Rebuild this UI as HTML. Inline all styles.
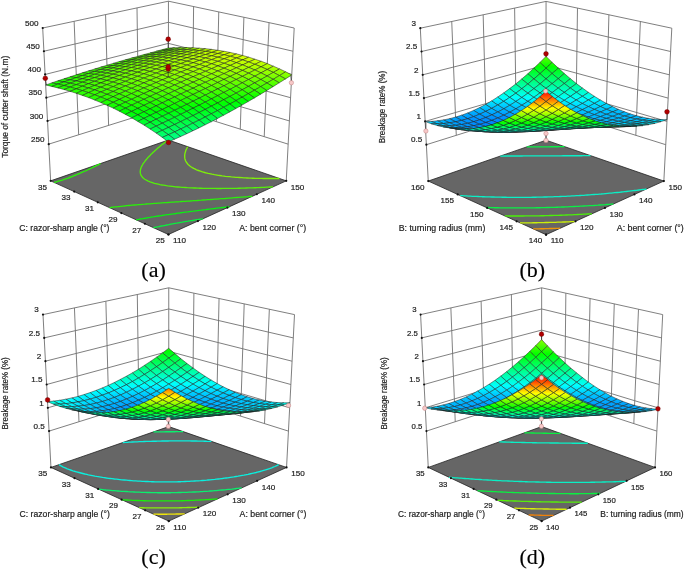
<!DOCTYPE html><html><head><meta charset="utf-8"><style>html,body{margin:0;padding:0;background:#fff;}svg{display:block;will-change:transform}</style></head><body>
<svg width="685" height="569" viewBox="0 0 685 569">
<rect width="685" height="569" fill="#fff"/>
<defs><linearGradient id="U" gradientUnits="userSpaceOnUse"/></defs>
<g>
<path d="M50.65 180.85L42.7 28M78.67 134.78L74.14 21.3M108.6 125.41L105.57 14.6M138.52 116.04L137.01 7.9M168.45 140L168.45 1.2M286.25 180.85L294.2 28M264.22 136.65L269.05 22.64M240.28 129.16L243.9 17.28M216.33 121.66L218.75 11.92M192.39 114.17L193.6 6.56M48.74 144.15L168.45 106.67L288.16 144.15M47.53 120.92L168.45 85.58L289.37 120.92M46.32 97.69L168.45 64.48L290.58 97.69M45.12 74.46L168.45 43.39L291.78 74.46M43.91 51.23L168.45 22.29L292.99 51.23M42.7 28L168.45 1.2L294.2 28" fill="none" stroke="#707070" stroke-width="0.9"/>
<path d="M168.45 234.5L286.25 180.85L168.45 140L50.65 180.85Z" fill="#666666" stroke="#222" stroke-width="0.8"/>
<path d="M153.4 227.7L154.8 227.4L157.4 226.8L158.8 226.6L161.5 226.0L162.9 225.8L165.3 225.3L167.0 225.0L168.7 224.7L171.1 224.2L172.5 223.9L175.3 223.4L176.7 223.2L178.6 222.8L180.9 222.4L182.3 222.2L185.0 221.7L186.6 221.4L188.1 221.2L190.9 220.7L192.4 220.5L194.3 220.1L196.7 219.7L198.2 219.5L200.3 219.1L202.6 218.8L203.2 218.7" stroke="#0aef3e" stroke-width="1.35" fill="none" stroke-linejoin="round"/>
<path d="M136.1 219.8L138.8 219.3L140.2 219.0L142.9 218.6L144.3 218.3L146.3 218.0L148.5 217.6L149.9 217.4L152.7 216.9L154.2 216.7L155.9 216.4L158.5 216.0L159.9 215.8L162.0 215.5L164.3 215.1L165.7 214.9L168.0 214.6L170.2 214.3L171.6 214.1L173.8 213.8L176.1 213.5L177.6 213.2L179.5 213.0L182.1 212.6L183.6 212.4L185.2 212.2L187.8 211.9L189.8 211.6L191.3 211.4L193.3 211.2L195.9 210.8L197.5 210.6L199.0 210.4L201.3 210.2L203.7 209.8L205.3 209.7L206.9 209.5L209.1 209.2L211.6 208.9L213.2 208.7L214.8 208.5L216.8 208.2L219.4 207.9L221.2 207.7L222.8 207.5L224.4 207.3L226.9 207.0L229.2 206.8L229.4 206.7" stroke="#0aef13" stroke-width="1.35" fill="none" stroke-linejoin="round"/>
<path d="M109.5 207.6L110.9 207.5L112.8 207.2L115.3 206.9L116.8 206.8L118.6 206.6L121.3 206.3L122.8 206.1L124.4 206.0L126.8 205.7L129.0 205.5L130.6 205.4L132.1 205.2L134.7 205.0L136.9 204.8L138.5 204.7L140.1 204.6L142.4 204.4L144.9 204.2L146.5 204.0L148.2 203.9L149.8 203.8L152.2 203.6L154.7 203.4L156.4 203.3L158.0 203.2L159.7 203.1L161.9 202.9L164.3 202.7L166.4 202.6L168.1 202.5L169.8 202.4L171.4 202.2L173.7 202.1L176.0 201.9L178.2 201.8L179.9 201.7L181.6 201.5L183.4 201.4L185.2 201.3L187.5 201.1L189.8 201.0L191.9 200.8L193.7 200.7L195.4 200.6L197.1 200.5L198.9 200.3L201.2 200.2L203.4 200.0L205.7 199.9L207.5 199.7L209.3 199.6L211.0 199.5L212.8 199.4L214.7 199.2L216.9 199.1L219.1 198.9L221.4 198.7L223.3 198.6L225.0 198.5L226.8 198.3L228.6 198.2L230.3 198.1L232.5 197.9L234.7 197.7L236.9 197.5L239.1 197.4L240.9 197.2L242.7 197.1L244.4 196.9L246.2 196.8L248.0 196.7L250.1 196.5L252.3 196.3M100.6 163.5L99.1 164.3L97.5 165.1L95.9 165.9L95.0 166.4L93.3 167.2L91.7 168.0L90.5 168.5L89.2 169.2L87.5 170.0L85.7 170.8L84.0 171.5L83.1 171.9L81.4 172.7L79.6 173.5L77.8 174.2L76.0 175.0L74.2 175.7L73.2 176.1L71.4 176.8L69.5 177.5L67.5 178.3L65.6 178.9L63.6 179.6L61.6 180.3L59.5 180.9L58.4 181.2L56.3 181.9L54.2 182.5" stroke="#2aef0a" stroke-width="1.35" fill="none" stroke-linejoin="round"/>
<path d="M167.5 140.3L166.9 140.8L165.9 141.6L165.1 142.2L164.4 142.8L163.3 143.7L162.7 144.1L161.5 145.1L160.9 145.6L159.9 146.4L159.1 147.1L158.4 147.6L157.4 148.5L156.8 149.0L155.7 150.0L155.1 150.5L154.4 151.2L153.5 152.0L152.9 152.6L152.0 153.5L151.3 154.1L150.8 154.6L149.8 155.7L149.2 156.2L148.7 156.8L147.7 157.8L147.3 158.4L146.7 159.0L145.9 160.0L145.4 160.6L145.0 161.1L144.3 162.1L143.7 162.9L143.3 163.4L142.9 164.0L142.4 165.0L141.9 165.9L141.6 166.5L141.3 167.1L141.0 167.8L140.8 168.6L140.5 169.4L140.4 170.2L140.3 171.0L140.2 171.8L140.3 172.5L140.4 173.2L140.5 173.9L140.8 174.6L141.1 175.4L141.8 176.4L142.3 177.1L142.9 177.7L144.1 178.7L144.8 179.2L146.4 180.2L148.2 181.1L150.1 181.9L152.3 182.6L154.5 183.3L155.7 183.6L158.2 184.2L159.9 184.6L162.2 185.0L163.6 185.2L166.4 185.7L167.8 185.9L169.6 186.1L172.3 186.4L173.9 186.6L175.4 186.8L177.7 187.0L180.2 187.2L181.9 187.3L183.5 187.4L185.2 187.5L187.4 187.7L189.8 187.8L192.0 187.9L193.7 188.0L195.4 188.0L197.2 188.1L198.9 188.2L201.0 188.2L203.2 188.3L205.4 188.3L207.5 188.4L209.6 188.4L211.5 188.4L213.4 188.4L215.2 188.4L217.1 188.5L218.9 188.5L220.8 188.5L222.6 188.4L224.5 188.4L226.4 188.4L228.4 188.4L230.4 188.4L232.4 188.3L234.5 188.3L236.5 188.3L238.5 188.2L240.5 188.2L242.5 188.1L244.5 188.1L246.5 188.0L248.5 187.9L250.5 187.9L252.4 187.8L254.4 187.7L256.4 187.7L258.4 187.6L260.3 187.5L262.3 187.4L264.3 187.3L266.2 187.2L268.2 187.1L270.1 187.0L272.1 186.9L273.0 186.9" stroke="#55ef0a" stroke-width="1.35" fill="none" stroke-linejoin="round"/>
<path d="M187.7 146.7L187.4 147.3L187.0 147.9L186.6 148.8L186.2 149.6L185.9 150.3L185.7 150.9L185.5 151.5L185.3 152.2L185.1 152.9L184.9 153.6L184.8 154.4L184.7 155.1L184.7 155.9L184.7 156.6L184.7 157.3L184.8 158.0L184.9 158.7L185.1 159.4L185.3 160.1L185.7 161.0L186.2 161.9L186.5 162.5L187.0 163.0L187.7 164.0L188.4 164.7L189.0 165.2L190.2 166.2L190.9 166.7L192.3 167.6L193.7 168.4L194.8 168.9L196.5 169.8L198.4 170.5L200.4 171.2L202.5 171.9L204.7 172.5L205.8 172.8L208.2 173.4L210.6 173.9L211.9 174.2L214.4 174.7L215.7 174.9L218.4 175.3L219.8 175.5L222.1 175.9L224.0 176.1L225.4 176.3L228.3 176.6L229.8 176.7L231.3 176.9L234.0 177.1L235.8 177.3L237.4 177.4L239.4 177.5L242.0 177.7L243.7 177.8L245.3 177.9L247.1 178.0L249.6 178.1L251.8 178.2L253.5 178.2L255.1 178.3L256.8 178.3L259.1 178.4L261.5 178.4L263.6 178.5L265.3 178.5L267.0 178.5L268.8 178.5L270.6 178.5L272.8 178.5L275.1 178.5L277.3 178.5L279.3 178.5L279.5 178.5" stroke="#7fef0a" stroke-width="1.35" fill="none" stroke-linejoin="round"/>
<g fill="#111"><circle cx="48.74" cy="144.15" r="1.1"/><circle cx="47.53" cy="120.92" r="1.1"/><circle cx="46.32" cy="97.69" r="1.1"/><circle cx="45.12" cy="74.46" r="1.1"/><circle cx="43.91" cy="51.23" r="1.1"/><circle cx="42.7" cy="28" r="1.1"/><circle cx="168.45" cy="234.5" r="1.1"/><circle cx="197.9" cy="221.09" r="1.1"/><circle cx="227.35" cy="207.68" r="1.1"/><circle cx="256.8" cy="194.26" r="1.1"/><circle cx="286.25" cy="180.85" r="1.1"/><circle cx="168.45" cy="234.5" r="1.1"/><circle cx="144.89" cy="223.77" r="1.1"/><circle cx="121.33" cy="213.04" r="1.1"/><circle cx="97.77" cy="202.31" r="1.1"/><circle cx="74.21" cy="191.58" r="1.1"/><circle cx="50.65" cy="180.85" r="1.1"/></g>
<defs><linearGradient id="g0" href="#U" x1="168.1" y1="48.1" x2="168.5" y2="49.4"><stop stop-color="#4dff00"/><stop offset="1" stop-color="#65ff00"/></linearGradient><linearGradient id="g1" href="#U" x1="161.9" y1="49.7" x2="162.3" y2="51.1"><stop stop-color="#4cff00"/><stop offset="1" stop-color="#64ff00"/></linearGradient><linearGradient id="g2" href="#U" x1="174.2" y1="47.8" x2="174.6" y2="49.4"><stop stop-color="#64ff00"/><stop offset="1" stop-color="#7aff00"/></linearGradient><linearGradient id="g3" href="#U" x1="155.7" y1="51.3" x2="156.2" y2="52.8"><stop stop-color="#4bff00"/><stop offset="1" stop-color="#63ff00"/></linearGradient><linearGradient id="g4" href="#U" x1="168.0" y1="49.4" x2="168.5" y2="51.1"><stop stop-color="#63ff00"/><stop offset="1" stop-color="#79ff00"/></linearGradient><linearGradient id="g5" href="#U" x1="180.3" y1="47.6" x2="180.8" y2="49.5"><stop stop-color="#79ff00"/><stop offset="1" stop-color="#8dff00"/></linearGradient><linearGradient id="g6" href="#U" x1="149.5" y1="53.0" x2="150.0" y2="54.6"><stop stop-color="#49ff00"/><stop offset="1" stop-color="#61ff00"/></linearGradient><linearGradient id="g7" href="#U" x1="161.8" y1="51.1" x2="162.3" y2="52.9"><stop stop-color="#61ff00"/><stop offset="1" stop-color="#77ff00"/></linearGradient><linearGradient id="g8" href="#U" x1="174.0" y1="49.3" x2="174.7" y2="51.3"><stop stop-color="#77ff00"/><stop offset="1" stop-color="#8cff00"/></linearGradient><linearGradient id="g9" href="#U" x1="186.3" y1="47.6" x2="187.0" y2="49.8"><stop stop-color="#8bff00"/><stop offset="1" stop-color="#9eff00"/></linearGradient><linearGradient id="g10" href="#U" x1="143.3" y1="54.6" x2="143.9" y2="56.4"><stop stop-color="#48ff00"/><stop offset="1" stop-color="#60ff00"/></linearGradient><linearGradient id="g11" href="#U" x1="155.5" y1="52.7" x2="156.2" y2="54.7"><stop stop-color="#60ff00"/><stop offset="1" stop-color="#75ff00"/></linearGradient><linearGradient id="g12" href="#U" x1="167.8" y1="51.0" x2="168.5" y2="53.2"><stop stop-color="#75ff00"/><stop offset="1" stop-color="#8aff00"/></linearGradient><linearGradient id="g13" href="#U" x1="180.0" y1="49.3" x2="180.9" y2="51.7"><stop stop-color="#8aff00"/><stop offset="1" stop-color="#9cff00"/></linearGradient><linearGradient id="g14" href="#U" x1="192.3" y1="47.7" x2="193.3" y2="50.4"><stop stop-color="#9cff00"/><stop offset="1" stop-color="#adff00"/></linearGradient><linearGradient id="g15" href="#U" x1="137.1" y1="56.3" x2="137.7" y2="58.2"><stop stop-color="#46ff00"/><stop offset="1" stop-color="#5dff00"/></linearGradient><linearGradient id="g16" href="#U" x1="149.3" y1="54.5" x2="150.0" y2="56.6"><stop stop-color="#5dff00"/><stop offset="1" stop-color="#73ff00"/></linearGradient><linearGradient id="g17" href="#U" x1="161.5" y1="52.7" x2="162.4" y2="55.1"><stop stop-color="#73ff00"/><stop offset="1" stop-color="#87ff00"/></linearGradient><linearGradient id="g18" href="#U" x1="173.8" y1="51.0" x2="174.8" y2="53.7"><stop stop-color="#87ff00"/><stop offset="1" stop-color="#99ff00"/></linearGradient><linearGradient id="g19" href="#U" x1="186.0" y1="49.4" x2="187.2" y2="52.4"><stop stop-color="#99ff00"/><stop offset="1" stop-color="#aaff00"/></linearGradient><linearGradient id="g20" href="#U" x1="198.1" y1="47.9" x2="199.6" y2="51.3"><stop stop-color="#aaff00"/><stop offset="1" stop-color="#b9ff00"/></linearGradient><linearGradient id="g21" href="#U" x1="130.9" y1="58.0" x2="131.6" y2="60.1"><stop stop-color="#44ff00"/><stop offset="1" stop-color="#5bff00"/></linearGradient><linearGradient id="g22" href="#U" x1="143.1" y1="56.2" x2="143.9" y2="58.5"><stop stop-color="#5bff00"/><stop offset="1" stop-color="#71ff00"/></linearGradient><linearGradient id="g23" href="#U" x1="155.3" y1="54.4" x2="156.3" y2="57.1"><stop stop-color="#71ff00"/><stop offset="1" stop-color="#84ff00"/></linearGradient><linearGradient id="g24" href="#U" x1="167.5" y1="52.8" x2="168.6" y2="55.7"><stop stop-color="#84ff00"/><stop offset="1" stop-color="#97ff00"/></linearGradient><linearGradient id="g25" href="#U" x1="179.6" y1="51.2" x2="181.1" y2="54.5"><stop stop-color="#97ff00"/><stop offset="1" stop-color="#a7ff00"/></linearGradient><linearGradient id="g26" href="#U" x1="191.7" y1="49.6" x2="193.6" y2="53.5"><stop stop-color="#a7ff00"/><stop offset="1" stop-color="#b6ff00"/></linearGradient><linearGradient id="g27" href="#U" x1="203.6" y1="48.1" x2="206.2" y2="52.6"><stop stop-color="#b6ff00"/><stop offset="1" stop-color="#c4ff00"/></linearGradient><linearGradient id="g28" href="#U" x1="124.7" y1="59.8" x2="125.4" y2="62.0"><stop stop-color="#41ff00"/><stop offset="1" stop-color="#58ff00"/></linearGradient><linearGradient id="g29" href="#U" x1="136.8" y1="57.9" x2="137.8" y2="60.5"><stop stop-color="#58ff00"/><stop offset="1" stop-color="#6eff00"/></linearGradient><linearGradient id="g30" href="#U" x1="149.0" y1="56.2" x2="150.1" y2="59.1"><stop stop-color="#6eff00"/><stop offset="1" stop-color="#81ff00"/></linearGradient><linearGradient id="g31" href="#U" x1="161.1" y1="54.5" x2="162.5" y2="57.8"><stop stop-color="#81ff00"/><stop offset="1" stop-color="#93ff00"/></linearGradient><linearGradient id="g32" href="#U" x1="173.2" y1="53.0" x2="175.0" y2="56.7"><stop stop-color="#93ff00"/><stop offset="1" stop-color="#a3ff00"/></linearGradient><linearGradient id="g33" href="#U" x1="185.2" y1="51.4" x2="187.6" y2="55.8"><stop stop-color="#a3ff00"/><stop offset="1" stop-color="#b2ff00"/></linearGradient><linearGradient id="g34" href="#U" x1="196.9" y1="50.0" x2="200.4" y2="55.0"><stop stop-color="#b2ff00"/><stop offset="1" stop-color="#bfff00"/></linearGradient><linearGradient id="g35" href="#U" x1="118.5" y1="61.5" x2="119.3" y2="63.9"><stop stop-color="#3eff00"/><stop offset="1" stop-color="#55ff00"/></linearGradient><linearGradient id="g36" href="#U" x1="130.6" y1="59.7" x2="131.7" y2="62.5"><stop stop-color="#55ff00"/><stop offset="1" stop-color="#6aff00"/></linearGradient><linearGradient id="g37" href="#U" x1="142.7" y1="58.0" x2="144.0" y2="61.1"><stop stop-color="#6aff00"/><stop offset="1" stop-color="#7eff00"/></linearGradient><linearGradient id="g38" href="#U" x1="154.8" y1="56.3" x2="156.5" y2="60.0"><stop stop-color="#7eff00"/><stop offset="1" stop-color="#8fff00"/></linearGradient><linearGradient id="g39" href="#U" x1="166.8" y1="54.8" x2="169.0" y2="58.9"><stop stop-color="#8fff00"/><stop offset="1" stop-color="#9fff00"/></linearGradient><linearGradient id="g40" href="#U" x1="178.5" y1="53.3" x2="181.7" y2="58.1"><stop stop-color="#9fff00"/><stop offset="1" stop-color="#aeff00"/></linearGradient><linearGradient id="g41" href="#U" x1="112.2" y1="63.3" x2="113.2" y2="65.9"><stop stop-color="#3bff00"/><stop offset="1" stop-color="#52ff00"/></linearGradient><linearGradient id="g42" href="#U" x1="124.3" y1="61.5" x2="125.6" y2="64.5"><stop stop-color="#52ff00"/><stop offset="1" stop-color="#67ff00"/></linearGradient><linearGradient id="g43" href="#U" x1="136.4" y1="59.8" x2="138.0" y2="63.3"><stop stop-color="#67ff00"/><stop offset="1" stop-color="#7aff00"/></linearGradient><linearGradient id="g44" href="#U" x1="148.4" y1="58.2" x2="150.4" y2="62.2"><stop stop-color="#7aff00"/><stop offset="1" stop-color="#8bff00"/></linearGradient><linearGradient id="g45" href="#U" x1="160.2" y1="56.6" x2="163.1" y2="61.2"><stop stop-color="#8bff00"/><stop offset="1" stop-color="#9bff00"/></linearGradient><linearGradient id="g46" href="#U" x1="171.8" y1="55.2" x2="176.0" y2="60.5"><stop stop-color="#9bff00"/><stop offset="1" stop-color="#a9ff00"/></linearGradient><linearGradient id="g47" href="#U" x1="106.0" y1="65.1" x2="107.1" y2="67.9"><stop stop-color="#38ff00"/><stop offset="1" stop-color="#4eff00"/></linearGradient><linearGradient id="g48" href="#U" x1="118.0" y1="63.3" x2="119.5" y2="66.6"><stop stop-color="#4eff00"/><stop offset="1" stop-color="#62ff00"/></linearGradient><linearGradient id="g49" href="#U" x1="130.0" y1="61.7" x2="131.9" y2="65.5"><stop stop-color="#63ff00"/><stop offset="1" stop-color="#75ff00"/></linearGradient><linearGradient id="g50" href="#U" x1="141.9" y1="60.1" x2="144.5" y2="64.4"><stop stop-color="#75ff00"/><stop offset="1" stop-color="#87ff00"/></linearGradient><linearGradient id="g51" href="#U" x1="153.6" y1="58.6" x2="157.3" y2="63.6"><stop stop-color="#87ff00"/><stop offset="1" stop-color="#96ff00"/></linearGradient><linearGradient id="g52" href="#U" x1="164.8" y1="57.4" x2="170.6" y2="63.0"><stop stop-color="#96ff00"/><stop offset="1" stop-color="#a4ff00"/></linearGradient><linearGradient id="g53" href="#U" x1="99.7" y1="66.9" x2="101.0" y2="70.0"><stop stop-color="#35ff00"/><stop offset="1" stop-color="#4aff00"/></linearGradient><linearGradient id="g54" href="#U" x1="111.7" y1="65.2" x2="113.4" y2="68.8"><stop stop-color="#4aff00"/><stop offset="1" stop-color="#5eff00"/></linearGradient><linearGradient id="g55" href="#U" x1="123.6" y1="63.5" x2="125.9" y2="67.7"><stop stop-color="#5eff00"/><stop offset="1" stop-color="#71ff00"/></linearGradient><linearGradient id="g56" href="#U" x1="135.3" y1="62.0" x2="138.6" y2="66.8"><stop stop-color="#71ff00"/><stop offset="1" stop-color="#82ff00"/></linearGradient><linearGradient id="g57" href="#U" x1="146.8" y1="60.6" x2="151.6" y2="66.1"><stop stop-color="#82ff00"/><stop offset="1" stop-color="#91ff00"/></linearGradient><linearGradient id="g58" href="#U" x1="157.6" y1="59.9" x2="165.5" y2="65.3"><stop stop-color="#91ff00"/><stop offset="1" stop-color="#9fff00"/></linearGradient><linearGradient id="g59" href="#U" x1="93.4" y1="68.7" x2="94.9" y2="72.1"><stop stop-color="#31ff00"/><stop offset="1" stop-color="#46ff00"/></linearGradient><linearGradient id="g60" href="#U" x1="105.3" y1="67.1" x2="107.4" y2="71.0"><stop stop-color="#46ff00"/><stop offset="1" stop-color="#59ff00"/></linearGradient><linearGradient id="g61" href="#U" x1="117.1" y1="65.5" x2="120.0" y2="70.0"><stop stop-color="#59ff00"/><stop offset="1" stop-color="#6cff00"/></linearGradient><linearGradient id="g62" href="#U" x1="128.7" y1="64.0" x2="132.8" y2="69.2"><stop stop-color="#6cff00"/><stop offset="1" stop-color="#7cff00"/></linearGradient><linearGradient id="g63" href="#U" x1="139.8" y1="62.9" x2="146.2" y2="68.5"><stop stop-color="#7cff00"/><stop offset="1" stop-color="#8bff00"/></linearGradient><linearGradient id="g64" href="#U" x1="87.0" y1="70.5" x2="88.9" y2="74.3"><stop stop-color="#2dff00"/><stop offset="1" stop-color="#41ff00"/></linearGradient><linearGradient id="g65" href="#U" x1="242.6" y1="59.9" x2="243.1" y2="55.5"><stop stop-color="#c9ff00"/><stop offset="1" stop-color="#d7ff00"/></linearGradient><linearGradient id="g66" href="#U" x1="98.9" y1="69.0" x2="101.4" y2="73.3"><stop stop-color="#41ff00"/><stop offset="1" stop-color="#54ff00"/></linearGradient><linearGradient id="g67" href="#U" x1="110.5" y1="67.5" x2="114.2" y2="72.4"><stop stop-color="#54ff00"/><stop offset="1" stop-color="#66ff00"/></linearGradient><linearGradient id="g68" href="#U" x1="121.8" y1="66.2" x2="127.2" y2="71.7"><stop stop-color="#66ff00"/><stop offset="1" stop-color="#76ff00"/></linearGradient><linearGradient id="g69" href="#U" x1="132.7" y1="65.6" x2="141.1" y2="70.7"><stop stop-color="#76ff00"/><stop offset="1" stop-color="#85ff00"/></linearGradient><linearGradient id="g70" href="#U" x1="80.6" y1="72.4" x2="82.9" y2="76.6"><stop stop-color="#28ff00"/><stop offset="1" stop-color="#3cff00"/></linearGradient><linearGradient id="g71" href="#U" x1="236.4" y1="62.7" x2="236.8" y2="58.1"><stop stop-color="#beff00"/><stop offset="1" stop-color="#cdff00"/></linearGradient><linearGradient id="g72" href="#U" x1="248.8" y1="62.0" x2="249.1" y2="57.2"><stop stop-color="#c3ff00"/><stop offset="1" stop-color="#d4ff00"/></linearGradient><linearGradient id="g73" href="#U" x1="92.3" y1="70.9" x2="95.6" y2="75.7"><stop stop-color="#3cff00"/><stop offset="1" stop-color="#4eff00"/></linearGradient><linearGradient id="g74" href="#U" x1="103.8" y1="69.5" x2="108.5" y2="74.9"><stop stop-color="#4eff00"/><stop offset="1" stop-color="#60ff00"/></linearGradient><linearGradient id="g75" href="#U" x1="114.8" y1="68.6" x2="121.9" y2="74.1"><stop stop-color="#60ff00"/><stop offset="1" stop-color="#70ff00"/></linearGradient><linearGradient id="g76" href="#U" x1="125.6" y1="68.8" x2="136.3" y2="72.5"><stop stop-color="#70ff00"/><stop offset="1" stop-color="#7fff00"/></linearGradient><linearGradient id="g77" href="#U" x1="217.9" y1="65.9" x2="218.2" y2="61.3"><stop stop-color="#b0ff00"/><stop offset="1" stop-color="#beff00"/></linearGradient><linearGradient id="g78" href="#U" x1="74.2" y1="74.3" x2="77.0" y2="78.9"><stop stop-color="#24ff00"/><stop offset="1" stop-color="#36ff00"/></linearGradient><linearGradient id="g79" href="#U" x1="230.2" y1="65.4" x2="230.5" y2="60.7"><stop stop-color="#b4ff00"/><stop offset="1" stop-color="#c4ff00"/></linearGradient><linearGradient id="g80" href="#U" x1="242.6" y1="64.9" x2="242.8" y2="59.9"><stop stop-color="#b7ff00"/><stop offset="1" stop-color="#c9ff00"/></linearGradient><linearGradient id="g81" href="#U" x1="254.9" y1="64.3" x2="255.1" y2="59.2"><stop stop-color="#baff00"/><stop offset="1" stop-color="#cfff00"/></linearGradient><linearGradient id="g82" href="#U" x1="85.7" y1="72.9" x2="89.8" y2="78.1"><stop stop-color="#36ff00"/><stop offset="1" stop-color="#49ff00"/></linearGradient><linearGradient id="g83" href="#U" x1="96.9" y1="71.8" x2="103.0" y2="77.4"><stop stop-color="#49ff00"/><stop offset="1" stop-color="#5aff00"/></linearGradient><linearGradient id="g84" href="#U" x1="107.8" y1="71.4" x2="116.9" y2="76.3"><stop stop-color="#5aff00"/><stop offset="1" stop-color="#6aff00"/></linearGradient><linearGradient id="g85" href="#U" x1="119.1" y1="72.7" x2="131.2" y2="73.7"><stop stop-color="#6aff00"/><stop offset="1" stop-color="#78ff00"/></linearGradient><linearGradient id="g86" href="#U" x1="211.7" y1="68.6" x2="211.9" y2="63.9"><stop stop-color="#a6ff00"/><stop offset="1" stop-color="#b5ff00"/></linearGradient><linearGradient id="g87" href="#U" x1="224.0" y1="68.2" x2="224.2" y2="63.3"><stop stop-color="#a9ff00"/><stop offset="1" stop-color="#baff00"/></linearGradient><linearGradient id="g88" href="#U" x1="67.5" y1="76.2" x2="71.2" y2="81.3"><stop stop-color="#1fff00"/><stop offset="1" stop-color="#31ff00"/></linearGradient><linearGradient id="g89" href="#U" x1="236.4" y1="67.8" x2="236.5" y2="62.7"><stop stop-color="#abff00"/><stop offset="1" stop-color="#beff00"/></linearGradient><linearGradient id="g90" href="#U" x1="248.7" y1="67.4" x2="248.8" y2="62.0"><stop stop-color="#adff00"/><stop offset="1" stop-color="#c3ff00"/></linearGradient><linearGradient id="g91" href="#U" x1="261.1" y1="66.8" x2="261.2" y2="61.3"><stop stop-color="#afff00"/><stop offset="1" stop-color="#c8ff00"/></linearGradient><linearGradient id="g92" href="#U" x1="78.9" y1="75.1" x2="84.3" y2="80.6"><stop stop-color="#31ff00"/><stop offset="1" stop-color="#42ff00"/></linearGradient><linearGradient id="g93" href="#U" x1="89.9" y1="74.4" x2="97.8" y2="79.7"><stop stop-color="#42ff00"/><stop offset="1" stop-color="#53ff00"/></linearGradient><linearGradient id="g94" href="#U" x1="100.9" y1="74.9" x2="112.0" y2="77.9"><stop stop-color="#53ff00"/><stop offset="1" stop-color="#62ff00"/></linearGradient><linearGradient id="g95" href="#U" x1="113.5" y1="76.6" x2="125.5" y2="74.3"><stop stop-color="#62ff00"/><stop offset="1" stop-color="#71ff00"/></linearGradient><linearGradient id="g96" href="#U" x1="205.5" y1="71.3" x2="205.7" y2="66.4"><stop stop-color="#9cff00"/><stop offset="1" stop-color="#acff00"/></linearGradient><linearGradient id="g97" href="#U" x1="217.8" y1="71.0" x2="217.9" y2="65.9"><stop stop-color="#9eff00"/><stop offset="1" stop-color="#b0ff00"/></linearGradient><linearGradient id="g98" href="#U" x1="230.2" y1="70.7" x2="230.2" y2="65.4"><stop stop-color="#9fff00"/><stop offset="1" stop-color="#b4ff00"/></linearGradient><linearGradient id="g99" href="#U" x1="242.5" y1="70.4" x2="242.5" y2="64.9"><stop stop-color="#9fff00"/><stop offset="1" stop-color="#b7ff00"/></linearGradient><linearGradient id="g100" href="#U" x1="254.9" y1="70.0" x2="254.9" y2="64.3"><stop stop-color="#a0ff00"/><stop offset="1" stop-color="#baff00"/></linearGradient><linearGradient id="g101" href="#U" x1="60.8" y1="78.3" x2="65.6" y2="83.8"><stop stop-color="#1aff00"/><stop offset="1" stop-color="#2bff00"/></linearGradient><linearGradient id="g102" href="#U" x1="267.2" y1="69.5" x2="267.2" y2="63.6"><stop stop-color="#a2ff00"/><stop offset="1" stop-color="#beff00"/></linearGradient><linearGradient id="g103" href="#U" x1="71.8" y1="77.6" x2="79.0" y2="83.1"><stop stop-color="#2bff00"/><stop offset="1" stop-color="#3cff00"/></linearGradient><linearGradient id="g104" href="#U" x1="82.8" y1="77.6" x2="92.9" y2="81.7"><stop stop-color="#3cff00"/><stop offset="1" stop-color="#4cff00"/></linearGradient><linearGradient id="g105" href="#U" x1="94.6" y1="78.8" x2="106.9" y2="78.9"><stop stop-color="#4cff00"/><stop offset="1" stop-color="#5bff00"/></linearGradient><linearGradient id="g106" href="#U" x1="108.5" y1="80.0" x2="119.0" y2="75.2"><stop stop-color="#5bff00"/><stop offset="1" stop-color="#69ff00"/></linearGradient><linearGradient id="g107" href="#U" x1="187.0" y1="74.2" x2="187.3" y2="69.5"><stop stop-color="#90ff00"/><stop offset="1" stop-color="#9fff00"/></linearGradient><linearGradient id="g108" href="#U" x1="199.3" y1="74.0" x2="199.5" y2="69.0"><stop stop-color="#92ff00"/><stop offset="1" stop-color="#a3ff00"/></linearGradient><linearGradient id="g109" href="#U" x1="211.6" y1="73.8" x2="211.7" y2="68.6"><stop stop-color="#93ff00"/><stop offset="1" stop-color="#a6ff00"/></linearGradient><linearGradient id="g110" href="#U" x1="224.0" y1="73.6" x2="223.9" y2="68.2"><stop stop-color="#93ff00"/><stop offset="1" stop-color="#a9ff00"/></linearGradient><linearGradient id="g111" href="#U" x1="236.3" y1="73.4" x2="236.2" y2="67.8"><stop stop-color="#92ff00"/><stop offset="1" stop-color="#abff00"/></linearGradient><linearGradient id="g112" href="#U" x1="248.6" y1="73.2" x2="248.6" y2="67.4"><stop stop-color="#92ff00"/><stop offset="1" stop-color="#adff00"/></linearGradient><linearGradient id="g113" href="#U" x1="261.0" y1="72.9" x2="260.9" y2="66.8"><stop stop-color="#92ff00"/><stop offset="1" stop-color="#afff00"/></linearGradient><linearGradient id="g114" href="#U" x1="273.3" y1="72.4" x2="273.3" y2="66.2"><stop stop-color="#92ff00"/><stop offset="1" stop-color="#b3ff00"/></linearGradient><linearGradient id="g115" href="#U" x1="53.7" y1="80.6" x2="60.4" y2="86.2"><stop stop-color="#14ff00"/><stop offset="1" stop-color="#24ff00"/></linearGradient><linearGradient id="g116" href="#U" x1="64.7" y1="80.6" x2="74.2" y2="85.2"><stop stop-color="#24ff00"/><stop offset="1" stop-color="#34ff00"/></linearGradient><linearGradient id="g117" href="#U" x1="76.2" y1="81.4" x2="88.1" y2="83.0"><stop stop-color="#35ff00"/><stop offset="1" stop-color="#44ff00"/></linearGradient><linearGradient id="g118" href="#U" x1="89.2" y1="82.7" x2="100.9" y2="79.6"><stop stop-color="#44ff00"/><stop offset="1" stop-color="#53ff00"/></linearGradient><linearGradient id="g119" href="#U" x1="103.7" y1="82.8" x2="112.0" y2="76.6"><stop stop-color="#53ff00"/><stop offset="1" stop-color="#61ff00"/></linearGradient><linearGradient id="g120" href="#U" x1="180.8" y1="76.9" x2="181.1" y2="72.0"><stop stop-color="#86ff00"/><stop offset="1" stop-color="#96ff00"/></linearGradient><linearGradient id="g121" href="#U" x1="193.1" y1="76.7" x2="193.2" y2="71.6"><stop stop-color="#88ff00"/><stop offset="1" stop-color="#9aff00"/></linearGradient><linearGradient id="g122" href="#U" x1="254.8" y1="76.2" x2="254.6" y2="70.0"><stop stop-color="#81ff00"/><stop offset="1" stop-color="#a0ff00"/></linearGradient><linearGradient id="g123" href="#U" x1="267.1" y1="76.0" x2="266.9" y2="69.5"><stop stop-color="#80ff00"/><stop offset="1" stop-color="#a2ff00"/></linearGradient><linearGradient id="g124" href="#U" x1="242.4" y1="76.4" x2="242.3" y2="70.4"><stop stop-color="#83ff00"/><stop offset="1" stop-color="#9fff00"/></linearGradient><linearGradient id="g125" href="#U" x1="230.1" y1="76.4" x2="230.0" y2="70.7"><stop stop-color="#85ff00"/><stop offset="1" stop-color="#9fff00"/></linearGradient><linearGradient id="g126" href="#U" x1="205.4" y1="76.6" x2="205.5" y2="71.3"><stop stop-color="#88ff00"/><stop offset="1" stop-color="#9cff00"/></linearGradient><linearGradient id="g127" href="#U" x1="217.8" y1="76.5" x2="217.7" y2="71.0"><stop stop-color="#87ff00"/><stop offset="1" stop-color="#9eff00"/></linearGradient><linearGradient id="g128" href="#U" x1="279.4" y1="75.6" x2="279.3" y2="68.9"><stop stop-color="#81ff00"/><stop offset="1" stop-color="#a5ff00"/></linearGradient><linearGradient id="g129" href="#U" x1="46.4" y1="83.6" x2="55.6" y2="88.4"><stop stop-color="#0fff00"/><stop offset="1" stop-color="#1eff00"/></linearGradient><linearGradient id="g130" href="#U" x1="57.8" y1="84.4" x2="69.5" y2="86.5"><stop stop-color="#1eff00"/><stop offset="1" stop-color="#2dff00"/></linearGradient><linearGradient id="g131" href="#U" x1="70.5" y1="85.6" x2="82.6" y2="83.6"><stop stop-color="#2dff00"/><stop offset="1" stop-color="#3cff00"/></linearGradient><linearGradient id="g132" href="#U" x1="84.4" y1="86.0" x2="94.2" y2="80.6"><stop stop-color="#3cff00"/><stop offset="1" stop-color="#4bff00"/></linearGradient><linearGradient id="g133" href="#U" x1="273.2" y1="79.3" x2="273.0" y2="72.5"><stop stop-color="#6dff00"/><stop offset="1" stop-color="#92ff00"/></linearGradient><linearGradient id="g134" href="#U" x1="162.3" y1="79.9" x2="162.8" y2="75.1"><stop stop-color="#79ff00"/><stop offset="1" stop-color="#87ff00"/></linearGradient><linearGradient id="g135" href="#U" x1="260.9" y1="79.5" x2="260.6" y2="72.9"><stop stop-color="#6fff00"/><stop offset="1" stop-color="#91ff00"/></linearGradient><linearGradient id="g136" href="#U" x1="285.5" y1="78.9" x2="285.4" y2="71.8"><stop stop-color="#6dff00"/><stop offset="1" stop-color="#95ff00"/></linearGradient><linearGradient id="g137" href="#U" x1="248.6" y1="79.5" x2="248.3" y2="73.2"><stop stop-color="#72ff00"/><stop offset="1" stop-color="#92ff00"/></linearGradient><linearGradient id="g138" href="#U" x1="236.2" y1="79.5" x2="236.0" y2="73.4"><stop stop-color="#75ff00"/><stop offset="1" stop-color="#92ff00"/></linearGradient><linearGradient id="g139" href="#U" x1="174.6" y1="79.6" x2="174.9" y2="74.6"><stop stop-color="#7cff00"/><stop offset="1" stop-color="#8cff00"/></linearGradient><linearGradient id="g140" href="#U" x1="223.9" y1="79.4" x2="223.7" y2="73.6"><stop stop-color="#79ff00"/><stop offset="1" stop-color="#93ff00"/></linearGradient><linearGradient id="g141" href="#U" x1="186.9" y1="79.4" x2="187.0" y2="74.2"><stop stop-color="#7dff00"/><stop offset="1" stop-color="#90ff00"/></linearGradient><linearGradient id="g142" href="#U" x1="211.6" y1="79.4" x2="211.5" y2="73.8"><stop stop-color="#7bff00"/><stop offset="1" stop-color="#93ff00"/></linearGradient><linearGradient id="g143" href="#U" x1="199.3" y1="79.4" x2="199.2" y2="74.0"><stop stop-color="#7dff00"/><stop offset="1" stop-color="#92ff00"/></linearGradient><linearGradient id="g144" href="#U" x1="52.1" y1="88.7" x2="64.2" y2="87.0"><stop stop-color="#17ff00"/><stop offset="1" stop-color="#25ff00"/></linearGradient><linearGradient id="g145" href="#U" x1="65.7" y1="89.1" x2="76.1" y2="84.3"><stop stop-color="#25ff00"/><stop offset="1" stop-color="#34ff00"/></linearGradient><linearGradient id="g146" href="#U" x1="79.6" y1="88.6" x2="87.1" y2="82.2"><stop stop-color="#34ff00"/><stop offset="1" stop-color="#42ff00"/></linearGradient><linearGradient id="g147" href="#U" x1="279.2" y1="82.8" x2="279.0" y2="75.6"><stop stop-color="#57ff00"/><stop offset="1" stop-color="#81ff00"/></linearGradient><linearGradient id="g148" href="#U" x1="266.9" y1="83.0" x2="266.6" y2="76.0"><stop stop-color="#5aff00"/><stop offset="1" stop-color="#80ff00"/></linearGradient><linearGradient id="g149" href="#U" x1="254.6" y1="82.9" x2="254.3" y2="76.2"><stop stop-color="#5eff00"/><stop offset="1" stop-color="#81ff00"/></linearGradient><linearGradient id="g150" href="#U" x1="242.3" y1="82.8" x2="242.0" y2="76.4"><stop stop-color="#63ff00"/><stop offset="1" stop-color="#83ff00"/></linearGradient><linearGradient id="g151" href="#U" x1="156.1" y1="82.5" x2="156.6" y2="77.7"><stop stop-color="#6fff00"/><stop offset="1" stop-color="#7eff00"/></linearGradient><linearGradient id="g152" href="#U" x1="230.0" y1="82.6" x2="229.7" y2="76.4"><stop stop-color="#68ff00"/><stop offset="1" stop-color="#85ff00"/></linearGradient><linearGradient id="g153" href="#U" x1="217.7" y1="82.5" x2="217.5" y2="76.5"><stop stop-color="#6cff00"/><stop offset="1" stop-color="#87ff00"/></linearGradient><linearGradient id="g154" href="#U" x1="168.5" y1="82.3" x2="168.7" y2="77.2"><stop stop-color="#72ff00"/><stop offset="1" stop-color="#83ff00"/></linearGradient><linearGradient id="g155" href="#U" x1="205.4" y1="82.3" x2="205.2" y2="76.6"><stop stop-color="#70ff00"/><stop offset="1" stop-color="#88ff00"/></linearGradient><linearGradient id="g156" href="#U" x1="180.8" y1="82.2" x2="180.9" y2="76.9"><stop stop-color="#73ff00"/><stop offset="1" stop-color="#86ff00"/></linearGradient><linearGradient id="g157" href="#U" x1="193.1" y1="82.2" x2="193.0" y2="76.7"><stop stop-color="#72ff00"/><stop offset="1" stop-color="#88ff00"/></linearGradient><linearGradient id="g158" href="#U" x1="61.1" y1="91.9" x2="68.9" y2="85.6"><stop stop-color="#1dff00"/><stop offset="1" stop-color="#2bff00"/></linearGradient><linearGradient id="g159" href="#U" x1="74.5" y1="90.8" x2="80.1" y2="84.3"><stop stop-color="#2bff00"/><stop offset="1" stop-color="#39ff00"/></linearGradient><linearGradient id="g160" href="#U" x1="273.0" y1="86.7" x2="272.6" y2="79.3"><stop stop-color="#42ff00"/><stop offset="1" stop-color="#6dff00"/></linearGradient><linearGradient id="g161" href="#U" x1="260.7" y1="86.6" x2="260.3" y2="79.5"><stop stop-color="#48ff00"/><stop offset="1" stop-color="#6fff00"/></linearGradient><linearGradient id="g162" href="#U" x1="248.4" y1="86.4" x2="248.0" y2="79.6"><stop stop-color="#4eff00"/><stop offset="1" stop-color="#72ff00"/></linearGradient><linearGradient id="g163" href="#U" x1="236.2" y1="86.1" x2="235.7" y2="79.5"><stop stop-color="#54ff00"/><stop offset="1" stop-color="#75ff00"/></linearGradient><linearGradient id="g164" href="#U" x1="137.7" y1="85.6" x2="138.4" y2="80.8"><stop stop-color="#60ff00"/><stop offset="1" stop-color="#6eff00"/></linearGradient><linearGradient id="g165" href="#U" x1="223.9" y1="85.8" x2="223.5" y2="79.5"><stop stop-color="#5aff00"/><stop offset="1" stop-color="#79ff00"/></linearGradient><linearGradient id="g166" href="#U" x1="150.0" y1="85.3" x2="150.4" y2="80.3"><stop stop-color="#65ff00"/><stop offset="1" stop-color="#74ff00"/></linearGradient><linearGradient id="g167" href="#U" x1="211.6" y1="85.5" x2="211.2" y2="79.4"><stop stop-color="#60ff00"/><stop offset="1" stop-color="#7bff00"/></linearGradient><linearGradient id="g168" href="#U" x1="162.3" y1="85.1" x2="162.5" y2="79.9"><stop stop-color="#67ff00"/><stop offset="1" stop-color="#79ff00"/></linearGradient><linearGradient id="g169" href="#U" x1="199.2" y1="85.2" x2="199.0" y2="79.4"><stop stop-color="#64ff00"/><stop offset="1" stop-color="#7dff00"/></linearGradient><linearGradient id="g170" href="#U" x1="174.6" y1="85.0" x2="174.7" y2="79.6"><stop stop-color="#68ff00"/><stop offset="1" stop-color="#7cff00"/></linearGradient><linearGradient id="g171" href="#U" x1="186.9" y1="85.1" x2="186.8" y2="79.4"><stop stop-color="#67ff00"/><stop offset="1" stop-color="#7dff00"/></linearGradient><linearGradient id="g172" href="#U" x1="266.8" y1="90.5" x2="266.3" y2="83.0"><stop stop-color="#2fff00"/><stop offset="1" stop-color="#5aff00"/></linearGradient><linearGradient id="g173" href="#U" x1="254.5" y1="90.2" x2="254.0" y2="83.0"><stop stop-color="#36ff00"/><stop offset="1" stop-color="#5eff00"/></linearGradient><linearGradient id="g174" href="#U" x1="242.2" y1="89.8" x2="241.7" y2="82.9"><stop stop-color="#3eff00"/><stop offset="1" stop-color="#63ff00"/></linearGradient><linearGradient id="g175" href="#U" x1="230.0" y1="89.3" x2="229.5" y2="82.7"><stop stop-color="#46ff00"/><stop offset="1" stop-color="#68ff00"/></linearGradient><linearGradient id="g176" href="#U" x1="131.5" y1="88.3" x2="132.2" y2="83.5"><stop stop-color="#55ff00"/><stop offset="1" stop-color="#64ff00"/></linearGradient><linearGradient id="g177" href="#U" x1="217.7" y1="88.9" x2="217.2" y2="82.5"><stop stop-color="#4dff00"/><stop offset="1" stop-color="#6cff00"/></linearGradient><linearGradient id="g178" href="#U" x1="205.4" y1="88.5" x2="205.0" y2="82.3"><stop stop-color="#53ff00"/><stop offset="1" stop-color="#70ff00"/></linearGradient><linearGradient id="g179" href="#U" x1="143.8" y1="88.0" x2="144.3" y2="82.9"><stop stop-color="#5aff00"/><stop offset="1" stop-color="#6aff00"/></linearGradient><linearGradient id="g180" href="#U" x1="193.1" y1="88.2" x2="192.8" y2="82.2"><stop stop-color="#58ff00"/><stop offset="1" stop-color="#72ff00"/></linearGradient><linearGradient id="g181" href="#U" x1="156.1" y1="87.8" x2="156.4" y2="82.5"><stop stop-color="#5dff00"/><stop offset="1" stop-color="#6fff00"/></linearGradient><linearGradient id="g182" href="#U" x1="180.8" y1="87.9" x2="180.7" y2="82.2"><stop stop-color="#5cff00"/><stop offset="1" stop-color="#73ff00"/></linearGradient><linearGradient id="g183" href="#U" x1="168.4" y1="87.8" x2="168.5" y2="82.3"><stop stop-color="#5dff00"/><stop offset="1" stop-color="#72ff00"/></linearGradient><linearGradient id="g184" href="#U" x1="260.6" y1="94.2" x2="260.0" y2="86.7"><stop stop-color="#1cff00"/><stop offset="1" stop-color="#48ff00"/></linearGradient><linearGradient id="g185" href="#U" x1="248.3" y1="93.7" x2="247.7" y2="86.4"><stop stop-color="#25ff00"/><stop offset="1" stop-color="#4eff00"/></linearGradient><linearGradient id="g186" href="#U" x1="236.1" y1="93.1" x2="235.5" y2="86.1"><stop stop-color="#2fff00"/><stop offset="1" stop-color="#54ff00"/></linearGradient><linearGradient id="g187" href="#U" x1="223.8" y1="92.5" x2="223.2" y2="85.8"><stop stop-color="#38ff00"/><stop offset="1" stop-color="#5aff00"/></linearGradient><linearGradient id="g188" href="#U" x1="211.5" y1="92.0" x2="211.0" y2="85.5"><stop stop-color="#40ff00"/><stop offset="1" stop-color="#60ff00"/></linearGradient><linearGradient id="g189" href="#U" x1="125.4" y1="91.1" x2="126.1" y2="86.1"><stop stop-color="#4aff00"/><stop offset="1" stop-color="#59ff00"/></linearGradient><linearGradient id="g190" href="#U" x1="199.2" y1="91.5" x2="198.8" y2="85.3"><stop stop-color="#47ff00"/><stop offset="1" stop-color="#64ff00"/></linearGradient><linearGradient id="g191" href="#U" x1="137.7" y1="90.8" x2="138.2" y2="85.6"><stop stop-color="#4fff00"/><stop offset="1" stop-color="#60ff00"/></linearGradient><linearGradient id="g192" href="#U" x1="186.9" y1="91.1" x2="186.6" y2="85.1"><stop stop-color="#4dff00"/><stop offset="1" stop-color="#67ff00"/></linearGradient><linearGradient id="g193" href="#U" x1="150.0" y1="90.7" x2="150.2" y2="85.3"><stop stop-color="#52ff00"/><stop offset="1" stop-color="#65ff00"/></linearGradient><linearGradient id="g194" href="#U" x1="174.6" y1="90.8" x2="174.5" y2="85.0"><stop stop-color="#50ff00"/><stop offset="1" stop-color="#68ff00"/></linearGradient><linearGradient id="g195" href="#U" x1="162.3" y1="90.7" x2="162.3" y2="85.1"><stop stop-color="#52ff00"/><stop offset="1" stop-color="#67ff00"/></linearGradient><linearGradient id="g196" href="#U" x1="254.4" y1="97.9" x2="253.7" y2="90.3"><stop stop-color="#0aff00"/><stop offset="1" stop-color="#36ff00"/></linearGradient><linearGradient id="g197" href="#U" x1="242.1" y1="97.2" x2="241.4" y2="89.9"><stop stop-color="#15ff00"/><stop offset="1" stop-color="#3eff00"/></linearGradient><linearGradient id="g198" href="#U" x1="229.9" y1="96.5" x2="229.2" y2="89.4"><stop stop-color="#20ff00"/><stop offset="1" stop-color="#46ff00"/></linearGradient><linearGradient id="g199" href="#U" x1="217.6" y1="95.7" x2="217.0" y2="88.9"><stop stop-color="#2bff00"/><stop offset="1" stop-color="#4dff00"/></linearGradient><linearGradient id="g200" href="#U" x1="107.0" y1="94.3" x2="107.9" y2="89.5"><stop stop-color="#38ff00"/><stop offset="1" stop-color="#47ff00"/></linearGradient><linearGradient id="g201" href="#U" x1="205.3" y1="95.1" x2="204.8" y2="88.5"><stop stop-color="#34ff00"/><stop offset="1" stop-color="#53ff00"/></linearGradient><linearGradient id="g202" href="#U" x1="119.2" y1="93.9" x2="120.0" y2="88.8"><stop stop-color="#3fff00"/><stop offset="1" stop-color="#4fff00"/></linearGradient><linearGradient id="g203" href="#U" x1="193.0" y1="94.5" x2="192.6" y2="88.2"><stop stop-color="#3bff00"/><stop offset="1" stop-color="#58ff00"/></linearGradient><linearGradient id="g204" href="#U" x1="131.5" y1="93.6" x2="132.0" y2="88.3"><stop stop-color="#44ff00"/><stop offset="1" stop-color="#55ff00"/></linearGradient><linearGradient id="g205" href="#U" x1="180.8" y1="94.0" x2="180.5" y2="87.9"><stop stop-color="#41ff00"/><stop offset="1" stop-color="#5cff00"/></linearGradient><linearGradient id="g206" href="#U" x1="143.8" y1="93.5" x2="144.1" y2="88.0"><stop stop-color="#46ff00"/><stop offset="1" stop-color="#5aff00"/></linearGradient><linearGradient id="g207" href="#U" x1="168.4" y1="93.7" x2="168.3" y2="87.8"><stop stop-color="#45ff00"/><stop offset="1" stop-color="#5dff00"/></linearGradient><linearGradient id="g208" href="#U" x1="156.1" y1="93.5" x2="156.2" y2="87.8"><stop stop-color="#47ff00"/><stop offset="1" stop-color="#5dff00"/></linearGradient><linearGradient id="g209" href="#U" x1="248.2" y1="101.5" x2="247.4" y2="93.8"><stop stop-color="#00ff07"/><stop offset="0.15" stop-color="#00ff00"/><stop offset="1" stop-color="#25ff00"/></linearGradient><linearGradient id="g210" href="#U" x1="236.0" y1="100.6" x2="235.2" y2="93.2"><stop stop-color="#06ff00"/><stop offset="1" stop-color="#2fff00"/></linearGradient><linearGradient id="g211" href="#U" x1="223.7" y1="99.7" x2="223.0" y2="92.6"><stop stop-color="#12ff00"/><stop offset="1" stop-color="#38ff00"/></linearGradient><linearGradient id="g212" href="#U" x1="88.6" y1="97.6" x2="89.8" y2="92.9"><stop stop-color="#24ff00"/><stop offset="1" stop-color="#32ff00"/></linearGradient><linearGradient id="g213" href="#U" x1="211.4" y1="98.9" x2="210.8" y2="92.1"><stop stop-color="#1eff00"/><stop offset="1" stop-color="#40ff00"/></linearGradient><linearGradient id="g214" href="#U" x1="100.8" y1="97.1" x2="101.8" y2="92.2"><stop stop-color="#2dff00"/><stop offset="1" stop-color="#3bff00"/></linearGradient><linearGradient id="g215" href="#U" x1="199.2" y1="98.2" x2="198.6" y2="91.5"><stop stop-color="#27ff00"/><stop offset="1" stop-color="#47ff00"/></linearGradient><linearGradient id="g216" href="#U" x1="113.1" y1="96.7" x2="113.9" y2="91.6"><stop stop-color="#34ff00"/><stop offset="1" stop-color="#44ff00"/></linearGradient><linearGradient id="g217" href="#U" x1="186.9" y1="97.5" x2="186.5" y2="91.1"><stop stop-color="#30ff00"/><stop offset="1" stop-color="#4dff00"/></linearGradient><linearGradient id="g218" href="#U" x1="125.4" y1="96.5" x2="125.9" y2="91.1"><stop stop-color="#38ff00"/><stop offset="1" stop-color="#4aff00"/></linearGradient><linearGradient id="g219" href="#U" x1="174.6" y1="97.0" x2="174.3" y2="90.8"><stop stop-color="#36ff00"/><stop offset="1" stop-color="#50ff00"/></linearGradient><linearGradient id="g220" href="#U" x1="137.7" y1="96.4" x2="138.0" y2="90.8"><stop stop-color="#3bff00"/><stop offset="1" stop-color="#4fff00"/></linearGradient><linearGradient id="g221" href="#U" x1="162.3" y1="96.6" x2="162.2" y2="90.7"><stop stop-color="#3aff00"/><stop offset="1" stop-color="#52ff00"/></linearGradient><linearGradient id="g222" href="#U" x1="150.0" y1="96.4" x2="150.1" y2="90.7"><stop stop-color="#3cff00"/><stop offset="1" stop-color="#52ff00"/></linearGradient><linearGradient id="g223" href="#U" x1="242.0" y1="105.1" x2="241.1" y2="97.3"><stop stop-color="#00ff17"/><stop offset="0.52" stop-color="#00ff00"/><stop offset="1" stop-color="#15ff00"/></linearGradient><linearGradient id="g224" href="#U" x1="229.8" y1="104.0" x2="228.9" y2="96.6"><stop stop-color="#00ff08"/><stop offset="0.21" stop-color="#00ff00"/><stop offset="1" stop-color="#20ff00"/></linearGradient><linearGradient id="g225" href="#U" x1="217.5" y1="103.0" x2="216.8" y2="95.8"><stop stop-color="#05ff00"/><stop offset="1" stop-color="#2bff00"/></linearGradient><linearGradient id="g226" href="#U" x1="205.3" y1="102.1" x2="204.6" y2="95.2"><stop stop-color="#11ff00"/><stop offset="1" stop-color="#34ff00"/></linearGradient><linearGradient id="g227" href="#U" x1="94.7" y1="100.0" x2="95.7" y2="95.0"><stop stop-color="#21ff00"/><stop offset="1" stop-color="#30ff00"/></linearGradient><linearGradient id="g228" href="#U" x1="193.0" y1="101.2" x2="192.4" y2="94.6"><stop stop-color="#1cff00"/><stop offset="1" stop-color="#3bff00"/></linearGradient><linearGradient id="g229" href="#U" x1="107.0" y1="99.6" x2="107.8" y2="94.4"><stop stop-color="#28ff00"/><stop offset="1" stop-color="#38ff00"/></linearGradient><linearGradient id="g230" href="#U" x1="180.7" y1="100.5" x2="180.3" y2="94.1"><stop stop-color="#24ff00"/><stop offset="1" stop-color="#41ff00"/></linearGradient><linearGradient id="g231" href="#U" x1="119.3" y1="99.4" x2="119.8" y2="93.9"><stop stop-color="#2dff00"/><stop offset="1" stop-color="#3fff00"/></linearGradient><linearGradient id="g232" href="#U" x1="168.4" y1="99.9" x2="168.2" y2="93.7"><stop stop-color="#2aff00"/><stop offset="1" stop-color="#45ff00"/></linearGradient><linearGradient id="g233" href="#U" x1="131.6" y1="99.3" x2="131.9" y2="93.6"><stop stop-color="#30ff00"/><stop offset="1" stop-color="#44ff00"/></linearGradient><linearGradient id="g234" href="#U" x1="156.2" y1="99.5" x2="156.0" y2="93.5"><stop stop-color="#2eff00"/><stop offset="1" stop-color="#47ff00"/></linearGradient><linearGradient id="g235" href="#U" x1="143.9" y1="99.3" x2="143.9" y2="93.5"><stop stop-color="#30ff00"/><stop offset="1" stop-color="#46ff00"/></linearGradient><linearGradient id="g236" href="#U" x1="235.9" y1="108.5" x2="234.9" y2="100.8"><stop stop-color="#00ff26"/><stop offset="0.86" stop-color="#00ff00"/><stop offset="1" stop-color="#06ff00"/></linearGradient><linearGradient id="g237" href="#U" x1="223.6" y1="107.3" x2="222.7" y2="99.9"><stop stop-color="#00ff16"/><stop offset="0.55" stop-color="#00ff00"/><stop offset="1" stop-color="#12ff00"/></linearGradient><linearGradient id="g238" href="#U" x1="211.4" y1="106.2" x2="210.6" y2="99.0"><stop stop-color="#00ff08"/><stop offset="0.21" stop-color="#00ff00"/><stop offset="1" stop-color="#1eff00"/></linearGradient><linearGradient id="g239" href="#U" x1="199.1" y1="105.2" x2="198.4" y2="98.2"><stop stop-color="#05ff00"/><stop offset="1" stop-color="#27ff00"/></linearGradient><linearGradient id="g240" href="#U" x1="186.9" y1="104.3" x2="186.3" y2="97.6"><stop stop-color="#10ff00"/><stop offset="1" stop-color="#30ff00"/></linearGradient><linearGradient id="g241" href="#U" x1="100.9" y1="102.6" x2="101.7" y2="97.2"><stop stop-color="#1bff00"/><stop offset="1" stop-color="#2dff00"/></linearGradient><linearGradient id="g242" href="#U" x1="174.6" y1="103.5" x2="174.1" y2="97.0"><stop stop-color="#19ff00"/><stop offset="1" stop-color="#36ff00"/></linearGradient><linearGradient id="g243" href="#U" x1="113.2" y1="102.3" x2="113.7" y2="96.8"><stop stop-color="#21ff00"/><stop offset="1" stop-color="#33ff00"/></linearGradient><linearGradient id="g244" href="#U" x1="162.3" y1="102.9" x2="162.0" y2="96.6"><stop stop-color="#1fff00"/><stop offset="1" stop-color="#3aff00"/></linearGradient><linearGradient id="g245" href="#U" x1="125.4" y1="102.2" x2="125.8" y2="96.5"><stop stop-color="#24ff00"/><stop offset="1" stop-color="#38ff00"/></linearGradient><linearGradient id="g246" href="#U" x1="150.0" y1="102.5" x2="149.9" y2="96.4"><stop stop-color="#23ff00"/><stop offset="1" stop-color="#3cff00"/></linearGradient><linearGradient id="g247" href="#U" x1="137.7" y1="102.3" x2="137.8" y2="96.4"><stop stop-color="#25ff00"/><stop offset="1" stop-color="#3bff00"/></linearGradient><linearGradient id="g248" href="#U" x1="229.7" y1="111.9" x2="228.6" y2="104.2"><stop stop-color="#00ff34"/><stop offset="1" stop-color="#00ff08"/></linearGradient><linearGradient id="g249" href="#U" x1="217.5" y1="110.6" x2="216.5" y2="103.1"><stop stop-color="#00ff23"/><stop offset="0.88" stop-color="#00ff00"/><stop offset="1" stop-color="#05ff00"/></linearGradient><linearGradient id="g250" href="#U" x1="205.2" y1="109.4" x2="204.4" y2="102.2"><stop stop-color="#00ff14"/><stop offset="0.54" stop-color="#00ff00"/><stop offset="1" stop-color="#11ff00"/></linearGradient><linearGradient id="g251" href="#U" x1="193.0" y1="108.2" x2="192.2" y2="101.3"><stop stop-color="#00ff07"/><stop offset="0.19" stop-color="#00ff00"/><stop offset="1" stop-color="#1cff00"/></linearGradient><linearGradient id="g252" href="#U" x1="180.7" y1="107.3" x2="180.1" y2="100.6"><stop stop-color="#05ff00"/><stop offset="1" stop-color="#24ff00"/></linearGradient><linearGradient id="g253" href="#U" x1="168.4" y1="106.5" x2="168.0" y2="100.0"><stop stop-color="#0eff00"/><stop offset="1" stop-color="#2aff00"/></linearGradient><linearGradient id="g254" href="#U" x1="107.0" y1="105.3" x2="107.6" y2="99.7"><stop stop-color="#14ff00"/><stop offset="1" stop-color="#28ff00"/></linearGradient><linearGradient id="g255" href="#U" x1="156.2" y1="105.9" x2="155.9" y2="99.6"><stop stop-color="#14ff00"/><stop offset="1" stop-color="#2eff00"/></linearGradient><linearGradient id="g256" href="#U" x1="119.3" y1="105.2" x2="119.7" y2="99.4"><stop stop-color="#18ff00"/><stop offset="1" stop-color="#2dff00"/></linearGradient><linearGradient id="g257" href="#U" x1="143.9" y1="105.4" x2="143.8" y2="99.3"><stop stop-color="#18ff00"/><stop offset="1" stop-color="#30ff00"/></linearGradient><linearGradient id="g258" href="#U" x1="131.6" y1="105.2" x2="131.7" y2="99.3"><stop stop-color="#19ff00"/><stop offset="1" stop-color="#30ff00"/></linearGradient><linearGradient id="g259" href="#U" x1="223.5" y1="115.3" x2="222.4" y2="107.5"><stop stop-color="#00ff41"/><stop offset="1" stop-color="#00ff16"/></linearGradient><linearGradient id="g260" href="#U" x1="211.3" y1="113.8" x2="210.3" y2="106.4"><stop stop-color="#00ff2f"/><stop offset="1" stop-color="#00ff08"/></linearGradient><linearGradient id="g261" href="#U" x1="199.1" y1="112.5" x2="198.2" y2="105.3"><stop stop-color="#00ff1f"/><stop offset="0.86" stop-color="#00ff00"/><stop offset="1" stop-color="#05ff00"/></linearGradient><linearGradient id="g262" href="#U" x1="186.8" y1="111.3" x2="186.1" y2="104.3"><stop stop-color="#00ff12"/><stop offset="0.53" stop-color="#00ff00"/><stop offset="1" stop-color="#10ff00"/></linearGradient><linearGradient id="g263" href="#U" x1="174.6" y1="110.3" x2="174.0" y2="103.6"><stop stop-color="#00ff06"/><stop offset="0.20" stop-color="#00ff00"/><stop offset="1" stop-color="#19ff00"/></linearGradient><linearGradient id="g264" href="#U" x1="162.3" y1="109.5" x2="161.9" y2="102.9"><stop stop-color="#02ff00"/><stop offset="1" stop-color="#1fff00"/></linearGradient><linearGradient id="g265" href="#U" x1="150.0" y1="108.8" x2="149.8" y2="102.5"><stop stop-color="#09ff00"/><stop offset="1" stop-color="#23ff00"/></linearGradient><linearGradient id="g266" href="#U" x1="113.2" y1="108.1" x2="113.6" y2="102.3"><stop stop-color="#0cff00"/><stop offset="1" stop-color="#21ff00"/></linearGradient><linearGradient id="g267" href="#U" x1="137.8" y1="108.4" x2="137.7" y2="102.3"><stop stop-color="#0cff00"/><stop offset="1" stop-color="#25ff00"/></linearGradient><linearGradient id="g268" href="#U" x1="125.5" y1="108.2" x2="125.7" y2="102.2"><stop stop-color="#0dff00"/><stop offset="1" stop-color="#24ff00"/></linearGradient><linearGradient id="g269" href="#U" x1="217.4" y1="118.5" x2="216.2" y2="110.8"><stop stop-color="#00ff4d"/><stop offset="1" stop-color="#00ff23"/></linearGradient><linearGradient id="g270" href="#U" x1="205.2" y1="117.0" x2="204.1" y2="109.5"><stop stop-color="#00ff3b"/><stop offset="1" stop-color="#00ff14"/></linearGradient><linearGradient id="g271" href="#U" x1="193.0" y1="115.6" x2="192.0" y2="108.4"><stop stop-color="#00ff2a"/><stop offset="1" stop-color="#00ff07"/></linearGradient><linearGradient id="g272" href="#U" x1="180.7" y1="114.3" x2="179.9" y2="107.4"><stop stop-color="#00ff1c"/><stop offset="0.86" stop-color="#00ff00"/><stop offset="1" stop-color="#05ff00"/></linearGradient><linearGradient id="g273" href="#U" x1="168.5" y1="113.3" x2="167.8" y2="106.5"><stop stop-color="#00ff11"/><stop offset="0.56" stop-color="#00ff00"/><stop offset="1" stop-color="#0dff00"/></linearGradient><linearGradient id="g274" href="#U" x1="156.2" y1="112.4" x2="155.7" y2="105.9"><stop stop-color="#00ff08"/><stop offset="0.30" stop-color="#00ff00"/><stop offset="1" stop-color="#14ff00"/></linearGradient><linearGradient id="g275" href="#U" x1="143.9" y1="111.8" x2="143.7" y2="105.5"><stop stop-color="#00ff02"/><stop offset="0.09" stop-color="#00ff00"/><stop offset="1" stop-color="#18ff00"/></linearGradient><linearGradient id="g276" href="#U" x1="119.4" y1="111.2" x2="119.6" y2="105.2"><stop stop-color="#01ff00"/><stop offset="1" stop-color="#18ff00"/></linearGradient><linearGradient id="g277" href="#U" x1="131.6" y1="111.4" x2="131.6" y2="105.2"><stop stop-color="#01ff00"/><stop offset="1" stop-color="#19ff00"/></linearGradient><linearGradient id="g278" href="#U" x1="211.3" y1="121.7" x2="210.0" y2="114.0"><stop stop-color="#00ff59"/><stop offset="1" stop-color="#00ff2f"/></linearGradient><linearGradient id="g279" href="#U" x1="199.1" y1="120.1" x2="197.9" y2="112.7"><stop stop-color="#00ff46"/><stop offset="1" stop-color="#00ff20"/></linearGradient><linearGradient id="g280" href="#U" x1="186.8" y1="118.6" x2="185.8" y2="111.4"><stop stop-color="#00ff35"/><stop offset="1" stop-color="#00ff12"/></linearGradient><linearGradient id="g281" href="#U" x1="174.6" y1="117.3" x2="173.8" y2="110.4"><stop stop-color="#00ff27"/><stop offset="1" stop-color="#00ff06"/></linearGradient><linearGradient id="g282" href="#U" x1="162.3" y1="116.3" x2="161.7" y2="109.5"><stop stop-color="#00ff1b"/><stop offset="0.92" stop-color="#00ff00"/><stop offset="1" stop-color="#02ff00"/></linearGradient><linearGradient id="g283" href="#U" x1="150.1" y1="115.4" x2="149.6" y2="108.9"><stop stop-color="#00ff13"/><stop offset="0.69" stop-color="#00ff00"/><stop offset="1" stop-color="#09ff00"/></linearGradient><linearGradient id="g284" href="#U" x1="205.1" y1="124.8" x2="203.8" y2="117.2"><stop stop-color="#00ff63"/><stop offset="1" stop-color="#00ff3b"/></linearGradient><linearGradient id="g285" href="#U" x1="192.9" y1="123.1" x2="191.8" y2="115.8"><stop stop-color="#00ff50"/><stop offset="1" stop-color="#00ff2b"/></linearGradient><linearGradient id="g286" href="#U" x1="180.7" y1="121.6" x2="179.7" y2="114.5"><stop stop-color="#00ff3f"/><stop offset="1" stop-color="#00ff1d"/></linearGradient><linearGradient id="g287" href="#U" x1="168.4" y1="120.3" x2="167.6" y2="113.4"><stop stop-color="#00ff31"/><stop offset="1" stop-color="#00ff11"/></linearGradient><linearGradient id="g288" href="#U" x1="156.2" y1="119.2" x2="155.6" y2="112.5"><stop stop-color="#00ff26"/><stop offset="1" stop-color="#00ff08"/></linearGradient><linearGradient id="g289" href="#U" x1="143.9" y1="118.4" x2="143.5" y2="111.8"><stop stop-color="#00ff1e"/><stop offset="1" stop-color="#00ff02"/></linearGradient><linearGradient id="g290" href="#U" x1="131.7" y1="117.8" x2="131.5" y2="111.4"><stop stop-color="#00ff18"/><stop offset="0.97" stop-color="#00ff00"/><stop offset="1" stop-color="#01ff00"/></linearGradient><linearGradient id="g291" href="#U" x1="199.0" y1="127.9" x2="197.7" y2="120.3"><stop stop-color="#00ff6c"/><stop offset="1" stop-color="#00ff46"/></linearGradient><linearGradient id="g292" href="#U" x1="186.8" y1="126.1" x2="185.6" y2="118.8"><stop stop-color="#00ff59"/><stop offset="1" stop-color="#00ff35"/></linearGradient><linearGradient id="g293" href="#U" x1="174.6" y1="124.5" x2="173.6" y2="117.5"><stop stop-color="#00ff48"/><stop offset="1" stop-color="#00ff27"/></linearGradient><linearGradient id="g294" href="#U" x1="162.3" y1="123.2" x2="161.5" y2="116.4"><stop stop-color="#00ff3a"/><stop offset="1" stop-color="#00ff1c"/></linearGradient><linearGradient id="g295" href="#U" x1="150.1" y1="122.2" x2="149.5" y2="115.5"><stop stop-color="#00ff2f"/><stop offset="1" stop-color="#00ff13"/></linearGradient><linearGradient id="g296" href="#U" x1="137.8" y1="121.4" x2="137.5" y2="114.8"><stop stop-color="#00ff28"/><stop offset="1" stop-color="#00ff0e"/></linearGradient><linearGradient id="g297" href="#U" x1="192.9" y1="130.8" x2="191.5" y2="123.4"><stop stop-color="#00ff75"/><stop offset="1" stop-color="#00ff50"/></linearGradient><linearGradient id="g298" href="#U" x1="180.7" y1="129.0" x2="179.5" y2="121.8"><stop stop-color="#00ff61"/><stop offset="1" stop-color="#00ff3f"/></linearGradient><linearGradient id="g299" href="#U" x1="168.5" y1="127.4" x2="167.4" y2="120.4"><stop stop-color="#00ff51"/><stop offset="1" stop-color="#00ff31"/></linearGradient><linearGradient id="g300" href="#U" x1="156.2" y1="126.1" x2="155.4" y2="119.3"><stop stop-color="#00ff43"/><stop offset="1" stop-color="#00ff26"/></linearGradient><linearGradient id="g301" href="#U" x1="144.0" y1="125.1" x2="143.4" y2="118.4"><stop stop-color="#00ff39"/><stop offset="1" stop-color="#00ff1e"/></linearGradient><linearGradient id="g302" href="#U" x1="186.8" y1="133.7" x2="185.3" y2="126.4"><stop stop-color="#00ff7d"/><stop offset="1" stop-color="#00ff59"/></linearGradient><linearGradient id="g303" href="#U" x1="174.6" y1="131.9" x2="173.3" y2="124.8"><stop stop-color="#00ff69"/><stop offset="1" stop-color="#00ff48"/></linearGradient><linearGradient id="g304" href="#U" x1="162.3" y1="130.3" x2="161.3" y2="123.4"><stop stop-color="#00ff59"/><stop offset="1" stop-color="#00ff3a"/></linearGradient><linearGradient id="g305" href="#U" x1="150.1" y1="129.0" x2="149.3" y2="122.3"><stop stop-color="#00ff4c"/><stop offset="1" stop-color="#00ff2f"/></linearGradient><linearGradient id="g306" href="#U" x1="180.7" y1="136.5" x2="179.2" y2="129.3"><stop stop-color="#00ff83"/><stop offset="1" stop-color="#00ff61"/></linearGradient><linearGradient id="g307" href="#U" x1="168.4" y1="134.7" x2="167.2" y2="127.7"><stop stop-color="#00ff70"/><stop offset="1" stop-color="#00ff51"/></linearGradient><linearGradient id="g308" href="#U" x1="156.2" y1="133.1" x2="155.2" y2="126.3"><stop stop-color="#00ff60"/><stop offset="1" stop-color="#00ff43"/></linearGradient><linearGradient id="g309" href="#U" x1="174.6" y1="139.2" x2="173.1" y2="132.2"><stop stop-color="#00ff89"/><stop offset="1" stop-color="#00ff69"/></linearGradient><linearGradient id="g310" href="#U" x1="162.3" y1="137.4" x2="161.1" y2="130.5"><stop stop-color="#00ff76"/><stop offset="1" stop-color="#00ff59"/></linearGradient><linearGradient id="g311" href="#U" x1="168.4" y1="141.9" x2="166.9" y2="135.0"><stop stop-color="#00ff8e"/><stop offset="1" stop-color="#00ff70"/></linearGradient></defs><g stroke="#1c1c1c" stroke-width="0.5" stroke-linejoin="round"><path d="M168.4 49.4L174.6 47.7L168.4 48.0L162.3 49.6Z" fill="url(#g0)"/><path d="M162.3 51.1L168.4 49.4L162.3 49.6L156.1 51.3Z" fill="url(#g1)"/><path d="M174.6 49.3L180.8 47.6L174.6 47.7L168.4 49.4Z" fill="url(#g2)"/><path d="M156.1 52.8L162.3 51.1L156.1 51.3L150.0 53.0Z" fill="url(#g3)"/><path d="M168.4 51.0L174.6 49.3L168.4 49.4L162.3 51.1Z" fill="url(#g4)"/><path d="M180.8 49.4L187.0 47.6L180.8 47.6L174.6 49.3Z" fill="url(#g5)"/><path d="M150.0 54.5L156.1 52.8L150.0 53.0L143.8 54.6Z" fill="url(#g6)"/><path d="M162.3 52.8L168.4 51.0L162.3 51.1L156.1 52.8Z" fill="url(#g7)"/><path d="M174.6 51.2L180.8 49.4L174.6 49.3L168.4 51.0Z" fill="url(#g8)"/><path d="M187.0 49.6L193.1 47.8L187.0 47.6L180.8 49.4Z" fill="url(#g9)"/><path d="M143.8 56.3L150.0 54.5L143.8 54.6L137.7 56.4Z" fill="url(#g10)"/><path d="M156.1 54.6L162.3 52.8L156.1 52.8L150.0 54.5Z" fill="url(#g11)"/><path d="M168.4 53.0L174.6 51.2L168.4 51.0L162.3 52.8Z" fill="url(#g12)"/><path d="M180.8 51.5L187.0 49.6L180.8 49.4L174.6 51.2Z" fill="url(#g13)"/><path d="M193.1 50.1L199.3 48.2L193.1 47.8L187.0 49.6Z" fill="url(#g14)"/><path d="M137.7 58.1L143.8 56.3L137.7 56.4L131.5 58.1Z" fill="url(#g15)"/><path d="M150.0 56.4L156.1 54.6L150.0 54.5L143.8 56.3Z" fill="url(#g16)"/><path d="M162.3 54.8L168.4 53.0L162.3 52.8L156.1 54.6Z" fill="url(#g17)"/><path d="M174.6 53.3L180.8 51.5L174.6 51.2L168.4 53.0Z" fill="url(#g18)"/><path d="M187.0 52.0L193.1 50.1L187.0 49.6L180.8 51.5Z" fill="url(#g19)"/><path d="M199.3 50.6L205.5 48.7L199.3 48.2L193.1 50.1Z" fill="url(#g20)"/><path d="M131.5 59.9L137.7 58.1L131.5 58.1L125.4 59.8Z" fill="url(#g21)"/><path d="M143.8 58.3L150.0 56.4L143.8 56.3L137.7 58.1Z" fill="url(#g22)"/><path d="M156.1 56.7L162.3 54.8L156.1 54.6L150.0 56.4Z" fill="url(#g23)"/><path d="M168.4 55.3L174.6 53.3L168.4 53.0L162.3 54.8Z" fill="url(#g24)"/><path d="M180.8 53.9L187.0 52.0L180.8 51.5L174.6 53.3Z" fill="url(#g25)"/><path d="M193.2 52.6L199.3 50.6L193.1 50.1L187.0 52.0Z" fill="url(#g26)"/><path d="M205.5 51.4L211.7 49.4L205.5 48.7L199.3 50.6Z" fill="url(#g27)"/><path d="M125.4 61.7L131.5 59.9L125.4 59.8L119.2 61.6Z" fill="url(#g28)"/><path d="M137.7 60.1L143.8 58.3L137.7 58.1L131.5 59.9Z" fill="url(#g29)"/><path d="M150.0 58.6L156.1 56.7L150.0 56.4L143.8 58.3Z" fill="url(#g30)"/><path d="M162.3 57.2L168.4 55.3L162.3 54.8L156.1 56.7Z" fill="url(#g31)"/><path d="M174.6 55.9L180.8 53.9L174.6 53.3L168.4 55.3Z" fill="url(#g32)"/><path d="M187.0 54.6L193.2 52.6L187.0 52.0L180.8 53.9Z" fill="url(#g33)"/><path d="M199.3 53.5L205.5 51.4L199.3 50.6L193.2 52.6Z" fill="url(#g34)"/><path d="M211.7 52.4L217.9 50.3L211.7 49.4L205.5 51.4Z" fill="#c6ff00"/><path d="M119.2 63.6L125.4 61.7L119.2 61.6L113.1 63.4Z" fill="url(#g35)"/><path d="M131.5 62.1L137.7 60.1L131.5 59.9L125.4 61.7Z" fill="url(#g36)"/><path d="M143.8 60.6L150.0 58.6L143.8 58.3L137.7 60.1Z" fill="url(#g37)"/><path d="M156.1 59.2L162.3 57.2L156.1 56.7L150.0 58.6Z" fill="url(#g38)"/><path d="M168.4 57.9L174.6 55.9L168.4 55.3L162.3 57.2Z" fill="url(#g39)"/><path d="M180.8 56.7L187.0 54.6L180.8 53.9L174.6 55.9Z" fill="url(#g40)"/><path d="M193.2 55.6L199.3 53.5L193.2 52.6L187.0 54.6Z" fill="#b4ff00"/><path d="M205.5 54.5L211.7 52.4L205.5 51.4L199.3 53.5Z" fill="#c1ff00"/><path d="M217.9 53.5L224.1 51.3L217.9 50.3L211.7 52.4Z" fill="#ccff00"/><path d="M113.1 65.5L119.2 63.6L113.1 63.4L107.0 65.3Z" fill="url(#g41)"/><path d="M125.3 64.0L131.5 62.1L125.4 61.7L119.2 63.6Z" fill="url(#g42)"/><path d="M137.6 62.6L143.8 60.6L137.7 60.1L131.5 62.1Z" fill="url(#g43)"/><path d="M150.0 61.2L156.1 59.2L150.0 58.6L143.8 60.6Z" fill="url(#g44)"/><path d="M162.3 60.0L168.4 57.9L162.3 57.2L156.1 59.2Z" fill="url(#g45)"/><path d="M174.6 58.8L180.8 56.7L174.6 55.9L168.4 57.9Z" fill="url(#g46)"/><path d="M187.0 57.7L193.2 55.6L187.0 54.6L180.8 56.7Z" fill="#b0ff00"/><path d="M199.3 56.7L205.5 54.5L199.3 53.5L193.2 55.6Z" fill="#bcff00"/><path d="M211.7 55.8L217.9 53.5L211.7 52.4L205.5 54.5Z" fill="#c6ff00"/><path d="M106.9 67.5L113.1 65.5L107.0 65.3L100.8 67.1Z" fill="url(#g47)"/><path d="M224.1 54.8L230.3 52.5L224.1 51.3L217.9 53.5Z" fill="#d0ff00"/><path d="M119.2 66.0L125.3 64.0L119.2 63.6L113.1 65.5Z" fill="url(#g48)"/><path d="M131.5 64.6L137.6 62.6L131.5 62.1L125.3 64.0Z" fill="url(#g49)"/><path d="M143.8 63.3L150.0 61.2L143.8 60.6L137.6 62.6Z" fill="url(#g50)"/><path d="M156.1 62.1L162.3 60.0L156.1 59.2L150.0 61.2Z" fill="url(#g51)"/><path d="M168.4 60.9L174.6 58.8L168.4 57.9L162.3 60.0Z" fill="url(#g52)"/><path d="M180.8 59.9L187.0 57.7L180.8 56.7L174.6 58.8Z" fill="#aaff00"/><path d="M193.2 58.9L199.3 56.7L193.2 55.6L187.0 57.7Z" fill="#b6ff00"/><path d="M205.5 58.0L211.7 55.8L205.5 54.5L199.3 56.7Z" fill="#c0ff00"/><path d="M217.9 57.2L224.1 54.8L217.9 53.5L211.7 55.8Z" fill="#caff00"/><path d="M100.8 69.4L106.9 67.5L100.8 67.1L94.7 69.0Z" fill="url(#g53)"/><path d="M230.3 56.3L236.5 53.9L230.3 52.5L224.1 54.8Z" fill="#d3ff00"/><path d="M113.0 68.0L119.2 66.0L113.1 65.5L106.9 67.5Z" fill="url(#g54)"/><path d="M125.3 66.7L131.5 64.6L125.3 64.0L119.2 66.0Z" fill="url(#g55)"/><path d="M137.6 65.4L143.8 63.3L137.6 62.6L131.5 64.6Z" fill="url(#g56)"/><path d="M149.9 64.2L156.1 62.1L150.0 61.2L143.8 63.3Z" fill="url(#g57)"/><path d="M162.3 63.1L168.4 60.9L162.3 60.0L156.1 62.1Z" fill="url(#g58)"/><path d="M174.6 62.1L180.8 59.9L174.6 58.8L168.4 60.9Z" fill="#a5ff00"/><path d="M187.0 61.2L193.2 58.9L187.0 57.7L180.8 59.9Z" fill="#b0ff00"/><path d="M199.3 60.4L205.5 58.0L199.3 56.7L193.2 58.9Z" fill="#baff00"/><path d="M211.7 59.6L217.9 57.2L211.7 55.8L205.5 58.0Z" fill="#c3ff00"/><path d="M94.6 71.4L100.8 69.4L94.7 69.0L88.5 70.9Z" fill="url(#g59)"/><path d="M224.1 58.8L230.3 56.3L224.1 54.8L217.9 57.2Z" fill="#cbff00"/><path d="M236.5 58.0L242.7 55.5L236.5 53.9L230.3 56.3Z" fill="#d2ff00"/><path d="M106.9 70.1L113.0 68.0L106.9 67.5L100.8 69.4Z" fill="url(#g60)"/><path d="M119.2 68.8L125.3 66.7L119.2 66.0L113.0 68.0Z" fill="url(#g61)"/><path d="M131.5 67.5L137.6 65.4L131.5 64.6L125.3 66.7Z" fill="url(#g62)"/><path d="M143.8 66.4L149.9 64.2L143.8 63.3L137.6 65.4Z" fill="url(#g63)"/><path d="M156.1 65.3L162.3 63.1L156.1 62.1L149.9 64.2Z" fill="#92ff00"/><path d="M168.4 64.4L174.6 62.1L168.4 60.9L162.3 63.1Z" fill="#9fff00"/><path d="M180.8 63.5L187.0 61.2L180.8 59.9L174.6 62.1Z" fill="#aaff00"/><path d="M193.2 62.7L199.3 60.4L193.2 58.9L187.0 61.2Z" fill="#b3ff00"/><path d="M205.5 62.0L211.7 59.6L205.5 58.0L199.3 60.4Z" fill="#bcff00"/><path d="M88.5 73.5L94.6 71.4L88.5 70.9L82.4 72.8Z" fill="url(#g64)"/><path d="M217.9 61.3L224.1 58.8L217.9 57.2L211.7 59.6Z" fill="#c3ff00"/><path d="M230.3 60.6L236.5 58.0L230.3 56.3L224.1 58.8Z" fill="#caff00"/><path d="M242.6 59.9L248.8 57.2L242.7 55.5L236.5 58.0Z" fill="url(#g65)"/><path d="M100.8 72.2L106.9 70.1L100.8 69.4L94.6 71.4Z" fill="url(#g66)"/><path d="M113.0 70.9L119.2 68.8L113.0 68.0L106.9 70.1Z" fill="url(#g67)"/><path d="M125.3 69.7L131.5 67.5L125.3 66.7L119.2 68.8Z" fill="url(#g68)"/><path d="M137.6 68.6L143.8 66.4L137.6 65.4L131.5 67.5Z" fill="url(#g69)"/><path d="M149.9 67.6L156.1 65.3L149.9 64.2L143.8 66.4Z" fill="#8cff00"/><path d="M162.3 66.7L168.4 64.4L162.3 63.1L156.1 65.3Z" fill="#98ff00"/><path d="M174.6 65.9L180.8 63.5L174.6 62.1L168.4 64.4Z" fill="#a3ff00"/><path d="M187.0 65.1L193.2 62.7L187.0 61.2L180.8 63.5Z" fill="#acff00"/><path d="M199.3 64.5L205.5 62.0L199.3 60.4L193.2 62.7Z" fill="#b4ff00"/><path d="M211.7 63.8L217.9 61.3L211.7 59.6L205.5 62.0Z" fill="#bbff00"/><path d="M82.4 75.5L88.5 73.5L82.4 72.8L76.3 74.8Z" fill="url(#g70)"/><path d="M224.1 63.3L230.3 60.6L224.1 58.8L217.9 61.3Z" fill="#c1ff00"/><path d="M236.4 62.7L242.6 59.9L236.5 58.0L230.3 60.6Z" fill="url(#g71)"/><path d="M248.8 62.0L255.0 59.2L248.8 57.2L242.6 59.9Z" fill="url(#g72)"/><path d="M94.6 74.3L100.8 72.2L94.6 71.4L88.5 73.5Z" fill="url(#g73)"/><path d="M106.9 73.1L113.0 70.9L106.9 70.1L100.8 72.2Z" fill="url(#g74)"/><path d="M119.2 72.0L125.3 69.7L119.2 68.8L113.0 70.9Z" fill="url(#g75)"/><path d="M131.5 70.9L137.6 68.6L131.5 67.5L125.3 69.7Z" fill="url(#g76)"/><path d="M143.8 69.9L149.9 67.6L143.8 66.4L137.6 68.6Z" fill="#85ff00"/><path d="M156.1 69.0L162.3 66.7L156.1 65.3L149.9 67.6Z" fill="#92ff00"/><path d="M168.4 68.2L174.6 65.9L168.4 64.4L162.3 66.7Z" fill="#9cff00"/><path d="M180.8 67.5L187.0 65.1L180.8 63.5L174.6 65.9Z" fill="#a5ff00"/><path d="M193.1 66.9L199.3 64.5L193.2 62.7L187.0 65.1Z" fill="#acff00"/><path d="M205.5 66.4L211.7 63.8L205.5 62.0L199.3 64.5Z" fill="#b2ff00"/><path d="M217.9 65.9L224.1 63.3L217.9 61.3L211.7 63.8Z" fill="url(#g77)"/><path d="M76.2 77.6L82.4 75.5L76.3 74.8L70.1 76.8Z" fill="url(#g78)"/><path d="M230.2 65.4L236.4 62.7L230.3 60.6L224.1 63.3Z" fill="url(#g79)"/><path d="M242.6 64.9L248.8 62.0L242.6 59.9L236.4 62.7Z" fill="url(#g80)"/><path d="M254.9 64.3L261.2 61.3L255.0 59.2L248.8 62.0Z" fill="url(#g81)"/><path d="M88.5 76.5L94.6 74.3L88.5 73.5L82.4 75.5Z" fill="url(#g82)"/><path d="M100.7 75.3L106.9 73.1L100.8 72.2L94.6 74.3Z" fill="url(#g83)"/><path d="M113.0 74.2L119.2 72.0L113.0 70.9L106.9 73.1Z" fill="url(#g84)"/><path d="M125.3 73.2L131.5 70.9L125.3 69.7L119.2 72.0Z" fill="url(#g85)"/><path d="M137.6 72.2L143.8 69.9L137.6 68.6L131.5 70.9Z" fill="#7eff00"/><path d="M149.9 71.4L156.1 69.0L149.9 67.6L143.8 69.9Z" fill="#8aff00"/><path d="M162.3 70.7L168.4 68.2L162.3 66.7L156.1 69.0Z" fill="#94ff00"/><path d="M174.6 70.0L180.8 67.5L174.6 65.9L168.4 68.2Z" fill="#9dff00"/><path d="M187.0 69.5L193.1 66.9L187.0 65.1L180.8 67.5Z" fill="#a4ff00"/><path d="M199.3 69.0L205.5 66.4L199.3 64.5L193.1 66.9Z" fill="#aaff00"/><path d="M211.7 68.6L217.9 65.9L211.7 63.8L205.5 66.4Z" fill="url(#g86)"/><path d="M224.0 68.2L230.2 65.4L224.1 63.3L217.9 65.9Z" fill="url(#g87)"/><path d="M70.1 79.8L76.2 77.6L70.1 76.8L64.0 78.8Z" fill="url(#g88)"/><path d="M236.4 67.8L242.6 64.9L236.4 62.7L230.2 65.4Z" fill="url(#g89)"/><path d="M248.7 67.4L254.9 64.3L248.8 62.0L242.6 64.9Z" fill="url(#g90)"/><path d="M261.1 66.8L267.3 63.6L261.2 61.3L254.9 64.3Z" fill="url(#g91)"/><path d="M82.4 78.7L88.5 76.5L82.4 75.5L76.2 77.6Z" fill="url(#g92)"/><path d="M94.6 77.6L100.7 75.3L94.6 74.3L88.5 76.5Z" fill="url(#g93)"/><path d="M106.9 76.5L113.0 74.2L106.9 73.1L100.7 75.3Z" fill="url(#g94)"/><path d="M119.2 75.5L125.3 73.2L119.2 72.0L113.0 74.2Z" fill="url(#g95)"/><path d="M131.5 74.6L137.6 72.2L131.5 70.9L125.3 73.2Z" fill="#77ff00"/><path d="M143.8 73.8L149.9 71.4L143.8 69.9L137.6 72.2Z" fill="#83ff00"/><path d="M156.1 73.1L162.3 70.7L156.1 69.0L149.9 71.4Z" fill="#8dff00"/><path d="M168.4 72.5L174.6 70.0L168.4 68.2L162.3 70.7Z" fill="#95ff00"/><path d="M180.8 72.0L187.0 69.5L180.8 67.5L174.6 70.0Z" fill="#9bff00"/><path d="M193.1 71.6L199.3 69.0L193.1 66.9L187.0 69.5Z" fill="#a1ff00"/><path d="M205.5 71.3L211.7 68.6L205.5 66.4L199.3 69.0Z" fill="url(#g96)"/><path d="M217.8 71.0L224.0 68.2L217.9 65.9L211.7 68.6Z" fill="url(#g97)"/><path d="M230.2 70.7L236.4 67.8L230.2 65.4L224.0 68.2Z" fill="url(#g98)"/><path d="M242.5 70.4L248.7 67.4L242.6 64.9L236.4 67.8Z" fill="url(#g99)"/><path d="M254.9 70.0L261.1 66.8L254.9 64.3L248.7 67.4Z" fill="url(#g100)"/><path d="M64.0 81.9L70.1 79.8L64.0 78.8L57.9 80.8Z" fill="url(#g101)"/><path d="M267.2 69.5L273.4 66.2L267.3 63.6L261.1 66.8Z" fill="url(#g102)"/><path d="M76.2 80.9L82.4 78.7L76.2 77.6L70.1 79.8Z" fill="url(#g103)"/><path d="M88.5 79.9L94.6 77.6L88.5 76.5L82.4 78.7Z" fill="url(#g104)"/><path d="M100.7 78.9L106.9 76.5L100.7 75.3L94.6 77.6Z" fill="url(#g105)"/><path d="M113.0 77.9L119.2 75.5L113.0 74.2L106.9 76.5Z" fill="url(#g106)"/><path d="M125.3 77.1L131.5 74.6L125.3 73.2L119.2 75.5Z" fill="#6fff00"/><path d="M137.6 76.3L143.8 73.8L137.6 72.2L131.5 74.6Z" fill="#7aff00"/><path d="M150.0 75.6L156.1 73.1L149.9 71.4L143.8 73.8Z" fill="#84ff00"/><path d="M162.3 75.0L168.4 72.5L162.3 70.7L156.1 73.1Z" fill="#8cff00"/><path d="M174.6 74.6L180.8 72.0L174.6 70.0L168.4 72.5Z" fill="#93ff00"/><path d="M187.0 74.2L193.1 71.6L187.0 69.5L180.8 72.0Z" fill="url(#g107)"/><path d="M199.3 74.0L205.5 71.3L199.3 69.0L193.1 71.6Z" fill="url(#g108)"/><path d="M211.6 73.8L217.8 71.0L211.7 68.6L205.5 71.3Z" fill="url(#g109)"/><path d="M224.0 73.6L230.2 70.7L224.0 68.2L217.8 71.0Z" fill="url(#g110)"/><path d="M236.3 73.4L242.5 70.4L236.4 67.8L230.2 70.7Z" fill="url(#g111)"/><path d="M248.6 73.2L254.9 70.0L248.7 67.4L242.5 70.4Z" fill="url(#g112)"/><path d="M261.0 72.9L267.2 69.5L261.1 66.8L254.9 70.0Z" fill="url(#g113)"/><path d="M273.3 72.4L279.6 68.9L273.4 66.2L267.2 69.5Z" fill="url(#g114)"/><path d="M57.9 84.1L64.0 81.9L57.9 80.8L51.8 82.9Z" fill="url(#g115)"/><path d="M70.1 83.2L76.2 80.9L70.1 79.8L64.0 81.9Z" fill="url(#g116)"/><path d="M82.4 82.2L88.5 79.9L82.4 78.7L76.2 80.9Z" fill="url(#g117)"/><path d="M94.6 81.3L100.7 78.9L94.6 77.6L88.5 79.9Z" fill="url(#g118)"/><path d="M106.9 80.4L113.0 77.9L106.9 76.5L100.7 78.9Z" fill="url(#g119)"/><path d="M119.2 79.5L125.3 77.1L119.2 75.5L113.0 77.9Z" fill="#67ff00"/><path d="M131.5 78.8L137.6 76.3L131.5 74.6L125.3 77.1Z" fill="#72ff00"/><path d="M143.8 78.1L150.0 75.6L143.8 73.8L137.6 76.3Z" fill="#7cff00"/><path d="M156.1 77.6L162.3 75.0L156.1 73.1L150.0 75.6Z" fill="#84ff00"/><path d="M168.4 77.2L174.6 74.6L168.4 72.5L162.3 75.0Z" fill="#8aff00"/><path d="M180.8 76.9L187.0 74.2L180.8 72.0L174.6 74.6Z" fill="url(#g120)"/><path d="M193.1 76.7L199.3 74.0L193.1 71.6L187.0 74.2Z" fill="url(#g121)"/><path d="M254.8 76.2L261.0 72.9L254.9 70.0L248.6 73.2Z" fill="url(#g122)"/><path d="M267.1 76.0L273.3 72.4L267.2 69.5L261.0 72.9Z" fill="url(#g123)"/><path d="M242.4 76.4L248.6 73.2L242.5 70.4L236.3 73.4Z" fill="url(#g124)"/><path d="M230.1 76.4L236.3 73.4L230.2 70.7L224.0 73.6Z" fill="url(#g125)"/><path d="M205.4 76.6L211.6 73.8L205.5 71.3L199.3 74.0Z" fill="url(#g126)"/><path d="M217.8 76.5L224.0 73.6L217.8 71.0L211.6 73.8Z" fill="url(#g127)"/><path d="M279.4 75.6L285.7 71.8L279.6 68.9L273.3 72.4Z" fill="url(#g128)"/><path d="M51.8 86.4L57.9 84.1L51.8 82.9L45.7 85.0Z" fill="url(#g129)"/><path d="M64.0 85.5L70.1 83.2L64.0 81.9L57.9 84.1Z" fill="url(#g130)"/><path d="M76.2 84.6L82.4 82.2L76.2 80.9L70.1 83.2Z" fill="url(#g131)"/><path d="M88.5 83.7L94.6 81.3L88.5 79.9L82.4 82.2Z" fill="url(#g132)"/><path d="M100.8 82.9L106.9 80.4L100.7 78.9L94.6 81.3Z" fill="#51ff00"/><path d="M113.0 82.1L119.2 79.5L113.0 77.9L106.9 80.4Z" fill="#5eff00"/><path d="M125.3 81.3L131.5 78.8L125.3 77.1L119.2 79.5Z" fill="#69ff00"/><path d="M137.6 80.7L143.8 78.1L137.6 76.3L131.5 78.8Z" fill="#73ff00"/><path d="M150.0 80.2L156.1 77.6L150.0 75.6L143.8 78.1Z" fill="#7aff00"/><path d="M273.2 79.3L279.4 75.6L273.3 72.4L267.1 76.0Z" fill="url(#g133)"/><path d="M162.3 79.9L168.4 77.2L162.3 75.0L156.1 77.6Z" fill="url(#g134)"/><path d="M260.9 79.5L267.1 76.0L261.0 72.9L254.8 76.2Z" fill="url(#g135)"/><path d="M285.5 78.9L291.8 74.9L285.7 71.8L279.4 75.6Z" fill="url(#g136)"/><path d="M248.6 79.5L254.8 76.2L248.6 73.2L242.4 76.4Z" fill="url(#g137)"/><path d="M236.2 79.5L242.4 76.4L236.3 73.4L230.1 76.4Z" fill="url(#g138)"/><path d="M174.6 79.6L180.8 76.9L174.6 74.6L168.4 77.2Z" fill="url(#g139)"/><path d="M223.9 79.4L230.1 76.4L224.0 73.6L217.8 76.5Z" fill="url(#g140)"/><path d="M186.9 79.4L193.1 76.7L187.0 74.2L180.8 76.9Z" fill="url(#g141)"/><path d="M211.6 79.4L217.8 76.5L211.6 73.8L205.4 76.6Z" fill="url(#g142)"/><path d="M199.3 79.4L205.4 76.6L199.3 74.0L193.1 76.7Z" fill="url(#g143)"/><path d="M57.9 87.9L64.0 85.5L57.9 84.1L51.8 86.4Z" fill="url(#g144)"/><path d="M70.1 87.1L76.2 84.6L70.1 83.2L64.0 85.5Z" fill="url(#g145)"/><path d="M82.4 86.2L88.5 83.7L82.4 82.2L76.2 84.6Z" fill="url(#g146)"/><path d="M94.6 85.4L100.8 82.9L94.6 81.3L88.5 83.7Z" fill="#48ff00"/><path d="M106.9 84.6L113.0 82.1L106.9 80.4L100.8 82.9Z" fill="#55ff00"/><path d="M119.2 83.9L125.3 81.3L119.2 79.5L113.0 82.1Z" fill="#60ff00"/><path d="M131.5 83.4L137.6 80.7L131.5 78.8L125.3 81.3Z" fill="#69ff00"/><path d="M279.2 82.8L285.5 78.9L279.4 75.6L273.2 79.3Z" fill="url(#g147)"/><path d="M266.9 83.0L273.2 79.3L267.1 76.0L260.9 79.5Z" fill="url(#g148)"/><path d="M254.6 82.9L260.9 79.5L254.8 76.2L248.6 79.5Z" fill="url(#g149)"/><path d="M143.8 82.9L150.0 80.2L143.8 78.1L137.6 80.7Z" fill="#71ff00"/><path d="M242.3 82.8L248.6 79.5L242.4 76.4L236.2 79.5Z" fill="url(#g150)"/><path d="M156.1 82.5L162.3 79.9L156.1 77.6L150.0 80.2Z" fill="url(#g151)"/><path d="M230.0 82.6L236.2 79.5L230.1 76.4L223.9 79.4Z" fill="url(#g152)"/><path d="M217.7 82.5L223.9 79.4L217.8 76.5L211.6 79.4Z" fill="url(#g153)"/><path d="M168.5 82.3L174.6 79.6L168.4 77.2L162.3 79.9Z" fill="url(#g154)"/><path d="M205.4 82.3L211.6 79.4L205.4 76.6L199.3 79.4Z" fill="url(#g155)"/><path d="M180.8 82.2L186.9 79.4L180.8 76.9L174.6 79.6Z" fill="url(#g156)"/><path d="M193.1 82.2L199.3 79.4L193.1 76.7L186.9 79.4Z" fill="url(#g157)"/><path d="M64.0 89.5L70.1 87.1L64.0 85.5L57.9 87.9Z" fill="url(#g158)"/><path d="M76.3 88.8L82.4 86.2L76.2 84.6L70.1 87.1Z" fill="url(#g159)"/><path d="M88.5 88.0L94.6 85.4L88.5 83.7L82.4 86.2Z" fill="#3fff00"/><path d="M100.8 87.2L106.9 84.6L100.8 82.9L94.6 85.4Z" fill="#4bff00"/><path d="M113.1 86.6L119.2 83.9L113.0 82.1L106.9 84.6Z" fill="#56ff00"/><path d="M273.0 86.7L279.2 82.8L273.2 79.3L266.9 83.0Z" fill="url(#g160)"/><path d="M260.7 86.6L266.9 83.0L260.9 79.5L254.6 82.9Z" fill="url(#g161)"/><path d="M125.4 86.0L131.5 83.4L125.3 81.3L119.2 83.9Z" fill="#5fff00"/><path d="M248.4 86.4L254.6 82.9L248.6 79.5L242.3 82.8Z" fill="url(#g162)"/><path d="M236.2 86.1L242.3 82.8L236.2 79.5L230.0 82.6Z" fill="url(#g163)"/><path d="M137.7 85.6L143.8 82.9L137.6 80.7L131.5 83.4Z" fill="url(#g164)"/><path d="M223.9 85.8L230.0 82.6L223.9 79.4L217.7 82.5Z" fill="url(#g165)"/><path d="M150.0 85.3L156.1 82.5L150.0 80.2L143.8 82.9Z" fill="url(#g166)"/><path d="M211.6 85.5L217.7 82.5L211.6 79.4L205.4 82.3Z" fill="url(#g167)"/><path d="M162.3 85.1L168.5 82.3L162.3 79.9L156.1 82.5Z" fill="url(#g168)"/><path d="M199.2 85.2L205.4 82.3L199.3 79.4L193.1 82.2Z" fill="url(#g169)"/><path d="M174.6 85.0L180.8 82.2L174.6 79.6L168.5 82.3Z" fill="url(#g170)"/><path d="M186.9 85.1L193.1 82.2L186.9 79.4L180.8 82.2Z" fill="url(#g171)"/><path d="M70.1 91.3L76.3 88.8L70.1 87.1L64.0 89.5Z" fill="#28ff00"/><path d="M82.4 90.6L88.5 88.0L82.4 86.2L76.3 88.8Z" fill="#35ff00"/><path d="M94.7 89.9L100.8 87.2L94.6 85.4L88.5 88.0Z" fill="#41ff00"/><path d="M266.8 90.5L273.0 86.7L266.9 83.0L260.7 86.6Z" fill="url(#g172)"/><path d="M254.5 90.2L260.7 86.6L254.6 82.9L248.4 86.4Z" fill="url(#g173)"/><path d="M106.9 89.3L113.1 86.6L106.9 84.6L100.8 87.2Z" fill="#4cff00"/><path d="M242.2 89.8L248.4 86.4L242.3 82.8L236.2 86.1Z" fill="url(#g174)"/><path d="M119.2 88.7L125.4 86.0L119.2 83.9L113.1 86.6Z" fill="#55ff00"/><path d="M230.0 89.3L236.2 86.1L230.0 82.6L223.9 85.8Z" fill="url(#g175)"/><path d="M131.5 88.3L137.7 85.6L131.5 83.4L125.4 86.0Z" fill="url(#g176)"/><path d="M217.7 88.9L223.9 85.8L217.7 82.5L211.6 85.5Z" fill="url(#g177)"/><path d="M205.4 88.5L211.6 85.5L205.4 82.3L199.2 85.2Z" fill="url(#g178)"/><path d="M143.8 88.0L150.0 85.3L143.8 82.9L137.7 85.6Z" fill="url(#g179)"/><path d="M193.1 88.2L199.2 85.2L193.1 82.2L186.9 85.1Z" fill="url(#g180)"/><path d="M156.1 87.8L162.3 85.1L156.1 82.5L150.0 85.3Z" fill="url(#g181)"/><path d="M180.8 87.9L186.9 85.1L180.8 82.2L174.6 85.0Z" fill="url(#g182)"/><path d="M168.4 87.8L174.6 85.0L168.5 82.3L162.3 85.1Z" fill="url(#g183)"/><path d="M76.3 93.3L82.4 90.6L76.3 88.8L70.1 91.3Z" fill="#2bff00"/><path d="M260.6 94.2L266.8 90.5L260.7 86.6L254.5 90.2Z" fill="url(#g184)"/><path d="M88.5 92.6L94.7 89.9L88.5 88.0L82.4 90.6Z" fill="#37ff00"/><path d="M248.3 93.7L254.5 90.2L248.4 86.4L242.2 89.8Z" fill="url(#g185)"/><path d="M100.8 92.0L106.9 89.3L100.8 87.2L94.7 89.9Z" fill="#41ff00"/><path d="M236.1 93.1L242.2 89.8L236.2 86.1L230.0 89.3Z" fill="url(#g186)"/><path d="M223.8 92.5L230.0 89.3L223.9 85.8L217.7 88.9Z" fill="url(#g187)"/><path d="M113.1 91.5L119.2 88.7L113.1 86.6L106.9 89.3Z" fill="#4bff00"/><path d="M211.5 92.0L217.7 88.9L211.6 85.5L205.4 88.5Z" fill="url(#g188)"/><path d="M125.4 91.1L131.5 88.3L125.4 86.0L119.2 88.7Z" fill="url(#g189)"/><path d="M199.2 91.5L205.4 88.5L199.2 85.2L193.1 88.2Z" fill="url(#g190)"/><path d="M137.7 90.8L143.8 88.0L137.7 85.6L131.5 88.3Z" fill="url(#g191)"/><path d="M186.9 91.1L193.1 88.2L186.9 85.1L180.8 87.9Z" fill="url(#g192)"/><path d="M150.0 90.7L156.1 87.8L150.0 85.3L143.8 88.0Z" fill="url(#g193)"/><path d="M174.6 90.8L180.8 87.9L174.6 85.0L168.4 87.8Z" fill="url(#g194)"/><path d="M162.3 90.7L168.4 87.8L162.3 85.1L156.1 87.8Z" fill="url(#g195)"/><path d="M254.4 97.9L260.6 94.2L254.5 90.2L248.3 93.7Z" fill="url(#g196)"/><path d="M242.1 97.2L248.3 93.7L242.2 89.8L236.1 93.1Z" fill="url(#g197)"/><path d="M82.4 95.4L88.5 92.6L82.4 90.6L76.3 93.3Z" fill="#2cff00"/><path d="M229.9 96.5L236.1 93.1L230.0 89.3L223.8 92.5Z" fill="url(#g198)"/><path d="M94.7 94.8L100.8 92.0L94.7 89.9L88.5 92.6Z" fill="#36ff00"/><path d="M217.6 95.7L223.8 92.5L217.7 88.9L211.5 92.0Z" fill="url(#g199)"/><path d="M107.0 94.3L113.1 91.5L106.9 89.3L100.8 92.0Z" fill="url(#g200)"/><path d="M205.3 95.1L211.5 92.0L205.4 88.5L199.2 91.5Z" fill="url(#g201)"/><path d="M119.2 93.9L125.4 91.1L119.2 88.7L113.1 91.5Z" fill="url(#g202)"/><path d="M193.0 94.5L199.2 91.5L193.1 88.2L186.9 91.1Z" fill="url(#g203)"/><path d="M131.5 93.6L137.7 90.8L131.5 88.3L125.4 91.1Z" fill="url(#g204)"/><path d="M180.8 94.0L186.9 91.1L180.8 87.9L174.6 90.8Z" fill="url(#g205)"/><path d="M143.8 93.5L150.0 90.7L143.8 88.0L137.7 90.8Z" fill="url(#g206)"/><path d="M168.4 93.7L174.6 90.8L168.4 87.8L162.3 90.7Z" fill="url(#g207)"/><path d="M156.1 93.5L162.3 90.7L156.1 87.8L150.0 90.7Z" fill="url(#g208)"/><path d="M248.2 101.5L254.4 97.9L248.3 93.7L242.1 97.2Z" fill="url(#g209)"/><path d="M236.0 100.6L242.1 97.2L236.1 93.1L229.9 96.5Z" fill="url(#g210)"/><path d="M223.7 99.7L229.9 96.5L223.8 92.5L217.6 95.7Z" fill="url(#g211)"/><path d="M88.6 97.6L94.7 94.8L88.5 92.6L82.4 95.4Z" fill="url(#g212)"/><path d="M211.4 98.9L217.6 95.7L211.5 92.0L205.3 95.1Z" fill="url(#g213)"/><path d="M100.8 97.1L107.0 94.3L100.8 92.0L94.7 94.8Z" fill="url(#g214)"/><path d="M199.2 98.2L205.3 95.1L199.2 91.5L193.0 94.5Z" fill="url(#g215)"/><path d="M113.1 96.7L119.2 93.9L113.1 91.5L107.0 94.3Z" fill="url(#g216)"/><path d="M186.9 97.5L193.0 94.5L186.9 91.1L180.8 94.0Z" fill="url(#g217)"/><path d="M125.4 96.5L131.5 93.6L125.4 91.1L119.2 93.9Z" fill="url(#g218)"/><path d="M174.6 97.0L180.8 94.0L174.6 90.8L168.4 93.7Z" fill="url(#g219)"/><path d="M137.7 96.4L143.8 93.5L137.7 90.8L131.5 93.6Z" fill="url(#g220)"/><path d="M162.3 96.6L168.4 93.7L162.3 90.7L156.1 93.5Z" fill="url(#g221)"/><path d="M150.0 96.4L156.1 93.5L150.0 90.7L143.8 93.5Z" fill="url(#g222)"/><path d="M242.0 105.1L248.2 101.5L242.1 97.2L236.0 100.6Z" fill="url(#g223)"/><path d="M229.8 104.0L236.0 100.6L229.9 96.5L223.7 99.7Z" fill="url(#g224)"/><path d="M217.5 103.0L223.7 99.7L217.6 95.7L211.4 98.9Z" fill="url(#g225)"/><path d="M205.3 102.1L211.4 98.9L205.3 95.1L199.2 98.2Z" fill="url(#g226)"/><path d="M94.7 100.0L100.8 97.1L94.7 94.8L88.6 97.6Z" fill="url(#g227)"/><path d="M193.0 101.2L199.2 98.2L193.0 94.5L186.9 97.5Z" fill="url(#g228)"/><path d="M107.0 99.6L113.1 96.7L107.0 94.3L100.8 97.1Z" fill="url(#g229)"/><path d="M180.7 100.5L186.9 97.5L180.8 94.0L174.6 97.0Z" fill="url(#g230)"/><path d="M119.3 99.4L125.4 96.5L119.2 93.9L113.1 96.7Z" fill="url(#g231)"/><path d="M168.4 99.9L174.6 97.0L168.4 93.7L162.3 96.6Z" fill="url(#g232)"/><path d="M131.6 99.3L137.7 96.4L131.5 93.6L125.4 96.5Z" fill="url(#g233)"/><path d="M156.2 99.5L162.3 96.6L156.1 93.5L150.0 96.4Z" fill="url(#g234)"/><path d="M143.9 99.3L150.0 96.4L143.8 93.5L137.7 96.4Z" fill="url(#g235)"/><path d="M235.9 108.5L242.0 105.1L236.0 100.6L229.8 104.0Z" fill="url(#g236)"/><path d="M223.6 107.3L229.8 104.0L223.7 99.7L217.5 103.0Z" fill="url(#g237)"/><path d="M211.4 106.2L217.5 103.0L211.4 98.9L205.3 102.1Z" fill="url(#g238)"/><path d="M199.1 105.2L205.3 102.1L199.2 98.2L193.0 101.2Z" fill="url(#g239)"/><path d="M186.9 104.3L193.0 101.2L186.9 97.5L180.7 100.5Z" fill="url(#g240)"/><path d="M100.9 102.6L107.0 99.6L100.8 97.1L94.7 100.0Z" fill="url(#g241)"/><path d="M174.6 103.5L180.7 100.5L174.6 97.0L168.4 99.9Z" fill="url(#g242)"/><path d="M113.2 102.3L119.3 99.4L113.1 96.7L107.0 99.6Z" fill="url(#g243)"/><path d="M162.3 102.9L168.4 99.9L162.3 96.6L156.2 99.5Z" fill="url(#g244)"/><path d="M125.4 102.2L131.6 99.3L125.4 96.5L119.3 99.4Z" fill="url(#g245)"/><path d="M150.0 102.5L156.2 99.5L150.0 96.4L143.9 99.3Z" fill="url(#g246)"/><path d="M137.7 102.3L143.9 99.3L137.7 96.4L131.6 99.3Z" fill="url(#g247)"/><path d="M229.7 111.9L235.9 108.5L229.8 104.0L223.6 107.3Z" fill="url(#g248)"/><path d="M217.5 110.6L223.6 107.3L217.5 103.0L211.4 106.2Z" fill="url(#g249)"/><path d="M205.2 109.4L211.4 106.2L205.3 102.1L199.1 105.2Z" fill="url(#g250)"/><path d="M193.0 108.2L199.1 105.2L193.0 101.2L186.9 104.3Z" fill="url(#g251)"/><path d="M180.7 107.3L186.9 104.3L180.7 100.5L174.6 103.5Z" fill="url(#g252)"/><path d="M168.4 106.5L174.6 103.5L168.4 99.9L162.3 102.9Z" fill="url(#g253)"/><path d="M107.0 105.3L113.2 102.3L107.0 99.6L100.9 102.6Z" fill="url(#g254)"/><path d="M156.2 105.9L162.3 102.9L156.2 99.5L150.0 102.5Z" fill="url(#g255)"/><path d="M119.3 105.2L125.4 102.2L119.3 99.4L113.2 102.3Z" fill="url(#g256)"/><path d="M143.9 105.4L150.0 102.5L143.9 99.3L137.7 102.3Z" fill="url(#g257)"/><path d="M131.6 105.2L137.7 102.3L131.6 99.3L125.4 102.2Z" fill="url(#g258)"/><path d="M223.5 115.3L229.7 111.9L223.6 107.3L217.5 110.6Z" fill="url(#g259)"/><path d="M211.3 113.8L217.5 110.6L211.4 106.2L205.2 109.4Z" fill="url(#g260)"/><path d="M199.1 112.5L205.2 109.4L199.1 105.2L193.0 108.2Z" fill="url(#g261)"/><path d="M186.8 111.3L193.0 108.2L186.9 104.3L180.7 107.3Z" fill="url(#g262)"/><path d="M174.6 110.3L180.7 107.3L174.6 103.5L168.4 106.5Z" fill="url(#g263)"/><path d="M162.3 109.5L168.4 106.5L162.3 102.9L156.2 105.9Z" fill="url(#g264)"/><path d="M150.0 108.8L156.2 105.9L150.0 102.5L143.9 105.4Z" fill="url(#g265)"/><path d="M113.2 108.1L119.3 105.2L113.2 102.3L107.0 105.3Z" fill="url(#g266)"/><path d="M137.8 108.4L143.9 105.4L137.7 102.3L131.6 105.2Z" fill="url(#g267)"/><path d="M125.5 108.2L131.6 105.2L125.4 102.2L119.3 105.2Z" fill="url(#g268)"/><path d="M217.4 118.5L223.5 115.3L217.5 110.6L211.3 113.8Z" fill="url(#g269)"/><path d="M205.2 117.0L211.3 113.8L205.2 109.4L199.1 112.5Z" fill="url(#g270)"/><path d="M193.0 115.6L199.1 112.5L193.0 108.2L186.8 111.3Z" fill="url(#g271)"/><path d="M180.7 114.3L186.8 111.3L180.7 107.3L174.6 110.3Z" fill="url(#g272)"/><path d="M168.5 113.3L174.6 110.3L168.4 106.5L162.3 109.5Z" fill="url(#g273)"/><path d="M156.2 112.4L162.3 109.5L156.2 105.9L150.0 108.8Z" fill="url(#g274)"/><path d="M143.9 111.8L150.0 108.8L143.9 105.4L137.8 108.4Z" fill="url(#g275)"/><path d="M119.4 111.2L125.5 108.2L119.3 105.2L113.2 108.1Z" fill="url(#g276)"/><path d="M131.6 111.4L137.8 108.4L131.6 105.2L125.5 108.2Z" fill="url(#g277)"/><path d="M211.3 121.7L217.4 118.5L211.3 113.8L205.2 117.0Z" fill="url(#g278)"/><path d="M199.1 120.1L205.2 117.0L199.1 112.5L193.0 115.6Z" fill="url(#g279)"/><path d="M186.8 118.6L193.0 115.6L186.8 111.3L180.7 114.3Z" fill="url(#g280)"/><path d="M174.6 117.3L180.7 114.3L174.6 110.3L168.5 113.3Z" fill="url(#g281)"/><path d="M162.3 116.3L168.5 113.3L162.3 109.5L156.2 112.4Z" fill="url(#g282)"/><path d="M150.1 115.4L156.2 112.4L150.0 108.8L143.9 111.8Z" fill="url(#g283)"/><path d="M137.8 114.8L143.9 111.8L137.8 108.4L131.6 111.4Z" fill="#00ff01"/><path d="M125.5 114.4L131.6 111.4L125.5 108.2L119.4 111.2Z" fill="#01ff00"/><path d="M205.1 124.8L211.3 121.7L205.2 117.0L199.1 120.1Z" fill="url(#g284)"/><path d="M192.9 123.1L199.1 120.1L193.0 115.6L186.8 118.6Z" fill="url(#g285)"/><path d="M180.7 121.6L186.8 118.6L180.7 114.3L174.6 117.3Z" fill="url(#g286)"/><path d="M168.4 120.3L174.6 117.3L168.5 113.3L162.3 116.3Z" fill="url(#g287)"/><path d="M156.2 119.2L162.3 116.3L156.2 112.4L150.1 115.4Z" fill="url(#g288)"/><path d="M143.9 118.4L150.1 115.4L143.9 111.8L137.8 114.8Z" fill="url(#g289)"/><path d="M131.7 117.8L137.8 114.8L131.6 111.4L125.5 114.4Z" fill="url(#g290)"/><path d="M199.0 127.9L205.1 124.8L199.1 120.1L192.9 123.1Z" fill="url(#g291)"/><path d="M186.8 126.1L192.9 123.1L186.8 118.6L180.7 121.6Z" fill="url(#g292)"/><path d="M174.6 124.5L180.7 121.6L174.6 117.3L168.4 120.3Z" fill="url(#g293)"/><path d="M162.3 123.2L168.4 120.3L162.3 116.3L156.2 119.2Z" fill="url(#g294)"/><path d="M150.1 122.2L156.2 119.2L150.1 115.4L143.9 118.4Z" fill="url(#g295)"/><path d="M137.8 121.4L143.9 118.4L137.8 114.8L131.7 117.8Z" fill="url(#g296)"/><path d="M192.9 130.8L199.0 127.9L192.9 123.1L186.8 126.1Z" fill="url(#g297)"/><path d="M180.7 129.0L186.8 126.1L180.7 121.6L174.6 124.5Z" fill="url(#g298)"/><path d="M168.5 127.4L174.6 124.5L168.4 120.3L162.3 123.2Z" fill="url(#g299)"/><path d="M156.2 126.1L162.3 123.2L156.2 119.2L150.1 122.2Z" fill="url(#g300)"/><path d="M144.0 125.1L150.1 122.2L143.9 118.4L137.8 121.4Z" fill="url(#g301)"/><path d="M186.8 133.7L192.9 130.8L186.8 126.1L180.7 129.0Z" fill="url(#g302)"/><path d="M174.6 131.9L180.7 129.0L174.6 124.5L168.5 127.4Z" fill="url(#g303)"/><path d="M162.3 130.3L168.5 127.4L162.3 123.2L156.2 126.1Z" fill="url(#g304)"/><path d="M150.1 129.0L156.2 126.1L150.1 122.2L144.0 125.1Z" fill="url(#g305)"/><path d="M180.7 136.5L186.8 133.7L180.7 129.0L174.6 131.9Z" fill="url(#g306)"/><path d="M168.4 134.7L174.6 131.9L168.5 127.4L162.3 130.3Z" fill="url(#g307)"/><path d="M156.2 133.1L162.3 130.3L156.2 126.1L150.1 129.0Z" fill="url(#g308)"/><path d="M174.6 139.2L180.7 136.5L174.6 131.9L168.4 134.7Z" fill="url(#g309)"/><path d="M162.3 137.4L168.4 134.7L162.3 130.3L156.2 133.1Z" fill="url(#g310)"/><path d="M168.4 141.9L174.6 139.2L168.4 134.7L162.3 137.4Z" fill="url(#g311)"/></g>
<path d="M45.3 78.3L46.4 85" stroke="#222" stroke-width="0.7"/><path d="M168.2 39.2L168.2 48" stroke="#222" stroke-width="0.7"/><path d="M168.2 68.9L168.2 77" stroke="#222" stroke-width="0.7"/><path d="M291.4 82.7L290.8 75.4" stroke="#222" stroke-width="0.7"/><circle cx="45.3" cy="78.3" r="2.4" fill="#b00000" stroke="#600" stroke-width="0.4"/><circle cx="168.2" cy="39.2" r="2.4" fill="#b00000" stroke="#600" stroke-width="0.4"/><circle cx="168.2" cy="68.9" r="2.4" fill="#b00000" stroke="#600" stroke-width="0.4"/><circle cx="168.2" cy="66.8" r="2.4" fill="#b00000" stroke="#600" stroke-width="0.4"/><circle cx="168.5" cy="142.4" r="2.4" fill="#b00000" stroke="#600" stroke-width="0.4"/><circle cx="291.4" cy="82.7" r="2.2" fill="#f7c8c8" stroke="#c08080" stroke-width="0.5"/>
<g font-family="Liberation Sans, sans-serif" font-size="8.1" fill="#222" stroke="#222" stroke-width="0.2"><text x="44.54" y="141.95" text-anchor="end">250</text><text x="43.33" y="118.72" text-anchor="end">300</text><text x="42.12" y="95.49" text-anchor="end">350</text><text x="40.92" y="72.26" text-anchor="end">400</text><text x="39.71" y="49.03" text-anchor="end">450</text><text x="38.5" y="25.8" text-anchor="end">500</text><text x="173.05" y="243.3">110</text><text x="202.5" y="229.89">120</text><text x="231.95" y="216.48">130</text><text x="261.4" y="203.06">140</text><text x="290.85" y="189.65">150</text><text x="164.75" y="243.3" text-anchor="end">25</text><text x="141.19" y="232.57" text-anchor="end">27</text><text x="117.63" y="221.84" text-anchor="end">29</text><text x="94.07" y="211.11" text-anchor="end">31</text><text x="70.51" y="200.38" text-anchor="end">33</text><text x="46.95" y="189.65" text-anchor="end">35</text><text x="272.7" y="230.7" text-anchor="middle" font-size="8.8" textLength="66.9" lengthAdjust="spacingAndGlyphs">A: bent corner (°)</text><text x="64.4" y="230.7" text-anchor="middle" font-size="8.8" textLength="90.2" lengthAdjust="spacingAndGlyphs">C: razor-sharp angle (°)</text><text transform="translate(7.7 106.8) rotate(-90)" text-anchor="middle" font-size="8.6" textLength="102" lengthAdjust="spacingAndGlyphs">Torque of cutter shaft (N.m)</text></g>
</g>
<text x="153.55" y="277.4" text-anchor="middle" font-family="Liberation Serif, serif" font-size="22" fill="#000" stroke="#000" stroke-width="0.15">(a)</text>
<g transform="translate(377.6 0.2)">
<path d="M50.65 180.85L42.7 28M78.68 135.12L74.14 21.3M108.6 125.75L105.57 14.6M138.53 116.37L137.01 7.9M168.45 140L168.45 1.2M286.25 180.85L294.2 28M258.22 135.12L262.76 21.3M228.3 125.75L231.32 14.6M198.37 116.37L199.89 7.9M48.76 144.5L168.45 106.99L288.14 144.5M47.55 121.2L168.45 85.83L289.35 121.2M46.34 97.9L168.45 64.68L290.56 97.9M45.12 74.6L168.45 43.52L291.78 74.6M43.91 51.3L168.45 22.36L292.99 51.3M42.7 28L168.45 1.2L294.2 28" fill="none" stroke="#707070" stroke-width="0.9"/>
<path d="M168.45 234.5L286.25 180.85L168.45 140L50.65 180.85Z" fill="#666666" stroke="#222" stroke-width="0.8"/>
<path d="M268.8 188.8L266.8 189.1L265.2 189.3L263.6 189.5L261.3 189.8L258.8 190.1L257.1 190.3L255.5 190.5L253.8 190.7L251.5 191.0L249.0 191.3L247.2 191.5L245.5 191.7L243.9 191.8L241.9 192.1L239.5 192.3L237.2 192.5L235.5 192.7L233.8 192.9L232.1 193.0L230.2 193.2L227.9 193.4L225.6 193.6L223.5 193.8L221.8 193.9L220.1 194.1L218.3 194.2L216.5 194.3L214.2 194.5L212.0 194.7L209.8 194.8L207.9 194.9L206.1 195.1L204.3 195.2L202.6 195.3L200.8 195.4L198.7 195.5L196.5 195.6L194.4 195.7L192.2 195.9L190.1 196.0L188.3 196.1L186.5 196.1L184.7 196.2L182.9 196.3L181.0 196.4L179.2 196.4L177.2 196.5L175.0 196.6L172.9 196.6L170.8 196.7L168.7 196.8L166.6 196.8L164.5 196.9L162.7 196.9L160.8 196.9L158.9 197.0L157.1 197.0L155.2 197.0L153.3 197.1L151.4 197.1L149.6 197.1L147.7 197.1L145.8 197.1L143.9 197.1L141.9 197.1L139.9 197.1L137.9 197.1L135.9 197.1L133.9 197.1L131.9 197.1L129.9 197.1L127.9 197.0L125.9 197.0L123.9 197.0L121.9 196.9L120.0 196.9L118.0 196.9L116.0 196.8L114.1 196.8L112.1 196.7L110.2 196.6L108.2 196.6L106.3 196.5L104.4 196.5L102.4 196.4L100.5 196.3L98.6 196.2L96.7 196.1L94.8 196.1L92.8 196.0L90.8 195.9L88.8 195.7L86.7 195.6L84.7 195.5L82.6 195.4M122.7 155.9L124.8 155.9L126.9 155.8L129.0 155.8L131.1 155.8L133.0 155.8L134.9 155.8L136.7 155.8L138.6 155.8L140.5 155.8L142.4 155.8L144.2 155.8L146.1 155.7L148.0 155.7L149.9 155.7L151.8 155.7L153.8 155.7L155.8 155.7L157.8 155.7L159.8 155.7L161.8 155.7L163.8 155.7L165.8 155.6L167.8 155.6L169.8 155.6L171.8 155.6L173.8 155.6L175.8 155.6L177.7 155.6L179.7 155.6L181.7 155.6L183.6 155.6L185.6 155.5L187.5 155.5L189.4 155.5L191.4 155.5L193.3 155.5L195.2 155.5L197.2 155.5L199.1 155.5L201.0 155.5L202.9 155.5L204.8 155.5L206.8 155.4L208.8 155.4L210.9 155.4L212.9 155.4" stroke="#0aefc6" stroke-width="1.35" fill="none" stroke-linejoin="round"/>
<path d="M235.8 203.8L233.6 204.0L231.4 204.2L229.5 204.3L227.7 204.5L225.9 204.6L224.1 204.7L222.4 204.8L220.4 205.0L218.2 205.1L216.0 205.3L213.8 205.4L211.6 205.5L209.8 205.6L208.0 205.7L206.2 205.8L204.4 205.9L202.6 206.0L200.8 206.1L198.7 206.2L196.6 206.3L194.5 206.4L192.3 206.5L190.2 206.6L188.1 206.7L186.2 206.8L184.4 206.8L182.6 206.9L180.7 207.0L178.9 207.0L177.0 207.1L175.2 207.2L173.4 207.2L171.3 207.3L169.2 207.3L167.1 207.4L165.0 207.4L163.0 207.5L160.9 207.5L158.8 207.5L156.8 207.6L154.7 207.6L152.8 207.6L150.9 207.6L149.0 207.6L147.1 207.7L145.3 207.7L143.4 207.7L141.5 207.7L139.6 207.7L137.6 207.7L135.7 207.7L133.8 207.7L131.9 207.7L130.0 207.6L128.1 207.6L126.2 207.6L124.2 207.6L122.3 207.6L120.3 207.5L118.3 207.5L116.4 207.5L114.4 207.4L112.4 207.4L110.4 207.3L108.7 207.3M149.1 146.7L151.2 146.7L153.2 146.7L155.3 146.7L157.3 146.7L159.3 146.6L161.3 146.6L163.3 146.6L165.4 146.6L167.4 146.6L169.4 146.6L171.4 146.6L173.3 146.5L175.3 146.5L177.2 146.5L179.1 146.5L181.1 146.5L183.0 146.4L185.0 146.4L186.9 146.4" stroke="#0aef47" stroke-width="1.35" fill="none" stroke-linejoin="round"/>
<path d="M214.4 213.6L212.3 213.7L210.1 213.8L208.0 213.9L205.9 214.0L203.8 214.1L202.0 214.2L200.2 214.3L198.4 214.4L196.5 214.5L194.7 214.6L192.9 214.6L191.0 214.7L188.9 214.8L186.8 214.9L184.7 215.0L182.6 215.0L180.5 215.1L178.4 215.2L176.4 215.2L174.4 215.3L172.5 215.3L170.7 215.4L168.8 215.4L166.9 215.5L165.1 215.5L163.2 215.5L161.3 215.6L159.5 215.6L157.6 215.6L155.7 215.7L153.6 215.7L151.6 215.7L149.5 215.7L147.5 215.7L145.4 215.8L143.4 215.8L141.4 215.8L139.3 215.8L137.3 215.8L135.3 215.8L133.3 215.8L131.2 215.8L129.2 215.7L127.2 215.7" stroke="#4bef0a" stroke-width="1.35" fill="none" stroke-linejoin="round"/>
<path d="M197.3 221.4L195.2 221.4L193.1 221.5L191.0 221.6L189.2 221.7L187.4 221.8L185.5 221.8L183.7 221.9L181.8 221.9L179.9 222.0L178.1 222.1L176.2 222.1L174.3 222.2L172.2 222.2L170.2 222.3L168.1 222.3L166.0 222.4L164.0 222.4L161.9 222.4L159.8 222.5L157.8 222.5L155.7 222.5L153.8 222.6L151.9 222.6L150.0 222.6L148.1 222.6L146.2 222.6L144.3 222.6L142.4 222.6" stroke="#caef0a" stroke-width="1.35" fill="none" stroke-linejoin="round"/>
<path d="M182.6 228.0L180.5 228.1L178.5 228.2L176.4 228.2L174.4 228.3L172.5 228.3L170.6 228.4L168.8 228.4L166.9 228.5L165.0 228.5L163.1 228.5L161.3 228.6L159.4 228.6L157.5 228.6L155.6 228.7" stroke="#ef940a" stroke-width="1.35" fill="none" stroke-linejoin="round"/>
<g fill="#111"><circle cx="48.76" cy="144.5" r="1.1"/><circle cx="47.55" cy="121.2" r="1.1"/><circle cx="46.34" cy="97.9" r="1.1"/><circle cx="45.12" cy="74.6" r="1.1"/><circle cx="43.91" cy="51.3" r="1.1"/><circle cx="42.7" cy="28" r="1.1"/><circle cx="168.45" cy="234.5" r="1.1"/><circle cx="197.9" cy="221.09" r="1.1"/><circle cx="227.35" cy="207.68" r="1.1"/><circle cx="256.8" cy="194.26" r="1.1"/><circle cx="286.25" cy="180.85" r="1.1"/><circle cx="168.45" cy="234.5" r="1.1"/><circle cx="139" cy="221.09" r="1.1"/><circle cx="109.55" cy="207.68" r="1.1"/><circle cx="80.1" cy="194.26" r="1.1"/><circle cx="50.65" cy="180.85" r="1.1"/></g>
<defs><linearGradient id="g312" href="#U" x1="168.4" y1="67.9" x2="168.5" y2="56.2"><stop stop-color="#00ff0d"/><stop offset="0.12" stop-color="#00ff00"/><stop offset="1" stop-color="#60ff00"/></linearGradient><linearGradient id="g313" href="#U" x1="162.4" y1="73.5" x2="162.4" y2="62.3"><stop stop-color="#00ff3e"/><stop offset="0.62" stop-color="#00ff00"/><stop offset="1" stop-color="#27ff00"/></linearGradient><linearGradient id="g314" href="#U" x1="174.5" y1="73.3" x2="174.5" y2="62.2"><stop stop-color="#00ff3d"/><stop offset="0.61" stop-color="#00ff00"/><stop offset="1" stop-color="#28ff00"/></linearGradient><linearGradient id="g315" href="#U" x1="156.3" y1="78.7" x2="156.4" y2="68.0"><stop stop-color="#00ff6c"/><stop offset="1" stop-color="#00ff0f"/></linearGradient><linearGradient id="g316" href="#U" x1="168.4" y1="78.6" x2="168.5" y2="67.9"><stop stop-color="#00ff6a"/><stop offset="1" stop-color="#00ff0d"/></linearGradient><linearGradient id="g317" href="#U" x1="180.6" y1="78.5" x2="180.6" y2="67.9"><stop stop-color="#00ff68"/><stop offset="1" stop-color="#00ff0d"/></linearGradient><linearGradient id="g318" href="#U" x1="150.2" y1="83.8" x2="150.3" y2="73.6"><stop stop-color="#00ff96"/><stop offset="1" stop-color="#00ff40"/></linearGradient><linearGradient id="g319" href="#U" x1="162.4" y1="83.6" x2="162.5" y2="73.5"><stop stop-color="#00ff93"/><stop offset="1" stop-color="#00ff3e"/></linearGradient><linearGradient id="g320" href="#U" x1="174.5" y1="83.4" x2="174.5" y2="73.3"><stop stop-color="#00ff91"/><stop offset="1" stop-color="#00ff3d"/></linearGradient><linearGradient id="g321" href="#U" x1="186.7" y1="83.3" x2="186.6" y2="73.3"><stop stop-color="#00ff90"/><stop offset="1" stop-color="#00ff3d"/></linearGradient><linearGradient id="g322" href="#U" x1="144.2" y1="88.5" x2="144.3" y2="78.8"><stop stop-color="#00ffbc"/><stop offset="1" stop-color="#00ff6e"/></linearGradient><linearGradient id="g323" href="#U" x1="156.3" y1="88.4" x2="156.5" y2="78.7"><stop stop-color="#00ffba"/><stop offset="1" stop-color="#00ff6c"/></linearGradient><linearGradient id="g324" href="#U" x1="168.4" y1="88.2" x2="168.5" y2="78.6"><stop stop-color="#00ffb6"/><stop offset="1" stop-color="#00ff6a"/></linearGradient><linearGradient id="g325" href="#U" x1="192.7" y1="87.8" x2="192.6" y2="78.5"><stop stop-color="#00ffb4"/><stop offset="1" stop-color="#00ff6a"/></linearGradient><linearGradient id="g326" href="#U" x1="180.6" y1="87.9" x2="180.6" y2="78.5"><stop stop-color="#00ffb4"/><stop offset="1" stop-color="#00ff68"/></linearGradient><linearGradient id="g327" href="#U" x1="138.2" y1="93.0" x2="138.3" y2="83.8"><stop stop-color="#00ffdf"/><stop offset="1" stop-color="#00ff97"/></linearGradient><linearGradient id="g328" href="#U" x1="150.3" y1="93.0" x2="150.4" y2="83.8"><stop stop-color="#00ffdc"/><stop offset="1" stop-color="#00ff96"/></linearGradient><linearGradient id="g329" href="#U" x1="162.4" y1="92.7" x2="162.5" y2="83.6"><stop stop-color="#00ffd9"/><stop offset="1" stop-color="#00ff93"/></linearGradient><linearGradient id="g330" href="#U" x1="174.5" y1="92.4" x2="174.6" y2="83.4"><stop stop-color="#00ffd5"/><stop offset="1" stop-color="#00ff91"/></linearGradient><linearGradient id="g331" href="#U" x1="198.8" y1="92.1" x2="198.6" y2="83.4"><stop stop-color="#00ffd3"/><stop offset="1" stop-color="#00ff92"/></linearGradient><linearGradient id="g332" href="#U" x1="186.6" y1="92.2" x2="186.6" y2="83.3"><stop stop-color="#00ffd3"/><stop offset="1" stop-color="#00ff90"/></linearGradient><linearGradient id="g333" href="#U" x1="132.1" y1="97.2" x2="132.2" y2="88.4"><stop stop-color="#00fffd"/><stop offset="1" stop-color="#00ffbc"/></linearGradient><linearGradient id="g334" href="#U" x1="144.2" y1="97.3" x2="144.4" y2="88.5"><stop stop-color="#00fffc"/><stop offset="1" stop-color="#00ffbc"/></linearGradient><linearGradient id="g335" href="#U" x1="156.3" y1="97.1" x2="156.5" y2="88.4"><stop stop-color="#00fff8"/><stop offset="1" stop-color="#00ffb9"/></linearGradient><linearGradient id="g336" href="#U" x1="168.4" y1="96.7" x2="168.6" y2="88.2"><stop stop-color="#00fff4"/><stop offset="1" stop-color="#00ffb6"/></linearGradient><linearGradient id="g337" href="#U" x1="204.8" y1="96.1" x2="204.5" y2="88.0"><stop stop-color="#00ffef"/><stop offset="1" stop-color="#00ffb7"/></linearGradient><linearGradient id="g338" href="#U" x1="180.6" y1="96.4" x2="180.6" y2="87.9"><stop stop-color="#00fff0"/><stop offset="1" stop-color="#00ffb4"/></linearGradient><linearGradient id="g339" href="#U" x1="192.7" y1="96.2" x2="192.6" y2="87.8"><stop stop-color="#00ffee"/><stop offset="1" stop-color="#00ffb4"/></linearGradient><linearGradient id="g340" href="#U" x1="138.2" y1="101.3" x2="138.4" y2="93.0"><stop stop-color="#00e6ff"/><stop offset="0.43" stop-color="#00ffff"/><stop offset="1" stop-color="#00ffdf"/></linearGradient><linearGradient id="g341" href="#U" x1="126.1" y1="101.2" x2="126.2" y2="92.8"><stop stop-color="#00e6ff"/><stop offset="0.43" stop-color="#00ffff"/><stop offset="1" stop-color="#00ffde"/></linearGradient><linearGradient id="g342" href="#U" x1="150.3" y1="101.2" x2="150.5" y2="93.0"><stop stop-color="#00e9ff"/><stop offset="0.39" stop-color="#00ffff"/><stop offset="1" stop-color="#00ffdc"/></linearGradient><linearGradient id="g343" href="#U" x1="162.4" y1="100.8" x2="162.6" y2="92.7"><stop stop-color="#00eeff"/><stop offset="0.31" stop-color="#00ffff"/><stop offset="1" stop-color="#00ffd9"/></linearGradient><linearGradient id="g344" href="#U" x1="174.5" y1="100.5" x2="174.7" y2="92.4"><stop stop-color="#00f3ff"/><stop offset="0.23" stop-color="#00ffff"/><stop offset="1" stop-color="#00ffd5"/></linearGradient><linearGradient id="g345" href="#U" x1="210.8" y1="99.8" x2="210.5" y2="92.3"><stop stop-color="#00f7ff"/><stop offset="0.17" stop-color="#00ffff"/><stop offset="1" stop-color="#00ffd7"/></linearGradient><linearGradient id="g346" href="#U" x1="186.6" y1="100.1" x2="186.6" y2="92.2"><stop stop-color="#00f7ff"/><stop offset="0.16" stop-color="#00ffff"/><stop offset="1" stop-color="#00ffd3"/></linearGradient><linearGradient id="g347" href="#U" x1="198.7" y1="99.8" x2="198.6" y2="92.1"><stop stop-color="#00f8ff"/><stop offset="0.13" stop-color="#00ffff"/><stop offset="1" stop-color="#00ffd3"/></linearGradient><linearGradient id="g348" href="#U" x1="132.2" y1="105.1" x2="132.3" y2="97.3"><stop stop-color="#00ceff"/><stop offset="0.97" stop-color="#00ffff"/><stop offset="1" stop-color="#00fffd"/></linearGradient><linearGradient id="g349" href="#U" x1="120.1" y1="104.8" x2="120.1" y2="96.9"><stop stop-color="#00cfff"/><stop offset="0.93" stop-color="#00ffff"/><stop offset="1" stop-color="#00fffb"/></linearGradient><linearGradient id="g350" href="#U" x1="144.3" y1="105.0" x2="144.5" y2="97.3"><stop stop-color="#00d0ff"/><stop offset="0.94" stop-color="#00ffff"/><stop offset="1" stop-color="#00fffc"/></linearGradient><linearGradient id="g351" href="#U" x1="156.4" y1="104.7" x2="156.6" y2="97.1"><stop stop-color="#00d5ff"/><stop offset="0.86" stop-color="#00ffff"/><stop offset="1" stop-color="#00fff8"/></linearGradient><linearGradient id="g352" href="#U" x1="168.4" y1="104.3" x2="168.7" y2="96.7"><stop stop-color="#00daff"/><stop offset="0.77" stop-color="#00ffff"/><stop offset="1" stop-color="#00fff4"/></linearGradient><linearGradient id="g353" href="#U" x1="180.5" y1="103.9" x2="180.7" y2="96.4"><stop stop-color="#00dfff"/><stop offset="0.68" stop-color="#00ffff"/><stop offset="1" stop-color="#00fff0"/></linearGradient><linearGradient id="g354" href="#U" x1="216.8" y1="103.2" x2="216.5" y2="96.3"><stop stop-color="#00e3ff"/><stop offset="0.71" stop-color="#00ffff"/><stop offset="1" stop-color="#00fff3"/></linearGradient><linearGradient id="g355" href="#U" x1="192.6" y1="103.5" x2="192.7" y2="96.2"><stop stop-color="#00e3ff"/><stop offset="0.62" stop-color="#00ffff"/><stop offset="1" stop-color="#00ffee"/></linearGradient><linearGradient id="g356" href="#U" x1="204.7" y1="103.3" x2="204.6" y2="96.1"><stop stop-color="#00e5ff"/><stop offset="0.62" stop-color="#00ffff"/><stop offset="1" stop-color="#00ffef"/></linearGradient><linearGradient id="g357" href="#U" x1="126.2" y1="108.6" x2="126.3" y2="101.2"><stop stop-color="#00b9ff"/><stop offset="1" stop-color="#00e6ff"/></linearGradient><linearGradient id="g358" href="#U" x1="138.3" y1="108.6" x2="138.5" y2="101.3"><stop stop-color="#00bbff"/><stop offset="1" stop-color="#00e6ff"/></linearGradient><linearGradient id="g359" href="#U" x1="114.1" y1="108.2" x2="114.0" y2="100.7"><stop stop-color="#00bcff"/><stop offset="1" stop-color="#00e9ff"/></linearGradient><linearGradient id="g360" href="#U" x1="150.3" y1="108.4" x2="150.6" y2="101.2"><stop stop-color="#00bfff"/><stop offset="1" stop-color="#00e9ff"/></linearGradient><linearGradient id="g361" href="#U" x1="162.4" y1="108.0" x2="162.7" y2="100.9"><stop stop-color="#00c5ff"/><stop offset="1" stop-color="#00eeff"/></linearGradient><linearGradient id="g362" href="#U" x1="174.5" y1="107.5" x2="174.8" y2="100.5"><stop stop-color="#00cbff"/><stop offset="1" stop-color="#00f3ff"/></linearGradient><linearGradient id="g363" href="#U" x1="222.8" y1="106.3" x2="222.4" y2="100.0"><stop stop-color="#00d3ff"/><stop offset="1" stop-color="#00f2ff"/></linearGradient><linearGradient id="g364" href="#U" x1="186.6" y1="107.0" x2="186.7" y2="100.1"><stop stop-color="#00d0ff"/><stop offset="1" stop-color="#00f7ff"/></linearGradient><linearGradient id="g365" href="#U" x1="210.8" y1="106.4" x2="210.6" y2="99.8"><stop stop-color="#00d4ff"/><stop offset="1" stop-color="#00f7ff"/></linearGradient><linearGradient id="g366" href="#U" x1="198.7" y1="106.6" x2="198.7" y2="99.8"><stop stop-color="#00d3ff"/><stop offset="1" stop-color="#00f8ff"/></linearGradient><linearGradient id="g367" href="#U" x1="132.2" y1="112.0" x2="132.4" y2="105.1"><stop stop-color="#00a9ff"/><stop offset="1" stop-color="#00ceff"/></linearGradient><linearGradient id="g368" href="#U" x1="120.2" y1="111.8" x2="120.2" y2="104.8"><stop stop-color="#00a8ff"/><stop offset="1" stop-color="#00cfff"/></linearGradient><linearGradient id="g369" href="#U" x1="144.3" y1="111.8" x2="144.6" y2="105.1"><stop stop-color="#00acff"/><stop offset="1" stop-color="#00d0ff"/></linearGradient><linearGradient id="g370" href="#U" x1="108.1" y1="111.2" x2="107.9" y2="104.2"><stop stop-color="#00acff"/><stop offset="1" stop-color="#00d4ff"/></linearGradient><linearGradient id="g371" href="#U" x1="156.4" y1="111.5" x2="156.8" y2="104.8"><stop stop-color="#00b2ff"/><stop offset="1" stop-color="#00d5ff"/></linearGradient><linearGradient id="g372" href="#U" x1="168.4" y1="110.9" x2="168.8" y2="104.3"><stop stop-color="#00b8ff"/><stop offset="1" stop-color="#00daff"/></linearGradient><linearGradient id="g373" href="#U" x1="180.5" y1="110.4" x2="180.8" y2="103.9"><stop stop-color="#00bfff"/><stop offset="1" stop-color="#00dfff"/></linearGradient><linearGradient id="g374" href="#U" x1="228.9" y1="109.1" x2="228.4" y2="103.4"><stop stop-color="#00c6ff"/><stop offset="1" stop-color="#00deff"/></linearGradient><linearGradient id="g375" href="#U" x1="192.6" y1="109.9" x2="192.8" y2="103.5"><stop stop-color="#00c4ff"/><stop offset="1" stop-color="#00e3ff"/></linearGradient><linearGradient id="g376" href="#U" x1="216.8" y1="109.2" x2="216.5" y2="103.2"><stop stop-color="#00c8ff"/><stop offset="1" stop-color="#00e3ff"/></linearGradient><linearGradient id="g377" href="#U" x1="204.7" y1="109.5" x2="204.7" y2="103.3"><stop stop-color="#00c7ff"/><stop offset="1" stop-color="#00e5ff"/></linearGradient><linearGradient id="g378" href="#U" x1="126.2" y1="115.0" x2="126.4" y2="108.6"><stop stop-color="#009aff"/><stop offset="1" stop-color="#00b9ff"/></linearGradient><linearGradient id="g379" href="#U" x1="114.2" y1="114.7" x2="114.0" y2="108.2"><stop stop-color="#009bff"/><stop offset="1" stop-color="#00bcff"/></linearGradient><linearGradient id="g380" href="#U" x1="138.3" y1="115.0" x2="138.6" y2="108.7"><stop stop-color="#009dff"/><stop offset="1" stop-color="#00bbff"/></linearGradient><linearGradient id="g381" href="#U" x1="150.4" y1="114.7" x2="150.8" y2="108.4"><stop stop-color="#00a2ff"/><stop offset="1" stop-color="#00bfff"/></linearGradient><linearGradient id="g382" href="#U" x1="102.1" y1="114.0" x2="101.7" y2="107.4"><stop stop-color="#00a1ff"/><stop offset="1" stop-color="#00c2ff"/></linearGradient><linearGradient id="g383" href="#U" x1="162.4" y1="114.2" x2="162.9" y2="108.0"><stop stop-color="#00a8ff"/><stop offset="1" stop-color="#00c5ff"/></linearGradient><linearGradient id="g384" href="#U" x1="174.5" y1="113.6" x2="174.9" y2="107.5"><stop stop-color="#00b0ff"/><stop offset="1" stop-color="#00cbff"/></linearGradient><linearGradient id="g385" href="#U" x1="186.6" y1="113.0" x2="186.9" y2="107.0"><stop stop-color="#00b6ff"/><stop offset="1" stop-color="#00d0ff"/></linearGradient><linearGradient id="g386" href="#U" x1="234.9" y1="111.7" x2="234.3" y2="106.5"><stop stop-color="#00bdff"/><stop offset="1" stop-color="#00ceff"/></linearGradient><linearGradient id="g387" href="#U" x1="198.6" y1="112.5" x2="198.8" y2="106.6"><stop stop-color="#00bbff"/><stop offset="1" stop-color="#00d3ff"/></linearGradient><linearGradient id="g388" href="#U" x1="222.8" y1="111.8" x2="222.5" y2="106.3"><stop stop-color="#00bfff"/><stop offset="1" stop-color="#00d3ff"/></linearGradient><linearGradient id="g389" href="#U" x1="210.7" y1="112.1" x2="210.7" y2="106.4"><stop stop-color="#00beff"/><stop offset="1" stop-color="#00d4ff"/></linearGradient><linearGradient id="g390" href="#U" x1="120.2" y1="117.8" x2="120.2" y2="111.8"><stop stop-color="#008fff"/><stop offset="1" stop-color="#00a8ff"/></linearGradient><linearGradient id="g391" href="#U" x1="132.3" y1="117.9" x2="132.6" y2="112.0"><stop stop-color="#0091ff"/><stop offset="1" stop-color="#00a9ff"/></linearGradient><linearGradient id="g392" href="#U" x1="108.2" y1="117.3" x2="107.9" y2="111.3"><stop stop-color="#0092ff"/><stop offset="1" stop-color="#00acff"/></linearGradient><linearGradient id="g393" href="#U" x1="144.3" y1="117.7" x2="144.8" y2="111.9"><stop stop-color="#0095ff"/><stop offset="1" stop-color="#00acff"/></linearGradient><linearGradient id="g394" href="#U" x1="156.4" y1="117.2" x2="157.0" y2="111.5"><stop stop-color="#009bff"/><stop offset="1" stop-color="#00b2ff"/></linearGradient><linearGradient id="g395" href="#U" x1="96.1" y1="116.4" x2="95.5" y2="110.3"><stop stop-color="#009aff"/><stop offset="1" stop-color="#00b5ff"/></linearGradient><linearGradient id="g396" href="#U" x1="168.4" y1="116.6" x2="169.1" y2="111.0"><stop stop-color="#00a3ff"/><stop offset="1" stop-color="#00b8ff"/></linearGradient><linearGradient id="g397" href="#U" x1="180.5" y1="116.0" x2="181.1" y2="110.4"><stop stop-color="#00abff"/><stop offset="1" stop-color="#00bfff"/></linearGradient><linearGradient id="g398" href="#U" x1="192.6" y1="115.3" x2="193.0" y2="109.9"><stop stop-color="#00b1ff"/><stop offset="1" stop-color="#00c4ff"/></linearGradient><linearGradient id="g399" href="#U" x1="204.7" y1="114.8" x2="204.9" y2="109.5"><stop stop-color="#00b6ff"/><stop offset="1" stop-color="#00c7ff"/></linearGradient><linearGradient id="g400" href="#U" x1="216.7" y1="114.4" x2="216.7" y2="109.2"><stop stop-color="#00b9ff"/><stop offset="1" stop-color="#00c8ff"/></linearGradient><linearGradient id="g401" href="#U" x1="126.3" y1="120.5" x2="126.5" y2="115.0"><stop stop-color="#0088ff"/><stop offset="1" stop-color="#009aff"/></linearGradient><linearGradient id="g402" href="#U" x1="114.2" y1="120.2" x2="114.0" y2="114.7"><stop stop-color="#0089ff"/><stop offset="1" stop-color="#009bff"/></linearGradient><linearGradient id="g403" href="#U" x1="138.3" y1="120.4" x2="138.8" y2="115.1"><stop stop-color="#008cff"/><stop offset="1" stop-color="#009dff"/></linearGradient><linearGradient id="g404" href="#U" x1="102.1" y1="119.6" x2="101.6" y2="114.0"><stop stop-color="#008dff"/><stop offset="1" stop-color="#00a1ff"/></linearGradient><linearGradient id="g405" href="#U" x1="150.4" y1="120.0" x2="151.1" y2="114.8"><stop stop-color="#0091ff"/><stop offset="1" stop-color="#00a2ff"/></linearGradient><linearGradient id="g406" href="#U" x1="162.4" y1="119.4" x2="163.3" y2="114.3"><stop stop-color="#0099ff"/><stop offset="1" stop-color="#00a8ff"/></linearGradient><linearGradient id="g407" href="#U" x1="90.1" y1="118.5" x2="89.1" y2="112.9"><stop stop-color="#0097ff"/><stop offset="1" stop-color="#00acff"/></linearGradient><linearGradient id="g408" href="#U" x1="174.5" y1="118.7" x2="175.3" y2="113.7"><stop stop-color="#00a1ff"/><stop offset="1" stop-color="#00b0ff"/></linearGradient><linearGradient id="g409" href="#U" x1="84.0" y1="120.2" x2="82.6" y2="115.4"><stop stop-color="#0098ff"/><stop offset="1" stop-color="#00a6ff"/></linearGradient><linearGradient id="g410" href="#U" x1="79.0" y1="123.3" x2="74.9" y2="116.6"><stop stop-color="#0099ff"/><stop offset="1" stop-color="#00a8ff"/></linearGradient><linearGradient id="g411" href="#U" x1="77.5" y1="123.8" x2="65.5" y2="121.3"><stop stop-color="#009eff"/><stop offset="1" stop-color="#00afff"/></linearGradient><linearGradient id="g412" href="#U" x1="80.8" y1="121.7" x2="76.8" y2="126.6"><stop stop-color="#0099ff"/><stop offset="1" stop-color="#00a7ff"/></linearGradient><linearGradient id="g413" href="#U" x1="69.5" y1="120.0" x2="63.8" y2="125.1"><stop stop-color="#00a8ff"/><stop offset="1" stop-color="#00baff"/></linearGradient><linearGradient id="g414" href="#U" x1="234.7" y1="119.8" x2="234.9" y2="122.7"><stop stop-color="#00baff"/><stop offset="1" stop-color="#00c8ff"/></linearGradient><linearGradient id="g415" href="#U" x1="246.8" y1="119.4" x2="247.0" y2="122.2"><stop stop-color="#00bcff"/><stop offset="1" stop-color="#00caff"/></linearGradient><linearGradient id="g416" href="#U" x1="258.8" y1="118.9" x2="259.1" y2="121.6"><stop stop-color="#00bdff"/><stop offset="1" stop-color="#00cdff"/></linearGradient><linearGradient id="g417" href="#U" x1="270.7" y1="118.2" x2="271.2" y2="120.8"><stop stop-color="#00c1ff"/><stop offset="1" stop-color="#00d2ff"/></linearGradient><linearGradient id="g418" href="#U" x1="120.2" y1="126.7" x2="120.2" y2="129.6"><stop stop-color="#0085ff"/><stop offset="1" stop-color="#0094ff"/></linearGradient><linearGradient id="g419" href="#U" x1="108.5" y1="126.4" x2="108.2" y2="129.2"><stop stop-color="#0087ff"/><stop offset="1" stop-color="#0095ff"/></linearGradient><linearGradient id="g420" href="#U" x1="132.0" y1="126.7" x2="132.3" y2="129.6"><stop stop-color="#0088ff"/><stop offset="1" stop-color="#0096ff"/></linearGradient><linearGradient id="g421" href="#U" x1="96.7" y1="125.7" x2="96.1" y2="128.4"><stop stop-color="#008dff"/><stop offset="1" stop-color="#009bff"/></linearGradient><linearGradient id="g422" href="#U" x1="143.9" y1="126.4" x2="144.3" y2="129.2"><stop stop-color="#008dff"/><stop offset="1" stop-color="#009cff"/></linearGradient><linearGradient id="g423" href="#U" x1="155.9" y1="125.9" x2="156.4" y2="128.6"><stop stop-color="#0095ff"/><stop offset="1" stop-color="#00a4ff"/></linearGradient><linearGradient id="g424" href="#U" x1="84.9" y1="124.6" x2="84.0" y2="127.2"><stop stop-color="#0097ff"/><stop offset="1" stop-color="#00a5ff"/></linearGradient><linearGradient id="g425" href="#U" x1="167.9" y1="125.2" x2="168.4" y2="127.8"><stop stop-color="#009eff"/><stop offset="1" stop-color="#00adff"/></linearGradient><linearGradient id="g426" href="#U" x1="73.1" y1="122.9" x2="71.7" y2="125.9"><stop stop-color="#00a5ff"/><stop offset="1" stop-color="#00b5ff"/></linearGradient><linearGradient id="g427" href="#U" x1="180.0" y1="124.4" x2="180.5" y2="127.0"><stop stop-color="#00a7ff"/><stop offset="1" stop-color="#00b6ff"/></linearGradient><linearGradient id="g428" href="#U" x1="192.1" y1="123.6" x2="192.6" y2="126.2"><stop stop-color="#00afff"/><stop offset="1" stop-color="#00bfff"/></linearGradient><linearGradient id="g429" href="#U" x1="204.3" y1="122.8" x2="204.7" y2="125.4"><stop stop-color="#00b6ff"/><stop offset="1" stop-color="#00c7ff"/></linearGradient><linearGradient id="g430" href="#U" x1="61.2" y1="120.8" x2="59.4" y2="124.2"><stop stop-color="#00b6ff"/><stop offset="1" stop-color="#00c9ff"/></linearGradient><linearGradient id="g431" href="#U" x1="216.5" y1="122.1" x2="216.8" y2="124.7"><stop stop-color="#00bbff"/><stop offset="1" stop-color="#00ccff"/></linearGradient><linearGradient id="g432" href="#U" x1="228.7" y1="121.6" x2="228.9" y2="124.2"><stop stop-color="#00bfff"/><stop offset="1" stop-color="#00d0ff"/></linearGradient><linearGradient id="g433" href="#U" x1="240.8" y1="121.1" x2="241.0" y2="123.6"><stop stop-color="#00c1ff"/><stop offset="1" stop-color="#00d3ff"/></linearGradient><linearGradient id="g434" href="#U" x1="252.9" y1="120.6" x2="253.1" y2="123.1"><stop stop-color="#00c3ff"/><stop offset="1" stop-color="#00d6ff"/></linearGradient><linearGradient id="g435" href="#U" x1="264.9" y1="120.0" x2="265.2" y2="122.4"><stop stop-color="#00c6ff"/><stop offset="1" stop-color="#00daff"/></linearGradient><linearGradient id="g436" href="#U" x1="276.8" y1="119.0" x2="277.3" y2="121.3"><stop stop-color="#00cdff"/><stop offset="1" stop-color="#00e2ff"/></linearGradient><linearGradient id="g437" href="#U" x1="114.3" y1="128.2" x2="114.2" y2="130.5"><stop stop-color="#008bff"/><stop offset="1" stop-color="#00a0ff"/></linearGradient><linearGradient id="g438" href="#U" x1="126.2" y1="128.3" x2="126.2" y2="130.6"><stop stop-color="#008bff"/><stop offset="1" stop-color="#00a0ff"/></linearGradient><linearGradient id="g439" href="#U" x1="102.4" y1="127.6" x2="102.1" y2="129.9"><stop stop-color="#008eff"/><stop offset="1" stop-color="#00a3ff"/></linearGradient><linearGradient id="g440" href="#U" x1="138.1" y1="128.1" x2="138.3" y2="130.4"><stop stop-color="#0090ff"/><stop offset="1" stop-color="#00a5ff"/></linearGradient><linearGradient id="g441" href="#U" x1="90.5" y1="126.6" x2="90.0" y2="128.9"><stop stop-color="#0096ff"/><stop offset="1" stop-color="#00abff"/></linearGradient><linearGradient id="g442" href="#U" x1="150.1" y1="127.7" x2="150.3" y2="129.9"><stop stop-color="#0097ff"/><stop offset="1" stop-color="#00acff"/></linearGradient><linearGradient id="g443" href="#U" x1="162.1" y1="127.0" x2="162.4" y2="129.2"><stop stop-color="#009fff"/><stop offset="1" stop-color="#00b4ff"/></linearGradient><linearGradient id="g444" href="#U" x1="78.5" y1="125.3" x2="77.9" y2="127.5"><stop stop-color="#00a3ff"/><stop offset="1" stop-color="#00b8ff"/></linearGradient><linearGradient id="g445" href="#U" x1="174.2" y1="126.2" x2="174.5" y2="128.4"><stop stop-color="#00a8ff"/><stop offset="1" stop-color="#00beff"/></linearGradient><linearGradient id="g446" href="#U" x1="186.3" y1="125.4" x2="186.6" y2="127.6"><stop stop-color="#00b1ff"/><stop offset="1" stop-color="#00c7ff"/></linearGradient><linearGradient id="g447" href="#U" x1="66.5" y1="123.5" x2="65.8" y2="125.6"><stop stop-color="#00b3ff"/><stop offset="1" stop-color="#00c8ff"/></linearGradient><linearGradient id="g448" href="#U" x1="198.4" y1="124.6" x2="198.7" y2="126.8"><stop stop-color="#00baff"/><stop offset="1" stop-color="#00cfff"/></linearGradient><linearGradient id="g449" href="#U" x1="210.5" y1="123.9" x2="210.8" y2="126.0"><stop stop-color="#00c0ff"/><stop offset="1" stop-color="#00d6ff"/></linearGradient><linearGradient id="g450" href="#U" x1="222.7" y1="123.3" x2="222.9" y2="125.4"><stop stop-color="#00c5ff"/><stop offset="1" stop-color="#00dbff"/></linearGradient><linearGradient id="g451" href="#U" x1="54.4" y1="121.4" x2="53.6" y2="123.6"><stop stop-color="#00c6ff"/><stop offset="1" stop-color="#00dcff"/></linearGradient><linearGradient id="g452" href="#U" x1="234.8" y1="122.7" x2="235.0" y2="124.9"><stop stop-color="#00c8ff"/><stop offset="1" stop-color="#00deff"/></linearGradient><linearGradient id="g453" href="#U" x1="246.9" y1="122.2" x2="247.1" y2="124.4"><stop stop-color="#00caff"/><stop offset="1" stop-color="#00e1ff"/></linearGradient><linearGradient id="g454" href="#U" x1="259.0" y1="121.6" x2="259.2" y2="123.7"><stop stop-color="#00cdff"/><stop offset="1" stop-color="#00e4ff"/></linearGradient><linearGradient id="g455" href="#U" x1="271.0" y1="120.8" x2="271.3" y2="122.8"><stop stop-color="#00d2ff"/><stop offset="1" stop-color="#00eaff"/></linearGradient><linearGradient id="g456" href="#U" x1="282.9" y1="119.5" x2="283.4" y2="121.4"><stop stop-color="#00deff"/><stop offset="1" stop-color="#00f5ff"/></linearGradient><linearGradient id="g457" href="#U" x1="120.2" y1="129.6" x2="120.2" y2="131.4"><stop stop-color="#0093ff"/><stop offset="1" stop-color="#00afff"/></linearGradient><linearGradient id="g458" href="#U" x1="108.2" y1="129.2" x2="108.1" y2="131.0"><stop stop-color="#0095ff"/><stop offset="1" stop-color="#00b0ff"/></linearGradient><linearGradient id="g459" href="#U" x1="132.2" y1="129.6" x2="132.2" y2="131.3"><stop stop-color="#0096ff"/><stop offset="1" stop-color="#00b1ff"/></linearGradient><linearGradient id="g460" href="#U" x1="96.2" y1="128.5" x2="96.0" y2="130.2"><stop stop-color="#009aff"/><stop offset="1" stop-color="#00b6ff"/></linearGradient><linearGradient id="g461" href="#U" x1="144.2" y1="129.2" x2="144.3" y2="131.0"><stop stop-color="#009cff"/><stop offset="1" stop-color="#00b7ff"/></linearGradient><linearGradient id="g462" href="#U" x1="156.2" y1="128.6" x2="156.4" y2="130.4"><stop stop-color="#00a4ff"/><stop offset="1" stop-color="#00bfff"/></linearGradient><linearGradient id="g463" href="#U" x1="84.2" y1="127.3" x2="83.9" y2="129.0"><stop stop-color="#00a5ff"/><stop offset="1" stop-color="#00c0ff"/></linearGradient><linearGradient id="g464" href="#U" x1="168.2" y1="127.9" x2="168.5" y2="129.6"><stop stop-color="#00adff"/><stop offset="1" stop-color="#00c8ff"/></linearGradient><linearGradient id="g465" href="#U" x1="72.2" y1="125.6" x2="71.8" y2="127.3"><stop stop-color="#00b3ff"/><stop offset="1" stop-color="#00cfff"/></linearGradient><linearGradient id="g466" href="#U" x1="180.3" y1="127.0" x2="180.5" y2="128.8"><stop stop-color="#00b6ff"/><stop offset="1" stop-color="#00d1ff"/></linearGradient><linearGradient id="g467" href="#U" x1="192.4" y1="126.2" x2="192.6" y2="127.9"><stop stop-color="#00bfff"/><stop offset="1" stop-color="#00daff"/></linearGradient><linearGradient id="g468" href="#U" x1="60.0" y1="123.7" x2="59.6" y2="125.3"><stop stop-color="#00c5ff"/><stop offset="1" stop-color="#00e1ff"/></linearGradient><linearGradient id="g469" href="#U" x1="204.6" y1="125.4" x2="204.7" y2="127.2"><stop stop-color="#00c6ff"/><stop offset="1" stop-color="#00e1ff"/></linearGradient><linearGradient id="g470" href="#U" x1="216.7" y1="124.7" x2="216.8" y2="126.5"><stop stop-color="#00ccff"/><stop offset="1" stop-color="#00e7ff"/></linearGradient><linearGradient id="g471" href="#U" x1="228.8" y1="124.2" x2="228.9" y2="125.9"><stop stop-color="#00d0ff"/><stop offset="1" stop-color="#00ebff"/></linearGradient><linearGradient id="g472" href="#U" x1="240.9" y1="123.6" x2="241.0" y2="125.4"><stop stop-color="#00d3ff"/><stop offset="1" stop-color="#00eeff"/></linearGradient><linearGradient id="g473" href="#U" x1="253.0" y1="123.1" x2="253.1" y2="124.9"><stop stop-color="#00d6ff"/><stop offset="1" stop-color="#00f0ff"/></linearGradient><linearGradient id="g474" href="#U" x1="265.1" y1="122.4" x2="265.3" y2="124.2"><stop stop-color="#00daff"/><stop offset="1" stop-color="#00f5ff"/></linearGradient><linearGradient id="g475" href="#U" x1="277.1" y1="121.3" x2="277.4" y2="123.1"><stop stop-color="#00e2ff"/><stop offset="1" stop-color="#00fdff"/></linearGradient><linearGradient id="g476" href="#U" x1="114.1" y1="130.5" x2="114.1" y2="131.7"><stop stop-color="#009fff"/><stop offset="1" stop-color="#00c1ff"/></linearGradient><linearGradient id="g477" href="#U" x1="126.2" y1="130.7" x2="126.2" y2="131.9"><stop stop-color="#00a0ff"/><stop offset="1" stop-color="#00c1ff"/></linearGradient><linearGradient id="g478" href="#U" x1="102.1" y1="129.9" x2="102.0" y2="131.1"><stop stop-color="#00a3ff"/><stop offset="1" stop-color="#00c5ff"/></linearGradient><linearGradient id="g479" href="#U" x1="138.2" y1="130.4" x2="138.2" y2="131.7"><stop stop-color="#00a4ff"/><stop offset="1" stop-color="#00c5ff"/></linearGradient><linearGradient id="g480" href="#U" x1="90.1" y1="128.9" x2="89.9" y2="130.1"><stop stop-color="#00abff"/><stop offset="1" stop-color="#00cdff"/></linearGradient><linearGradient id="g481" href="#U" x1="150.2" y1="130.0" x2="150.3" y2="131.2"><stop stop-color="#00abff"/><stop offset="1" stop-color="#00ccff"/></linearGradient><linearGradient id="g482" href="#U" x1="162.3" y1="129.3" x2="162.4" y2="130.5"><stop stop-color="#00b4ff"/><stop offset="1" stop-color="#00d5ff"/></linearGradient><linearGradient id="g483" href="#U" x1="78.0" y1="127.5" x2="77.8" y2="128.6"><stop stop-color="#00b7ff"/><stop offset="1" stop-color="#00d9ff"/></linearGradient><linearGradient id="g484" href="#U" x1="174.4" y1="128.4" x2="174.5" y2="129.7"><stop stop-color="#00bdff"/><stop offset="1" stop-color="#00deff"/></linearGradient><linearGradient id="g485" href="#U" x1="186.5" y1="127.6" x2="186.6" y2="128.8"><stop stop-color="#00c7ff"/><stop offset="1" stop-color="#00e7ff"/></linearGradient><linearGradient id="g486" href="#U" x1="65.8" y1="125.6" x2="65.6" y2="126.7"><stop stop-color="#00c7ff"/><stop offset="1" stop-color="#00eaff"/></linearGradient><linearGradient id="g487" href="#U" x1="198.6" y1="126.8" x2="198.7" y2="128.0"><stop stop-color="#00cfff"/><stop offset="1" stop-color="#00efff"/></linearGradient><linearGradient id="g488" href="#U" x1="210.7" y1="126.0" x2="210.8" y2="127.3"><stop stop-color="#00d5ff"/><stop offset="1" stop-color="#00f5ff"/></linearGradient><linearGradient id="g489" href="#U" x1="222.8" y1="125.4" x2="222.9" y2="126.7"><stop stop-color="#00daff"/><stop offset="1" stop-color="#00faff"/></linearGradient><linearGradient id="g490" href="#U" x1="235.0" y1="124.9" x2="235.0" y2="126.2"><stop stop-color="#00deff"/><stop offset="1" stop-color="#00fdff"/></linearGradient><linearGradient id="g491" href="#U" x1="247.1" y1="124.4" x2="247.1" y2="125.8"><stop stop-color="#00e0ff"/><stop offset="0.99" stop-color="#00ffff"/><stop offset="1" stop-color="#00ffff"/></linearGradient><linearGradient id="g492" href="#U" x1="259.1" y1="123.7" x2="259.3" y2="125.2"><stop stop-color="#00e4ff"/><stop offset="0.89" stop-color="#00ffff"/><stop offset="1" stop-color="#00fffc"/></linearGradient><linearGradient id="g493" href="#U" x1="271.2" y1="122.9" x2="271.4" y2="124.4"><stop stop-color="#00eaff"/><stop offset="0.71" stop-color="#00ffff"/><stop offset="1" stop-color="#00fff7"/></linearGradient><linearGradient id="g494" href="#U" x1="120.1" y1="131.4" x2="120.1" y2="132.0"><stop stop-color="#00aeff"/><stop offset="1" stop-color="#00d4ff"/></linearGradient><linearGradient id="g495" href="#U" x1="108.0" y1="131.0" x2="108.0" y2="131.7"><stop stop-color="#00afff"/><stop offset="1" stop-color="#00d6ff"/></linearGradient><linearGradient id="g496" href="#U" x1="132.2" y1="131.3" x2="132.2" y2="132.0"><stop stop-color="#00b0ff"/><stop offset="1" stop-color="#00d7ff"/></linearGradient><linearGradient id="g497" href="#U" x1="96.0" y1="130.2" x2="95.9" y2="130.8"><stop stop-color="#00b5ff"/><stop offset="1" stop-color="#00dcff"/></linearGradient><linearGradient id="g498" href="#U" x1="144.2" y1="131.0" x2="144.3" y2="131.7"><stop stop-color="#00b6ff"/><stop offset="1" stop-color="#00dcff"/></linearGradient><linearGradient id="g499" href="#U" x1="156.3" y1="130.4" x2="156.4" y2="131.1"><stop stop-color="#00beff"/><stop offset="1" stop-color="#00e3ff"/></linearGradient><linearGradient id="g500" href="#U" x1="83.8" y1="129.0" x2="83.8" y2="129.5"><stop stop-color="#00bfff"/><stop offset="1" stop-color="#00e6ff"/></linearGradient><linearGradient id="g501" href="#U" x1="168.4" y1="129.6" x2="168.4" y2="130.3"><stop stop-color="#00c7ff"/><stop offset="1" stop-color="#00ecff"/></linearGradient><linearGradient id="g502" href="#U" x1="71.7" y1="127.3" x2="71.6" y2="127.7"><stop stop-color="#00ceff"/><stop offset="1" stop-color="#00f4ff"/></linearGradient><linearGradient id="g503" href="#U" x1="180.5" y1="128.8" x2="180.6" y2="129.5"><stop stop-color="#00d1ff"/><stop offset="1" stop-color="#00f5ff"/></linearGradient><linearGradient id="g504" href="#U" x1="192.6" y1="127.9" x2="192.7" y2="128.7"><stop stop-color="#00d9ff"/><stop offset="1" stop-color="#00feff"/></linearGradient><linearGradient id="g505" href="#U" x1="204.7" y1="127.2" x2="204.8" y2="128.0"><stop stop-color="#00e1ff"/><stop offset="0.84" stop-color="#00ffff"/><stop offset="1" stop-color="#00fff9"/></linearGradient><linearGradient id="g506" href="#U" x1="216.8" y1="126.5" x2="216.9" y2="127.3"><stop stop-color="#00e7ff"/><stop offset="0.68" stop-color="#00ffff"/><stop offset="1" stop-color="#00fff4"/></linearGradient><linearGradient id="g507" href="#U" x1="229.0" y1="125.9" x2="229.0" y2="126.8"><stop stop-color="#00ebff"/><stop offset="0.58" stop-color="#00ffff"/><stop offset="1" stop-color="#00fff0"/></linearGradient><linearGradient id="g508" href="#U" x1="241.1" y1="125.4" x2="241.1" y2="126.4"><stop stop-color="#00edff"/><stop offset="0.50" stop-color="#00ffff"/><stop offset="1" stop-color="#00ffed"/></linearGradient><linearGradient id="g509" href="#U" x1="253.2" y1="124.9" x2="253.3" y2="126.0"><stop stop-color="#00f0ff"/><stop offset="0.43" stop-color="#00ffff"/><stop offset="1" stop-color="#00ffeb"/></linearGradient><linearGradient id="g510" href="#U" x1="265.3" y1="124.2" x2="265.4" y2="125.4"><stop stop-color="#00f4ff"/><stop offset="0.32" stop-color="#00ffff"/><stop offset="1" stop-color="#00ffe8"/></linearGradient><linearGradient id="g511" href="#U" x1="114.0" y1="131.7" x2="114.0" y2="131.9"><stop stop-color="#00ceff"/><stop offset="1" stop-color="#00e2ff"/></linearGradient><linearGradient id="g512" href="#U" x1="126.1" y1="131.9" x2="126.1" y2="132.0"><stop stop-color="#00caff"/><stop offset="1" stop-color="#00e3ff"/></linearGradient><linearGradient id="g513" href="#U" x1="101.9" y1="131.1" x2="101.9" y2="131.3"><stop stop-color="#00dbff"/><stop offset="1" stop-color="#00e4ff"/></linearGradient><linearGradient id="g514" href="#U" x1="138.2" y1="131.7" x2="138.2" y2="131.9"><stop stop-color="#00ccff"/><stop offset="1" stop-color="#00e9ff"/></linearGradient><linearGradient id="g515" href="#U" x1="150.3" y1="131.2" x2="150.3" y2="131.4"><stop stop-color="#00d2ff"/><stop offset="1" stop-color="#00f1ff"/></linearGradient><linearGradient id="g516" href="#U" x1="89.7" y1="130.2" x2="89.8" y2="130.0"><stop stop-color="#00dcff"/><stop offset="1" stop-color="#00eeff"/></linearGradient><linearGradient id="g517" href="#U" x1="162.4" y1="130.5" x2="162.4" y2="130.8"><stop stop-color="#00daff"/><stop offset="1" stop-color="#00faff"/></linearGradient><linearGradient id="g518" href="#U" x1="77.6" y1="128.7" x2="77.6" y2="128.4"><stop stop-color="#00e3ff"/><stop offset="0.77" stop-color="#00ffff"/><stop offset="1" stop-color="#00fff7"/></linearGradient><linearGradient id="g519" href="#U" x1="174.5" y1="129.7" x2="174.5" y2="130.0"><stop stop-color="#00e2ff"/><stop offset="0.89" stop-color="#00ffff"/><stop offset="1" stop-color="#00fffb"/></linearGradient><linearGradient id="g520" href="#U" x1="186.6" y1="128.8" x2="186.6" y2="129.1"><stop stop-color="#00eaff"/><stop offset="0.63" stop-color="#00ffff"/><stop offset="1" stop-color="#00fff3"/></linearGradient><linearGradient id="g521" href="#U" x1="198.7" y1="128.0" x2="198.7" y2="128.4"><stop stop-color="#00f1ff"/><stop offset="0.43" stop-color="#00ffff"/><stop offset="1" stop-color="#00ffed"/></linearGradient><linearGradient id="g522" href="#U" x1="210.9" y1="127.3" x2="210.9" y2="127.7"><stop stop-color="#00f6ff"/><stop offset="0.26" stop-color="#00ffff"/><stop offset="1" stop-color="#00ffe7"/></linearGradient><linearGradient id="g523" href="#U" x1="223.0" y1="126.7" x2="223.0" y2="127.2"><stop stop-color="#00faff"/><stop offset="0.14" stop-color="#00ffff"/><stop offset="1" stop-color="#00ffe0"/></linearGradient><linearGradient id="g524" href="#U" x1="235.1" y1="126.2" x2="235.1" y2="126.8"><stop stop-color="#00fdff"/><stop offset="0.07" stop-color="#00ffff"/><stop offset="1" stop-color="#00ffdc"/></linearGradient><linearGradient id="g525" href="#U" x1="247.2" y1="125.8" x2="247.3" y2="126.4"><stop stop-color="#00ffff"/><stop offset="0.01" stop-color="#00ffff"/><stop offset="1" stop-color="#00ffd9"/></linearGradient><linearGradient id="g526" href="#U" x1="259.3" y1="125.2" x2="259.4" y2="126.0"><stop stop-color="#00fffc"/><stop offset="1" stop-color="#00ffd7"/></linearGradient><linearGradient id="g527" href="#U" x1="120.0" y1="132.0" x2="120.0" y2="131.6"><stop stop-color="#00dfff"/><stop offset="0.64" stop-color="#00ffff"/><stop offset="1" stop-color="#00ffed"/></linearGradient><linearGradient id="g528" href="#U" x1="132.1" y1="132.0" x2="132.1" y2="131.6"><stop stop-color="#00e2ff"/><stop offset="0.60" stop-color="#00ffff"/><stop offset="1" stop-color="#00ffeb"/></linearGradient><linearGradient id="g529" href="#U" x1="107.9" y1="131.6" x2="107.9" y2="131.1"><stop stop-color="#00e0ff"/><stop offset="0.61" stop-color="#00ffff"/><stop offset="1" stop-color="#00ffeb"/></linearGradient><linearGradient id="g530" href="#U" x1="144.2" y1="131.7" x2="144.2" y2="131.3"><stop stop-color="#00e9ff"/><stop offset="0.47" stop-color="#00ffff"/><stop offset="1" stop-color="#00ffe7"/></linearGradient><linearGradient id="g531" href="#U" x1="95.7" y1="130.8" x2="95.8" y2="130.2"><stop stop-color="#00e5ff"/><stop offset="0.49" stop-color="#00ffff"/><stop offset="1" stop-color="#00ffe4"/></linearGradient><linearGradient id="g532" href="#U" x1="156.4" y1="131.1" x2="156.3" y2="130.7"><stop stop-color="#00f2ff"/><stop offset="0.28" stop-color="#00ffff"/><stop offset="1" stop-color="#00ffe0"/></linearGradient><linearGradient id="g533" href="#U" x1="83.5" y1="129.5" x2="83.6" y2="128.8"><stop stop-color="#00f0ff"/><stop offset="0.27" stop-color="#00ffff"/><stop offset="1" stop-color="#00ffd8"/></linearGradient><linearGradient id="g534" href="#U" x1="168.5" y1="130.3" x2="168.4" y2="130.0"><stop stop-color="#00fdff"/><stop offset="0.04" stop-color="#00ffff"/><stop offset="1" stop-color="#00ffd8"/></linearGradient><linearGradient id="g535" href="#U" x1="180.6" y1="129.5" x2="180.6" y2="129.2"><stop stop-color="#00fff8"/><stop offset="1" stop-color="#00ffd0"/></linearGradient><linearGradient id="g536" href="#U" x1="192.7" y1="128.7" x2="192.7" y2="128.5"><stop stop-color="#00fff0"/><stop offset="1" stop-color="#00ffca"/></linearGradient><linearGradient id="g537" href="#U" x1="204.9" y1="128.0" x2="204.8" y2="127.8"><stop stop-color="#00ffe8"/><stop offset="1" stop-color="#00ffc9"/></linearGradient><linearGradient id="g538" href="#U" x1="217.0" y1="127.5" x2="217.0" y2="127.3"><stop stop-color="#00ffe0"/><stop offset="1" stop-color="#00ffce"/></linearGradient><linearGradient id="g539" href="#U" x1="229.1" y1="126.8" x2="229.1" y2="127.0"><stop stop-color="#00ffd9"/><stop offset="1" stop-color="#00ffd2"/></linearGradient><linearGradient id="g540" href="#U" x1="241.2" y1="126.4" x2="241.3" y2="126.6"><stop stop-color="#00ffe9"/><stop offset="1" stop-color="#00ffcd"/></linearGradient><linearGradient id="g541" href="#U" x1="253.4" y1="126.0" x2="253.4" y2="126.3"><stop stop-color="#00ffec"/><stop offset="1" stop-color="#00ffc5"/></linearGradient><linearGradient id="g542" href="#U" x1="126.0" y1="132.0" x2="126.0" y2="130.9"><stop stop-color="#00f5ff"/><stop offset="0.17" stop-color="#00ffff"/><stop offset="1" stop-color="#00ffce"/></linearGradient><linearGradient id="g543" href="#U" x1="113.8" y1="131.8" x2="113.9" y2="130.7"><stop stop-color="#00f5ff"/><stop offset="0.17" stop-color="#00ffff"/><stop offset="1" stop-color="#00ffce"/></linearGradient><linearGradient id="g544" href="#U" x1="138.1" y1="131.8" x2="138.1" y2="130.8"><stop stop-color="#00f9ff"/><stop offset="0.10" stop-color="#00ffff"/><stop offset="1" stop-color="#00ffcb"/></linearGradient><linearGradient id="g545" href="#U" x1="101.7" y1="131.1" x2="101.7" y2="129.9"><stop stop-color="#00f9ff"/><stop offset="0.10" stop-color="#00ffff"/><stop offset="1" stop-color="#00ffc9"/></linearGradient><linearGradient id="g546" href="#U" x1="150.3" y1="131.4" x2="150.3" y2="130.4"><stop stop-color="#00fffe"/><stop offset="1" stop-color="#00ffc5"/></linearGradient><linearGradient id="g547" href="#U" x1="89.5" y1="130.0" x2="89.6" y2="128.7"><stop stop-color="#00fffc"/><stop offset="1" stop-color="#00ffbe"/></linearGradient><linearGradient id="g548" href="#U" x1="162.4" y1="130.7" x2="162.4" y2="129.8"><stop stop-color="#00fff5"/><stop offset="1" stop-color="#00ffbd"/></linearGradient><linearGradient id="g549" href="#U" x1="174.6" y1="129.9" x2="174.5" y2="129.0"><stop stop-color="#00ffeb"/><stop offset="1" stop-color="#00ffb4"/></linearGradient><linearGradient id="g550" href="#U" x1="186.7" y1="129.1" x2="186.7" y2="128.3"><stop stop-color="#00ffe2"/><stop offset="1" stop-color="#00ffad"/></linearGradient><linearGradient id="g551" href="#U" x1="198.8" y1="128.3" x2="198.8" y2="127.6"><stop stop-color="#00ffda"/><stop offset="1" stop-color="#00ffa6"/></linearGradient><linearGradient id="g552" href="#U" x1="211.0" y1="127.7" x2="211.0" y2="127.1"><stop stop-color="#00ffd3"/><stop offset="1" stop-color="#00ffa2"/></linearGradient><linearGradient id="g553" href="#U" x1="223.1" y1="127.2" x2="223.1" y2="126.7"><stop stop-color="#00ffce"/><stop offset="1" stop-color="#00ffa0"/></linearGradient><linearGradient id="g554" href="#U" x1="247.4" y1="126.5" x2="247.4" y2="126.3"><stop stop-color="#00ffc7"/><stop offset="1" stop-color="#00ffa8"/></linearGradient><linearGradient id="g555" href="#U" x1="235.3" y1="126.8" x2="235.3" y2="126.4"><stop stop-color="#00ffca"/><stop offset="1" stop-color="#00ffa1"/></linearGradient><linearGradient id="g556" href="#U" x1="119.8" y1="131.5" x2="119.9" y2="129.8"><stop stop-color="#00ffee"/><stop offset="1" stop-color="#00ffac"/></linearGradient><linearGradient id="g557" href="#U" x1="132.0" y1="131.6" x2="132.0" y2="129.9"><stop stop-color="#00ffec"/><stop offset="1" stop-color="#00ffab"/></linearGradient><linearGradient id="g558" href="#U" x1="107.7" y1="131.1" x2="107.7" y2="129.3"><stop stop-color="#00ffec"/><stop offset="1" stop-color="#00ffa9"/></linearGradient><linearGradient id="g559" href="#U" x1="144.2" y1="131.3" x2="144.2" y2="129.7"><stop stop-color="#00ffe7"/><stop offset="1" stop-color="#00ffa7"/></linearGradient><linearGradient id="g560" href="#U" x1="95.4" y1="130.2" x2="95.6" y2="128.3"><stop stop-color="#00ffe5"/><stop offset="1" stop-color="#00ffa1"/></linearGradient><linearGradient id="g561" href="#U" x1="156.4" y1="130.7" x2="156.3" y2="129.2"><stop stop-color="#00ffe0"/><stop offset="1" stop-color="#00ffa0"/></linearGradient><linearGradient id="g562" href="#U" x1="168.5" y1="130.0" x2="168.4" y2="128.5"><stop stop-color="#00ffd7"/><stop offset="1" stop-color="#00ff98"/></linearGradient><linearGradient id="g563" href="#U" x1="180.7" y1="129.2" x2="180.6" y2="127.8"><stop stop-color="#00ffce"/><stop offset="1" stop-color="#00ff90"/></linearGradient><linearGradient id="g564" href="#U" x1="192.8" y1="128.5" x2="192.8" y2="127.1"><stop stop-color="#00ffc6"/><stop offset="1" stop-color="#00ff89"/></linearGradient><linearGradient id="g565" href="#U" x1="205.0" y1="127.8" x2="204.9" y2="126.6"><stop stop-color="#00ffbf"/><stop offset="1" stop-color="#00ff84"/></linearGradient><linearGradient id="g566" href="#U" x1="241.4" y1="126.6" x2="241.4" y2="125.9"><stop stop-color="#00ffb8"/><stop offset="1" stop-color="#00ff84"/></linearGradient><linearGradient id="g567" href="#U" x1="217.1" y1="127.3" x2="217.1" y2="126.2"><stop stop-color="#00ffbb"/><stop offset="1" stop-color="#00ff82"/></linearGradient><linearGradient id="g568" href="#U" x1="229.3" y1="126.9" x2="229.2" y2="126.0"><stop stop-color="#00ffb9"/><stop offset="1" stop-color="#00ff82"/></linearGradient><linearGradient id="g569" href="#U" x1="125.9" y1="130.9" x2="125.9" y2="128.6"><stop stop-color="#00ffcf"/><stop offset="1" stop-color="#00ff86"/></linearGradient><linearGradient id="g570" href="#U" x1="113.7" y1="130.7" x2="113.7" y2="128.3"><stop stop-color="#00ffce"/><stop offset="1" stop-color="#00ff85"/></linearGradient><linearGradient id="g571" href="#U" x1="138.1" y1="130.8" x2="138.1" y2="128.6"><stop stop-color="#00ffcb"/><stop offset="1" stop-color="#00ff84"/></linearGradient><linearGradient id="g572" href="#U" x1="101.4" y1="129.9" x2="101.6" y2="127.5"><stop stop-color="#00ffc9"/><stop offset="1" stop-color="#00ff7f"/></linearGradient><linearGradient id="g573" href="#U" x1="150.3" y1="130.4" x2="150.2" y2="128.2"><stop stop-color="#00ffc5"/><stop offset="1" stop-color="#00ff7f"/></linearGradient><linearGradient id="g574" href="#U" x1="162.4" y1="129.8" x2="162.4" y2="127.7"><stop stop-color="#00ffbd"/><stop offset="1" stop-color="#00ff78"/></linearGradient><linearGradient id="g575" href="#U" x1="174.6" y1="129.0" x2="174.5" y2="127.0"><stop stop-color="#00ffb5"/><stop offset="1" stop-color="#00ff70"/></linearGradient><linearGradient id="g576" href="#U" x1="186.8" y1="128.3" x2="186.7" y2="126.3"><stop stop-color="#00ffad"/><stop offset="1" stop-color="#00ff69"/></linearGradient><linearGradient id="g577" href="#U" x1="198.9" y1="127.6" x2="198.9" y2="125.8"><stop stop-color="#00ffa6"/><stop offset="1" stop-color="#00ff64"/></linearGradient><linearGradient id="g578" href="#U" x1="235.4" y1="126.4" x2="235.4" y2="125.1"><stop stop-color="#00ff9f"/><stop offset="1" stop-color="#00ff63"/></linearGradient><linearGradient id="g579" href="#U" x1="211.1" y1="127.1" x2="211.1" y2="125.3"><stop stop-color="#00ffa2"/><stop offset="1" stop-color="#00ff61"/></linearGradient><linearGradient id="g580" href="#U" x1="223.3" y1="126.7" x2="223.2" y2="125.1"><stop stop-color="#00ff9f"/><stop offset="1" stop-color="#00ff61"/></linearGradient><linearGradient id="g581" href="#U" x1="119.7" y1="129.8" x2="119.7" y2="126.9"><stop stop-color="#00ffac"/><stop offset="1" stop-color="#00ff5d"/></linearGradient><linearGradient id="g582" href="#U" x1="131.9" y1="129.9" x2="131.9" y2="127.1"><stop stop-color="#00ffab"/><stop offset="1" stop-color="#00ff5d"/></linearGradient><linearGradient id="g583" href="#U" x1="107.4" y1="129.3" x2="107.6" y2="126.3"><stop stop-color="#00ffa9"/><stop offset="1" stop-color="#00ff59"/></linearGradient><linearGradient id="g584" href="#U" x1="144.1" y1="129.7" x2="144.1" y2="126.9"><stop stop-color="#00ffa7"/><stop offset="1" stop-color="#00ff59"/></linearGradient><linearGradient id="g585" href="#U" x1="156.3" y1="129.2" x2="156.3" y2="126.4"><stop stop-color="#00ffa0"/><stop offset="1" stop-color="#00ff53"/></linearGradient><linearGradient id="g586" href="#U" x1="168.5" y1="128.5" x2="168.4" y2="125.8"><stop stop-color="#00ff98"/><stop offset="1" stop-color="#00ff4c"/></linearGradient><linearGradient id="g587" href="#U" x1="180.7" y1="127.8" x2="180.6" y2="125.2"><stop stop-color="#00ff90"/><stop offset="1" stop-color="#00ff45"/></linearGradient><linearGradient id="g588" href="#U" x1="192.9" y1="127.1" x2="192.8" y2="124.6"><stop stop-color="#00ff89"/><stop offset="1" stop-color="#00ff40"/></linearGradient><linearGradient id="g589" href="#U" x1="205.1" y1="126.6" x2="205.0" y2="124.2"><stop stop-color="#00ff84"/><stop offset="1" stop-color="#00ff3c"/></linearGradient><linearGradient id="g590" href="#U" x1="229.4" y1="126.0" x2="229.4" y2="124.0"><stop stop-color="#00ff82"/><stop offset="1" stop-color="#00ff3e"/></linearGradient><linearGradient id="g591" href="#U" x1="217.2" y1="126.2" x2="217.2" y2="124.0"><stop stop-color="#00ff82"/><stop offset="1" stop-color="#00ff3c"/></linearGradient><linearGradient id="g592" href="#U" x1="125.7" y1="128.6" x2="125.8" y2="125.1"><stop stop-color="#00ff87"/><stop offset="1" stop-color="#00ff31"/></linearGradient><linearGradient id="g593" href="#U" x1="138.0" y1="128.6" x2="138.0" y2="125.1"><stop stop-color="#00ff84"/><stop offset="1" stop-color="#00ff2f"/></linearGradient><linearGradient id="g594" href="#U" x1="113.4" y1="128.3" x2="113.6" y2="124.7"><stop stop-color="#00ff85"/><stop offset="1" stop-color="#00ff2f"/></linearGradient><linearGradient id="g595" href="#U" x1="150.2" y1="128.2" x2="150.2" y2="124.8"><stop stop-color="#00ff7f"/><stop offset="1" stop-color="#00ff2b"/></linearGradient><linearGradient id="g596" href="#U" x1="162.4" y1="127.7" x2="162.3" y2="124.3"><stop stop-color="#00ff78"/><stop offset="1" stop-color="#00ff25"/></linearGradient><linearGradient id="g597" href="#U" x1="174.6" y1="127.0" x2="174.6" y2="123.7"><stop stop-color="#00ff70"/><stop offset="1" stop-color="#00ff1e"/></linearGradient><linearGradient id="g598" href="#U" x1="186.9" y1="126.3" x2="186.8" y2="123.1"><stop stop-color="#00ff69"/><stop offset="1" stop-color="#00ff18"/></linearGradient><linearGradient id="g599" href="#U" x1="199.0" y1="125.8" x2="199.0" y2="122.7"><stop stop-color="#00ff64"/><stop offset="1" stop-color="#00ff15"/></linearGradient><linearGradient id="g600" href="#U" x1="223.4" y1="125.1" x2="223.4" y2="122.5"><stop stop-color="#00ff61"/><stop offset="1" stop-color="#00ff16"/></linearGradient><linearGradient id="g601" href="#U" x1="211.2" y1="125.3" x2="211.2" y2="122.5"><stop stop-color="#00ff61"/><stop offset="1" stop-color="#00ff14"/></linearGradient><linearGradient id="g602" href="#U" x1="131.8" y1="127.1" x2="131.8" y2="122.9"><stop stop-color="#00ff5d"/><stop offset="1" stop-color="#00ff01"/></linearGradient><linearGradient id="g603" href="#U" x1="119.5" y1="126.9" x2="119.6" y2="122.6"><stop stop-color="#00ff5d"/><stop offset="1" stop-color="#00ff00"/></linearGradient><linearGradient id="g604" href="#U" x1="144.0" y1="126.9" x2="144.0" y2="122.8"><stop stop-color="#00ff59"/><stop offset="0.98" stop-color="#00ff00"/><stop offset="1" stop-color="#02ff00"/></linearGradient><linearGradient id="g605" href="#U" x1="156.3" y1="126.4" x2="156.2" y2="122.4"><stop stop-color="#00ff53"/><stop offset="0.93" stop-color="#00ff00"/><stop offset="1" stop-color="#07ff00"/></linearGradient><linearGradient id="g606" href="#U" x1="168.5" y1="125.8" x2="168.5" y2="121.9"><stop stop-color="#00ff4c"/><stop offset="0.86" stop-color="#00ff00"/><stop offset="1" stop-color="#0dff00"/></linearGradient><linearGradient id="g607" href="#U" x1="180.8" y1="125.2" x2="180.7" y2="121.3"><stop stop-color="#00ff45"/><stop offset="0.79" stop-color="#00ff00"/><stop offset="1" stop-color="#13ff00"/></linearGradient><linearGradient id="g608" href="#U" x1="193.0" y1="124.6" x2="192.9" y2="120.9"><stop stop-color="#00ff40"/><stop offset="0.74" stop-color="#00ff00"/><stop offset="1" stop-color="#17ff00"/></linearGradient><linearGradient id="g609" href="#U" x1="217.4" y1="124.0" x2="217.4" y2="120.6"><stop stop-color="#00ff3c"/><stop offset="0.73" stop-color="#00ff00"/><stop offset="1" stop-color="#17ff00"/></linearGradient><linearGradient id="g610" href="#U" x1="205.2" y1="124.2" x2="205.1" y2="120.6"><stop stop-color="#00ff3c"/><stop offset="0.71" stop-color="#00ff00"/><stop offset="1" stop-color="#18ff00"/></linearGradient><linearGradient id="g611" href="#U" x1="125.5" y1="125.1" x2="125.6" y2="120.2"><stop stop-color="#00ff31"/><stop offset="0.50" stop-color="#00ff00"/><stop offset="1" stop-color="#32ff00"/></linearGradient><linearGradient id="g612" href="#U" x1="137.8" y1="125.1" x2="137.9" y2="120.3"><stop stop-color="#00ff30"/><stop offset="0.49" stop-color="#00ff00"/><stop offset="1" stop-color="#32ff00"/></linearGradient><linearGradient id="g613" href="#U" x1="150.1" y1="124.8" x2="150.1" y2="120.0"><stop stop-color="#00ff2b"/><stop offset="0.44" stop-color="#00ff00"/><stop offset="1" stop-color="#36ff00"/></linearGradient><linearGradient id="g614" href="#U" x1="162.4" y1="124.3" x2="162.3" y2="119.6"><stop stop-color="#00ff25"/><stop offset="0.38" stop-color="#00ff00"/><stop offset="1" stop-color="#3cff00"/></linearGradient><linearGradient id="g615" href="#U" x1="174.7" y1="123.7" x2="174.6" y2="119.1"><stop stop-color="#00ff1e"/><stop offset="0.32" stop-color="#00ff00"/><stop offset="1" stop-color="#41ff00"/></linearGradient><linearGradient id="g616" href="#U" x1="186.9" y1="123.1" x2="186.8" y2="118.6"><stop stop-color="#00ff18"/><stop offset="0.26" stop-color="#00ff00"/><stop offset="1" stop-color="#46ff00"/></linearGradient><linearGradient id="g617" href="#U" x1="211.4" y1="122.5" x2="211.3" y2="118.3"><stop stop-color="#00ff14"/><stop offset="0.22" stop-color="#00ff00"/><stop offset="1" stop-color="#47ff00"/></linearGradient><linearGradient id="g618" href="#U" x1="199.1" y1="122.7" x2="199.1" y2="118.3"><stop stop-color="#00ff15"/><stop offset="0.22" stop-color="#00ff00"/><stop offset="1" stop-color="#48ff00"/></linearGradient><linearGradient id="g619" href="#U" x1="131.6" y1="122.9" x2="131.7" y2="117.3"><stop stop-color="#00ff01"/><stop offset="0.01" stop-color="#00ff00"/><stop offset="1" stop-color="#68ff00"/></linearGradient><linearGradient id="g620" href="#U" x1="143.9" y1="122.8" x2="143.9" y2="117.3"><stop stop-color="#01ff00"/><stop offset="1" stop-color="#6aff00"/></linearGradient><linearGradient id="g621" href="#U" x1="156.3" y1="122.4" x2="156.2" y2="117.0"><stop stop-color="#07ff00"/><stop offset="1" stop-color="#6eff00"/></linearGradient><linearGradient id="g622" href="#U" x1="168.5" y1="121.8" x2="168.4" y2="116.5"><stop stop-color="#0dff00"/><stop offset="1" stop-color="#73ff00"/></linearGradient><linearGradient id="g623" href="#U" x1="180.8" y1="121.3" x2="180.7" y2="116.0"><stop stop-color="#13ff00"/><stop offset="1" stop-color="#78ff00"/></linearGradient><linearGradient id="g624" href="#U" x1="193.1" y1="120.9" x2="193.0" y2="115.7"><stop stop-color="#17ff00"/><stop offset="1" stop-color="#7bff00"/></linearGradient><linearGradient id="g625" href="#U" x1="205.3" y1="120.6" x2="205.3" y2="115.6"><stop stop-color="#18ff00"/><stop offset="1" stop-color="#7bff00"/></linearGradient><linearGradient id="g626" href="#U" x1="137.7" y1="120.3" x2="137.7" y2="114.1"><stop stop-color="#32ff00"/><stop offset="1" stop-color="#a2ff00"/></linearGradient><linearGradient id="g627" href="#U" x1="150.1" y1="120.0" x2="150.0" y2="113.9"><stop stop-color="#36ff00"/><stop offset="1" stop-color="#a5ff00"/></linearGradient><linearGradient id="g628" href="#U" x1="162.4" y1="119.6" x2="162.3" y2="113.5"><stop stop-color="#3bff00"/><stop offset="1" stop-color="#aaff00"/></linearGradient><linearGradient id="g629" href="#U" x1="174.7" y1="119.1" x2="174.6" y2="113.1"><stop stop-color="#41ff00"/><stop offset="1" stop-color="#aeff00"/></linearGradient><linearGradient id="g630" href="#U" x1="187.0" y1="118.6" x2="186.9" y2="112.7"><stop stop-color="#46ff00"/><stop offset="1" stop-color="#b2ff00"/></linearGradient><linearGradient id="g631" href="#U" x1="199.2" y1="118.3" x2="199.2" y2="112.6"><stop stop-color="#48ff00"/><stop offset="1" stop-color="#b2ff00"/></linearGradient><linearGradient id="g632" href="#U" x1="143.8" y1="117.3" x2="143.8" y2="110.3"><stop stop-color="#6aff00"/><stop offset="1" stop-color="#e0ff00"/></linearGradient><linearGradient id="g633" href="#U" x1="156.2" y1="117.0" x2="156.1" y2="110.1"><stop stop-color="#6eff00"/><stop offset="1" stop-color="#e4ff00"/></linearGradient><linearGradient id="g634" href="#U" x1="168.5" y1="116.5" x2="168.5" y2="109.7"><stop stop-color="#73ff00"/><stop offset="1" stop-color="#e8ff00"/></linearGradient><linearGradient id="g635" href="#U" x1="180.9" y1="116.0" x2="180.8" y2="109.3"><stop stop-color="#78ff00"/><stop offset="1" stop-color="#ecff00"/></linearGradient><linearGradient id="g636" href="#U" x1="193.2" y1="115.7" x2="193.1" y2="109.1"><stop stop-color="#7bff00"/><stop offset="1" stop-color="#eeff00"/></linearGradient><linearGradient id="g637" href="#U" x1="150.0" y1="113.9" x2="149.9" y2="106.2"><stop stop-color="#a5ff00"/><stop offset="0.72" stop-color="#ffff00"/><stop offset="1" stop-color="#ffdc00"/></linearGradient><linearGradient id="g638" href="#U" x1="162.4" y1="113.5" x2="162.3" y2="105.8"><stop stop-color="#aaff00"/><stop offset="0.68" stop-color="#ffff00"/><stop offset="1" stop-color="#ffd800"/></linearGradient><linearGradient id="g639" href="#U" x1="174.7" y1="113.1" x2="174.6" y2="105.5"><stop stop-color="#aeff00"/><stop offset="0.65" stop-color="#ffff00"/><stop offset="1" stop-color="#ffd400"/></linearGradient><linearGradient id="g640" href="#U" x1="187.0" y1="112.7" x2="187.0" y2="105.2"><stop stop-color="#b2ff00"/><stop offset="0.63" stop-color="#ffff00"/><stop offset="1" stop-color="#ffd100"/></linearGradient><linearGradient id="g641" href="#U" x1="156.1" y1="110.1" x2="156.1" y2="101.6"><stop stop-color="#e4ff00"/><stop offset="0.21" stop-color="#ffff00"/><stop offset="1" stop-color="#ff9600"/></linearGradient><linearGradient id="g642" href="#U" x1="168.5" y1="109.7" x2="168.4" y2="101.2"><stop stop-color="#e8ff00"/><stop offset="0.17" stop-color="#ffff00"/><stop offset="1" stop-color="#ff9200"/></linearGradient><linearGradient id="g643" href="#U" x1="180.9" y1="109.3" x2="180.8" y2="100.9"><stop stop-color="#ecff00"/><stop offset="0.14" stop-color="#ffff00"/><stop offset="1" stop-color="#ff8e00"/></linearGradient><linearGradient id="g644" href="#U" x1="162.3" y1="105.8" x2="162.2" y2="96.5"><stop stop-color="#ffd800"/><stop offset="1" stop-color="#ff4c00"/></linearGradient><linearGradient id="g645" href="#U" x1="174.7" y1="105.5" x2="174.7" y2="96.2"><stop stop-color="#ffd400"/><stop offset="1" stop-color="#ff4800"/></linearGradient><linearGradient id="g646" href="#U" x1="168.5" y1="101.2" x2="168.4" y2="91.0"><stop stop-color="#ff9200"/><stop offset="1" stop-color="#ff0000"/></linearGradient></defs><g stroke="#1c1c1c" stroke-width="0.5" stroke-linejoin="round"><path d="M168.4 67.9L174.6 62.2L168.4 56.2L162.3 62.3Z" fill="url(#g312)"/><path d="M162.4 73.5L168.4 67.9L162.3 62.3L156.2 68.0Z" fill="url(#g313)"/><path d="M174.5 73.3L180.7 67.9L174.6 62.2L168.4 67.9Z" fill="url(#g314)"/><path d="M156.3 78.7L162.4 73.5L156.2 68.0L150.2 73.6Z" fill="url(#g315)"/><path d="M168.4 78.6L174.5 73.3L168.4 67.9L162.4 73.5Z" fill="url(#g316)"/><path d="M180.6 78.5L186.7 73.3L180.7 67.9L174.5 73.3Z" fill="url(#g317)"/><path d="M150.2 83.8L156.3 78.7L150.2 73.6L144.1 78.8Z" fill="url(#g318)"/><path d="M162.4 83.6L168.4 78.6L162.4 73.5L156.3 78.7Z" fill="url(#g319)"/><path d="M174.5 83.4L180.6 78.5L174.5 73.3L168.4 78.6Z" fill="url(#g320)"/><path d="M186.7 83.3L192.8 78.5L186.7 73.3L180.6 78.5Z" fill="url(#g321)"/><path d="M144.2 88.5L150.2 83.8L144.1 78.8L138.1 83.8Z" fill="url(#g322)"/><path d="M156.3 88.4L162.4 83.6L156.3 78.7L150.2 83.8Z" fill="url(#g323)"/><path d="M168.4 88.2L174.5 83.4L168.4 78.6L162.4 83.6Z" fill="url(#g324)"/><path d="M192.7 87.8L198.8 83.4L192.8 78.5L186.7 83.3Z" fill="url(#g325)"/><path d="M180.6 87.9L186.7 83.3L180.6 78.5L174.5 83.4Z" fill="url(#g326)"/><path d="M138.2 93.0L144.2 88.5L138.1 83.8L132.0 88.4Z" fill="url(#g327)"/><path d="M150.3 93.0L156.3 88.4L150.2 83.8L144.2 88.5Z" fill="url(#g328)"/><path d="M162.4 92.7L168.4 88.2L162.4 83.6L156.3 88.4Z" fill="url(#g329)"/><path d="M174.5 92.4L180.6 87.9L174.5 83.4L168.4 88.2Z" fill="url(#g330)"/><path d="M198.8 92.1L204.9 87.9L198.8 83.4L192.7 87.8Z" fill="url(#g331)"/><path d="M186.6 92.2L192.7 87.8L186.7 83.3L180.6 87.9Z" fill="url(#g332)"/><path d="M132.1 97.2L138.2 93.0L132.0 88.4L126.0 92.8Z" fill="url(#g333)"/><path d="M144.2 97.3L150.3 93.0L144.2 88.5L138.2 93.0Z" fill="url(#g334)"/><path d="M156.3 97.1L162.4 92.7L156.3 88.4L150.3 93.0Z" fill="url(#g335)"/><path d="M168.4 96.7L174.5 92.4L168.4 88.2L162.4 92.7Z" fill="url(#g336)"/><path d="M204.8 96.1L210.9 92.2L204.9 87.9L198.8 92.1Z" fill="url(#g337)"/><path d="M180.6 96.4L186.6 92.2L180.6 87.9L174.5 92.4Z" fill="url(#g338)"/><path d="M192.7 96.2L198.8 92.1L192.7 87.8L186.6 92.2Z" fill="url(#g339)"/><path d="M138.2 101.3L144.2 97.3L138.2 93.0L132.1 97.2Z" fill="url(#g340)"/><path d="M126.1 101.2L132.1 97.2L126.0 92.8L120.0 96.9Z" fill="url(#g341)"/><path d="M150.3 101.2L156.3 97.1L150.3 93.0L144.2 97.3Z" fill="url(#g342)"/><path d="M162.4 100.8L168.4 96.7L162.4 92.7L156.3 97.1Z" fill="url(#g343)"/><path d="M174.5 100.5L180.6 96.4L174.5 92.4L168.4 96.7Z" fill="url(#g344)"/><path d="M210.8 99.8L216.9 96.2L210.9 92.2L204.8 96.1Z" fill="url(#g345)"/><path d="M186.6 100.1L192.7 96.2L186.6 92.2L180.6 96.4Z" fill="url(#g346)"/><path d="M198.7 99.8L204.8 96.1L198.8 92.1L192.7 96.2Z" fill="url(#g347)"/><path d="M132.2 105.1L138.2 101.3L132.1 97.2L126.1 101.2Z" fill="url(#g348)"/><path d="M120.1 104.8L126.1 101.2L120.0 96.9L114.0 100.7Z" fill="url(#g349)"/><path d="M144.3 105.0L150.3 101.2L144.2 97.3L138.2 101.3Z" fill="url(#g350)"/><path d="M156.4 104.7L162.4 100.8L156.3 97.1L150.3 101.2Z" fill="url(#g351)"/><path d="M168.4 104.3L174.5 100.5L168.4 96.7L162.4 100.8Z" fill="url(#g352)"/><path d="M180.5 103.9L186.6 100.1L180.6 96.4L174.5 100.5Z" fill="url(#g353)"/><path d="M216.8 103.2L222.9 99.9L216.9 96.2L210.8 99.8Z" fill="url(#g354)"/><path d="M192.6 103.5L198.7 99.8L192.7 96.2L186.6 100.1Z" fill="url(#g355)"/><path d="M204.7 103.3L210.8 99.8L204.8 96.1L198.7 99.8Z" fill="url(#g356)"/><path d="M126.2 108.6L132.2 105.1L126.1 101.2L120.1 104.8Z" fill="url(#g357)"/><path d="M138.3 108.6L144.3 105.0L138.2 101.3L132.2 105.1Z" fill="url(#g358)"/><path d="M114.1 108.2L120.1 104.8L114.0 100.7L108.0 104.2Z" fill="url(#g359)"/><path d="M150.3 108.4L156.4 104.7L150.3 101.2L144.3 105.0Z" fill="url(#g360)"/><path d="M162.4 108.0L168.4 104.3L162.4 100.8L156.4 104.7Z" fill="url(#g361)"/><path d="M174.5 107.5L180.5 103.9L174.5 100.5L168.4 104.3Z" fill="url(#g362)"/><path d="M222.8 106.3L228.9 103.3L222.9 99.9L216.8 103.2Z" fill="url(#g363)"/><path d="M186.6 107.0L192.6 103.5L186.6 100.1L180.5 103.9Z" fill="url(#g364)"/><path d="M210.8 106.4L216.8 103.2L210.8 99.8L204.7 103.3Z" fill="url(#g365)"/><path d="M198.7 106.6L204.7 103.3L198.7 99.8L192.6 103.5Z" fill="url(#g366)"/><path d="M132.2 112.0L138.3 108.6L132.2 105.1L126.2 108.6Z" fill="url(#g367)"/><path d="M120.2 111.8L126.2 108.6L120.1 104.8L114.1 108.2Z" fill="url(#g368)"/><path d="M144.3 111.8L150.3 108.4L144.3 105.0L138.3 108.6Z" fill="url(#g369)"/><path d="M108.1 111.2L114.1 108.2L108.0 104.2L102.0 107.4Z" fill="url(#g370)"/><path d="M156.4 111.5L162.4 108.0L156.4 104.7L150.3 108.4Z" fill="url(#g371)"/><path d="M168.4 110.9L174.5 107.5L168.4 104.3L162.4 108.0Z" fill="url(#g372)"/><path d="M180.5 110.4L186.6 107.0L180.5 103.9L174.5 107.5Z" fill="url(#g373)"/><path d="M228.9 109.1L234.9 106.4L228.9 103.3L222.8 106.3Z" fill="url(#g374)"/><path d="M192.6 109.9L198.7 106.6L192.6 103.5L186.6 107.0Z" fill="url(#g375)"/><path d="M216.8 109.2L222.8 106.3L216.8 103.2L210.8 106.4Z" fill="url(#g376)"/><path d="M204.7 109.5L210.8 106.4L204.7 103.3L198.7 106.6Z" fill="url(#g377)"/><path d="M126.2 115.0L132.2 112.0L126.2 108.6L120.2 111.8Z" fill="url(#g378)"/><path d="M114.2 114.7L120.2 111.8L114.1 108.2L108.1 111.2Z" fill="url(#g379)"/><path d="M138.3 115.0L144.3 111.8L138.3 108.6L132.2 112.0Z" fill="url(#g380)"/><path d="M150.4 114.7L156.4 111.5L150.3 108.4L144.3 111.8Z" fill="url(#g381)"/><path d="M102.1 114.0L108.1 111.2L102.0 107.4L96.0 110.2Z" fill="url(#g382)"/><path d="M162.4 114.2L168.4 110.9L162.4 108.0L156.4 111.5Z" fill="url(#g383)"/><path d="M174.5 113.6L180.5 110.4L174.5 107.5L168.4 110.9Z" fill="url(#g384)"/><path d="M186.6 113.0L192.6 109.9L186.6 107.0L180.5 110.4Z" fill="url(#g385)"/><path d="M234.9 111.7L240.9 109.2L234.9 106.4L228.9 109.1Z" fill="url(#g386)"/><path d="M198.6 112.5L204.7 109.5L198.7 106.6L192.6 109.9Z" fill="url(#g387)"/><path d="M222.8 111.8L228.9 109.1L222.8 106.3L216.8 109.2Z" fill="url(#g388)"/><path d="M210.7 112.1L216.8 109.2L210.8 106.4L204.7 109.5Z" fill="url(#g389)"/><path d="M120.2 117.8L126.2 115.0L120.2 111.8L114.2 114.7Z" fill="url(#g390)"/><path d="M132.3 117.9L138.3 115.0L132.2 112.0L126.2 115.0Z" fill="url(#g391)"/><path d="M108.2 117.3L114.2 114.7L108.1 111.2L102.1 114.0Z" fill="url(#g392)"/><path d="M144.3 117.7L150.4 114.7L144.3 111.8L138.3 115.0Z" fill="url(#g393)"/><path d="M156.4 117.2L162.4 114.2L156.4 111.5L150.4 114.7Z" fill="url(#g394)"/><path d="M96.1 116.4L102.1 114.0L96.0 110.2L90.0 112.8Z" fill="url(#g395)"/><path d="M168.4 116.6L174.5 113.6L168.4 110.9L162.4 114.2Z" fill="url(#g396)"/><path d="M180.5 116.0L186.6 113.0L180.5 110.4L174.5 113.6Z" fill="url(#g397)"/><path d="M192.6 115.3L198.6 112.5L192.6 109.9L186.6 113.0Z" fill="url(#g398)"/><path d="M240.9 113.9L246.9 111.6L240.9 109.2L234.9 111.7Z" fill="#00bdff"/><path d="M204.7 114.8L210.7 112.1L204.7 109.5L198.6 112.5Z" fill="url(#g399)"/><path d="M228.8 114.1L234.9 111.7L228.9 109.1L222.8 111.8Z" fill="#00bfff"/><path d="M216.7 114.4L222.8 111.8L216.8 109.2L210.7 112.1Z" fill="url(#g400)"/><path d="M126.3 120.5L132.3 117.9L126.2 115.0L120.2 117.8Z" fill="url(#g401)"/><path d="M114.2 120.2L120.2 117.8L114.2 114.7L108.2 117.3Z" fill="url(#g402)"/><path d="M138.3 120.4L144.3 117.7L138.3 115.0L132.3 117.9Z" fill="url(#g403)"/><path d="M102.1 119.6L108.2 117.3L102.1 114.0L96.1 116.4Z" fill="url(#g404)"/><path d="M150.4 120.0L156.4 117.2L150.4 114.7L144.3 117.7Z" fill="url(#g405)"/><path d="M162.4 119.4L168.4 116.6L162.4 114.2L156.4 117.2Z" fill="url(#g406)"/><path d="M90.1 118.5L96.1 116.4L90.0 112.8L84.0 115.0Z" fill="url(#g407)"/><path d="M174.5 118.7L180.5 116.0L174.5 113.6L168.4 116.6Z" fill="url(#g408)"/><path d="M186.6 118.0L192.6 115.3L186.6 113.0L180.5 116.0Z" fill="#00afff"/><path d="M198.6 117.4L204.7 114.8L198.6 112.5L192.6 115.3Z" fill="#00b5ff"/><path d="M246.9 115.9L253.0 113.8L246.9 111.6L240.9 113.9Z" fill="#00b8ff"/><path d="M210.7 116.8L216.7 114.4L210.7 112.1L204.7 114.8Z" fill="#00b9ff"/><path d="M234.9 116.1L240.9 113.9L234.9 111.7L228.8 114.1Z" fill="#00baff"/><path d="M222.8 116.4L228.8 114.1L222.8 111.8L216.7 114.4Z" fill="#00baff"/><path d="M120.2 122.8L126.3 120.5L120.2 117.8L114.2 120.2Z" fill="#008aff"/><path d="M132.3 122.8L138.3 120.4L132.3 117.9L126.3 120.5Z" fill="#008bff"/><path d="M108.2 122.3L114.2 120.2L108.2 117.3L102.1 119.6Z" fill="#008cff"/><path d="M144.3 122.5L150.4 120.0L144.3 117.7L138.3 120.4Z" fill="#0090ff"/><path d="M96.1 121.5L102.1 119.6L96.1 116.4L90.1 118.5Z" fill="#0093ff"/><path d="M156.4 122.0L162.4 119.4L156.4 117.2L150.4 120.0Z" fill="#0097ff"/><path d="M168.4 121.3L174.5 118.7L168.4 116.6L162.4 119.4Z" fill="#009fff"/><path d="M84.0 120.2L90.1 118.5L84.0 115.0L78.0 116.9Z" fill="url(#g409)"/><path d="M180.5 120.6L186.6 118.0L180.5 116.0L174.5 118.7Z" fill="#00a7ff"/><path d="M192.6 119.9L198.6 117.4L192.6 115.3L186.6 118.0Z" fill="#00aeff"/><path d="M204.7 119.2L210.7 116.8L204.7 114.8L198.6 117.4Z" fill="#00b3ff"/><path d="M253.0 117.5L259.0 115.6L253.0 113.8L246.9 115.9Z" fill="#00b7ff"/><path d="M216.7 118.7L222.8 116.4L216.7 114.4L210.7 116.8Z" fill="#00b7ff"/><path d="M240.9 117.9L246.9 115.9L240.9 113.9L234.9 116.1Z" fill="#00b8ff"/><path d="M228.8 118.2L234.9 116.1L228.8 114.1L222.8 116.4Z" fill="#00b8ff"/><path d="M126.3 124.9L132.3 122.8L126.3 120.5L120.2 122.8Z" fill="#0086ff"/><path d="M114.2 124.7L120.2 122.8L114.2 120.2L108.2 122.3Z" fill="#0086ff"/><path d="M138.3 124.8L144.3 122.5L138.3 120.4L132.3 122.8Z" fill="#0089ff"/><path d="M102.2 124.1L108.2 122.3L102.1 119.6L96.1 121.5Z" fill="#008aff"/><path d="M150.4 124.3L156.4 122.0L150.4 120.0L144.3 122.5Z" fill="#0090ff"/><path d="M90.1 123.1L96.1 121.5L90.1 118.5L84.0 120.2Z" fill="#0093ff"/><path d="M162.4 123.7L168.4 121.3L162.4 119.4L156.4 122.0Z" fill="#0098ff"/><path d="M174.5 122.9L180.5 120.6L174.5 118.7L168.4 121.3Z" fill="#00a0ff"/><path d="M78.0 121.6L84.0 120.2L78.0 116.9L71.9 118.5Z" fill="url(#g410)"/><path d="M186.6 122.2L192.6 119.9L186.6 118.0L180.5 120.6Z" fill="#00a8ff"/><path d="M198.6 121.4L204.7 119.2L198.6 117.4L192.6 119.9Z" fill="#00afff"/><path d="M210.7 120.8L216.7 118.7L210.7 116.8L204.7 119.2Z" fill="#00b4ff"/><path d="M222.8 120.2L228.8 118.2L222.8 116.4L216.7 118.7Z" fill="#00b7ff"/><path d="M234.9 119.8L240.9 117.9L234.9 116.1L228.8 118.2Z" fill="#00b9ff"/><path d="M246.9 119.4L253.0 117.5L246.9 115.9L240.9 117.9Z" fill="#00b9ff"/><path d="M259.0 118.9L265.0 117.0L259.0 115.6L253.0 117.5Z" fill="#00b9ff"/><path d="M120.2 126.7L126.3 124.9L120.2 122.8L114.2 124.7Z" fill="#0085ff"/><path d="M108.2 126.3L114.2 124.7L108.2 122.3L102.2 124.1Z" fill="#0086ff"/><path d="M132.3 126.7L138.3 124.8L132.3 122.8L126.3 124.9Z" fill="#0087ff"/><path d="M144.3 126.4L150.4 124.3L144.3 122.5L138.3 124.8Z" fill="#008cff"/><path d="M96.1 125.5L102.2 124.1L96.1 121.5L90.1 123.1Z" fill="#008dff"/><path d="M156.4 125.8L162.4 123.7L156.4 122.0L150.4 124.3Z" fill="#0093ff"/><path d="M84.0 124.3L90.1 123.1L84.0 120.2L78.0 121.6Z" fill="#0097ff"/><path d="M168.4 125.1L174.5 122.9L168.4 121.3L162.4 123.7Z" fill="#009cff"/><path d="M180.5 124.3L186.6 122.2L180.5 120.6L174.5 122.9Z" fill="#00a5ff"/><path d="M71.9 122.6L78.0 121.6L71.9 118.5L65.9 119.7Z" fill="url(#g411)"/><path d="M192.6 123.5L198.6 121.4L192.6 119.9L186.6 122.2Z" fill="#00adff"/><path d="M204.7 122.7L210.7 120.8L204.7 119.2L198.6 121.4Z" fill="#00b3ff"/><path d="M216.8 122.1L222.8 120.2L216.7 118.7L210.7 120.8Z" fill="#00b8ff"/><path d="M228.8 121.6L234.9 119.8L228.8 118.2L222.8 120.2Z" fill="#00bbff"/><path d="M240.9 121.1L246.9 119.4L240.9 117.9L234.9 119.8Z" fill="#00bcff"/><path d="M253.0 120.6L259.0 118.9L253.0 117.5L246.9 119.4Z" fill="#00bdff"/><path d="M265.1 120.0L271.1 118.2L265.0 117.0L259.0 118.9Z" fill="#00c0ff"/><path d="M114.2 128.2L120.2 126.7L114.2 124.7L108.2 126.3Z" fill="#0087ff"/><path d="M126.3 128.3L132.3 126.7L126.3 124.9L120.2 126.7Z" fill="#0088ff"/><path d="M102.1 127.6L108.2 126.3L102.2 124.1L96.1 125.5Z" fill="#008bff"/><path d="M138.3 128.1L144.3 126.4L138.3 124.8L132.3 126.7Z" fill="#008cff"/><path d="M150.4 127.6L156.4 125.8L150.4 124.3L144.3 126.4Z" fill="#0092ff"/><path d="M90.1 126.6L96.1 125.5L90.1 123.1L84.0 124.3Z" fill="#0093ff"/><path d="M162.4 127.0L168.4 125.1L162.4 123.7L156.4 125.8Z" fill="#009bff"/><path d="M78.0 125.1L84.0 124.3L78.0 121.6L71.9 122.6Z" fill="url(#g412)"/><path d="M174.5 126.2L180.5 124.3L174.5 122.9L168.4 125.1Z" fill="#00a4ff"/><path d="M186.6 125.3L192.6 123.5L186.6 122.2L180.5 124.3Z" fill="#00adff"/><path d="M65.8 123.3L71.9 122.6L65.9 119.7L59.8 120.6Z" fill="url(#g413)"/><path d="M198.6 124.6L204.7 122.7L198.6 121.4L192.6 123.5Z" fill="#00b4ff"/><path d="M210.7 123.8L216.8 122.1L210.7 120.8L204.7 122.7Z" fill="#00bbff"/><path d="M222.8 123.2L228.8 121.6L222.8 120.2L216.8 122.1Z" fill="#00bfff"/><path d="M234.9 122.7L240.9 121.1L234.9 119.8L228.8 121.6Z" fill="url(#g414)"/><path d="M247.0 122.2L253.0 120.6L246.9 119.4L240.9 121.1Z" fill="url(#g415)"/><path d="M259.1 121.6L265.1 120.0L259.0 118.9L253.0 120.6Z" fill="url(#g416)"/><path d="M271.2 120.8L277.2 119.0L271.1 118.2L265.1 120.0Z" fill="url(#g417)"/><path d="M120.2 129.6L126.3 128.3L120.2 126.7L114.2 128.2Z" fill="url(#g418)"/><path d="M108.2 129.2L114.2 128.2L108.2 126.3L102.1 127.6Z" fill="url(#g419)"/><path d="M132.3 129.6L138.3 128.1L132.3 126.7L126.3 128.3Z" fill="url(#g420)"/><path d="M96.1 128.4L102.1 127.6L96.1 125.5L90.1 126.6Z" fill="url(#g421)"/><path d="M144.3 129.2L150.4 127.6L144.3 126.4L138.3 128.1Z" fill="url(#g422)"/><path d="M156.4 128.6L162.4 127.0L156.4 125.8L150.4 127.6Z" fill="url(#g423)"/><path d="M84.0 127.2L90.1 126.6L84.0 124.3L78.0 125.1Z" fill="url(#g424)"/><path d="M168.4 127.8L174.5 126.2L168.4 125.1L162.4 127.0Z" fill="url(#g425)"/><path d="M71.9 125.6L78.0 125.1L71.9 122.6L65.8 123.3Z" fill="url(#g426)"/><path d="M180.5 127.0L186.6 125.3L180.5 124.3L174.5 126.2Z" fill="url(#g427)"/><path d="M192.6 126.2L198.6 124.6L192.6 123.5L186.6 125.3Z" fill="url(#g428)"/><path d="M204.7 125.4L210.7 123.8L204.7 122.7L198.6 124.6Z" fill="url(#g429)"/><path d="M59.7 123.6L65.8 123.3L59.8 120.6L53.7 121.2Z" fill="url(#g430)"/><path d="M216.8 124.7L222.8 123.2L216.8 122.1L210.7 123.8Z" fill="url(#g431)"/><path d="M228.9 124.2L234.9 122.7L228.8 121.6L222.8 123.2Z" fill="url(#g432)"/><path d="M241.0 123.6L247.0 122.2L240.9 121.1L234.9 122.7Z" fill="url(#g433)"/><path d="M253.1 123.1L259.1 121.6L253.0 120.6L247.0 122.2Z" fill="url(#g434)"/><path d="M265.2 122.4L271.2 120.8L265.1 120.0L259.1 121.6Z" fill="url(#g435)"/><path d="M277.3 121.3L283.3 119.4L277.2 119.0L271.2 120.8Z" fill="url(#g436)"/><path d="M114.2 130.5L120.2 129.6L114.2 128.2L108.2 129.2Z" fill="url(#g437)"/><path d="M126.2 130.6L132.3 129.6L126.3 128.3L120.2 129.6Z" fill="url(#g438)"/><path d="M102.1 129.9L108.2 129.2L102.1 127.6L96.1 128.4Z" fill="url(#g439)"/><path d="M138.3 130.4L144.3 129.2L138.3 128.1L132.3 129.6Z" fill="url(#g440)"/><path d="M90.0 128.9L96.1 128.4L90.1 126.6L84.0 127.2Z" fill="url(#g441)"/><path d="M150.3 129.9L156.4 128.6L150.4 127.6L144.3 129.2Z" fill="url(#g442)"/><path d="M162.4 129.2L168.4 127.8L162.4 127.0L156.4 128.6Z" fill="url(#g443)"/><path d="M77.9 127.5L84.0 127.2L78.0 125.1L71.9 125.6Z" fill="url(#g444)"/><path d="M174.5 128.4L180.5 127.0L174.5 126.2L168.4 127.8Z" fill="url(#g445)"/><path d="M186.6 127.6L192.6 126.2L186.6 125.3L180.5 127.0Z" fill="url(#g446)"/><path d="M65.8 125.6L71.9 125.6L65.8 123.3L59.7 123.6Z" fill="url(#g447)"/><path d="M198.7 126.8L204.7 125.4L198.6 124.6L192.6 126.2Z" fill="url(#g448)"/><path d="M210.8 126.0L216.8 124.7L210.7 123.8L204.7 125.4Z" fill="url(#g449)"/><path d="M222.9 125.4L228.9 124.2L222.8 123.2L216.8 124.7Z" fill="url(#g450)"/><path d="M53.6 123.5L59.7 123.6L53.7 121.2L47.6 121.4Z" fill="url(#g451)"/><path d="M235.0 124.9L241.0 123.6L234.9 122.7L228.9 124.2Z" fill="url(#g452)"/><path d="M247.1 124.4L253.1 123.1L247.0 122.2L241.0 123.6Z" fill="url(#g453)"/><path d="M259.2 123.7L265.2 122.4L259.1 121.6L253.1 123.1Z" fill="url(#g454)"/><path d="M271.3 122.8L277.3 121.3L271.2 120.8L265.2 122.4Z" fill="url(#g455)"/><path d="M283.4 121.4L289.4 119.5L283.3 119.4L277.3 121.3Z" fill="url(#g456)"/><path d="M120.2 131.4L126.2 130.6L120.2 129.6L114.2 130.5Z" fill="url(#g457)"/><path d="M108.1 131.0L114.2 130.5L108.2 129.2L102.1 129.9Z" fill="url(#g458)"/><path d="M132.2 131.3L138.3 130.4L132.3 129.6L126.2 130.6Z" fill="url(#g459)"/><path d="M96.0 130.2L102.1 129.9L96.1 128.4L90.0 128.9Z" fill="url(#g460)"/><path d="M144.3 131.0L150.3 129.9L144.3 129.2L138.3 130.4Z" fill="url(#g461)"/><path d="M156.4 130.4L162.4 129.2L156.4 128.6L150.3 129.9Z" fill="url(#g462)"/><path d="M83.9 129.0L90.0 128.9L84.0 127.2L77.9 127.5Z" fill="url(#g463)"/><path d="M168.5 129.6L174.5 128.4L168.4 127.8L162.4 129.2Z" fill="url(#g464)"/><path d="M71.8 127.3L77.9 127.5L71.9 125.6L65.8 125.6Z" fill="url(#g465)"/><path d="M180.5 128.8L186.6 127.6L180.5 127.0L174.5 128.4Z" fill="url(#g466)"/><path d="M192.6 127.9L198.7 126.8L192.6 126.2L186.6 127.6Z" fill="url(#g467)"/><path d="M59.6 125.3L65.8 125.6L59.7 123.6L53.6 123.5Z" fill="url(#g468)"/><path d="M204.7 127.2L210.8 126.0L204.7 125.4L198.7 126.8Z" fill="url(#g469)"/><path d="M216.8 126.5L222.9 125.4L216.8 124.7L210.8 126.0Z" fill="url(#g470)"/><path d="M228.9 125.9L235.0 124.9L228.9 124.2L222.9 125.4Z" fill="url(#g471)"/><path d="M241.0 125.4L247.1 124.4L241.0 123.6L235.0 124.9Z" fill="url(#g472)"/><path d="M253.1 124.9L259.2 123.7L253.1 123.1L247.1 124.4Z" fill="url(#g473)"/><path d="M265.3 124.2L271.3 122.8L265.2 122.4L259.2 123.7Z" fill="url(#g474)"/><path d="M277.4 123.1L283.4 121.4L277.3 121.3L271.3 122.8Z" fill="url(#g475)"/><path d="M114.1 131.7L120.2 131.4L114.2 130.5L108.1 131.0Z" fill="url(#g476)"/><path d="M126.2 131.9L132.2 131.3L126.2 130.6L120.2 131.4Z" fill="url(#g477)"/><path d="M102.0 131.1L108.1 131.0L102.1 129.9L96.0 130.2Z" fill="url(#g478)"/><path d="M138.2 131.7L144.3 131.0L138.3 130.4L132.2 131.3Z" fill="url(#g479)"/><path d="M89.9 130.1L96.0 130.2L90.0 128.9L83.9 129.0Z" fill="url(#g480)"/><path d="M150.3 131.2L156.4 130.4L150.3 129.9L144.3 131.0Z" fill="url(#g481)"/><path d="M162.4 130.5L168.5 129.6L162.4 129.2L156.4 130.4Z" fill="url(#g482)"/><path d="M77.8 128.6L83.9 129.0L77.9 127.5L71.8 127.3Z" fill="url(#g483)"/><path d="M174.5 129.7L180.5 128.8L174.5 128.4L168.5 129.6Z" fill="url(#g484)"/><path d="M186.6 128.8L192.6 127.9L186.6 127.6L180.5 128.8Z" fill="url(#g485)"/><path d="M65.6 126.7L71.8 127.3L65.8 125.6L59.6 125.3Z" fill="url(#g486)"/><path d="M198.7 128.0L204.7 127.2L198.7 126.8L192.6 127.9Z" fill="url(#g487)"/><path d="M210.8 127.3L216.8 126.5L210.8 126.0L204.7 127.2Z" fill="url(#g488)"/><path d="M222.9 126.7L228.9 125.9L222.9 125.4L216.8 126.5Z" fill="url(#g489)"/><path d="M235.0 126.2L241.0 125.4L235.0 124.9L228.9 125.9Z" fill="url(#g490)"/><path d="M247.1 125.8L253.1 124.9L247.1 124.4L241.0 125.4Z" fill="url(#g491)"/><path d="M259.3 125.2L265.3 124.2L259.2 123.7L253.1 124.9Z" fill="url(#g492)"/><path d="M271.4 124.4L277.4 123.1L271.3 122.8L265.3 124.2Z" fill="url(#g493)"/><path d="M120.1 132.0L126.2 131.9L120.2 131.4L114.1 131.7Z" fill="url(#g494)"/><path d="M108.0 131.7L114.1 131.7L108.1 131.0L102.0 131.1Z" fill="url(#g495)"/><path d="M132.2 132.0L138.2 131.7L132.2 131.3L126.2 131.9Z" fill="url(#g496)"/><path d="M95.9 130.8L102.0 131.1L96.0 130.2L89.9 130.1Z" fill="url(#g497)"/><path d="M144.3 131.7L150.3 131.2L144.3 131.0L138.2 131.7Z" fill="url(#g498)"/><path d="M156.4 131.1L162.4 130.5L156.4 130.4L150.3 131.2Z" fill="url(#g499)"/><path d="M83.8 129.5L89.9 130.1L83.9 129.0L77.8 128.6Z" fill="url(#g500)"/><path d="M168.4 130.3L174.5 129.7L168.5 129.6L162.4 130.5Z" fill="url(#g501)"/><path d="M71.6 127.7L77.8 128.6L71.8 127.3L65.6 126.7Z" fill="url(#g502)"/><path d="M180.6 129.5L186.6 128.8L180.5 128.8L174.5 129.7Z" fill="url(#g503)"/><path d="M192.7 128.7L198.7 128.0L192.6 127.9L186.6 128.8Z" fill="url(#g504)"/><path d="M204.8 128.0L210.8 127.3L204.7 127.2L198.7 128.0Z" fill="url(#g505)"/><path d="M216.9 127.3L222.9 126.7L216.8 126.5L210.8 127.3Z" fill="url(#g506)"/><path d="M229.0 126.8L235.0 126.2L228.9 125.9L222.9 126.7Z" fill="url(#g507)"/><path d="M241.1 126.4L247.1 125.8L241.0 125.4L235.0 126.2Z" fill="url(#g508)"/><path d="M253.3 126.0L259.3 125.2L253.1 124.9L247.1 125.8Z" fill="url(#g509)"/><path d="M265.4 125.4L271.4 124.4L265.3 124.2L259.3 125.2Z" fill="url(#g510)"/><path d="M114.0 131.8L120.1 132.0L114.1 131.7L108.0 131.7Z" fill="url(#g511)"/><path d="M126.1 132.0L132.2 132.0L126.2 131.9L120.1 132.0Z" fill="url(#g512)"/><path d="M101.9 131.1L108.0 131.7L102.0 131.1L95.9 130.8Z" fill="url(#g513)"/><path d="M138.2 131.8L144.3 131.7L138.2 131.7L132.2 132.0Z" fill="url(#g514)"/><path d="M150.3 131.4L156.4 131.1L150.3 131.2L144.3 131.7Z" fill="url(#g515)"/><path d="M89.8 130.0L95.9 130.8L89.9 130.1L83.8 129.5Z" fill="url(#g516)"/><path d="M162.4 130.7L168.4 130.3L162.4 130.5L156.4 131.1Z" fill="url(#g517)"/><path d="M77.6 128.4L83.8 129.5L77.8 128.6L71.6 127.7Z" fill="url(#g518)"/><path d="M174.5 129.9L180.6 129.5L174.5 129.7L168.4 130.3Z" fill="url(#g519)"/><path d="M186.6 129.1L192.7 128.7L186.6 128.8L180.6 129.5Z" fill="url(#g520)"/><path d="M198.7 128.3L204.8 128.0L198.7 128.0L192.7 128.7Z" fill="url(#g521)"/><path d="M210.9 127.7L216.9 127.3L210.8 127.3L204.8 128.0Z" fill="url(#g522)"/><path d="M223.0 127.2L229.0 126.8L222.9 126.7L216.9 127.3Z" fill="url(#g523)"/><path d="M235.1 126.8L241.1 126.4L235.0 126.2L229.0 126.8Z" fill="url(#g524)"/><path d="M247.3 126.4L253.3 126.0L247.1 125.8L241.1 126.4Z" fill="url(#g525)"/><path d="M259.4 126.0L265.4 125.4L259.3 125.2L253.3 126.0Z" fill="url(#g526)"/><path d="M120.0 131.6L126.1 132.0L120.1 132.0L114.0 131.8Z" fill="url(#g527)"/><path d="M132.1 131.6L138.2 131.8L132.2 132.0L126.1 132.0Z" fill="url(#g528)"/><path d="M107.9 131.1L114.0 131.8L108.0 131.7L101.9 131.1Z" fill="url(#g529)"/><path d="M144.2 131.3L150.3 131.4L144.3 131.7L138.2 131.8Z" fill="url(#g530)"/><path d="M95.8 130.2L101.9 131.1L95.9 130.8L89.8 130.0Z" fill="url(#g531)"/><path d="M156.3 130.7L162.4 130.7L156.4 131.1L150.3 131.4Z" fill="url(#g532)"/><path d="M83.6 128.8L89.8 130.0L83.8 129.5L77.6 128.4Z" fill="url(#g533)"/><path d="M168.4 130.0L174.5 129.9L168.4 130.3L162.4 130.7Z" fill="url(#g534)"/><path d="M180.6 129.2L186.6 129.1L180.6 129.5L174.5 129.9Z" fill="url(#g535)"/><path d="M192.7 128.5L198.7 128.3L192.7 128.7L186.6 129.1Z" fill="url(#g536)"/><path d="M204.8 127.8L210.9 127.7L204.8 128.0L198.7 128.3Z" fill="url(#g537)"/><path d="M217.0 127.3L223.0 127.2L216.9 127.3L210.9 127.7Z" fill="url(#g538)"/><path d="M229.1 126.9L235.1 126.8L229.0 126.8L223.0 127.2Z" fill="url(#g539)"/><path d="M241.3 126.6L247.3 126.4L241.1 126.4L235.1 126.8Z" fill="url(#g540)"/><path d="M253.4 126.3L259.4 126.0L253.3 126.0L247.3 126.4Z" fill="url(#g541)"/><path d="M126.0 130.9L132.1 131.6L126.1 132.0L120.0 131.6Z" fill="url(#g542)"/><path d="M113.9 130.7L120.0 131.6L114.0 131.8L107.9 131.1Z" fill="url(#g543)"/><path d="M138.1 130.8L144.2 131.3L138.2 131.8L132.1 131.6Z" fill="url(#g544)"/><path d="M101.7 129.9L107.9 131.1L101.9 131.1L95.8 130.2Z" fill="url(#g545)"/><path d="M150.3 130.4L156.3 130.7L150.3 131.4L144.2 131.3Z" fill="url(#g546)"/><path d="M89.6 128.7L95.8 130.2L89.8 130.0L83.6 128.8Z" fill="url(#g547)"/><path d="M162.4 129.8L168.4 130.0L162.4 130.7L156.3 130.7Z" fill="url(#g548)"/><path d="M174.5 129.0L180.6 129.2L174.5 129.9L168.4 130.0Z" fill="url(#g549)"/><path d="M186.7 128.3L192.7 128.5L186.6 129.1L180.6 129.2Z" fill="url(#g550)"/><path d="M198.8 127.6L204.8 127.8L198.7 128.3L192.7 128.5Z" fill="url(#g551)"/><path d="M211.0 127.1L217.0 127.3L210.9 127.7L204.8 127.8Z" fill="url(#g552)"/><path d="M223.1 126.7L229.1 126.9L223.0 127.2L217.0 127.3Z" fill="url(#g553)"/><path d="M247.4 126.3L253.4 126.3L247.3 126.4L241.3 126.6Z" fill="url(#g554)"/><path d="M235.3 126.4L241.3 126.6L235.1 126.8L229.1 126.9Z" fill="url(#g555)"/><path d="M119.9 129.8L126.0 130.9L120.0 131.6L113.9 130.7Z" fill="url(#g556)"/><path d="M132.0 129.9L138.1 130.8L132.1 131.6L126.0 130.9Z" fill="url(#g557)"/><path d="M107.7 129.3L113.9 130.7L107.9 131.1L101.7 129.9Z" fill="url(#g558)"/><path d="M144.2 129.7L150.3 130.4L144.2 131.3L138.1 130.8Z" fill="url(#g559)"/><path d="M95.6 128.3L101.7 129.9L95.8 130.2L89.6 128.7Z" fill="url(#g560)"/><path d="M156.3 129.2L162.4 129.8L156.3 130.7L150.3 130.4Z" fill="url(#g561)"/><path d="M168.4 128.5L174.5 129.0L168.4 130.0L162.4 129.8Z" fill="url(#g562)"/><path d="M180.6 127.8L186.7 128.3L180.6 129.2L174.5 129.0Z" fill="url(#g563)"/><path d="M192.8 127.1L198.8 127.6L192.7 128.5L186.7 128.3Z" fill="url(#g564)"/><path d="M204.9 126.6L211.0 127.1L204.8 127.8L198.8 127.6Z" fill="url(#g565)"/><path d="M241.4 125.9L247.4 126.3L241.3 126.6L235.3 126.4Z" fill="url(#g566)"/><path d="M217.1 126.2L223.1 126.7L217.0 127.3L211.0 127.1Z" fill="url(#g567)"/><path d="M229.2 126.0L235.3 126.4L229.1 126.9L223.1 126.7Z" fill="url(#g568)"/><path d="M125.9 128.6L132.0 129.9L126.0 130.9L119.9 129.8Z" fill="url(#g569)"/><path d="M113.7 128.3L119.9 129.8L113.9 130.7L107.7 129.3Z" fill="url(#g570)"/><path d="M138.1 128.6L144.2 129.7L138.1 130.8L132.0 129.9Z" fill="url(#g571)"/><path d="M101.6 127.5L107.7 129.3L101.7 129.9L95.6 128.3Z" fill="url(#g572)"/><path d="M150.2 128.2L156.3 129.2L150.3 130.4L144.2 129.7Z" fill="url(#g573)"/><path d="M162.4 127.7L168.4 128.5L162.4 129.8L156.3 129.2Z" fill="url(#g574)"/><path d="M174.5 127.0L180.6 127.8L174.5 129.0L168.4 128.5Z" fill="url(#g575)"/><path d="M186.7 126.3L192.8 127.1L186.7 128.3L180.6 127.8Z" fill="url(#g576)"/><path d="M198.9 125.8L204.9 126.6L198.8 127.6L192.8 127.1Z" fill="url(#g577)"/><path d="M235.4 125.1L241.4 125.9L235.3 126.4L229.2 126.0Z" fill="url(#g578)"/><path d="M211.1 125.3L217.1 126.2L211.0 127.1L204.9 126.6Z" fill="url(#g579)"/><path d="M223.2 125.1L229.2 126.0L223.1 126.7L217.1 126.2Z" fill="url(#g580)"/><path d="M119.7 126.9L125.9 128.6L119.9 129.8L113.7 128.3Z" fill="url(#g581)"/><path d="M131.9 127.1L138.1 128.6L132.0 129.9L125.9 128.6Z" fill="url(#g582)"/><path d="M107.6 126.3L113.7 128.3L107.7 129.3L101.6 127.5Z" fill="url(#g583)"/><path d="M144.1 126.9L150.2 128.2L144.2 129.7L138.1 128.6Z" fill="url(#g584)"/><path d="M156.3 126.4L162.4 127.7L156.3 129.2L150.2 128.2Z" fill="url(#g585)"/><path d="M168.4 125.8L174.5 127.0L168.4 128.5L162.4 127.7Z" fill="url(#g586)"/><path d="M180.6 125.2L186.7 126.3L180.6 127.8L174.5 127.0Z" fill="url(#g587)"/><path d="M192.8 124.6L198.9 125.8L192.8 127.1L186.7 126.3Z" fill="url(#g588)"/><path d="M205.0 124.2L211.1 125.3L204.9 126.6L198.9 125.8Z" fill="url(#g589)"/><path d="M229.4 124.0L235.4 125.1L229.2 126.0L223.2 125.1Z" fill="url(#g590)"/><path d="M217.2 124.0L223.2 125.1L217.1 126.2L211.1 125.3Z" fill="url(#g591)"/><path d="M125.8 125.1L131.9 127.1L125.9 128.6L119.7 126.9Z" fill="url(#g592)"/><path d="M138.0 125.1L144.1 126.9L138.1 128.6L131.9 127.1Z" fill="url(#g593)"/><path d="M113.6 124.7L119.7 126.9L113.7 128.3L107.6 126.3Z" fill="url(#g594)"/><path d="M150.2 124.8L156.3 126.4L150.2 128.2L144.1 126.9Z" fill="url(#g595)"/><path d="M162.3 124.3L168.4 125.8L162.4 127.7L156.3 126.4Z" fill="url(#g596)"/><path d="M174.6 123.7L180.6 125.2L174.5 127.0L168.4 125.8Z" fill="url(#g597)"/><path d="M186.8 123.1L192.8 124.6L186.7 126.3L180.6 125.2Z" fill="url(#g598)"/><path d="M199.0 122.7L205.0 124.2L198.9 125.8L192.8 124.6Z" fill="url(#g599)"/><path d="M223.4 122.5L229.4 124.0L223.2 125.1L217.2 124.0Z" fill="url(#g600)"/><path d="M211.2 122.5L217.2 124.0L211.1 125.3L205.0 124.2Z" fill="url(#g601)"/><path d="M131.8 122.9L138.0 125.1L131.9 127.1L125.8 125.1Z" fill="url(#g602)"/><path d="M119.6 122.6L125.8 125.1L119.7 126.9L113.6 124.7Z" fill="url(#g603)"/><path d="M144.0 122.8L150.2 124.8L144.1 126.9L138.0 125.1Z" fill="url(#g604)"/><path d="M156.2 122.4L162.3 124.3L156.3 126.4L150.2 124.8Z" fill="url(#g605)"/><path d="M168.5 121.9L174.6 123.7L168.4 125.8L162.3 124.3Z" fill="url(#g606)"/><path d="M180.7 121.3L186.8 123.1L180.6 125.2L174.6 123.7Z" fill="url(#g607)"/><path d="M192.9 120.9L199.0 122.7L192.8 124.6L186.8 123.1Z" fill="url(#g608)"/><path d="M217.4 120.6L223.4 122.5L217.2 124.0L211.2 122.5Z" fill="url(#g609)"/><path d="M205.1 120.6L211.2 122.5L205.0 124.2L199.0 122.7Z" fill="url(#g610)"/><path d="M125.6 120.2L131.8 122.9L125.8 125.1L119.6 122.6Z" fill="url(#g611)"/><path d="M137.9 120.3L144.0 122.8L138.0 125.1L131.8 122.9Z" fill="url(#g612)"/><path d="M150.1 120.0L156.2 122.4L150.2 124.8L144.0 122.8Z" fill="url(#g613)"/><path d="M162.3 119.6L168.5 121.9L162.3 124.3L156.2 122.4Z" fill="url(#g614)"/><path d="M174.6 119.1L180.7 121.3L174.6 123.7L168.5 121.9Z" fill="url(#g615)"/><path d="M186.8 118.6L192.9 120.9L186.8 123.1L180.7 121.3Z" fill="url(#g616)"/><path d="M211.3 118.3L217.4 120.6L211.2 122.5L205.1 120.6Z" fill="url(#g617)"/><path d="M199.1 118.3L205.1 120.6L199.0 122.7L192.9 120.9Z" fill="url(#g618)"/><path d="M131.7 117.3L137.9 120.3L131.8 122.9L125.6 120.2Z" fill="url(#g619)"/><path d="M143.9 117.3L150.1 120.0L144.0 122.8L137.9 120.3Z" fill="url(#g620)"/><path d="M156.2 117.0L162.3 119.6L156.2 122.4L150.1 120.0Z" fill="url(#g621)"/><path d="M168.4 116.5L174.6 119.1L168.5 121.9L162.3 119.6Z" fill="url(#g622)"/><path d="M180.7 116.0L186.8 118.6L180.7 121.3L174.6 119.1Z" fill="url(#g623)"/><path d="M193.0 115.7L199.1 118.3L192.9 120.9L186.8 118.6Z" fill="url(#g624)"/><path d="M205.3 115.6L211.3 118.3L205.1 120.6L199.1 118.3Z" fill="url(#g625)"/><path d="M137.7 114.1L143.9 117.3L137.9 120.3L131.7 117.3Z" fill="url(#g626)"/><path d="M150.0 113.9L156.2 117.0L150.1 120.0L143.9 117.3Z" fill="url(#g627)"/><path d="M162.3 113.5L168.4 116.5L162.3 119.6L156.2 117.0Z" fill="url(#g628)"/><path d="M174.6 113.1L180.7 116.0L174.6 119.1L168.4 116.5Z" fill="url(#g629)"/><path d="M186.9 112.7L193.0 115.7L186.8 118.6L180.7 116.0Z" fill="url(#g630)"/><path d="M199.2 112.6L205.3 115.6L199.1 118.3L193.0 115.7Z" fill="url(#g631)"/><path d="M143.8 110.3L150.0 113.9L143.9 117.3L137.7 114.1Z" fill="url(#g632)"/><path d="M156.1 110.1L162.3 113.5L156.2 117.0L150.0 113.9Z" fill="url(#g633)"/><path d="M168.5 109.7L174.6 113.1L168.4 116.5L162.3 113.5Z" fill="url(#g634)"/><path d="M180.8 109.3L186.9 112.7L180.7 116.0L174.6 113.1Z" fill="url(#g635)"/><path d="M193.1 109.1L199.2 112.6L193.0 115.7L186.9 112.7Z" fill="url(#g636)"/><path d="M149.9 106.2L156.1 110.1L150.0 113.9L143.8 110.3Z" fill="url(#g637)"/><path d="M162.3 105.8L168.5 109.7L162.3 113.5L156.1 110.1Z" fill="url(#g638)"/><path d="M174.6 105.5L180.8 109.3L174.6 113.1L168.5 109.7Z" fill="url(#g639)"/><path d="M187.0 105.2L193.1 109.1L186.9 112.7L180.8 109.3Z" fill="url(#g640)"/><path d="M156.1 101.6L162.3 105.8L156.1 110.1L149.9 106.2Z" fill="url(#g641)"/><path d="M168.4 101.2L174.6 105.5L168.5 109.7L162.3 105.8Z" fill="url(#g642)"/><path d="M180.8 100.9L187.0 105.2L180.8 109.3L174.6 105.5Z" fill="url(#g643)"/><path d="M162.2 96.5L168.4 101.2L162.3 105.8L156.1 101.6Z" fill="url(#g644)"/><path d="M174.7 96.2L180.8 100.9L174.6 105.5L168.4 101.2Z" fill="url(#g645)"/><path d="M168.4 91.0L174.7 96.2L168.4 101.2L162.2 96.5Z" fill="url(#g646)"/></g>
<path d="M168.4 53.6L168.4 56.5" stroke="#222" stroke-width="0.7"/><path d="M48.3 130.8L48.3 122.5" stroke="#222" stroke-width="0.7"/><path d="M289.4 111.6L289.4 119.5" stroke="#222" stroke-width="0.7"/><path d="M168.4 140.2L168.4 133.3" stroke="#222" stroke-width="0.7"/><circle cx="168.4" cy="53.6" r="2.4" fill="#b00000" stroke="#600" stroke-width="0.4"/><circle cx="168" cy="90.9" r="2.2" fill="#f7c8c8" stroke="#c08080" stroke-width="0.5"/><circle cx="48.3" cy="130.8" r="2.2" fill="#f7c8c8" stroke="#c08080" stroke-width="0.5"/><circle cx="289.4" cy="111.6" r="2.4" fill="#b00000" stroke="#600" stroke-width="0.4"/><circle cx="168.4" cy="133.3" r="2.2" fill="#f7c8c8" stroke="#c08080" stroke-width="0.5"/><circle cx="168.4" cy="140.2" r="2.2" fill="#f7c8c8" stroke="#c08080" stroke-width="0.5"/>
<g font-family="Liberation Sans, sans-serif" font-size="8.1" fill="#222" stroke="#222" stroke-width="0.2"><text x="44.56" y="142.3" text-anchor="end">0.5</text><text x="43.35" y="119" text-anchor="end">1</text><text x="42.14" y="95.7" text-anchor="end">1.5</text><text x="40.92" y="72.4" text-anchor="end">2</text><text x="39.71" y="49.1" text-anchor="end">2.5</text><text x="38.5" y="25.8" text-anchor="end">3</text><text x="173.05" y="243.3">110</text><text x="202.5" y="229.89">120</text><text x="231.95" y="216.48">130</text><text x="261.4" y="203.06">140</text><text x="290.85" y="189.65">150</text><text x="164.75" y="243.3" text-anchor="end">140</text><text x="135.3" y="229.89" text-anchor="end">145</text><text x="105.85" y="216.48" text-anchor="end">150</text><text x="76.4" y="203.06" text-anchor="end">155</text><text x="46.95" y="189.65" text-anchor="end">160</text><text x="272.7" y="230.7" text-anchor="middle" font-size="8.8" textLength="66.9" lengthAdjust="spacingAndGlyphs">A: bent corner (°)</text><text x="64.4" y="230.7" text-anchor="middle" font-size="8.8" textLength="86.6" lengthAdjust="spacingAndGlyphs">B: turning radius (mm)</text><text transform="translate(7.7 106.8) rotate(-90)" text-anchor="middle" font-size="8.6" textLength="72.4" lengthAdjust="spacingAndGlyphs">Breakage rate% (%)</text></g>
</g>
<text x="532.35" y="277.4" text-anchor="middle" font-family="Liberation Serif, serif" font-size="22" fill="#000" stroke="#000" stroke-width="0.15">(b)</text>
<g transform="translate(0.3 286.6)">
<path d="M50.65 180.85L42.7 28M78.68 135.12L74.14 21.3M108.6 125.75L105.57 14.6M138.53 116.37L137.01 7.9M168.45 140L168.45 1.2M286.25 180.85L294.2 28M264.2 137L269.05 22.64M240.26 129.5L243.9 17.28M216.33 122L218.75 11.92M192.39 114.49L193.6 6.56M48.76 144.5L168.45 106.99L288.14 144.5M47.55 121.2L168.45 85.83L289.35 121.2M46.34 97.9L168.45 64.68L290.56 97.9M45.12 74.6L168.45 43.52L291.78 74.6M43.91 51.3L168.45 22.36L292.99 51.3M42.7 28L168.45 1.2L294.2 28" fill="none" stroke="#707070" stroke-width="0.9"/>
<path d="M168.45 234.5L286.25 180.85L168.45 140L50.65 180.85Z" fill="#666666" stroke="#222" stroke-width="0.8"/>
<path d="M278.4 178.1L276.5 179.0L274.6 179.9L272.9 180.6L271.4 181.2L269.2 182.0L266.9 182.7L265.1 183.3L263.4 183.8L260.9 184.5L259.7 184.9L257.1 185.5L255.8 185.9L253.2 186.5L251.9 186.8L249.1 187.4L247.8 187.7L245.1 188.2L243.6 188.5L241.9 188.8L239.3 189.3L237.8 189.6L235.8 189.9L233.4 190.3L231.9 190.5L230.1 190.8L227.4 191.2L225.8 191.4L224.2 191.6L222.1 191.9L219.5 192.2L217.9 192.4L216.3 192.6L214.5 192.8L212.0 193.0L209.7 193.3L208.1 193.4L206.4 193.6L204.7 193.7L202.5 193.9L200.2 194.1L198.0 194.2L196.1 194.3L194.4 194.4L192.6 194.5L190.8 194.6L189.0 194.7L186.9 194.8L184.8 194.9L182.7 195.0L180.6 195.1L178.5 195.1L176.4 195.2L174.4 195.2L172.4 195.3L170.5 195.3L168.6 195.3L166.6 195.3L164.7 195.3L162.7 195.3L160.7 195.3L158.7 195.3L156.7 195.2L154.8 195.2L152.9 195.1L151.0 195.1L149.2 195.0L147.3 194.9L145.5 194.9L143.7 194.8L141.9 194.7L139.8 194.6L137.7 194.5L135.4 194.3L133.2 194.2L131.3 194.0L129.6 193.9L127.9 193.8L126.2 193.6L123.9 193.4L121.5 193.2L119.6 193.0L117.9 192.8L116.3 192.6L114.1 192.4L111.5 192.1L109.9 191.9L108.4 191.7L106.2 191.4L103.8 191.0L102.3 190.8L100.6 190.5L97.8 190.0L96.4 189.8L94.6 189.5L92.1 189.0L90.7 188.7L88.1 188.2L86.5 187.8L84.5 187.4L82.5 186.9L80.6 186.4L78.7 185.9L76.2 185.2L75.0 184.9L72.6 184.2L70.3 183.4L69.2 183.0L67.0 182.2L65.0 181.3L63.0 180.5L61.2 179.5L59.6 178.6L58.7 178.1M122.4 156.0L124.9 155.8L127.1 155.7L128.7 155.6L130.4 155.5L132.3 155.4L134.7 155.3L137.0 155.2L138.8 155.1L140.5 155.0L142.2 155.0L143.9 154.9L146.1 154.8L148.3 154.8L150.5 154.7L152.7 154.6L154.6 154.6L156.4 154.6L158.2 154.5L160.1 154.5L161.9 154.4L163.8 154.4L165.7 154.4L167.6 154.4L169.5 154.3L171.4 154.3L173.4 154.3L175.4 154.3L177.3 154.3L179.3 154.3L181.2 154.3L183.2 154.3L185.3 154.3L187.3 154.3L189.4 154.3L191.4 154.4L193.5 154.4L195.7 154.4L197.8 154.5L199.8 154.5L201.6 154.5L203.3 154.6L205.1 154.6L206.9 154.7L208.8 154.7L211.1 154.8" stroke="#0aefde" stroke-width="1.35" fill="none" stroke-linejoin="round"/>
<path d="M241.4 201.3L239.3 201.5L237.7 201.7L236.0 201.9L233.9 202.2L231.5 202.5L229.5 202.7L227.8 202.8L226.2 203.0L224.3 203.2L221.9 203.4L219.6 203.6L217.7 203.8L216.0 204.0L214.3 204.1L212.6 204.2L210.4 204.4L208.2 204.6L206.0 204.7L203.8 204.8L202.0 205.0L200.3 205.1L198.5 205.2L196.7 205.3L194.9 205.4L192.9 205.4L190.8 205.5L188.7 205.6L186.6 205.7L184.5 205.8L182.4 205.8L180.3 205.9L178.3 205.9L176.4 206.0L174.5 206.0L172.6 206.0L170.7 206.1L168.7 206.1L166.8 206.1L164.9 206.1L162.9 206.1L160.9 206.1L159.0 206.1L157.0 206.1L155.0 206.0L153.0 206.0L151.0 206.0L148.9 205.9L146.9 205.9L144.9 205.8L143.1 205.8L141.2 205.7L139.3 205.6L137.5 205.5L135.6 205.5L133.8 205.4L132.0 205.3L130.1 205.2L128.0 205.1L125.8 204.9L123.6 204.8L121.4 204.7L119.5 204.5L117.7 204.4L116.0 204.3L114.3 204.1L112.5 204.0L110.2 203.8L107.9 203.6L105.7 203.4L104.0 203.2L102.3 203.0L100.7 202.8L98.4 202.6M153.1 145.3L155.2 145.3L157.3 145.2L159.4 145.2L161.5 145.2L163.5 145.2L165.5 145.1L167.4 145.1L169.3 145.1L171.2 145.1L173.1 145.1L175.1 145.1L177.0 145.0L179.0 145.0L180.9 145.0L182.9 145.0" stroke="#0aef6d" stroke-width="1.35" fill="none" stroke-linejoin="round"/>
<path d="M217.2 212.3L214.9 212.5L212.7 212.6L210.8 212.8L209.0 212.9L207.2 213.0L205.4 213.1L203.6 213.2L201.8 213.3L199.7 213.4L197.5 213.5L195.4 213.6L193.3 213.7L191.2 213.8L189.1 213.9L187.2 213.9L185.3 214.0L183.5 214.1L181.6 214.1L179.7 214.2L177.8 214.2L175.9 214.2L174.0 214.3L172.1 214.3L170.2 214.3L168.3 214.3L166.3 214.3L164.4 214.3L162.4 214.3L160.5 214.3L158.5 214.3L156.5 214.3L154.6 214.3L152.6 214.3L150.6 214.2L148.6 214.2L146.6 214.2L144.5 214.1L142.5 214.1L140.4 214.0L138.4 213.9L136.3 213.9L134.3 213.8L132.2 213.7L130.2 213.6L128.4 213.5L126.6 213.4L124.7 213.3L122.9 213.2L121.6 213.2" stroke="#17ef0a" stroke-width="1.35" fill="none" stroke-linejoin="round"/>
<path d="M199.3 220.5L197.1 220.6L195.0 220.7L193.0 220.7L191.2 220.8L189.3 220.9L187.5 220.9L185.6 221.0L183.7 221.0L181.9 221.1L180.0 221.1L178.1 221.2L176.2 221.2L174.3 221.2L172.4 221.3L170.4 221.3L168.4 221.3L166.4 221.3L164.4 221.3L162.4 221.3L160.4 221.3L158.5 221.3L156.5 221.3L154.6 221.3L152.6 221.3L150.7 221.3L148.7 221.2L146.8 221.2L144.9 221.2L142.9 221.1L140.9 221.1L138.8 221.0" stroke="#88ef0a" stroke-width="1.35" fill="none" stroke-linejoin="round"/>
<path d="M184.4 227.3L182.3 227.3L180.3 227.4L178.3 227.4L176.4 227.4L174.5 227.5L172.6 227.5L170.7 227.5L168.7 227.5L166.8 227.6L164.9 227.6L162.9 227.6L161.0 227.6L159.0 227.6L157.1 227.6L155.1 227.5L153.1 227.5" stroke="#efe50a" stroke-width="1.35" fill="none" stroke-linejoin="round"/>
<g fill="#111"><circle cx="48.76" cy="144.5" r="1.1"/><circle cx="47.55" cy="121.2" r="1.1"/><circle cx="46.34" cy="97.9" r="1.1"/><circle cx="45.12" cy="74.6" r="1.1"/><circle cx="43.91" cy="51.3" r="1.1"/><circle cx="42.7" cy="28" r="1.1"/><circle cx="168.45" cy="234.5" r="1.1"/><circle cx="197.9" cy="221.09" r="1.1"/><circle cx="227.35" cy="207.68" r="1.1"/><circle cx="256.8" cy="194.26" r="1.1"/><circle cx="286.25" cy="180.85" r="1.1"/><circle cx="168.45" cy="234.5" r="1.1"/><circle cx="144.89" cy="223.77" r="1.1"/><circle cx="121.33" cy="213.04" r="1.1"/><circle cx="97.77" cy="202.31" r="1.1"/><circle cx="74.21" cy="191.58" r="1.1"/><circle cx="50.65" cy="180.85" r="1.1"/></g>
<defs><linearGradient id="g647" href="#U" x1="168.4" y1="71.5" x2="168.1" y2="61.7"><stop stop-color="#00ff3b"/><stop offset="0.71" stop-color="#00ff00"/><stop offset="1" stop-color="#19ff00"/></linearGradient><linearGradient id="g648" href="#U" x1="174.5" y1="76.5" x2="174.3" y2="67.0"><stop stop-color="#00ff65"/><stop offset="1" stop-color="#00ff17"/></linearGradient><linearGradient id="g649" href="#U" x1="162.4" y1="75.9" x2="162.0" y2="66.3"><stop stop-color="#00ff5d"/><stop offset="1" stop-color="#00ff0d"/></linearGradient><linearGradient id="g650" href="#U" x1="180.6" y1="81.2" x2="180.4" y2="72.1"><stop stop-color="#00ff8c"/><stop offset="1" stop-color="#00ff43"/></linearGradient><linearGradient id="g651" href="#U" x1="168.4" y1="80.8" x2="168.2" y2="71.5"><stop stop-color="#00ff86"/><stop offset="1" stop-color="#00ff3b"/></linearGradient><linearGradient id="g652" href="#U" x1="156.3" y1="80.1" x2="155.9" y2="70.7"><stop stop-color="#00ff7c"/><stop offset="1" stop-color="#00ff30"/></linearGradient><linearGradient id="g653" href="#U" x1="186.7" y1="85.7" x2="186.5" y2="76.9"><stop stop-color="#00ffae"/><stop offset="1" stop-color="#00ff6b"/></linearGradient><linearGradient id="g654" href="#U" x1="174.5" y1="85.4" x2="174.3" y2="76.5"><stop stop-color="#00ffaa"/><stop offset="1" stop-color="#00ff65"/></linearGradient><linearGradient id="g655" href="#U" x1="162.4" y1="84.9" x2="162.1" y2="75.9"><stop stop-color="#00ffa4"/><stop offset="1" stop-color="#00ff5d"/></linearGradient><linearGradient id="g656" href="#U" x1="150.2" y1="84.0" x2="149.8" y2="74.9"><stop stop-color="#00ff99"/><stop offset="1" stop-color="#00ff50"/></linearGradient><linearGradient id="g657" href="#U" x1="192.7" y1="89.8" x2="192.6" y2="81.4"><stop stop-color="#00ffcc"/><stop offset="1" stop-color="#00ff8f"/></linearGradient><linearGradient id="g658" href="#U" x1="180.6" y1="89.8" x2="180.4" y2="81.2"><stop stop-color="#00ffcb"/><stop offset="1" stop-color="#00ff8c"/></linearGradient><linearGradient id="g659" href="#U" x1="168.4" y1="89.5" x2="168.2" y2="80.8"><stop stop-color="#00ffc7"/><stop offset="1" stop-color="#00ff86"/></linearGradient><linearGradient id="g660" href="#U" x1="156.3" y1="88.9" x2="155.9" y2="80.1"><stop stop-color="#00ffc0"/><stop offset="1" stop-color="#00ff7d"/></linearGradient><linearGradient id="g661" href="#U" x1="144.2" y1="87.8" x2="143.6" y2="78.9"><stop stop-color="#00ffb3"/><stop offset="1" stop-color="#00ff6e"/></linearGradient><linearGradient id="g662" href="#U" x1="198.7" y1="93.7" x2="198.6" y2="85.7"><stop stop-color="#00ffe7"/><stop offset="1" stop-color="#00ffb0"/></linearGradient><linearGradient id="g663" href="#U" x1="186.6" y1="93.8" x2="186.5" y2="85.7"><stop stop-color="#00ffe7"/><stop offset="1" stop-color="#00ffae"/></linearGradient><linearGradient id="g664" href="#U" x1="174.5" y1="93.7" x2="174.3" y2="85.4"><stop stop-color="#00ffe5"/><stop offset="1" stop-color="#00ffaa"/></linearGradient><linearGradient id="g665" href="#U" x1="162.4" y1="93.4" x2="162.1" y2="84.9"><stop stop-color="#00ffe1"/><stop offset="1" stop-color="#00ffa4"/></linearGradient><linearGradient id="g666" href="#U" x1="150.3" y1="92.7" x2="149.8" y2="84.1"><stop stop-color="#00ffd8"/><stop offset="1" stop-color="#00ff99"/></linearGradient><linearGradient id="g667" href="#U" x1="138.1" y1="91.5" x2="137.5" y2="82.7"><stop stop-color="#00ffcb"/><stop offset="1" stop-color="#00ff89"/></linearGradient><linearGradient id="g668" href="#U" x1="192.7" y1="97.5" x2="192.6" y2="89.8"><stop stop-color="#00ffff"/><stop offset="0.00" stop-color="#00ffff"/><stop offset="1" stop-color="#00ffcc"/></linearGradient><linearGradient id="g669" href="#U" x1="204.8" y1="97.3" x2="204.7" y2="89.7"><stop stop-color="#00fffe"/><stop offset="1" stop-color="#00ffcd"/></linearGradient><linearGradient id="g670" href="#U" x1="180.6" y1="97.7" x2="180.5" y2="89.8"><stop stop-color="#00feff"/><stop offset="0.01" stop-color="#00ffff"/><stop offset="1" stop-color="#00ffcb"/></linearGradient><linearGradient id="g671" href="#U" x1="168.4" y1="97.5" x2="168.3" y2="89.5"><stop stop-color="#00fffe"/><stop offset="1" stop-color="#00ffc7"/></linearGradient><linearGradient id="g672" href="#U" x1="156.3" y1="97.1" x2="156.0" y2="88.9"><stop stop-color="#00fff9"/><stop offset="1" stop-color="#00ffc0"/></linearGradient><linearGradient id="g673" href="#U" x1="144.2" y1="96.2" x2="143.7" y2="87.9"><stop stop-color="#00ffef"/><stop offset="1" stop-color="#00ffb3"/></linearGradient><linearGradient id="g674" href="#U" x1="132.1" y1="94.9" x2="131.4" y2="86.3"><stop stop-color="#00ffdf"/><stop offset="1" stop-color="#00ffa1"/></linearGradient><linearGradient id="g675" href="#U" x1="186.6" y1="101.3" x2="186.6" y2="93.8"><stop stop-color="#00e8ff"/><stop offset="0.49" stop-color="#00ffff"/><stop offset="1" stop-color="#00ffe7"/></linearGradient><linearGradient id="g676" href="#U" x1="174.5" y1="101.3" x2="174.4" y2="93.7"><stop stop-color="#00e8ff"/><stop offset="0.47" stop-color="#00ffff"/><stop offset="1" stop-color="#00ffe5"/></linearGradient><linearGradient id="g677" href="#U" x1="198.7" y1="101.0" x2="198.7" y2="93.7"><stop stop-color="#00eaff"/><stop offset="0.46" stop-color="#00ffff"/><stop offset="1" stop-color="#00ffe7"/></linearGradient><linearGradient id="g678" href="#U" x1="210.8" y1="100.6" x2="210.8" y2="93.5"><stop stop-color="#00edff"/><stop offset="0.42" stop-color="#00ffff"/><stop offset="1" stop-color="#00ffe6"/></linearGradient><linearGradient id="g679" href="#U" x1="162.4" y1="101.2" x2="162.2" y2="93.4"><stop stop-color="#00eaff"/><stop offset="0.41" stop-color="#00ffff"/><stop offset="1" stop-color="#00ffe1"/></linearGradient><linearGradient id="g680" href="#U" x1="150.3" y1="100.6" x2="149.9" y2="92.7"><stop stop-color="#00f1ff"/><stop offset="0.27" stop-color="#00ffff"/><stop offset="1" stop-color="#00ffd8"/></linearGradient><linearGradient id="g681" href="#U" x1="138.2" y1="99.6" x2="137.6" y2="91.5"><stop stop-color="#00fcff"/><stop offset="0.06" stop-color="#00ffff"/><stop offset="1" stop-color="#00ffcb"/></linearGradient><linearGradient id="g682" href="#U" x1="126.1" y1="98.1" x2="125.2" y2="89.8"><stop stop-color="#00fff1"/><stop offset="1" stop-color="#00ffb7"/></linearGradient><linearGradient id="g683" href="#U" x1="180.5" y1="104.8" x2="180.5" y2="97.7"><stop stop-color="#00d4ff"/><stop offset="1" stop-color="#00feff"/></linearGradient><linearGradient id="g684" href="#U" x1="168.4" y1="104.9" x2="168.3" y2="97.5"><stop stop-color="#00d4ff"/><stop offset="0.97" stop-color="#00ffff"/><stop offset="1" stop-color="#00fffe"/></linearGradient><linearGradient id="g685" href="#U" x1="192.6" y1="104.6" x2="192.7" y2="97.5"><stop stop-color="#00d6ff"/><stop offset="1" stop-color="#00ffff"/></linearGradient><linearGradient id="g686" href="#U" x1="204.7" y1="104.1" x2="204.8" y2="97.3"><stop stop-color="#00daff"/><stop offset="0.97" stop-color="#00ffff"/><stop offset="1" stop-color="#00fffe"/></linearGradient><linearGradient id="g687" href="#U" x1="156.4" y1="104.6" x2="156.1" y2="97.1"><stop stop-color="#00d7ff"/><stop offset="0.86" stop-color="#00ffff"/><stop offset="1" stop-color="#00fff9"/></linearGradient><linearGradient id="g688" href="#U" x1="216.8" y1="103.6" x2="216.8" y2="97.0"><stop stop-color="#00deff"/><stop offset="0.92" stop-color="#00ffff"/><stop offset="1" stop-color="#00fffc"/></linearGradient><linearGradient id="g689" href="#U" x1="144.3" y1="103.9" x2="143.8" y2="96.3"><stop stop-color="#00deff"/><stop offset="0.67" stop-color="#00ffff"/><stop offset="1" stop-color="#00ffef"/></linearGradient><linearGradient id="g690" href="#U" x1="132.2" y1="102.7" x2="131.5" y2="94.9"><stop stop-color="#00ebff"/><stop offset="0.39" stop-color="#00ffff"/><stop offset="1" stop-color="#00ffdf"/></linearGradient><linearGradient id="g691" href="#U" x1="120.0" y1="101.1" x2="119.1" y2="93.0"><stop stop-color="#00feff"/><stop offset="0.02" stop-color="#00ffff"/><stop offset="1" stop-color="#00ffca"/></linearGradient><linearGradient id="g692" href="#U" x1="174.5" y1="108.2" x2="174.5" y2="101.3"><stop stop-color="#00c2ff"/><stop offset="1" stop-color="#00e8ff"/></linearGradient><linearGradient id="g693" href="#U" x1="162.4" y1="108.2" x2="162.3" y2="101.2"><stop stop-color="#00c2ff"/><stop offset="1" stop-color="#00eaff"/></linearGradient><linearGradient id="g694" href="#U" x1="186.6" y1="108.0" x2="186.7" y2="101.3"><stop stop-color="#00c4ff"/><stop offset="1" stop-color="#00e8ff"/></linearGradient><linearGradient id="g695" href="#U" x1="198.7" y1="107.5" x2="198.8" y2="101.0"><stop stop-color="#00c8ff"/><stop offset="1" stop-color="#00eaff"/></linearGradient><linearGradient id="g696" href="#U" x1="150.3" y1="107.8" x2="150.0" y2="100.6"><stop stop-color="#00c6ff"/><stop offset="1" stop-color="#00f1ff"/></linearGradient><linearGradient id="g697" href="#U" x1="210.7" y1="107.0" x2="210.9" y2="100.6"><stop stop-color="#00cdff"/><stop offset="1" stop-color="#00edff"/></linearGradient><linearGradient id="g698" href="#U" x1="222.8" y1="106.4" x2="222.9" y2="100.2"><stop stop-color="#00d2ff"/><stop offset="1" stop-color="#00f0ff"/></linearGradient><linearGradient id="g699" href="#U" x1="138.2" y1="107.0" x2="137.7" y2="99.6"><stop stop-color="#00cfff"/><stop offset="1" stop-color="#00fcff"/></linearGradient><linearGradient id="g700" href="#U" x1="126.1" y1="105.7" x2="125.3" y2="98.1"><stop stop-color="#00ddff"/><stop offset="0.71" stop-color="#00ffff"/><stop offset="1" stop-color="#00fff1"/></linearGradient><linearGradient id="g701" href="#U" x1="114.0" y1="103.8" x2="113.0" y2="96.1"><stop stop-color="#00f2ff"/><stop offset="0.26" stop-color="#00ffff"/><stop offset="1" stop-color="#00ffda"/></linearGradient><linearGradient id="g702" href="#U" x1="168.4" y1="111.5" x2="168.4" y2="104.9"><stop stop-color="#00b2ff"/><stop offset="1" stop-color="#00d4ff"/></linearGradient><linearGradient id="g703" href="#U" x1="180.5" y1="111.3" x2="180.7" y2="104.8"><stop stop-color="#00b4ff"/><stop offset="1" stop-color="#00d4ff"/></linearGradient><linearGradient id="g704" href="#U" x1="156.4" y1="111.3" x2="156.2" y2="104.6"><stop stop-color="#00b3ff"/><stop offset="1" stop-color="#00d7ff"/></linearGradient><linearGradient id="g705" href="#U" x1="192.6" y1="110.8" x2="192.8" y2="104.6"><stop stop-color="#00b8ff"/><stop offset="1" stop-color="#00d6ff"/></linearGradient><linearGradient id="g706" href="#U" x1="144.3" y1="110.8" x2="143.8" y2="103.9"><stop stop-color="#00b9ff"/><stop offset="1" stop-color="#00deff"/></linearGradient><linearGradient id="g707" href="#U" x1="204.7" y1="110.2" x2="204.9" y2="104.1"><stop stop-color="#00beff"/><stop offset="1" stop-color="#00daff"/></linearGradient><linearGradient id="g708" href="#U" x1="216.8" y1="109.6" x2="217.0" y2="103.6"><stop stop-color="#00c4ff"/><stop offset="1" stop-color="#00deff"/></linearGradient><linearGradient id="g709" href="#U" x1="228.9" y1="108.8" x2="229.1" y2="103.1"><stop stop-color="#00caff"/><stop offset="1" stop-color="#00e1ff"/></linearGradient><linearGradient id="g710" href="#U" x1="132.2" y1="109.8" x2="131.5" y2="102.8"><stop stop-color="#00c3ff"/><stop offset="1" stop-color="#00ebff"/></linearGradient><linearGradient id="g711" href="#U" x1="120.1" y1="108.4" x2="119.2" y2="101.2"><stop stop-color="#00d3ff"/><stop offset="1" stop-color="#00feff"/></linearGradient><linearGradient id="g712" href="#U" x1="108.0" y1="106.4" x2="106.8" y2="99.0"><stop stop-color="#00e9ff"/><stop offset="0.49" stop-color="#00ffff"/><stop offset="1" stop-color="#00ffe7"/></linearGradient><linearGradient id="g713" href="#U" x1="162.4" y1="114.5" x2="162.4" y2="108.2"><stop stop-color="#00a5ff"/><stop offset="1" stop-color="#00c2ff"/></linearGradient><linearGradient id="g714" href="#U" x1="174.5" y1="114.3" x2="174.6" y2="108.2"><stop stop-color="#00a7ff"/><stop offset="1" stop-color="#00c2ff"/></linearGradient><linearGradient id="g715" href="#U" x1="150.3" y1="114.2" x2="150.0" y2="107.8"><stop stop-color="#00a7ff"/><stop offset="1" stop-color="#00c6ff"/></linearGradient><linearGradient id="g716" href="#U" x1="186.6" y1="113.9" x2="186.8" y2="108.0"><stop stop-color="#00abff"/><stop offset="1" stop-color="#00c4ff"/></linearGradient><linearGradient id="g717" href="#U" x1="198.6" y1="113.4" x2="199.0" y2="107.6"><stop stop-color="#00b1ff"/><stop offset="1" stop-color="#00c8ff"/></linearGradient><linearGradient id="g718" href="#U" x1="138.3" y1="113.6" x2="137.7" y2="107.0"><stop stop-color="#00aeff"/><stop offset="1" stop-color="#00cfff"/></linearGradient><linearGradient id="g719" href="#U" x1="210.7" y1="112.6" x2="211.1" y2="107.0"><stop stop-color="#00b7ff"/><stop offset="1" stop-color="#00cdff"/></linearGradient><linearGradient id="g720" href="#U" x1="222.8" y1="111.9" x2="223.2" y2="106.4"><stop stop-color="#00beff"/><stop offset="1" stop-color="#00d2ff"/></linearGradient><linearGradient id="g721" href="#U" x1="126.2" y1="112.4" x2="125.3" y2="105.8"><stop stop-color="#00baff"/><stop offset="1" stop-color="#00ddff"/></linearGradient><linearGradient id="g722" href="#U" x1="234.9" y1="111.0" x2="235.3" y2="105.8"><stop stop-color="#00c5ff"/><stop offset="1" stop-color="#00d6ff"/></linearGradient><linearGradient id="g723" href="#U" x1="114.1" y1="110.8" x2="113.0" y2="104.0"><stop stop-color="#00cbff"/><stop offset="1" stop-color="#00f2ff"/></linearGradient><linearGradient id="g724" href="#U" x1="101.9" y1="108.6" x2="100.7" y2="101.6"><stop stop-color="#00e2ff"/><stop offset="0.69" stop-color="#00ffff"/><stop offset="1" stop-color="#00fff2"/></linearGradient><linearGradient id="g725" href="#U" x1="168.4" y1="117.2" x2="168.6" y2="111.5"><stop stop-color="#009cff"/><stop offset="1" stop-color="#00b2ff"/></linearGradient><linearGradient id="g726" href="#U" x1="156.4" y1="117.3" x2="156.2" y2="111.3"><stop stop-color="#009bff"/><stop offset="1" stop-color="#00b3ff"/></linearGradient><linearGradient id="g727" href="#U" x1="180.5" y1="116.9" x2="180.9" y2="111.3"><stop stop-color="#009fff"/><stop offset="1" stop-color="#00b4ff"/></linearGradient><linearGradient id="g728" href="#U" x1="144.3" y1="116.9" x2="143.9" y2="110.9"><stop stop-color="#009eff"/><stop offset="1" stop-color="#00b9ff"/></linearGradient><linearGradient id="g729" href="#U" x1="192.6" y1="116.3" x2="193.1" y2="110.9"><stop stop-color="#00a5ff"/><stop offset="1" stop-color="#00b8ff"/></linearGradient><linearGradient id="g730" href="#U" x1="132.3" y1="116.1" x2="131.5" y2="109.9"><stop stop-color="#00a7ff"/><stop offset="1" stop-color="#00c3ff"/></linearGradient><linearGradient id="g731" href="#U" x1="204.7" y1="115.6" x2="205.3" y2="110.3"><stop stop-color="#00adff"/><stop offset="1" stop-color="#00beff"/></linearGradient><linearGradient id="g732" href="#U" x1="216.7" y1="114.7" x2="217.4" y2="109.6"><stop stop-color="#00b4ff"/><stop offset="1" stop-color="#00c4ff"/></linearGradient><linearGradient id="g733" href="#U" x1="120.2" y1="114.8" x2="119.1" y2="108.5"><stop stop-color="#00b4ff"/><stop offset="1" stop-color="#00d3ff"/></linearGradient><linearGradient id="g734" href="#U" x1="108.0" y1="113.0" x2="106.8" y2="106.6"><stop stop-color="#00c7ff"/><stop offset="1" stop-color="#00e8ff"/></linearGradient><linearGradient id="g735" href="#U" x1="95.9" y1="110.7" x2="94.5" y2="104.1"><stop stop-color="#00dfff"/><stop offset="0.87" stop-color="#00ffff"/><stop offset="1" stop-color="#00fffa"/></linearGradient><linearGradient id="g736" href="#U" x1="162.4" y1="119.9" x2="162.5" y2="114.5"><stop stop-color="#0093ff"/><stop offset="1" stop-color="#00a5ff"/></linearGradient><linearGradient id="g737" href="#U" x1="150.4" y1="119.8" x2="150.1" y2="114.3"><stop stop-color="#0094ff"/><stop offset="1" stop-color="#00a7ff"/></linearGradient><linearGradient id="g738" href="#U" x1="174.5" y1="119.6" x2="174.9" y2="114.4"><stop stop-color="#0096ff"/><stop offset="1" stop-color="#00a7ff"/></linearGradient><linearGradient id="g739" href="#U" x1="138.3" y1="119.3" x2="137.6" y2="113.7"><stop stop-color="#0099ff"/><stop offset="1" stop-color="#00aeff"/></linearGradient><linearGradient id="g740" href="#U" x1="186.5" y1="119.1" x2="187.2" y2="114.0"><stop stop-color="#009cff"/><stop offset="1" stop-color="#00abff"/></linearGradient><linearGradient id="g741" href="#U" x1="126.2" y1="118.3" x2="125.2" y2="112.6"><stop stop-color="#00a3ff"/><stop offset="1" stop-color="#00baff"/></linearGradient><linearGradient id="g742" href="#U" x1="114.1" y1="116.9" x2="112.9" y2="111.1"><stop stop-color="#00b2ff"/><stop offset="1" stop-color="#00cbff"/></linearGradient><linearGradient id="g743" href="#U" x1="102.0" y1="114.9" x2="100.5" y2="109.0"><stop stop-color="#00c6ff"/><stop offset="1" stop-color="#00e2ff"/></linearGradient><linearGradient id="g744" href="#U" x1="89.9" y1="112.5" x2="88.3" y2="106.4"><stop stop-color="#00dfff"/><stop offset="1" stop-color="#00feff"/></linearGradient><linearGradient id="g745" href="#U" x1="144.3" y1="122.1" x2="143.8" y2="117.0"><stop stop-color="#0090ff"/><stop offset="1" stop-color="#009eff"/></linearGradient><linearGradient id="g746" href="#U" x1="132.3" y1="121.4" x2="131.3" y2="116.3"><stop stop-color="#0096ff"/><stop offset="1" stop-color="#00a7ff"/></linearGradient><linearGradient id="g747" href="#U" x1="120.2" y1="120.3" x2="118.9" y2="115.1"><stop stop-color="#00a2ff"/><stop offset="1" stop-color="#00b4ff"/></linearGradient><linearGradient id="g748" href="#U" x1="108.1" y1="118.7" x2="106.5" y2="113.5"><stop stop-color="#00b2ff"/><stop offset="1" stop-color="#00c7ff"/></linearGradient><linearGradient id="g749" href="#U" x1="96.1" y1="116.9" x2="94.1" y2="111.1"><stop stop-color="#00c7ff"/><stop offset="1" stop-color="#00e0ff"/></linearGradient><linearGradient id="g750" href="#U" x1="83.9" y1="114.5" x2="81.9" y2="108.4"><stop stop-color="#00e0ff"/><stop offset="1" stop-color="#00fdff"/></linearGradient><linearGradient id="g751" href="#U" x1="114.5" y1="122.7" x2="112.0" y2="116.9"><stop stop-color="#00a3ff"/><stop offset="1" stop-color="#00b4ff"/></linearGradient><linearGradient id="g752" href="#U" x1="102.6" y1="121.2" x2="99.6" y2="114.8"><stop stop-color="#00b4ff"/><stop offset="1" stop-color="#00c9ff"/></linearGradient><linearGradient id="g753" href="#U" x1="90.5" y1="119.1" x2="87.3" y2="112.4"><stop stop-color="#00c9ff"/><stop offset="1" stop-color="#00e3ff"/></linearGradient><linearGradient id="g754" href="#U" x1="78.2" y1="116.5" x2="75.3" y2="109.7"><stop stop-color="#00e3ff"/><stop offset="0.99" stop-color="#00ffff"/><stop offset="1" stop-color="#00ffff"/></linearGradient><linearGradient id="g755" href="#U" x1="122.1" y1="126.9" x2="116.1" y2="120.1"><stop stop-color="#0099ff"/><stop offset="1" stop-color="#00a6ff"/></linearGradient><linearGradient id="g756" href="#U" x1="110.2" y1="125.5" x2="103.8" y2="118.5"><stop stop-color="#00a6ff"/><stop offset="1" stop-color="#00b8ff"/></linearGradient><linearGradient id="g757" href="#U" x1="98.1" y1="123.6" x2="91.7" y2="116.3"><stop stop-color="#00b8ff"/><stop offset="1" stop-color="#00cfff"/></linearGradient><linearGradient id="g758" href="#U" x1="85.7" y1="121.2" x2="79.7" y2="113.7"><stop stop-color="#00cfff"/><stop offset="1" stop-color="#00e9ff"/></linearGradient><linearGradient id="g759" href="#U" x1="73.1" y1="118.4" x2="68.0" y2="110.9"><stop stop-color="#00e9ff"/><stop offset="0.79" stop-color="#00ffff"/><stop offset="1" stop-color="#00fff9"/></linearGradient><linearGradient id="g760" href="#U" x1="120.2" y1="124.6" x2="108.9" y2="127.0"><stop stop-color="#009eff"/><stop offset="1" stop-color="#00adff"/></linearGradient><linearGradient id="g761" href="#U" x1="108.1" y1="124.4" x2="95.9" y2="123.9"><stop stop-color="#00adff"/><stop offset="1" stop-color="#00c1ff"/></linearGradient><linearGradient id="g762" href="#U" x1="95.5" y1="123.3" x2="83.4" y2="120.5"><stop stop-color="#00c1ff"/><stop offset="1" stop-color="#00d9ff"/></linearGradient><linearGradient id="g763" href="#U" x1="258.3" y1="117.2" x2="259.1" y2="119.8"><stop stop-color="#00d5ff"/><stop offset="1" stop-color="#00e2ff"/></linearGradient><linearGradient id="g764" href="#U" x1="82.7" y1="121.7" x2="71.4" y2="117.0"><stop stop-color="#00d9ff"/><stop offset="1" stop-color="#00f3ff"/></linearGradient><linearGradient id="g765" href="#U" x1="270.4" y1="115.7" x2="271.3" y2="118.2"><stop stop-color="#00e2ff"/><stop offset="1" stop-color="#00f1ff"/></linearGradient><linearGradient id="g766" href="#U" x1="191.9" y1="125.0" x2="192.6" y2="127.8"><stop stop-color="#009fff"/><stop offset="1" stop-color="#00adff"/></linearGradient><linearGradient id="g767" href="#U" x1="110.8" y1="123.2" x2="107.0" y2="128.1"><stop stop-color="#00a7ff"/><stop offset="1" stop-color="#00b8ff"/></linearGradient><linearGradient id="g768" href="#U" x1="204.0" y1="124.1" x2="204.7" y2="126.7"><stop stop-color="#00a9ff"/><stop offset="1" stop-color="#00b7ff"/></linearGradient><linearGradient id="g769" href="#U" x1="216.1" y1="123.0" x2="216.8" y2="125.6"><stop stop-color="#00b4ff"/><stop offset="1" stop-color="#00c2ff"/></linearGradient><linearGradient id="g770" href="#U" x1="99.7" y1="121.5" x2="93.9" y2="126.6"><stop stop-color="#00b8ff"/><stop offset="1" stop-color="#00ceff"/></linearGradient><linearGradient id="g771" href="#U" x1="228.2" y1="121.8" x2="228.9" y2="124.4"><stop stop-color="#00beff"/><stop offset="1" stop-color="#00ceff"/></linearGradient><linearGradient id="g772" href="#U" x1="240.3" y1="120.6" x2="241.0" y2="123.1"><stop stop-color="#00c9ff"/><stop offset="1" stop-color="#00daff"/></linearGradient><linearGradient id="g773" href="#U" x1="88.4" y1="119.6" x2="80.7" y2="124.4"><stop stop-color="#00ceff"/><stop offset="1" stop-color="#00e6ff"/></linearGradient><linearGradient id="g774" href="#U" x1="252.5" y1="119.3" x2="253.1" y2="121.7"><stop stop-color="#00d4ff"/><stop offset="1" stop-color="#00e6ff"/></linearGradient><linearGradient id="g775" href="#U" x1="264.6" y1="117.9" x2="265.3" y2="120.2"><stop stop-color="#00e1ff"/><stop offset="1" stop-color="#00f3ff"/></linearGradient><linearGradient id="g776" href="#U" x1="76.9" y1="117.7" x2="67.6" y2="121.8"><stop stop-color="#00e6ff"/><stop offset="0.97" stop-color="#00ffff"/><stop offset="1" stop-color="#00fffe"/></linearGradient><linearGradient id="g777" href="#U" x1="276.7" y1="116.2" x2="277.4" y2="118.4"><stop stop-color="#00f1ff"/><stop offset="0.75" stop-color="#00ffff"/><stop offset="1" stop-color="#00fffa"/></linearGradient><linearGradient id="g778" href="#U" x1="65.2" y1="115.8" x2="54.6" y2="118.9"><stop stop-color="#00fffe"/><stop offset="1" stop-color="#00ffe6"/></linearGradient><linearGradient id="g779" href="#U" x1="150.4" y1="128.2" x2="150.4" y2="130.9"><stop stop-color="#0091ff"/><stop offset="1" stop-color="#00a2ff"/></linearGradient><linearGradient id="g780" href="#U" x1="138.6" y1="127.9" x2="138.3" y2="130.6"><stop stop-color="#0093ff"/><stop offset="1" stop-color="#00a3ff"/></linearGradient><linearGradient id="g781" href="#U" x1="162.2" y1="128.1" x2="162.4" y2="130.7"><stop stop-color="#0093ff"/><stop offset="1" stop-color="#00a4ff"/></linearGradient><linearGradient id="g782" href="#U" x1="174.1" y1="127.6" x2="174.5" y2="130.2"><stop stop-color="#0098ff"/><stop offset="1" stop-color="#00aaff"/></linearGradient><linearGradient id="g783" href="#U" x1="126.8" y1="127.2" x2="126.2" y2="129.9"><stop stop-color="#009aff"/><stop offset="1" stop-color="#00aaff"/></linearGradient><linearGradient id="g784" href="#U" x1="186.1" y1="126.9" x2="186.6" y2="129.4"><stop stop-color="#00a0ff"/><stop offset="1" stop-color="#00b2ff"/></linearGradient><linearGradient id="g785" href="#U" x1="115.0" y1="126.2" x2="114.1" y2="128.7"><stop stop-color="#00a6ff"/><stop offset="1" stop-color="#00b5ff"/></linearGradient><linearGradient id="g786" href="#U" x1="198.2" y1="126.0" x2="198.6" y2="128.4"><stop stop-color="#00aaff"/><stop offset="1" stop-color="#00bdff"/></linearGradient><linearGradient id="g787" href="#U" x1="103.3" y1="124.4" x2="101.8" y2="127.5"><stop stop-color="#00b5ff"/><stop offset="1" stop-color="#00c8ff"/></linearGradient><linearGradient id="g788" href="#U" x1="210.3" y1="125.0" x2="210.7" y2="127.3"><stop stop-color="#00b4ff"/><stop offset="1" stop-color="#00c8ff"/></linearGradient><linearGradient id="g789" href="#U" x1="222.4" y1="123.8" x2="222.8" y2="126.1"><stop stop-color="#00bfff"/><stop offset="1" stop-color="#00d3ff"/></linearGradient><linearGradient id="g790" href="#U" x1="91.6" y1="122.1" x2="89.4" y2="125.8"><stop stop-color="#00c8ff"/><stop offset="1" stop-color="#00deff"/></linearGradient><linearGradient id="g791" href="#U" x1="234.5" y1="122.6" x2="235.0" y2="124.8"><stop stop-color="#00caff"/><stop offset="1" stop-color="#00dfff"/></linearGradient><linearGradient id="g792" href="#U" x1="246.6" y1="121.3" x2="247.1" y2="123.5"><stop stop-color="#00d6ff"/><stop offset="1" stop-color="#00ebff"/></linearGradient><linearGradient id="g793" href="#U" x1="79.7" y1="119.7" x2="76.9" y2="123.7"><stop stop-color="#00dfff"/><stop offset="1" stop-color="#00f7ff"/></linearGradient><linearGradient id="g794" href="#U" x1="258.7" y1="119.9" x2="259.2" y2="122.0"><stop stop-color="#00e2ff"/><stop offset="1" stop-color="#00f8ff"/></linearGradient><linearGradient id="g795" href="#U" x1="270.8" y1="118.3" x2="271.4" y2="120.3"><stop stop-color="#00f1ff"/><stop offset="0.63" stop-color="#00ffff"/><stop offset="1" stop-color="#00fff7"/></linearGradient><linearGradient id="g796" href="#U" x1="67.7" y1="117.1" x2="64.6" y2="121.3"><stop stop-color="#00f8ff"/><stop offset="0.30" stop-color="#00ffff"/><stop offset="1" stop-color="#00ffee"/></linearGradient><linearGradient id="g797" href="#U" x1="282.9" y1="116.4" x2="283.6" y2="118.3"><stop stop-color="#00fffb"/><stop offset="1" stop-color="#00ffe4"/></linearGradient><linearGradient id="g798" href="#U" x1="55.4" y1="114.6" x2="52.4" y2="118.8"><stop stop-color="#00ffed"/><stop offset="1" stop-color="#00ffd8"/></linearGradient><linearGradient id="g799" href="#U" x1="144.4" y1="129.6" x2="144.3" y2="131.8"><stop stop-color="#0098ff"/><stop offset="1" stop-color="#00afff"/></linearGradient><linearGradient id="g800" href="#U" x1="156.3" y1="129.6" x2="156.4" y2="131.8"><stop stop-color="#0098ff"/><stop offset="1" stop-color="#00afff"/></linearGradient><linearGradient id="g801" href="#U" x1="132.5" y1="129.1" x2="132.2" y2="131.3"><stop stop-color="#009cff"/><stop offset="1" stop-color="#00b2ff"/></linearGradient><linearGradient id="g802" href="#U" x1="168.3" y1="129.3" x2="168.5" y2="131.4"><stop stop-color="#009cff"/><stop offset="1" stop-color="#00b4ff"/></linearGradient><linearGradient id="g803" href="#U" x1="180.3" y1="128.7" x2="180.5" y2="130.7"><stop stop-color="#00a3ff"/><stop offset="1" stop-color="#00bbff"/></linearGradient><linearGradient id="g804" href="#U" x1="120.6" y1="128.2" x2="120.1" y2="130.4"><stop stop-color="#00a5ff"/><stop offset="1" stop-color="#00bbff"/></linearGradient><linearGradient id="g805" href="#U" x1="192.3" y1="127.8" x2="192.6" y2="129.8"><stop stop-color="#00acff"/><stop offset="1" stop-color="#00c5ff"/></linearGradient><linearGradient id="g806" href="#U" x1="108.6" y1="126.8" x2="108.0" y2="128.9"><stop stop-color="#00b3ff"/><stop offset="1" stop-color="#00c9ff"/></linearGradient><linearGradient id="g807" href="#U" x1="204.4" y1="126.8" x2="204.7" y2="128.7"><stop stop-color="#00b7ff"/><stop offset="1" stop-color="#00d0ff"/></linearGradient><linearGradient id="g808" href="#U" x1="216.5" y1="125.6" x2="216.8" y2="127.5"><stop stop-color="#00c2ff"/><stop offset="1" stop-color="#00dbff"/></linearGradient><linearGradient id="g809" href="#U" x1="96.6" y1="125.0" x2="95.9" y2="127.1"><stop stop-color="#00c6ff"/><stop offset="1" stop-color="#00dcff"/></linearGradient><linearGradient id="g810" href="#U" x1="228.6" y1="124.4" x2="228.9" y2="126.3"><stop stop-color="#00ceff"/><stop offset="1" stop-color="#00e7ff"/></linearGradient><linearGradient id="g811" href="#U" x1="240.7" y1="123.1" x2="241.1" y2="125.0"><stop stop-color="#00d9ff"/><stop offset="1" stop-color="#00f3ff"/></linearGradient><linearGradient id="g812" href="#U" x1="84.6" y1="122.8" x2="83.6" y2="125.1"><stop stop-color="#00dcff"/><stop offset="1" stop-color="#00f3ff"/></linearGradient><linearGradient id="g813" href="#U" x1="252.8" y1="121.8" x2="253.2" y2="123.6"><stop stop-color="#00e6ff"/><stop offset="0.98" stop-color="#00ffff"/><stop offset="1" stop-color="#00ffff"/></linearGradient><linearGradient id="g814" href="#U" x1="264.9" y1="120.3" x2="265.3" y2="122.0"><stop stop-color="#00f3ff"/><stop offset="0.45" stop-color="#00ffff"/><stop offset="1" stop-color="#00fff1"/></linearGradient><linearGradient id="g815" href="#U" x1="277.0" y1="118.5" x2="277.5" y2="120.2"><stop stop-color="#00fffa"/><stop offset="1" stop-color="#00ffe0"/></linearGradient><linearGradient id="g816" href="#U" x1="60.2" y1="117.8" x2="59.2" y2="120.1"><stop stop-color="#00fff1"/><stop offset="1" stop-color="#00ffda"/></linearGradient><linearGradient id="g817" href="#U" x1="150.3" y1="130.9" x2="150.3" y2="132.5"><stop stop-color="#00a1ff"/><stop offset="1" stop-color="#00beff"/></linearGradient><linearGradient id="g818" href="#U" x1="138.3" y1="130.6" x2="138.3" y2="132.3"><stop stop-color="#00a3ff"/><stop offset="1" stop-color="#00c0ff"/></linearGradient><linearGradient id="g819" href="#U" x1="162.3" y1="130.7" x2="162.4" y2="132.3"><stop stop-color="#00a4ff"/><stop offset="1" stop-color="#00c1ff"/></linearGradient><linearGradient id="g820" href="#U" x1="126.4" y1="129.9" x2="126.2" y2="131.6"><stop stop-color="#00a9ff"/><stop offset="1" stop-color="#00c6ff"/></linearGradient><linearGradient id="g821" href="#U" x1="174.3" y1="130.2" x2="174.5" y2="131.8"><stop stop-color="#00aaff"/><stop offset="1" stop-color="#00c7ff"/></linearGradient><linearGradient id="g822" href="#U" x1="186.4" y1="129.4" x2="186.6" y2="131.0"><stop stop-color="#00b2ff"/><stop offset="1" stop-color="#00d0ff"/></linearGradient><linearGradient id="g823" href="#U" x1="114.4" y1="128.8" x2="114.1" y2="130.4"><stop stop-color="#00b4ff"/><stop offset="1" stop-color="#00d1ff"/></linearGradient><linearGradient id="g824" href="#U" x1="198.5" y1="128.4" x2="198.7" y2="129.9"><stop stop-color="#00bcff"/><stop offset="1" stop-color="#00daff"/></linearGradient><linearGradient id="g825" href="#U" x1="102.3" y1="127.1" x2="101.9" y2="128.7"><stop stop-color="#00c5ff"/><stop offset="1" stop-color="#00e1ff"/></linearGradient><linearGradient id="g826" href="#U" x1="210.6" y1="127.3" x2="210.8" y2="128.8"><stop stop-color="#00c8ff"/><stop offset="1" stop-color="#00e5ff"/></linearGradient><linearGradient id="g827" href="#U" x1="222.7" y1="126.1" x2="222.9" y2="127.6"><stop stop-color="#00d3ff"/><stop offset="1" stop-color="#00f1ff"/></linearGradient><linearGradient id="g828" href="#U" x1="90.2" y1="125.1" x2="89.8" y2="126.6"><stop stop-color="#00d9ff"/><stop offset="1" stop-color="#00f5ff"/></linearGradient><linearGradient id="g829" href="#U" x1="234.8" y1="124.8" x2="235.0" y2="126.3"><stop stop-color="#00dfff"/><stop offset="1" stop-color="#00fdff"/></linearGradient><linearGradient id="g830" href="#U" x1="246.9" y1="123.5" x2="247.2" y2="124.9"><stop stop-color="#00ebff"/><stop offset="0.66" stop-color="#00ffff"/><stop offset="1" stop-color="#00fff5"/></linearGradient><linearGradient id="g831" href="#U" x1="78.1" y1="122.7" x2="77.6" y2="124.2"><stop stop-color="#00f0ff"/><stop offset="0.52" stop-color="#00ffff"/><stop offset="1" stop-color="#00fff1"/></linearGradient><linearGradient id="g832" href="#U" x1="259.0" y1="122.0" x2="259.3" y2="123.5"><stop stop-color="#00f8ff"/><stop offset="0.23" stop-color="#00ffff"/><stop offset="1" stop-color="#00ffe8"/></linearGradient><linearGradient id="g833" href="#U" x1="271.2" y1="120.4" x2="271.5" y2="121.8"><stop stop-color="#00fff7"/><stop offset="1" stop-color="#00ffd9"/></linearGradient><linearGradient id="g834" href="#U" x1="65.9" y1="120.2" x2="65.4" y2="121.7"><stop stop-color="#00fff5"/><stop offset="1" stop-color="#00ffd8"/></linearGradient><linearGradient id="g835" href="#U" x1="144.3" y1="131.8" x2="144.3" y2="132.9"><stop stop-color="#00aeff"/><stop offset="1" stop-color="#00d1ff"/></linearGradient><linearGradient id="g836" href="#U" x1="156.3" y1="131.8" x2="156.4" y2="132.9"><stop stop-color="#00afff"/><stop offset="1" stop-color="#00d2ff"/></linearGradient><linearGradient id="g837" href="#U" x1="132.3" y1="131.3" x2="132.2" y2="132.4"><stop stop-color="#00b2ff"/><stop offset="1" stop-color="#00d5ff"/></linearGradient><linearGradient id="g838" href="#U" x1="168.4" y1="131.4" x2="168.4" y2="132.5"><stop stop-color="#00b3ff"/><stop offset="1" stop-color="#00d6ff"/></linearGradient><linearGradient id="g839" href="#U" x1="120.2" y1="130.4" x2="120.1" y2="131.5"><stop stop-color="#00baff"/><stop offset="1" stop-color="#00ddff"/></linearGradient><linearGradient id="g840" href="#U" x1="180.4" y1="130.7" x2="180.5" y2="131.8"><stop stop-color="#00bbff"/><stop offset="1" stop-color="#00ddff"/></linearGradient><linearGradient id="g841" href="#U" x1="192.5" y1="129.8" x2="192.6" y2="130.9"><stop stop-color="#00c4ff"/><stop offset="1" stop-color="#00e7ff"/></linearGradient><linearGradient id="g842" href="#U" x1="108.1" y1="128.9" x2="108.0" y2="130.0"><stop stop-color="#00c8ff"/><stop offset="1" stop-color="#00ebff"/></linearGradient><linearGradient id="g843" href="#U" x1="204.6" y1="128.7" x2="204.8" y2="129.8"><stop stop-color="#00cfff"/><stop offset="1" stop-color="#00f2ff"/></linearGradient><linearGradient id="g844" href="#U" x1="96.0" y1="127.1" x2="95.8" y2="128.1"><stop stop-color="#00daff"/><stop offset="1" stop-color="#00fdff"/></linearGradient><linearGradient id="g845" href="#U" x1="216.7" y1="127.6" x2="216.9" y2="128.6"><stop stop-color="#00dbff"/><stop offset="1" stop-color="#00fdff"/></linearGradient><linearGradient id="g846" href="#U" x1="228.9" y1="126.3" x2="229.0" y2="127.4"><stop stop-color="#00e7ff"/><stop offset="0.71" stop-color="#00ffff"/><stop offset="1" stop-color="#00fff5"/></linearGradient><linearGradient id="g847" href="#U" x1="83.9" y1="124.8" x2="83.6" y2="125.8"><stop stop-color="#00f0ff"/><stop offset="0.43" stop-color="#00ffff"/><stop offset="1" stop-color="#00ffeb"/></linearGradient><linearGradient id="g848" href="#U" x1="241.0" y1="125.0" x2="241.1" y2="126.1"><stop stop-color="#00f3ff"/><stop offset="0.36" stop-color="#00ffff"/><stop offset="1" stop-color="#00ffe9"/></linearGradient><linearGradient id="g849" href="#U" x1="253.1" y1="123.6" x2="253.3" y2="124.7"><stop stop-color="#00ffff"/><stop offset="1" stop-color="#00ffdd"/></linearGradient><linearGradient id="g850" href="#U" x1="71.7" y1="122.3" x2="71.4" y2="123.2"><stop stop-color="#00fff6"/><stop offset="1" stop-color="#00ffd2"/></linearGradient><linearGradient id="g851" href="#U" x1="265.3" y1="122.0" x2="265.5" y2="123.2"><stop stop-color="#00fff1"/><stop offset="1" stop-color="#00ffcf"/></linearGradient><linearGradient id="g852" href="#U" x1="150.3" y1="132.5" x2="150.3" y2="133.1"><stop stop-color="#00bdff"/><stop offset="1" stop-color="#00e5ff"/></linearGradient><linearGradient id="g853" href="#U" x1="138.2" y1="132.3" x2="138.2" y2="132.8"><stop stop-color="#00bfff"/><stop offset="1" stop-color="#00e6ff"/></linearGradient><linearGradient id="g854" href="#U" x1="162.4" y1="132.3" x2="162.4" y2="132.9"><stop stop-color="#00c0ff"/><stop offset="1" stop-color="#00e7ff"/></linearGradient><linearGradient id="g855" href="#U" x1="126.1" y1="131.6" x2="126.1" y2="132.1"><stop stop-color="#00c5ff"/><stop offset="1" stop-color="#00ecff"/></linearGradient><linearGradient id="g856" href="#U" x1="174.5" y1="131.8" x2="174.5" y2="132.4"><stop stop-color="#00c6ff"/><stop offset="1" stop-color="#00edff"/></linearGradient><linearGradient id="g857" href="#U" x1="186.6" y1="131.0" x2="186.6" y2="131.5"><stop stop-color="#00cfff"/><stop offset="1" stop-color="#00f5ff"/></linearGradient><linearGradient id="g858" href="#U" x1="114.0" y1="130.4" x2="114.0" y2="130.9"><stop stop-color="#00d0ff"/><stop offset="1" stop-color="#00f7ff"/></linearGradient><linearGradient id="g859" href="#U" x1="198.7" y1="129.9" x2="198.7" y2="130.5"><stop stop-color="#00d9ff"/><stop offset="0.99" stop-color="#00ffff"/><stop offset="1" stop-color="#00ffff"/></linearGradient><linearGradient id="g860" href="#U" x1="101.9" y1="128.7" x2="101.8" y2="129.1"><stop stop-color="#00e0ff"/><stop offset="0.82" stop-color="#00ffff"/><stop offset="1" stop-color="#00fff8"/></linearGradient><linearGradient id="g861" href="#U" x1="210.8" y1="128.8" x2="210.8" y2="129.4"><stop stop-color="#00e5ff"/><stop offset="0.69" stop-color="#00ffff"/><stop offset="1" stop-color="#00fff3"/></linearGradient><linearGradient id="g862" href="#U" x1="222.9" y1="127.6" x2="223.0" y2="128.2"><stop stop-color="#00f0ff"/><stop offset="0.38" stop-color="#00ffff"/><stop offset="1" stop-color="#00ffe8"/></linearGradient><linearGradient id="g863" href="#U" x1="89.7" y1="126.6" x2="89.6" y2="127.0"><stop stop-color="#00f5ff"/><stop offset="0.24" stop-color="#00ffff"/><stop offset="1" stop-color="#00ffe0"/></linearGradient><linearGradient id="g864" href="#U" x1="235.0" y1="126.3" x2="235.1" y2="126.9"><stop stop-color="#00fcff"/><stop offset="0.07" stop-color="#00ffff"/><stop offset="1" stop-color="#00ffdc"/></linearGradient><linearGradient id="g865" href="#U" x1="247.2" y1="124.9" x2="247.3" y2="125.6"><stop stop-color="#00fff6"/><stop offset="1" stop-color="#00ffd0"/></linearGradient><linearGradient id="g866" href="#U" x1="77.5" y1="124.2" x2="77.4" y2="124.6"><stop stop-color="#00ffed"/><stop offset="1" stop-color="#00ffc5"/></linearGradient><linearGradient id="g867" href="#U" x1="259.3" y1="123.5" x2="259.4" y2="124.3"><stop stop-color="#00ffe9"/><stop offset="1" stop-color="#00ffc3"/></linearGradient><linearGradient id="g868" href="#U" x1="144.2" y1="132.9" x2="144.2" y2="133.0"><stop stop-color="#00e9ff"/><stop offset="1" stop-color="#00ecff"/></linearGradient><linearGradient id="g869" href="#U" x1="156.3" y1="132.9" x2="156.3" y2="133.0"><stop stop-color="#00e5ff"/><stop offset="1" stop-color="#00f0ff"/></linearGradient><linearGradient id="g870" href="#U" x1="132.1" y1="132.5" x2="132.1" y2="132.4"><stop stop-color="#00e7ff"/><stop offset="1" stop-color="#00f4ff"/></linearGradient><linearGradient id="g871" href="#U" x1="168.4" y1="132.5" x2="168.5" y2="132.7"><stop stop-color="#00e7ff"/><stop offset="1" stop-color="#00f8ff"/></linearGradient><linearGradient id="g872" href="#U" x1="180.6" y1="131.8" x2="180.6" y2="132.0"><stop stop-color="#00edff"/><stop offset="0.89" stop-color="#00ffff"/><stop offset="1" stop-color="#00fffd"/></linearGradient><linearGradient id="g873" href="#U" x1="120.0" y1="131.5" x2="120.0" y2="131.4"><stop stop-color="#00e9ff"/><stop offset="0.72" stop-color="#00ffff"/><stop offset="1" stop-color="#00fff6"/></linearGradient><linearGradient id="g874" href="#U" x1="192.7" y1="130.9" x2="192.7" y2="131.1"><stop stop-color="#00f5ff"/><stop offset="0.44" stop-color="#00ffff"/><stop offset="1" stop-color="#00fff2"/></linearGradient><linearGradient id="g875" href="#U" x1="107.8" y1="130.0" x2="107.9" y2="129.8"><stop stop-color="#00f4ff"/><stop offset="0.26" stop-color="#00ffff"/><stop offset="1" stop-color="#00ffe1"/></linearGradient><linearGradient id="g876" href="#U" x1="204.8" y1="129.8" x2="204.8" y2="130.0"><stop stop-color="#00fdff"/><stop offset="0.07" stop-color="#00ffff"/><stop offset="1" stop-color="#00ffe6"/></linearGradient><linearGradient id="g877" href="#U" x1="216.9" y1="128.6" x2="217.0" y2="128.8"><stop stop-color="#00fff9"/><stop offset="1" stop-color="#00ffda"/></linearGradient><linearGradient id="g878" href="#U" x1="95.6" y1="128.1" x2="95.7" y2="127.8"><stop stop-color="#00fff8"/><stop offset="1" stop-color="#00ffca"/></linearGradient><linearGradient id="g879" href="#U" x1="229.1" y1="127.3" x2="229.1" y2="127.6"><stop stop-color="#00fff1"/><stop offset="1" stop-color="#00ffcf"/></linearGradient><linearGradient id="g880" href="#U" x1="241.2" y1="126.1" x2="241.3" y2="126.3"><stop stop-color="#00ffe8"/><stop offset="1" stop-color="#00ffc5"/></linearGradient><linearGradient id="g881" href="#U" x1="83.4" y1="125.8" x2="83.5" y2="125.3"><stop stop-color="#00ffe2"/><stop offset="1" stop-color="#00ffb1"/></linearGradient><linearGradient id="g882" href="#U" x1="253.4" y1="124.7" x2="253.4" y2="125.0"><stop stop-color="#00ffde"/><stop offset="1" stop-color="#00ffb7"/></linearGradient><linearGradient id="g883" href="#U" x1="150.3" y1="133.1" x2="150.3" y2="132.6"><stop stop-color="#00eeff"/><stop offset="0.33" stop-color="#00ffff"/><stop offset="1" stop-color="#00ffdd"/></linearGradient><linearGradient id="g884" href="#U" x1="138.1" y1="132.8" x2="138.1" y2="132.3"><stop stop-color="#00efff"/><stop offset="0.31" stop-color="#00ffff"/><stop offset="1" stop-color="#00ffdb"/></linearGradient><linearGradient id="g885" href="#U" x1="162.4" y1="132.9" x2="162.4" y2="132.4"><stop stop-color="#00f1ff"/><stop offset="0.27" stop-color="#00ffff"/><stop offset="1" stop-color="#00ffda"/></linearGradient><linearGradient id="g886" href="#U" x1="174.5" y1="132.4" x2="174.5" y2="131.9"><stop stop-color="#00f8ff"/><stop offset="0.13" stop-color="#00ffff"/><stop offset="1" stop-color="#00ffd5"/></linearGradient><linearGradient id="g887" href="#U" x1="126.0" y1="132.1" x2="126.0" y2="131.5"><stop stop-color="#00f5ff"/><stop offset="0.19" stop-color="#00ffff"/><stop offset="1" stop-color="#00ffd4"/></linearGradient><linearGradient id="g888" href="#U" x1="186.7" y1="131.5" x2="186.6" y2="131.1"><stop stop-color="#00fffc"/><stop offset="1" stop-color="#00ffcc"/></linearGradient><linearGradient id="g889" href="#U" x1="113.8" y1="130.9" x2="113.9" y2="130.1"><stop stop-color="#00fffe"/><stop offset="1" stop-color="#00ffc7"/></linearGradient><linearGradient id="g890" href="#U" x1="198.8" y1="130.5" x2="198.8" y2="130.1"><stop stop-color="#00fff0"/><stop offset="1" stop-color="#00ffc2"/></linearGradient><linearGradient id="g891" href="#U" x1="211.0" y1="129.4" x2="210.9" y2="129.0"><stop stop-color="#00ffe4"/><stop offset="1" stop-color="#00ffb8"/></linearGradient><linearGradient id="g892" href="#U" x1="101.6" y1="129.1" x2="101.7" y2="128.3"><stop stop-color="#00ffed"/><stop offset="1" stop-color="#00ffb5"/></linearGradient><linearGradient id="g893" href="#U" x1="223.1" y1="128.2" x2="223.1" y2="127.9"><stop stop-color="#00ffd7"/><stop offset="1" stop-color="#00ffae"/></linearGradient><linearGradient id="g894" href="#U" x1="235.3" y1="126.9" x2="235.2" y2="126.7"><stop stop-color="#00ffcd"/><stop offset="1" stop-color="#00ffa5"/></linearGradient><linearGradient id="g895" href="#U" x1="89.3" y1="126.9" x2="89.5" y2="125.9"><stop stop-color="#00ffd7"/><stop offset="1" stop-color="#00ff9e"/></linearGradient><linearGradient id="g896" href="#U" x1="247.4" y1="125.7" x2="247.4" y2="125.5"><stop stop-color="#00ffc3"/><stop offset="1" stop-color="#00ffa0"/></linearGradient><linearGradient id="g897" href="#U" x1="144.2" y1="132.9" x2="144.2" y2="131.8"><stop stop-color="#00fff9"/><stop offset="1" stop-color="#00ffbe"/></linearGradient><linearGradient id="g898" href="#U" x1="156.3" y1="132.9" x2="156.3" y2="131.9"><stop stop-color="#00fff9"/><stop offset="1" stop-color="#00ffbe"/></linearGradient><linearGradient id="g899" href="#U" x1="168.5" y1="132.6" x2="168.4" y2="131.5"><stop stop-color="#00fff4"/><stop offset="1" stop-color="#00ffba"/></linearGradient><linearGradient id="g900" href="#U" x1="132.0" y1="132.4" x2="132.0" y2="131.2"><stop stop-color="#00fff5"/><stop offset="1" stop-color="#00ffb9"/></linearGradient><linearGradient id="g901" href="#U" x1="180.6" y1="131.9" x2="180.6" y2="130.9"><stop stop-color="#00ffec"/><stop offset="1" stop-color="#00ffb3"/></linearGradient><linearGradient id="g902" href="#U" x1="119.8" y1="131.3" x2="119.9" y2="130.1"><stop stop-color="#00ffec"/><stop offset="1" stop-color="#00ffae"/></linearGradient><linearGradient id="g903" href="#U" x1="192.8" y1="131.0" x2="192.7" y2="130.0"><stop stop-color="#00ffe2"/><stop offset="1" stop-color="#00ffaa"/></linearGradient><linearGradient id="g904" href="#U" x1="107.5" y1="129.8" x2="107.7" y2="128.4"><stop stop-color="#00ffdd"/><stop offset="1" stop-color="#00ff9e"/></linearGradient><linearGradient id="g905" href="#U" x1="205.0" y1="129.9" x2="204.9" y2="129.0"><stop stop-color="#00ffd7"/><stop offset="1" stop-color="#00ff9f"/></linearGradient><linearGradient id="g906" href="#U" x1="217.1" y1="128.7" x2="217.1" y2="127.9"><stop stop-color="#00ffcc"/><stop offset="1" stop-color="#00ff95"/></linearGradient><linearGradient id="g907" href="#U" x1="95.3" y1="127.7" x2="95.5" y2="126.2"><stop stop-color="#00ffc9"/><stop offset="1" stop-color="#00ff89"/></linearGradient><linearGradient id="g908" href="#U" x1="229.3" y1="127.5" x2="229.2" y2="126.8"><stop stop-color="#00ffc0"/><stop offset="1" stop-color="#00ff8b"/></linearGradient><linearGradient id="g909" href="#U" x1="241.5" y1="126.3" x2="241.4" y2="125.7"><stop stop-color="#00ffb5"/><stop offset="1" stop-color="#00ff81"/></linearGradient><linearGradient id="g910" href="#U" x1="150.2" y1="132.6" x2="150.2" y2="130.9"><stop stop-color="#00ffde"/><stop offset="1" stop-color="#00ff9d"/></linearGradient><linearGradient id="g911" href="#U" x1="162.4" y1="132.4" x2="162.4" y2="130.8"><stop stop-color="#00ffdc"/><stop offset="1" stop-color="#00ff9b"/></linearGradient><linearGradient id="g912" href="#U" x1="138.0" y1="132.3" x2="138.1" y2="130.5"><stop stop-color="#00ffdc"/><stop offset="1" stop-color="#00ff9a"/></linearGradient><linearGradient id="g913" href="#U" x1="174.6" y1="131.9" x2="174.5" y2="130.3"><stop stop-color="#00ffd6"/><stop offset="1" stop-color="#00ff96"/></linearGradient><linearGradient id="g914" href="#U" x1="125.8" y1="131.4" x2="125.9" y2="129.6"><stop stop-color="#00ffd5"/><stop offset="1" stop-color="#00ff91"/></linearGradient><linearGradient id="g915" href="#U" x1="186.8" y1="131.1" x2="186.7" y2="129.6"><stop stop-color="#00ffcd"/><stop offset="1" stop-color="#00ff8e"/></linearGradient><linearGradient id="g916" href="#U" x1="113.5" y1="130.1" x2="113.7" y2="128.2"><stop stop-color="#00ffc8"/><stop offset="1" stop-color="#00ff83"/></linearGradient><linearGradient id="g917" href="#U" x1="198.9" y1="130.1" x2="198.8" y2="128.7"><stop stop-color="#00ffc3"/><stop offset="1" stop-color="#00ff84"/></linearGradient><linearGradient id="g918" href="#U" x1="211.1" y1="129.0" x2="211.0" y2="127.6"><stop stop-color="#00ffb8"/><stop offset="1" stop-color="#00ff7a"/></linearGradient><linearGradient id="g919" href="#U" x1="101.3" y1="128.2" x2="101.5" y2="126.1"><stop stop-color="#00ffb6"/><stop offset="1" stop-color="#00ff6f"/></linearGradient><linearGradient id="g920" href="#U" x1="223.3" y1="127.8" x2="223.2" y2="126.6"><stop stop-color="#00ffad"/><stop offset="1" stop-color="#00ff71"/></linearGradient><linearGradient id="g921" href="#U" x1="235.5" y1="126.7" x2="235.4" y2="125.5"><stop stop-color="#00ffa2"/><stop offset="1" stop-color="#00ff67"/></linearGradient><linearGradient id="g922" href="#U" x1="156.3" y1="131.9" x2="156.3" y2="129.7"><stop stop-color="#00ffbe"/><stop offset="1" stop-color="#00ff78"/></linearGradient><linearGradient id="g923" href="#U" x1="144.1" y1="131.8" x2="144.1" y2="129.5"><stop stop-color="#00ffbe"/><stop offset="1" stop-color="#00ff77"/></linearGradient><linearGradient id="g924" href="#U" x1="168.5" y1="131.5" x2="168.4" y2="129.4"><stop stop-color="#00ffba"/><stop offset="1" stop-color="#00ff74"/></linearGradient><linearGradient id="g925" href="#U" x1="131.8" y1="131.2" x2="131.9" y2="128.8"><stop stop-color="#00ffb9"/><stop offset="1" stop-color="#00ff70"/></linearGradient><linearGradient id="g926" href="#U" x1="180.7" y1="130.9" x2="180.6" y2="128.8"><stop stop-color="#00ffb3"/><stop offset="1" stop-color="#00ff6e"/></linearGradient><linearGradient id="g927" href="#U" x1="119.6" y1="130.0" x2="119.8" y2="127.6"><stop stop-color="#00ffaf"/><stop offset="1" stop-color="#00ff65"/></linearGradient><linearGradient id="g928" href="#U" x1="192.9" y1="130.0" x2="192.8" y2="128.0"><stop stop-color="#00ffaa"/><stop offset="1" stop-color="#00ff66"/></linearGradient><linearGradient id="g929" href="#U" x1="205.1" y1="129.0" x2="205.0" y2="127.0"><stop stop-color="#00ffa0"/><stop offset="1" stop-color="#00ff5c"/></linearGradient><linearGradient id="g930" href="#U" x1="107.3" y1="128.3" x2="107.5" y2="125.7"><stop stop-color="#00ff9f"/><stop offset="1" stop-color="#00ff53"/></linearGradient><linearGradient id="g931" href="#U" x1="217.3" y1="127.9" x2="217.2" y2="126.0"><stop stop-color="#00ff95"/><stop offset="1" stop-color="#00ff53"/></linearGradient><linearGradient id="g932" href="#U" x1="229.5" y1="126.8" x2="229.4" y2="125.0"><stop stop-color="#00ff8b"/><stop offset="1" stop-color="#00ff4a"/></linearGradient><linearGradient id="g933" href="#U" x1="150.1" y1="130.9" x2="150.2" y2="128.1"><stop stop-color="#00ff9d"/><stop offset="1" stop-color="#00ff50"/></linearGradient><linearGradient id="g934" href="#U" x1="162.4" y1="130.8" x2="162.4" y2="128.1"><stop stop-color="#00ff9b"/><stop offset="1" stop-color="#00ff4f"/></linearGradient><linearGradient id="g935" href="#U" x1="137.9" y1="130.5" x2="138.0" y2="127.6"><stop stop-color="#00ff9a"/><stop offset="1" stop-color="#00ff4c"/></linearGradient><linearGradient id="g936" href="#U" x1="174.6" y1="130.3" x2="174.5" y2="127.7"><stop stop-color="#00ff96"/><stop offset="1" stop-color="#00ff4a"/></linearGradient><linearGradient id="g937" href="#U" x1="125.6" y1="129.6" x2="125.8" y2="126.6"><stop stop-color="#00ff92"/><stop offset="1" stop-color="#00ff42"/></linearGradient><linearGradient id="g938" href="#U" x1="186.8" y1="129.6" x2="186.7" y2="127.0"><stop stop-color="#00ff8e"/><stop offset="1" stop-color="#00ff43"/></linearGradient><linearGradient id="g939" href="#U" x1="199.1" y1="128.7" x2="198.9" y2="126.1"><stop stop-color="#00ff85"/><stop offset="1" stop-color="#00ff3b"/></linearGradient><linearGradient id="g940" href="#U" x1="113.3" y1="128.1" x2="113.6" y2="125.0"><stop stop-color="#00ff84"/><stop offset="1" stop-color="#00ff32"/></linearGradient><linearGradient id="g941" href="#U" x1="211.3" y1="127.6" x2="211.1" y2="125.2"><stop stop-color="#00ff7b"/><stop offset="1" stop-color="#00ff32"/></linearGradient><linearGradient id="g942" href="#U" x1="223.5" y1="126.5" x2="223.3" y2="124.2"><stop stop-color="#00ff71"/><stop offset="1" stop-color="#00ff29"/></linearGradient><linearGradient id="g943" href="#U" x1="156.2" y1="129.7" x2="156.2" y2="126.3"><stop stop-color="#00ff78"/><stop offset="1" stop-color="#00ff25"/></linearGradient><linearGradient id="g944" href="#U" x1="144.0" y1="129.5" x2="144.0" y2="126.1"><stop stop-color="#00ff77"/><stop offset="1" stop-color="#00ff23"/></linearGradient><linearGradient id="g945" href="#U" x1="168.5" y1="129.4" x2="168.5" y2="126.2"><stop stop-color="#00ff74"/><stop offset="1" stop-color="#00ff23"/></linearGradient><linearGradient id="g946" href="#U" x1="180.8" y1="128.8" x2="180.7" y2="125.6"><stop stop-color="#00ff6e"/><stop offset="1" stop-color="#00ff1d"/></linearGradient><linearGradient id="g947" href="#U" x1="131.7" y1="128.8" x2="131.8" y2="125.3"><stop stop-color="#00ff71"/><stop offset="1" stop-color="#00ff1c"/></linearGradient><linearGradient id="g948" href="#U" x1="193.0" y1="128.0" x2="192.9" y2="124.9"><stop stop-color="#00ff66"/><stop offset="1" stop-color="#00ff16"/></linearGradient><linearGradient id="g949" href="#U" x1="119.3" y1="127.5" x2="119.6" y2="123.9"><stop stop-color="#00ff65"/><stop offset="1" stop-color="#00ff0e"/></linearGradient><linearGradient id="g950" href="#U" x1="205.2" y1="127.0" x2="205.1" y2="124.0"><stop stop-color="#00ff5c"/><stop offset="1" stop-color="#00ff0d"/></linearGradient><linearGradient id="g951" href="#U" x1="217.5" y1="126.0" x2="217.3" y2="123.1"><stop stop-color="#00ff53"/><stop offset="1" stop-color="#00ff05"/></linearGradient><linearGradient id="g952" href="#U" x1="150.1" y1="128.1" x2="150.1" y2="124.2"><stop stop-color="#00ff50"/><stop offset="0.90" stop-color="#00ff00"/><stop offset="1" stop-color="#09ff00"/></linearGradient><linearGradient id="g953" href="#U" x1="162.4" y1="128.1" x2="162.3" y2="124.2"><stop stop-color="#00ff4f"/><stop offset="0.90" stop-color="#00ff00"/><stop offset="1" stop-color="#09ff00"/></linearGradient><linearGradient id="g954" href="#U" x1="174.6" y1="127.7" x2="174.6" y2="123.9"><stop stop-color="#00ff4a"/><stop offset="0.86" stop-color="#00ff00"/><stop offset="1" stop-color="#0cff00"/></linearGradient><linearGradient id="g955" href="#U" x1="137.7" y1="127.6" x2="137.9" y2="123.6"><stop stop-color="#00ff4c"/><stop offset="0.84" stop-color="#00ff00"/><stop offset="1" stop-color="#0eff00"/></linearGradient><linearGradient id="g956" href="#U" x1="186.9" y1="127.0" x2="186.8" y2="123.3"><stop stop-color="#00ff43"/><stop offset="0.78" stop-color="#00ff00"/><stop offset="1" stop-color="#13ff00"/></linearGradient><linearGradient id="g957" href="#U" x1="125.4" y1="126.6" x2="125.7" y2="122.4"><stop stop-color="#00ff42"/><stop offset="0.72" stop-color="#00ff00"/><stop offset="1" stop-color="#19ff00"/></linearGradient><linearGradient id="g958" href="#U" x1="199.2" y1="126.1" x2="199.0" y2="122.5"><stop stop-color="#00ff3b"/><stop offset="0.69" stop-color="#00ff00"/><stop offset="1" stop-color="#1aff00"/></linearGradient><linearGradient id="g959" href="#U" x1="211.4" y1="125.2" x2="211.3" y2="121.6"><stop stop-color="#00ff32"/><stop offset="0.59" stop-color="#00ff00"/><stop offset="1" stop-color="#22ff00"/></linearGradient><linearGradient id="g960" href="#U" x1="156.2" y1="126.3" x2="156.2" y2="121.9"><stop stop-color="#00ff25"/><stop offset="0.40" stop-color="#00ff00"/><stop offset="1" stop-color="#38ff00"/></linearGradient><linearGradient id="g961" href="#U" x1="168.5" y1="126.2" x2="168.4" y2="121.8"><stop stop-color="#00ff23"/><stop offset="0.38" stop-color="#00ff00"/><stop offset="1" stop-color="#3aff00"/></linearGradient><linearGradient id="g962" href="#U" x1="143.8" y1="126.1" x2="144.0" y2="121.5"><stop stop-color="#00ff23"/><stop offset="0.37" stop-color="#00ff00"/><stop offset="1" stop-color="#3cff00"/></linearGradient><linearGradient id="g963" href="#U" x1="180.8" y1="125.6" x2="180.7" y2="121.3"><stop stop-color="#00ff1d"/><stop offset="0.32" stop-color="#00ff00"/><stop offset="1" stop-color="#3fff00"/></linearGradient><linearGradient id="g964" href="#U" x1="131.5" y1="125.3" x2="131.7" y2="120.6"><stop stop-color="#00ff1c"/><stop offset="0.29" stop-color="#00ff00"/><stop offset="1" stop-color="#44ff00"/></linearGradient><linearGradient id="g965" href="#U" x1="193.1" y1="124.9" x2="192.9" y2="120.6"><stop stop-color="#00ff16"/><stop offset="0.24" stop-color="#00ff00"/><stop offset="1" stop-color="#45ff00"/></linearGradient><linearGradient id="g966" href="#U" x1="205.4" y1="124.0" x2="205.2" y2="119.9"><stop stop-color="#00ff0d"/><stop offset="0.15" stop-color="#00ff00"/><stop offset="1" stop-color="#4dff00"/></linearGradient><linearGradient id="g967" href="#U" x1="162.3" y1="124.2" x2="162.3" y2="119.2"><stop stop-color="#09ff00"/><stop offset="1" stop-color="#6bff00"/></linearGradient><linearGradient id="g968" href="#U" x1="150.0" y1="124.2" x2="150.1" y2="119.1"><stop stop-color="#09ff00"/><stop offset="1" stop-color="#6dff00"/></linearGradient><linearGradient id="g969" href="#U" x1="174.7" y1="123.9" x2="174.6" y2="119.0"><stop stop-color="#0cff00"/><stop offset="1" stop-color="#6eff00"/></linearGradient><linearGradient id="g970" href="#U" x1="137.6" y1="123.6" x2="137.8" y2="118.4"><stop stop-color="#0eff00"/><stop offset="1" stop-color="#73ff00"/></linearGradient><linearGradient id="g971" href="#U" x1="187.0" y1="123.3" x2="186.9" y2="118.4"><stop stop-color="#13ff00"/><stop offset="1" stop-color="#74ff00"/></linearGradient><linearGradient id="g972" href="#U" x1="199.3" y1="122.5" x2="199.1" y2="117.7"><stop stop-color="#1aff00"/><stop offset="1" stop-color="#7bff00"/></linearGradient><linearGradient id="g973" href="#U" x1="156.1" y1="121.9" x2="156.2" y2="116.3"><stop stop-color="#38ff00"/><stop offset="1" stop-color="#a1ff00"/></linearGradient><linearGradient id="g974" href="#U" x1="168.5" y1="121.8" x2="168.5" y2="116.2"><stop stop-color="#3aff00"/><stop offset="1" stop-color="#a2ff00"/></linearGradient><linearGradient id="g975" href="#U" x1="143.7" y1="121.5" x2="143.9" y2="115.8"><stop stop-color="#3cff00"/><stop offset="1" stop-color="#a5ff00"/></linearGradient><linearGradient id="g976" href="#U" x1="180.9" y1="121.3" x2="180.7" y2="115.8"><stop stop-color="#3fff00"/><stop offset="1" stop-color="#a6ff00"/></linearGradient><linearGradient id="g977" href="#U" x1="193.2" y1="120.6" x2="193.0" y2="115.2"><stop stop-color="#45ff00"/><stop offset="1" stop-color="#acff00"/></linearGradient><linearGradient id="g978" href="#U" x1="162.3" y1="119.2" x2="162.3" y2="113.1"><stop stop-color="#6bff00"/><stop offset="1" stop-color="#d9ff00"/></linearGradient><linearGradient id="g979" href="#U" x1="149.9" y1="119.1" x2="150.0" y2="112.9"><stop stop-color="#6cff00"/><stop offset="1" stop-color="#dbff00"/></linearGradient><linearGradient id="g980" href="#U" x1="174.7" y1="119.0" x2="174.6" y2="112.9"><stop stop-color="#6eff00"/><stop offset="1" stop-color="#dbff00"/></linearGradient><linearGradient id="g981" href="#U" x1="187.1" y1="118.4" x2="186.9" y2="112.4"><stop stop-color="#74ff00"/><stop offset="1" stop-color="#e0ff00"/></linearGradient><linearGradient id="g982" href="#U" x1="156.0" y1="116.3" x2="156.1" y2="109.5"><stop stop-color="#a1ff00"/><stop offset="0.82" stop-color="#ffff00"/><stop offset="1" stop-color="#ffea00"/></linearGradient><linearGradient id="g983" href="#U" x1="168.5" y1="116.2" x2="168.4" y2="109.5"><stop stop-color="#a1ff00"/><stop offset="0.82" stop-color="#ffff00"/><stop offset="1" stop-color="#ffea00"/></linearGradient><linearGradient id="g984" href="#U" x1="180.9" y1="115.8" x2="180.8" y2="109.2"><stop stop-color="#a6ff00"/><stop offset="0.79" stop-color="#ffff00"/><stop offset="1" stop-color="#ffe700"/></linearGradient><linearGradient id="g985" href="#U" x1="162.3" y1="113.1" x2="162.3" y2="105.8"><stop stop-color="#d9ff00"/><stop offset="0.32" stop-color="#ffff00"/><stop offset="1" stop-color="#ffae00"/></linearGradient><linearGradient id="g986" href="#U" x1="174.7" y1="112.9" x2="174.6" y2="105.6"><stop stop-color="#dbff00"/><stop offset="0.30" stop-color="#ffff00"/><stop offset="1" stop-color="#ffac00"/></linearGradient><linearGradient id="g987" href="#U" x1="168.5" y1="109.5" x2="168.4" y2="101.7"><stop stop-color="#ffea00"/><stop offset="1" stop-color="#ff6e00"/></linearGradient></defs><g stroke="#1c1c1c" stroke-width="0.5" stroke-linejoin="round"><path d="M168.4 71.5L174.6 67.0L168.4 61.7L162.3 66.3Z" fill="url(#g647)"/><path d="M174.5 76.5L180.6 72.1L174.6 67.0L168.4 71.5Z" fill="url(#g648)"/><path d="M162.4 75.9L168.4 71.5L162.3 66.3L156.3 70.6Z" fill="url(#g649)"/><path d="M180.6 81.2L186.7 76.9L180.6 72.1L174.5 76.5Z" fill="url(#g650)"/><path d="M168.4 80.8L174.5 76.5L168.4 71.5L162.4 75.9Z" fill="url(#g651)"/><path d="M156.3 80.1L162.4 75.9L156.3 70.6L150.2 74.8Z" fill="url(#g652)"/><path d="M186.7 85.7L192.8 81.4L186.7 76.9L180.6 81.2Z" fill="url(#g653)"/><path d="M174.5 85.4L180.6 81.2L174.5 76.5L168.4 80.8Z" fill="url(#g654)"/><path d="M162.4 84.9L168.4 80.8L162.4 75.9L156.3 80.1Z" fill="url(#g655)"/><path d="M150.2 84.0L156.3 80.1L150.2 74.8L144.1 78.8Z" fill="url(#g656)"/><path d="M192.7 89.8L198.8 85.7L192.8 81.4L186.7 85.7Z" fill="url(#g657)"/><path d="M180.6 89.8L186.7 85.7L180.6 81.2L174.5 85.4Z" fill="url(#g658)"/><path d="M168.4 89.5L174.5 85.4L168.4 80.8L162.4 84.9Z" fill="url(#g659)"/><path d="M156.3 88.9L162.4 84.9L156.3 80.1L150.2 84.0Z" fill="url(#g660)"/><path d="M144.2 87.8L150.2 84.0L144.1 78.8L138.1 82.7Z" fill="url(#g661)"/><path d="M198.7 93.7L204.8 89.7L198.8 85.7L192.7 89.8Z" fill="url(#g662)"/><path d="M186.6 93.8L192.7 89.8L186.7 85.7L180.6 89.8Z" fill="url(#g663)"/><path d="M174.5 93.7L180.6 89.8L174.5 85.4L168.4 89.5Z" fill="url(#g664)"/><path d="M162.4 93.4L168.4 89.5L162.4 84.9L156.3 88.9Z" fill="url(#g665)"/><path d="M150.3 92.7L156.3 88.9L150.2 84.0L144.2 87.8Z" fill="url(#g666)"/><path d="M138.1 91.5L144.2 87.8L138.1 82.7L132.0 86.3Z" fill="url(#g667)"/><path d="M192.7 97.5L198.7 93.7L192.7 89.8L186.6 93.8Z" fill="url(#g668)"/><path d="M204.8 97.3L210.9 93.5L204.8 89.7L198.7 93.7Z" fill="url(#g669)"/><path d="M180.6 97.7L186.6 93.8L180.6 89.8L174.5 93.7Z" fill="url(#g670)"/><path d="M168.4 97.5L174.5 93.7L168.4 89.5L162.4 93.4Z" fill="url(#g671)"/><path d="M156.3 97.1L162.4 93.4L156.3 88.9L150.3 92.7Z" fill="url(#g672)"/><path d="M144.2 96.2L150.3 92.7L144.2 87.8L138.1 91.5Z" fill="url(#g673)"/><path d="M132.1 94.9L138.1 91.5L132.0 86.3L126.0 89.7Z" fill="url(#g674)"/><path d="M186.6 101.3L192.7 97.5L186.6 93.8L180.6 97.7Z" fill="url(#g675)"/><path d="M174.5 101.3L180.6 97.7L174.5 93.7L168.4 97.5Z" fill="url(#g676)"/><path d="M198.7 101.0L204.8 97.3L198.7 93.7L192.7 97.5Z" fill="url(#g677)"/><path d="M210.8 100.6L216.9 97.0L210.9 93.5L204.8 97.3Z" fill="url(#g678)"/><path d="M162.4 101.2L168.4 97.5L162.4 93.4L156.3 97.1Z" fill="url(#g679)"/><path d="M150.3 100.6L156.3 97.1L150.3 92.7L144.2 96.2Z" fill="url(#g680)"/><path d="M138.2 99.6L144.2 96.2L138.1 91.5L132.1 94.9Z" fill="url(#g681)"/><path d="M126.1 98.1L132.1 94.9L126.0 89.7L119.9 92.9Z" fill="url(#g682)"/><path d="M180.5 104.8L186.6 101.3L180.6 97.7L174.5 101.3Z" fill="url(#g683)"/><path d="M168.4 104.9L174.5 101.3L168.4 97.5L162.4 101.2Z" fill="url(#g684)"/><path d="M192.6 104.6L198.7 101.0L192.7 97.5L186.6 101.3Z" fill="url(#g685)"/><path d="M204.7 104.1L210.8 100.6L204.8 97.3L198.7 101.0Z" fill="url(#g686)"/><path d="M156.4 104.6L162.4 101.2L156.3 97.1L150.3 100.6Z" fill="url(#g687)"/><path d="M216.8 103.6L222.9 100.2L216.9 97.0L210.8 100.6Z" fill="url(#g688)"/><path d="M144.3 103.9L150.3 100.6L144.2 96.2L138.2 99.6Z" fill="url(#g689)"/><path d="M132.2 102.7L138.2 99.6L132.1 94.9L126.1 98.1Z" fill="url(#g690)"/><path d="M120.0 101.1L126.1 98.1L119.9 92.9L113.9 96.0Z" fill="url(#g691)"/><path d="M174.5 108.2L180.5 104.8L174.5 101.3L168.4 104.9Z" fill="url(#g692)"/><path d="M162.4 108.2L168.4 104.9L162.4 101.2L156.4 104.6Z" fill="url(#g693)"/><path d="M186.6 108.0L192.6 104.6L186.6 101.3L180.5 104.8Z" fill="url(#g694)"/><path d="M198.7 107.5L204.7 104.1L198.7 101.0L192.6 104.6Z" fill="url(#g695)"/><path d="M150.3 107.8L156.4 104.6L150.3 100.6L144.3 103.9Z" fill="url(#g696)"/><path d="M210.7 107.0L216.8 103.6L210.8 100.6L204.7 104.1Z" fill="url(#g697)"/><path d="M222.8 106.4L228.9 103.1L222.9 100.2L216.8 103.6Z" fill="url(#g698)"/><path d="M138.2 107.0L144.3 103.9L138.2 99.6L132.2 102.7Z" fill="url(#g699)"/><path d="M126.1 105.7L132.2 102.7L126.1 98.1L120.0 101.1Z" fill="url(#g700)"/><path d="M114.0 103.8L120.0 101.1L113.9 96.0L107.9 98.8Z" fill="url(#g701)"/><path d="M168.4 111.5L174.5 108.2L168.4 104.9L162.4 108.2Z" fill="url(#g702)"/><path d="M180.5 111.3L186.6 108.0L180.5 104.8L174.5 108.2Z" fill="url(#g703)"/><path d="M156.4 111.3L162.4 108.2L156.4 104.6L150.3 107.8Z" fill="url(#g704)"/><path d="M192.6 110.8L198.7 107.5L192.6 104.6L186.6 108.0Z" fill="url(#g705)"/><path d="M144.3 110.8L150.3 107.8L144.3 103.9L138.2 107.0Z" fill="url(#g706)"/><path d="M204.7 110.2L210.7 107.0L204.7 104.1L198.7 107.5Z" fill="url(#g707)"/><path d="M216.8 109.6L222.8 106.4L216.8 103.6L210.7 107.0Z" fill="url(#g708)"/><path d="M228.9 108.8L234.9 105.8L228.9 103.1L222.8 106.4Z" fill="url(#g709)"/><path d="M132.2 109.8L138.2 107.0L132.2 102.7L126.1 105.7Z" fill="url(#g710)"/><path d="M120.1 108.4L126.1 105.7L120.0 101.1L114.0 103.8Z" fill="url(#g711)"/><path d="M108.0 106.4L114.0 103.8L107.9 98.8L101.8 101.4Z" fill="url(#g712)"/><path d="M162.4 114.5L168.4 111.5L162.4 108.2L156.4 111.3Z" fill="url(#g713)"/><path d="M174.5 114.3L180.5 111.3L174.5 108.2L168.4 111.5Z" fill="url(#g714)"/><path d="M150.3 114.2L156.4 111.3L150.3 107.8L144.3 110.8Z" fill="url(#g715)"/><path d="M186.6 113.9L192.6 110.8L186.6 108.0L180.5 111.3Z" fill="url(#g716)"/><path d="M198.6 113.4L204.7 110.2L198.7 107.5L192.6 110.8Z" fill="url(#g717)"/><path d="M138.3 113.6L144.3 110.8L138.2 107.0L132.2 109.8Z" fill="url(#g718)"/><path d="M210.7 112.6L216.8 109.6L210.7 107.0L204.7 110.2Z" fill="url(#g719)"/><path d="M222.8 111.9L228.9 108.8L222.8 106.4L216.8 109.6Z" fill="url(#g720)"/><path d="M126.2 112.4L132.2 109.8L126.1 105.7L120.1 108.4Z" fill="url(#g721)"/><path d="M234.9 111.0L241.0 108.1L234.9 105.8L228.9 108.8Z" fill="url(#g722)"/><path d="M114.1 110.8L120.1 108.4L114.0 103.8L108.0 106.4Z" fill="url(#g723)"/><path d="M101.9 108.6L108.0 106.4L101.8 101.4L95.8 103.8Z" fill="url(#g724)"/><path d="M168.4 117.2L174.5 114.3L168.4 111.5L162.4 114.5Z" fill="url(#g725)"/><path d="M156.4 117.3L162.4 114.5L156.4 111.3L150.3 114.2Z" fill="url(#g726)"/><path d="M180.5 116.9L186.6 113.9L180.5 111.3L174.5 114.3Z" fill="url(#g727)"/><path d="M144.3 116.9L150.3 114.2L144.3 110.8L138.3 113.6Z" fill="url(#g728)"/><path d="M192.6 116.3L198.6 113.4L192.6 110.8L186.6 113.9Z" fill="url(#g729)"/><path d="M132.3 116.1L138.3 113.6L132.2 109.8L126.2 112.4Z" fill="url(#g730)"/><path d="M204.7 115.6L210.7 112.6L204.7 110.2L198.6 113.4Z" fill="url(#g731)"/><path d="M216.7 114.7L222.8 111.9L216.8 109.6L210.7 112.6Z" fill="url(#g732)"/><path d="M228.8 113.9L234.9 111.0L228.9 108.8L222.8 111.9Z" fill="#00c3ff"/><path d="M120.2 114.8L126.2 112.4L120.1 108.4L114.1 110.8Z" fill="url(#g733)"/><path d="M240.9 112.9L247.0 110.2L241.0 108.1L234.9 111.0Z" fill="#00c9ff"/><path d="M108.0 113.0L114.1 110.8L108.0 106.4L101.9 108.6Z" fill="url(#g734)"/><path d="M95.9 110.7L101.9 108.6L95.8 103.8L89.8 106.0Z" fill="url(#g735)"/><path d="M162.4 119.9L168.4 117.2L162.4 114.5L156.4 117.3Z" fill="url(#g736)"/><path d="M150.4 119.8L156.4 117.3L150.3 114.2L144.3 116.9Z" fill="url(#g737)"/><path d="M174.5 119.6L180.5 116.9L174.5 114.3L168.4 117.2Z" fill="url(#g738)"/><path d="M138.3 119.3L144.3 116.9L138.3 113.6L132.3 116.1Z" fill="url(#g739)"/><path d="M186.5 119.1L192.6 116.3L186.6 113.9L180.5 116.9Z" fill="url(#g740)"/><path d="M198.6 118.4L204.7 115.6L198.6 113.4L192.6 116.3Z" fill="#00aaff"/><path d="M126.2 118.3L132.3 116.1L126.2 112.4L120.2 114.8Z" fill="url(#g741)"/><path d="M210.7 117.5L216.7 114.7L210.7 112.6L204.7 115.6Z" fill="#00b2ff"/><path d="M222.8 116.6L228.8 113.9L222.8 111.9L216.7 114.7Z" fill="#00b9ff"/><path d="M114.1 116.9L120.2 114.8L114.1 110.8L108.0 113.0Z" fill="url(#g742)"/><path d="M234.9 115.6L240.9 112.9L234.9 111.0L228.8 113.9Z" fill="#00c1ff"/><path d="M247.0 114.6L253.0 112.0L247.0 110.2L240.9 112.9Z" fill="#00c9ff"/><path d="M102.0 114.9L108.0 113.0L101.9 108.6L95.9 110.7Z" fill="url(#g743)"/><path d="M89.9 112.5L95.9 110.7L89.8 106.0L83.7 108.0Z" fill="url(#g744)"/><path d="M156.4 122.3L162.4 119.9L156.4 117.3L150.4 119.8Z" fill="#0095ff"/><path d="M168.4 122.2L174.5 119.6L168.4 117.2L162.4 119.9Z" fill="#0096ff"/><path d="M144.3 122.1L150.4 119.8L144.3 116.9L138.3 119.3Z" fill="url(#g745)"/><path d="M180.5 121.7L186.5 119.1L180.5 116.9L174.5 119.6Z" fill="#009aff"/><path d="M132.3 121.4L138.3 119.3L132.3 116.1L126.2 118.3Z" fill="url(#g746)"/><path d="M192.6 121.0L198.6 118.4L192.6 116.3L186.5 119.1Z" fill="#00a1ff"/><path d="M204.6 120.1L210.7 117.5L204.7 115.6L198.6 118.4Z" fill="#00a9ff"/><path d="M120.2 120.3L126.2 118.3L120.2 114.8L114.1 116.9Z" fill="url(#g747)"/><path d="M216.7 119.2L222.8 116.6L216.7 114.7L210.7 117.5Z" fill="#00b2ff"/><path d="M228.8 118.1L234.9 115.6L228.8 113.9L222.8 116.6Z" fill="#00baff"/><path d="M108.1 118.6L114.1 116.9L108.0 113.0L102.0 114.9Z" fill="url(#g748)"/><path d="M240.9 117.0L247.0 114.6L240.9 112.9L234.9 115.6Z" fill="#00c3ff"/><path d="M253.0 115.9L259.1 113.4L253.0 112.0L247.0 114.6Z" fill="#00ccff"/><path d="M96.0 116.5L102.0 114.9L95.9 110.7L89.9 112.5Z" fill="url(#g749)"/><path d="M83.8 114.0L89.9 112.5L83.7 108.0L77.7 109.8Z" fill="url(#g750)"/><path d="M150.4 124.5L156.4 122.3L150.4 119.8L144.3 122.1Z" fill="#0090ff"/><path d="M162.4 124.4L168.4 122.2L162.4 119.9L156.4 122.3Z" fill="#0090ff"/><path d="M174.5 124.1L180.5 121.7L174.5 119.6L168.4 122.2Z" fill="#0094ff"/><path d="M138.3 124.1L144.3 122.1L138.3 119.3L132.3 121.4Z" fill="#0094ff"/><path d="M186.5 123.4L192.6 121.0L186.5 119.1L180.5 121.7Z" fill="#009aff"/><path d="M126.2 123.2L132.3 121.4L126.2 118.3L120.2 120.3Z" fill="#009dff"/><path d="M198.6 122.6L204.6 120.1L198.6 118.4L192.6 121.0Z" fill="#00a2ff"/><path d="M114.2 121.9L120.2 120.3L114.1 116.9L108.1 118.6Z" fill="url(#g751)"/><path d="M210.7 121.6L216.7 119.2L210.7 117.5L204.6 120.1Z" fill="#00abff"/><path d="M222.8 120.5L228.8 118.1L222.8 116.6L216.7 119.2Z" fill="#00b5ff"/><path d="M234.9 119.4L240.9 117.0L234.9 115.6L228.8 118.1Z" fill="#00beff"/><path d="M102.0 120.1L108.1 118.6L102.0 114.9L96.0 116.5Z" fill="url(#g752)"/><path d="M247.0 118.2L253.0 115.9L247.0 114.6L240.9 117.0Z" fill="#00c8ff"/><path d="M259.1 116.9L265.2 114.6L259.1 113.4L253.0 115.9Z" fill="#00d2ff"/><path d="M89.9 117.9L96.0 116.5L89.9 112.5L83.8 114.0Z" fill="url(#g753)"/><path d="M77.7 115.3L83.8 114.0L77.7 109.8L71.6 111.3Z" fill="url(#g754)"/><path d="M156.4 126.4L162.4 124.4L156.4 122.3L150.4 124.5Z" fill="#008eff"/><path d="M144.3 126.3L150.4 124.5L144.3 122.1L138.3 124.1Z" fill="#008fff"/><path d="M168.4 126.2L174.5 124.1L168.4 122.2L162.4 124.4Z" fill="#0090ff"/><path d="M132.3 125.8L138.3 124.1L132.3 121.4L126.2 123.2Z" fill="#0095ff"/><path d="M180.5 125.6L186.5 123.4L180.5 121.7L174.5 124.1Z" fill="#0096ff"/><path d="M192.6 124.8L198.6 122.6L192.6 121.0L186.5 123.4Z" fill="#009eff"/><path d="M120.2 124.7L126.2 123.2L120.2 120.3L114.2 121.9Z" fill="url(#g755)"/><path d="M204.7 123.9L210.7 121.6L204.6 120.1L198.6 122.6Z" fill="#00a7ff"/><path d="M108.1 123.2L114.2 121.9L108.1 118.6L102.0 120.1Z" fill="url(#g756)"/><path d="M216.7 122.8L222.8 120.5L216.7 119.2L210.7 121.6Z" fill="#00b1ff"/><path d="M228.8 121.6L234.9 119.4L228.8 118.1L222.8 120.5Z" fill="#00bbff"/><path d="M96.0 121.2L102.0 120.1L96.0 116.5L89.9 117.9Z" fill="url(#g757)"/><path d="M240.9 120.4L247.0 118.2L240.9 117.0L234.9 119.4Z" fill="#00c6ff"/><path d="M253.1 119.1L259.1 116.9L253.0 115.9L247.0 118.2Z" fill="#00d0ff"/><path d="M265.2 117.7L271.2 115.4L265.2 114.6L259.1 116.9Z" fill="#00dcff"/><path d="M83.8 118.9L89.9 117.9L83.8 114.0L77.7 115.3Z" fill="url(#g758)"/><path d="M71.7 116.3L77.7 115.3L71.6 111.3L65.5 112.6Z" fill="url(#g759)"/><path d="M150.4 128.2L156.4 126.4L150.4 124.5L144.3 126.3Z" fill="#008fff"/><path d="M162.4 128.1L168.4 126.2L162.4 124.4L156.4 126.4Z" fill="#0090ff"/><path d="M138.3 127.9L144.3 126.3L138.3 124.1L132.3 125.8Z" fill="#0091ff"/><path d="M174.5 127.6L180.5 125.6L174.5 124.1L168.4 126.2Z" fill="#0095ff"/><path d="M126.2 127.1L132.3 125.8L126.2 123.2L120.2 124.7Z" fill="#0099ff"/><path d="M186.5 126.9L192.6 124.8L186.5 123.4L180.5 125.6Z" fill="#009cff"/><path d="M198.6 125.9L204.7 123.9L198.6 122.6L192.6 124.8Z" fill="#00a6ff"/><path d="M114.2 125.9L120.2 124.7L114.2 121.9L108.1 123.2Z" fill="url(#g760)"/><path d="M210.7 124.9L216.7 122.8L210.7 121.6L204.7 123.9Z" fill="#00b0ff"/><path d="M102.0 124.2L108.1 123.2L102.0 120.1L96.0 121.2Z" fill="url(#g761)"/><path d="M222.8 123.7L228.8 121.6L222.8 120.5L216.7 122.8Z" fill="#00baff"/><path d="M234.9 122.5L240.9 120.4L234.9 119.4L228.8 121.6Z" fill="#00c5ff"/><path d="M89.9 122.0L96.0 121.2L89.9 117.9L83.8 118.9Z" fill="url(#g762)"/><path d="M247.0 121.2L253.1 119.1L247.0 118.2L240.9 120.4Z" fill="#00d0ff"/><path d="M259.1 119.8L265.2 117.7L259.1 116.9L253.1 119.1Z" fill="url(#g763)"/><path d="M77.7 119.6L83.8 118.9L77.7 115.3L71.7 116.3Z" fill="url(#g764)"/><path d="M271.3 118.2L277.3 116.0L271.2 115.4L265.2 117.7Z" fill="url(#g765)"/><path d="M65.6 117.0L71.7 116.3L65.5 112.6L59.4 113.7Z" fill="#00fffe"/><path d="M156.4 129.6L162.4 128.1L156.4 126.4L150.4 128.2Z" fill="#0093ff"/><path d="M144.3 129.6L150.4 128.2L144.3 126.3L138.3 127.9Z" fill="#0093ff"/><path d="M168.4 129.3L174.5 127.6L168.4 126.2L162.4 128.1Z" fill="#0097ff"/><path d="M132.3 129.1L138.3 127.9L132.3 125.8L126.2 127.1Z" fill="#0098ff"/><path d="M180.5 128.7L186.5 126.9L180.5 125.6L174.5 127.6Z" fill="#009dff"/><path d="M120.2 128.1L126.2 127.1L120.2 124.7L114.2 125.9Z" fill="#00a1ff"/><path d="M192.6 127.8L198.6 125.9L192.6 124.8L186.5 126.9Z" fill="url(#g766)"/><path d="M108.1 126.7L114.2 125.9L108.1 123.2L102.0 124.2Z" fill="url(#g767)"/><path d="M204.7 126.7L210.7 124.9L204.7 123.9L198.6 125.9Z" fill="url(#g768)"/><path d="M216.8 125.6L222.8 123.7L216.7 122.8L210.7 124.9Z" fill="url(#g769)"/><path d="M96.0 124.8L102.0 124.2L96.0 121.2L89.9 122.0Z" fill="url(#g770)"/><path d="M228.9 124.4L234.9 122.5L228.8 121.6L222.8 123.7Z" fill="url(#g771)"/><path d="M241.0 123.1L247.0 121.2L240.9 120.4L234.9 122.5Z" fill="url(#g772)"/><path d="M83.8 122.5L89.9 122.0L83.8 118.9L77.7 119.6Z" fill="url(#g773)"/><path d="M253.1 121.7L259.1 119.8L253.1 119.1L247.0 121.2Z" fill="url(#g774)"/><path d="M265.3 120.2L271.3 118.2L265.2 117.7L259.1 119.8Z" fill="url(#g775)"/><path d="M71.6 120.0L77.7 119.6L71.7 116.3L65.6 117.0Z" fill="url(#g776)"/><path d="M277.4 118.4L283.5 116.2L277.3 116.0L271.3 118.2Z" fill="url(#g777)"/><path d="M59.4 117.5L65.6 117.0L59.4 113.7L53.3 114.5Z" fill="url(#g778)"/><path d="M150.4 130.9L156.4 129.6L150.4 128.2L144.3 129.6Z" fill="url(#g779)"/><path d="M138.3 130.6L144.3 129.6L138.3 127.9L132.3 129.1Z" fill="url(#g780)"/><path d="M162.4 130.7L168.4 129.3L162.4 128.1L156.4 129.6Z" fill="url(#g781)"/><path d="M174.5 130.2L180.5 128.7L174.5 127.6L168.4 129.3Z" fill="url(#g782)"/><path d="M126.2 129.9L132.3 129.1L126.2 127.1L120.2 128.1Z" fill="url(#g783)"/><path d="M186.6 129.4L192.6 127.8L186.5 126.9L180.5 128.7Z" fill="url(#g784)"/><path d="M114.1 128.7L120.2 128.1L114.2 125.9L108.1 126.7Z" fill="url(#g785)"/><path d="M198.6 128.4L204.7 126.7L198.6 125.9L192.6 127.8Z" fill="url(#g786)"/><path d="M102.0 127.1L108.1 126.7L102.0 124.2L96.0 124.8Z" fill="url(#g787)"/><path d="M210.7 127.3L216.8 125.6L210.7 124.9L204.7 126.7Z" fill="url(#g788)"/><path d="M222.8 126.1L228.9 124.4L222.8 123.7L216.8 125.6Z" fill="url(#g789)"/><path d="M89.9 125.0L96.0 124.8L89.9 122.0L83.8 122.5Z" fill="url(#g790)"/><path d="M235.0 124.8L241.0 123.1L234.9 122.5L228.9 124.4Z" fill="url(#g791)"/><path d="M247.1 123.5L253.1 121.7L247.0 121.2L241.0 123.1Z" fill="url(#g792)"/><path d="M77.7 122.6L83.8 122.5L77.7 119.6L71.6 120.0Z" fill="url(#g793)"/><path d="M259.2 122.0L265.3 120.2L259.1 119.8L253.1 121.7Z" fill="url(#g794)"/><path d="M271.4 120.3L277.4 118.4L271.3 118.2L265.3 120.2Z" fill="url(#g795)"/><path d="M65.5 120.1L71.6 120.0L65.6 117.0L59.4 117.5Z" fill="url(#g796)"/><path d="M283.6 118.3L289.6 116.1L283.5 116.2L277.4 118.4Z" fill="url(#g797)"/><path d="M53.3 117.6L59.4 117.5L53.3 114.5L47.2 115.1Z" fill="url(#g798)"/><path d="M144.3 131.8L150.4 130.9L144.3 129.6L138.3 130.6Z" fill="url(#g799)"/><path d="M156.4 131.8L162.4 130.7L156.4 129.6L150.4 130.9Z" fill="url(#g800)"/><path d="M132.2 131.3L138.3 130.6L132.3 129.1L126.2 129.9Z" fill="url(#g801)"/><path d="M168.5 131.4L174.5 130.2L168.4 129.3L162.4 130.7Z" fill="url(#g802)"/><path d="M180.5 130.7L186.6 129.4L180.5 128.7L174.5 130.2Z" fill="url(#g803)"/><path d="M120.1 130.4L126.2 129.9L120.2 128.1L114.1 128.7Z" fill="url(#g804)"/><path d="M192.6 129.8L198.6 128.4L192.6 127.8L186.6 129.4Z" fill="url(#g805)"/><path d="M108.0 128.9L114.1 128.7L108.1 126.7L102.0 127.1Z" fill="url(#g806)"/><path d="M204.7 128.7L210.7 127.3L204.7 126.7L198.6 128.4Z" fill="url(#g807)"/><path d="M216.8 127.5L222.8 126.1L216.8 125.6L210.7 127.3Z" fill="url(#g808)"/><path d="M95.9 127.1L102.0 127.1L96.0 124.8L89.9 125.0Z" fill="url(#g809)"/><path d="M228.9 126.3L235.0 124.8L228.9 124.4L222.8 126.1Z" fill="url(#g810)"/><path d="M241.1 125.0L247.1 123.5L241.0 123.1L235.0 124.8Z" fill="url(#g811)"/><path d="M83.8 124.8L89.9 125.0L83.8 122.5L77.7 122.6Z" fill="url(#g812)"/><path d="M253.2 123.6L259.2 122.0L253.1 121.7L247.1 123.5Z" fill="url(#g813)"/><path d="M71.6 122.3L77.7 122.6L71.6 120.0L65.5 120.1Z" fill="#00ffff"/><path d="M265.3 122.0L271.4 120.3L265.3 120.2L259.2 122.0Z" fill="url(#g814)"/><path d="M277.5 120.2L283.6 118.3L277.4 118.4L271.4 120.3Z" fill="url(#g815)"/><path d="M59.4 119.8L65.5 120.1L59.4 117.5L53.3 117.6Z" fill="url(#g816)"/><path d="M150.3 132.5L156.4 131.8L150.4 130.9L144.3 131.8Z" fill="url(#g817)"/><path d="M138.3 132.3L144.3 131.8L138.3 130.6L132.2 131.3Z" fill="url(#g818)"/><path d="M162.4 132.3L168.5 131.4L162.4 130.7L156.4 131.8Z" fill="url(#g819)"/><path d="M126.2 131.6L132.2 131.3L126.2 129.9L120.1 130.4Z" fill="url(#g820)"/><path d="M174.5 131.8L180.5 130.7L174.5 130.2L168.5 131.4Z" fill="url(#g821)"/><path d="M186.6 131.0L192.6 129.8L186.6 129.4L180.5 130.7Z" fill="url(#g822)"/><path d="M114.1 130.4L120.1 130.4L114.1 128.7L108.0 128.9Z" fill="url(#g823)"/><path d="M198.7 129.9L204.7 128.7L198.6 128.4L192.6 129.8Z" fill="url(#g824)"/><path d="M101.9 128.7L108.0 128.9L102.0 127.1L95.9 127.1Z" fill="url(#g825)"/><path d="M210.8 128.8L216.8 127.5L210.7 127.3L204.7 128.7Z" fill="url(#g826)"/><path d="M222.9 127.6L228.9 126.3L222.8 126.1L216.8 127.5Z" fill="url(#g827)"/><path d="M89.8 126.6L95.9 127.1L89.9 125.0L83.8 124.8Z" fill="url(#g828)"/><path d="M235.0 126.3L241.1 125.0L235.0 124.8L228.9 126.3Z" fill="url(#g829)"/><path d="M247.2 124.9L253.2 123.6L247.1 123.5L241.1 125.0Z" fill="url(#g830)"/><path d="M77.6 124.2L83.8 124.8L77.7 122.6L71.6 122.3Z" fill="url(#g831)"/><path d="M259.3 123.5L265.3 122.0L259.2 122.0L253.2 123.6Z" fill="url(#g832)"/><path d="M271.5 121.8L277.5 120.2L271.4 120.3L265.3 122.0Z" fill="url(#g833)"/><path d="M65.4 121.6L71.6 122.3L65.5 120.1L59.4 119.8Z" fill="url(#g834)"/><path d="M144.3 132.9L150.3 132.5L144.3 131.8L138.3 132.3Z" fill="url(#g835)"/><path d="M156.4 132.9L162.4 132.3L156.4 131.8L150.3 132.5Z" fill="url(#g836)"/><path d="M132.2 132.4L138.3 132.3L132.2 131.3L126.2 131.6Z" fill="url(#g837)"/><path d="M168.4 132.5L174.5 131.8L168.5 131.4L162.4 132.3Z" fill="url(#g838)"/><path d="M120.1 131.5L126.2 131.6L120.1 130.4L114.1 130.4Z" fill="url(#g839)"/><path d="M180.5 131.8L186.6 131.0L180.5 130.7L174.5 131.8Z" fill="url(#g840)"/><path d="M192.6 130.9L198.7 129.9L192.6 129.8L186.6 131.0Z" fill="url(#g841)"/><path d="M108.0 130.0L114.1 130.4L108.0 128.9L101.9 128.7Z" fill="url(#g842)"/><path d="M204.8 129.8L210.8 128.8L204.7 128.7L198.7 129.9Z" fill="url(#g843)"/><path d="M95.8 128.1L101.9 128.7L95.9 127.1L89.8 126.6Z" fill="url(#g844)"/><path d="M216.9 128.6L222.9 127.6L216.8 127.5L210.8 128.8Z" fill="url(#g845)"/><path d="M229.0 127.4L235.0 126.3L228.9 126.3L222.9 127.6Z" fill="url(#g846)"/><path d="M83.6 125.8L89.8 126.6L83.8 124.8L77.6 124.2Z" fill="url(#g847)"/><path d="M241.1 126.1L247.2 124.9L241.1 125.0L235.0 126.3Z" fill="url(#g848)"/><path d="M253.3 124.7L259.3 123.5L253.2 123.6L247.2 124.9Z" fill="url(#g849)"/><path d="M71.4 123.2L77.6 124.2L71.6 122.3L65.4 121.6Z" fill="url(#g850)"/><path d="M265.5 123.2L271.5 121.8L265.3 122.0L259.3 123.5Z" fill="url(#g851)"/><path d="M150.3 133.1L156.4 132.9L150.3 132.5L144.3 132.9Z" fill="url(#g852)"/><path d="M138.2 132.8L144.3 132.9L138.3 132.3L132.2 132.4Z" fill="url(#g853)"/><path d="M162.4 132.9L168.4 132.5L162.4 132.3L156.4 132.9Z" fill="url(#g854)"/><path d="M126.1 132.1L132.2 132.4L126.2 131.6L120.1 131.5Z" fill="url(#g855)"/><path d="M174.5 132.4L180.5 131.8L174.5 131.8L168.4 132.5Z" fill="url(#g856)"/><path d="M186.6 131.5L192.6 130.9L186.6 131.0L180.5 131.8Z" fill="url(#g857)"/><path d="M114.0 130.9L120.1 131.5L114.1 130.4L108.0 130.0Z" fill="url(#g858)"/><path d="M198.7 130.5L204.8 129.8L198.7 129.9L192.6 130.9Z" fill="url(#g859)"/><path d="M101.8 129.1L108.0 130.0L101.9 128.7L95.8 128.1Z" fill="url(#g860)"/><path d="M210.8 129.4L216.9 128.6L210.8 128.8L204.8 129.8Z" fill="url(#g861)"/><path d="M223.0 128.2L229.0 127.4L222.9 127.6L216.9 128.6Z" fill="url(#g862)"/><path d="M89.7 126.9L95.8 128.1L89.8 126.6L83.6 125.8Z" fill="url(#g863)"/><path d="M235.1 126.9L241.1 126.1L235.0 126.3L229.0 127.4Z" fill="url(#g864)"/><path d="M247.3 125.6L253.3 124.7L247.2 124.9L241.1 126.1Z" fill="url(#g865)"/><path d="M77.5 124.4L83.6 125.8L77.6 124.2L71.4 123.2Z" fill="url(#g866)"/><path d="M259.4 124.3L265.5 123.2L259.3 123.5L253.3 124.7Z" fill="url(#g867)"/><path d="M144.2 132.9L150.3 133.1L144.3 132.9L138.2 132.8Z" fill="url(#g868)"/><path d="M156.3 132.9L162.4 132.9L156.4 132.9L150.3 133.1Z" fill="url(#g869)"/><path d="M132.1 132.4L138.2 132.8L132.2 132.4L126.1 132.1Z" fill="url(#g870)"/><path d="M168.4 132.6L174.5 132.4L168.4 132.5L162.4 132.9Z" fill="url(#g871)"/><path d="M180.6 131.9L186.6 131.5L180.5 131.8L174.5 132.4Z" fill="url(#g872)"/><path d="M120.0 131.4L126.1 132.1L120.1 131.5L114.0 130.9Z" fill="url(#g873)"/><path d="M192.7 131.0L198.7 130.5L192.6 130.9L186.6 131.5Z" fill="url(#g874)"/><path d="M107.9 129.8L114.0 130.9L108.0 130.0L101.8 129.1Z" fill="url(#g875)"/><path d="M204.8 129.9L210.8 129.4L204.8 129.8L198.7 130.5Z" fill="url(#g876)"/><path d="M217.0 128.7L223.0 128.2L216.9 128.6L210.8 129.4Z" fill="url(#g877)"/><path d="M95.7 127.8L101.8 129.1L95.8 128.1L89.7 126.9Z" fill="url(#g878)"/><path d="M229.1 127.5L235.1 126.9L229.0 127.4L223.0 128.2Z" fill="url(#g879)"/><path d="M241.3 126.3L247.3 125.6L241.1 126.1L235.1 126.9Z" fill="url(#g880)"/><path d="M83.5 125.3L89.7 126.9L83.6 125.8L77.5 124.4Z" fill="url(#g881)"/><path d="M253.4 125.0L259.4 124.3L253.3 124.7L247.3 125.6Z" fill="url(#g882)"/><path d="M150.3 132.6L156.3 132.9L150.3 133.1L144.2 132.9Z" fill="url(#g883)"/><path d="M138.1 132.3L144.2 132.9L138.2 132.8L132.1 132.4Z" fill="url(#g884)"/><path d="M162.4 132.4L168.4 132.6L162.4 132.9L156.3 132.9Z" fill="url(#g885)"/><path d="M174.5 131.9L180.6 131.9L174.5 132.4L168.4 132.6Z" fill="url(#g886)"/><path d="M126.0 131.5L132.1 132.4L126.1 132.1L120.0 131.4Z" fill="url(#g887)"/><path d="M186.6 131.1L192.7 131.0L186.6 131.5L180.6 131.9Z" fill="url(#g888)"/><path d="M113.9 130.1L120.0 131.4L114.0 130.9L107.9 129.8Z" fill="url(#g889)"/><path d="M198.8 130.1L204.8 129.9L198.7 130.5L192.7 131.0Z" fill="url(#g890)"/><path d="M210.9 129.0L217.0 128.7L210.8 129.4L204.8 129.9Z" fill="url(#g891)"/><path d="M101.7 128.3L107.9 129.8L101.8 129.1L95.7 127.8Z" fill="url(#g892)"/><path d="M223.1 127.9L229.1 127.5L223.0 128.2L217.0 128.7Z" fill="url(#g893)"/><path d="M235.2 126.7L241.3 126.3L235.1 126.9L229.1 127.5Z" fill="url(#g894)"/><path d="M89.5 125.9L95.7 127.8L89.7 126.9L83.5 125.3Z" fill="url(#g895)"/><path d="M247.4 125.5L253.4 125.0L247.3 125.6L241.3 126.3Z" fill="url(#g896)"/><path d="M144.2 131.8L150.3 132.6L144.2 132.9L138.1 132.3Z" fill="url(#g897)"/><path d="M156.3 131.9L162.4 132.4L156.3 132.9L150.3 132.6Z" fill="url(#g898)"/><path d="M168.4 131.5L174.5 131.9L168.4 132.6L162.4 132.4Z" fill="url(#g899)"/><path d="M132.0 131.2L138.1 132.3L132.1 132.4L126.0 131.5Z" fill="url(#g900)"/><path d="M180.6 130.9L186.6 131.1L180.6 131.9L174.5 131.9Z" fill="url(#g901)"/><path d="M119.9 130.1L126.0 131.5L120.0 131.4L113.9 130.1Z" fill="url(#g902)"/><path d="M192.7 130.0L198.8 130.1L192.7 131.0L186.6 131.1Z" fill="url(#g903)"/><path d="M107.7 128.4L113.9 130.1L107.9 129.8L101.7 128.3Z" fill="url(#g904)"/><path d="M204.9 129.0L210.9 129.0L204.8 129.9L198.8 130.1Z" fill="url(#g905)"/><path d="M217.1 127.9L223.1 127.9L217.0 128.7L210.9 129.0Z" fill="url(#g906)"/><path d="M95.5 126.2L101.7 128.3L95.7 127.8L89.5 125.9Z" fill="url(#g907)"/><path d="M229.2 126.8L235.2 126.7L229.1 127.5L223.1 127.9Z" fill="url(#g908)"/><path d="M241.4 125.7L247.4 125.5L241.3 126.3L235.2 126.7Z" fill="url(#g909)"/><path d="M150.2 130.9L156.3 131.9L150.3 132.6L144.2 131.8Z" fill="url(#g910)"/><path d="M162.4 130.8L168.4 131.5L162.4 132.4L156.3 131.9Z" fill="url(#g911)"/><path d="M138.1 130.5L144.2 131.8L138.1 132.3L132.0 131.2Z" fill="url(#g912)"/><path d="M174.5 130.3L180.6 130.9L174.5 131.9L168.4 131.5Z" fill="url(#g913)"/><path d="M125.9 129.6L132.0 131.2L126.0 131.5L119.9 130.1Z" fill="url(#g914)"/><path d="M186.7 129.6L192.7 130.0L186.6 131.1L180.6 130.9Z" fill="url(#g915)"/><path d="M113.7 128.2L119.9 130.1L113.9 130.1L107.7 128.4Z" fill="url(#g916)"/><path d="M198.8 128.7L204.9 129.0L198.8 130.1L192.7 130.0Z" fill="url(#g917)"/><path d="M211.0 127.6L217.1 127.9L210.9 129.0L204.9 129.0Z" fill="url(#g918)"/><path d="M101.5 126.1L107.7 128.4L101.7 128.3L95.5 126.2Z" fill="url(#g919)"/><path d="M223.2 126.6L229.2 126.8L223.1 127.9L217.1 127.9Z" fill="url(#g920)"/><path d="M235.4 125.5L241.4 125.7L235.2 126.7L229.2 126.8Z" fill="url(#g921)"/><path d="M156.3 129.7L162.4 130.8L156.3 131.9L150.2 130.9Z" fill="url(#g922)"/><path d="M144.1 129.5L150.2 130.9L144.2 131.8L138.1 130.5Z" fill="url(#g923)"/><path d="M168.4 129.4L174.5 130.3L168.4 131.5L162.4 130.8Z" fill="url(#g924)"/><path d="M131.9 128.8L138.1 130.5L132.0 131.2L125.9 129.6Z" fill="url(#g925)"/><path d="M180.6 128.8L186.7 129.6L180.6 130.9L174.5 130.3Z" fill="url(#g926)"/><path d="M119.8 127.6L125.9 129.6L119.9 130.1L113.7 128.2Z" fill="url(#g927)"/><path d="M192.8 128.0L198.8 128.7L192.7 130.0L186.7 129.6Z" fill="url(#g928)"/><path d="M205.0 127.0L211.0 127.6L204.9 129.0L198.8 128.7Z" fill="url(#g929)"/><path d="M107.5 125.7L113.7 128.2L107.7 128.4L101.5 126.1Z" fill="url(#g930)"/><path d="M217.2 126.0L223.2 126.6L217.1 127.9L211.0 127.6Z" fill="url(#g931)"/><path d="M229.4 125.0L235.4 125.5L229.2 126.8L223.2 126.6Z" fill="url(#g932)"/><path d="M150.2 128.1L156.3 129.7L150.2 130.9L144.1 129.5Z" fill="url(#g933)"/><path d="M162.4 128.1L168.4 129.4L162.4 130.8L156.3 129.7Z" fill="url(#g934)"/><path d="M138.0 127.6L144.1 129.5L138.1 130.5L131.9 128.8Z" fill="url(#g935)"/><path d="M174.5 127.7L180.6 128.8L174.5 130.3L168.4 129.4Z" fill="url(#g936)"/><path d="M125.8 126.6L131.9 128.8L125.9 129.6L119.8 127.6Z" fill="url(#g937)"/><path d="M186.7 127.0L192.8 128.0L186.7 129.6L180.6 128.8Z" fill="url(#g938)"/><path d="M198.9 126.1L205.0 127.0L198.8 128.7L192.8 128.0Z" fill="url(#g939)"/><path d="M113.6 125.0L119.8 127.6L113.7 128.2L107.5 125.7Z" fill="url(#g940)"/><path d="M211.1 125.2L217.2 126.0L211.0 127.6L205.0 127.0Z" fill="url(#g941)"/><path d="M223.3 124.2L229.4 125.0L223.2 126.6L217.2 126.0Z" fill="url(#g942)"/><path d="M156.2 126.3L162.4 128.1L156.3 129.7L150.2 128.1Z" fill="url(#g943)"/><path d="M144.0 126.1L150.2 128.1L144.1 129.5L138.0 127.6Z" fill="url(#g944)"/><path d="M168.5 126.2L174.5 127.7L168.4 129.4L162.4 128.1Z" fill="url(#g945)"/><path d="M180.7 125.6L186.7 127.0L180.6 128.8L174.5 127.7Z" fill="url(#g946)"/><path d="M131.8 125.3L138.0 127.6L131.9 128.8L125.8 126.6Z" fill="url(#g947)"/><path d="M192.9 124.9L198.9 126.1L192.8 128.0L186.7 127.0Z" fill="url(#g948)"/><path d="M119.6 123.9L125.8 126.6L119.8 127.6L113.6 125.0Z" fill="url(#g949)"/><path d="M205.1 124.0L211.1 125.2L205.0 127.0L198.9 126.1Z" fill="url(#g950)"/><path d="M217.3 123.1L223.3 124.2L217.2 126.0L211.1 125.2Z" fill="url(#g951)"/><path d="M150.1 124.2L156.2 126.3L150.2 128.1L144.0 126.1Z" fill="url(#g952)"/><path d="M162.3 124.2L168.5 126.2L162.4 128.1L156.2 126.3Z" fill="url(#g953)"/><path d="M174.6 123.9L180.7 125.6L174.5 127.7L168.5 126.2Z" fill="url(#g954)"/><path d="M137.9 123.6L144.0 126.1L138.0 127.6L131.8 125.3Z" fill="url(#g955)"/><path d="M186.8 123.3L192.9 124.9L186.7 127.0L180.7 125.6Z" fill="url(#g956)"/><path d="M125.7 122.4L131.8 125.3L125.8 126.6L119.6 123.9Z" fill="url(#g957)"/><path d="M199.0 122.5L205.1 124.0L198.9 126.1L192.9 124.9Z" fill="url(#g958)"/><path d="M211.3 121.6L217.3 123.1L211.1 125.2L205.1 124.0Z" fill="url(#g959)"/><path d="M156.2 121.9L162.3 124.2L156.2 126.3L150.1 124.2Z" fill="url(#g960)"/><path d="M168.4 121.8L174.6 123.9L168.5 126.2L162.3 124.2Z" fill="url(#g961)"/><path d="M144.0 121.5L150.1 124.2L144.0 126.1L137.9 123.6Z" fill="url(#g962)"/><path d="M180.7 121.3L186.8 123.3L180.7 125.6L174.6 123.9Z" fill="url(#g963)"/><path d="M131.7 120.6L137.9 123.6L131.8 125.3L125.7 122.4Z" fill="url(#g964)"/><path d="M192.9 120.6L199.0 122.5L192.9 124.9L186.8 123.3Z" fill="url(#g965)"/><path d="M205.2 119.9L211.3 121.6L205.1 124.0L199.0 122.5Z" fill="url(#g966)"/><path d="M162.3 119.2L168.4 121.8L162.3 124.2L156.2 121.9Z" fill="url(#g967)"/><path d="M150.1 119.1L156.2 121.9L150.1 124.2L144.0 121.5Z" fill="url(#g968)"/><path d="M174.6 119.0L180.7 121.3L174.6 123.9L168.4 121.8Z" fill="url(#g969)"/><path d="M137.8 118.4L144.0 121.5L137.9 123.6L131.7 120.6Z" fill="url(#g970)"/><path d="M186.9 118.4L192.9 120.6L186.8 123.3L180.7 121.3Z" fill="url(#g971)"/><path d="M199.1 117.7L205.2 119.9L199.0 122.5L192.9 120.6Z" fill="url(#g972)"/><path d="M156.2 116.3L162.3 119.2L156.2 121.9L150.1 119.1Z" fill="url(#g973)"/><path d="M168.5 116.2L174.6 119.0L168.4 121.8L162.3 119.2Z" fill="url(#g974)"/><path d="M143.9 115.8L150.1 119.1L144.0 121.5L137.8 118.4Z" fill="url(#g975)"/><path d="M180.7 115.8L186.9 118.4L180.7 121.3L174.6 119.0Z" fill="url(#g976)"/><path d="M193.0 115.2L199.1 117.7L192.9 120.6L186.9 118.4Z" fill="url(#g977)"/><path d="M162.3 113.1L168.5 116.2L162.3 119.2L156.2 116.3Z" fill="url(#g978)"/><path d="M150.0 112.9L156.2 116.3L150.1 119.1L143.9 115.8Z" fill="url(#g979)"/><path d="M174.6 112.9L180.7 115.8L174.6 119.0L168.5 116.2Z" fill="url(#g980)"/><path d="M186.9 112.4L193.0 115.2L186.9 118.4L180.7 115.8Z" fill="url(#g981)"/><path d="M156.1 109.5L162.3 113.1L156.2 116.3L150.0 112.9Z" fill="url(#g982)"/><path d="M168.4 109.5L174.6 112.9L168.5 116.2L162.3 113.1Z" fill="url(#g983)"/><path d="M180.8 109.2L186.9 112.4L180.7 115.8L174.6 112.9Z" fill="url(#g984)"/><path d="M162.3 105.8L168.4 109.5L162.3 113.1L156.1 109.5Z" fill="url(#g985)"/><path d="M174.6 105.6L180.8 109.2L174.6 112.9L168.4 109.5Z" fill="url(#g986)"/><path d="M168.4 101.7L174.6 105.6L168.4 109.5L162.3 105.8Z" fill="url(#g987)"/></g>
<path d="M47.3 113.3L47.3 116" stroke="#222" stroke-width="0.7"/><path d="M288.2 118.8L288.2 116.8" stroke="#222" stroke-width="0.7"/><path d="M168 139.8L168 132.8" stroke="#222" stroke-width="0.7"/><circle cx="47.3" cy="113.3" r="2.4" fill="#b00000" stroke="#600" stroke-width="0.4"/><circle cx="288.2" cy="118.8" r="2.2" fill="#f7c8c8" stroke="#c08080" stroke-width="0.5"/><circle cx="168" cy="132.8" r="2.2" fill="#f7c8c8" stroke="#c08080" stroke-width="0.5"/><circle cx="168" cy="139.8" r="2.2" fill="#f7c8c8" stroke="#c08080" stroke-width="0.5"/>
<g font-family="Liberation Sans, sans-serif" font-size="8.1" fill="#222" stroke="#222" stroke-width="0.2"><text x="44.56" y="142.3" text-anchor="end">0.5</text><text x="43.35" y="119" text-anchor="end">1</text><text x="42.14" y="95.7" text-anchor="end">1.5</text><text x="40.92" y="72.4" text-anchor="end">2</text><text x="39.71" y="49.1" text-anchor="end">2.5</text><text x="38.5" y="25.8" text-anchor="end">3</text><text x="173.05" y="243.3">110</text><text x="202.5" y="229.89">120</text><text x="231.95" y="216.48">130</text><text x="261.4" y="203.06">140</text><text x="290.85" y="189.65">150</text><text x="164.75" y="243.3" text-anchor="end">25</text><text x="141.19" y="232.57" text-anchor="end">27</text><text x="117.63" y="221.84" text-anchor="end">29</text><text x="94.07" y="211.11" text-anchor="end">31</text><text x="70.51" y="200.38" text-anchor="end">33</text><text x="46.95" y="189.65" text-anchor="end">35</text><text x="272.7" y="230.7" text-anchor="middle" font-size="8.8" textLength="66.9" lengthAdjust="spacingAndGlyphs">A: bent corner (°)</text><text x="64.4" y="230.7" text-anchor="middle" font-size="8.8" textLength="90.2" lengthAdjust="spacingAndGlyphs">C: razor-sharp angle (°)</text><text transform="translate(7.7 106.8) rotate(-90)" text-anchor="middle" font-size="8.6" textLength="72.4" lengthAdjust="spacingAndGlyphs">Breakage rate% (%)</text></g>
</g>
<text x="153.55" y="563.5" text-anchor="middle" font-family="Liberation Serif, serif" font-size="22" fill="#000" stroke="#000" stroke-width="0.15">(c)</text>
<g transform="matrix(0.9626 0 0 1 379.500 286.6)">
<path d="M50.65 180.85L42.7 28M78.68 135.12L74.14 21.3M108.6 125.75L105.57 14.6M138.53 116.37L137.01 7.9M168.45 140L168.45 1.2M286.25 180.85L294.2 28M264.2 137L269.05 22.64M240.26 129.5L243.9 17.28M216.33 122L218.75 11.92M192.39 114.49L193.6 6.56M48.76 144.5L168.45 106.99L288.14 144.5M47.55 121.2L168.45 85.83L289.35 121.2M46.34 97.9L168.45 64.68L290.56 97.9M45.12 74.6L168.45 43.52L291.78 74.6M43.91 51.3L168.45 22.36L292.99 51.3M42.7 28L168.45 1.2L294.2 28" fill="none" stroke="#707070" stroke-width="0.9"/>
<path d="M168.45 234.5L286.25 180.85L168.45 140L50.65 180.85Z" fill="#666666" stroke="#222" stroke-width="0.8"/>
<path d="M255.8 194.7L253.8 194.8L251.9 194.9L249.9 194.9L247.9 195.0L245.9 195.1L243.9 195.1L242.0 195.2L240.0 195.2L238.0 195.3L236.0 195.3L234.0 195.4L232.0 195.4L230.0 195.5L228.0 195.5L226.0 195.5L224.0 195.6L221.9 195.6L219.9 195.6L217.9 195.7L215.9 195.7L213.9 195.7L211.9 195.7L209.9 195.7L207.8 195.8L205.8 195.8L203.8 195.8L201.9 195.8L200.0 195.8L198.1 195.8L196.2 195.8L194.3 195.8L192.4 195.8L190.5 195.8L188.6 195.7L186.7 195.7L184.8 195.7L183.0 195.7L181.1 195.7L179.2 195.7L177.3 195.6L175.2 195.6L173.2 195.6L171.1 195.5L169.1 195.5L167.0 195.5L164.9 195.4L162.9 195.4L160.8 195.3L158.7 195.3L156.7 195.2L154.8 195.2L152.9 195.1L151.1 195.1L149.2 195.0L147.4 194.9L145.5 194.9L143.6 194.8L141.8 194.7L139.9 194.7L138.0 194.6L135.9 194.5L133.8 194.4L131.7 194.3L129.6 194.3L127.5 194.2L125.4 194.1L123.3 194.0L121.5 193.9L119.6 193.8L117.8 193.7L116.0 193.6L114.1 193.5L112.3 193.4L110.5 193.3L108.5 193.2L106.4 193.1L104.3 192.9L102.1 192.8L100.0 192.7L97.9 192.5L95.9 192.4L94.0 192.3L92.2 192.1L90.4 192.0L88.6 191.9L86.8 191.8L85.0 191.6L82.9 191.5L80.8 191.3L78.6 191.2L76.5 191.0L74.3 190.8L72.3 190.7L72.2 190.6M124.4 155.3L126.3 155.3L128.2 155.4L130.2 155.4L132.2 155.5L134.2 155.5L136.2 155.6L138.2 155.6L140.3 155.7L142.3 155.7L144.3 155.8L146.3 155.8L148.4 155.9L150.4 155.9L152.4 156.0L154.5 156.0L156.5 156.0L158.5 156.1L160.6 156.1L162.5 156.1L164.4 156.2L166.3 156.2L168.2 156.2L170.1 156.3L171.9 156.3L173.8 156.3L175.7 156.3L177.6 156.4L179.5 156.4L181.3 156.4L183.2 156.4L185.2 156.4L187.3 156.5L189.3 156.5L191.4 156.5L193.5 156.5L195.5 156.5L197.6 156.5L199.7 156.6L201.8 156.6L203.7 156.6L205.6 156.6L207.5 156.6L209.3 156.6L211.2 156.6L213.0 156.6L214.9 156.6L216.4 156.6" stroke="#0aefc5" stroke-width="1.35" fill="none" stroke-linejoin="round"/>
<path d="M229.2 206.8L227.3 206.9L225.4 206.9L223.4 206.9L221.4 206.9L219.3 207.0L217.3 207.0L215.3 207.0L213.3 207.0L211.2 207.0L209.2 207.0L207.2 207.1L205.1 207.1L203.1 207.1L201.1 207.1L199.0 207.1L197.0 207.1L195.0 207.0L193.1 207.0L191.2 207.0L189.3 207.0L187.4 207.0L185.5 207.0L183.6 207.0L181.8 206.9L179.9 206.9L178.0 206.9L176.1 206.9L174.2 206.8L172.3 206.8L170.4 206.8L168.3 206.7L166.2 206.7L164.2 206.6L162.1 206.6L160.1 206.5L158.0 206.5L155.9 206.4L153.9 206.4L151.8 206.3L149.9 206.3L148.0 206.2L146.1 206.2L144.3 206.1L142.4 206.0L140.5 206.0L138.7 205.9L136.8 205.8L134.9 205.8L133.1 205.7L131.1 205.6L129.0 205.5L126.9 205.4L124.8 205.3L122.7 205.2L120.6 205.1L118.5 205.0L116.5 204.9L114.5 204.8L112.7 204.7L110.8 204.6L109.0 204.5L107.1 204.4L105.3 204.3L103.5 204.2L101.8 204.1M150.5 146.2L152.4 146.3L154.3 146.3L156.2 146.3L158.0 146.4L159.9 146.4L161.8 146.5L163.7 146.5L165.6 146.5L167.5 146.5L169.5 146.6L171.6 146.6L173.6 146.6L175.7 146.7L177.7 146.7L179.8 146.7L181.8 146.7L183.9 146.7L186.0 146.8L188.0 146.8" stroke="#0aef41" stroke-width="1.35" fill="none" stroke-linejoin="round"/>
<path d="M210.1 215.5L208.2 215.5L206.3 215.5L204.4 215.5L202.5 215.5L200.7 215.5L198.8 215.5L196.9 215.5L194.9 215.5L192.9 215.5L190.8 215.5L188.8 215.5L186.7 215.5L184.7 215.4L182.6 215.4L180.6 215.4L178.5 215.4L176.5 215.3L174.4 215.3L172.4 215.3L170.5 215.2L168.6 215.2L166.7 215.1L164.9 215.1L163.0 215.1L161.1 215.0L159.2 215.0L157.4 214.9L155.5 214.9L153.6 214.8L151.7 214.8L149.7 214.7L147.7 214.7L145.6 214.6L143.5 214.5L141.4 214.4L139.4 214.4L137.3 214.3L135.2 214.2L133.2 214.1L131.2 214.1L129.3 214.0L127.5 213.9L125.6 213.8L123.8 213.7L122.8 213.7" stroke="#56ef0a" stroke-width="1.35" fill="none" stroke-linejoin="round"/>
<path d="M194.5 222.7L192.6 222.6L190.7 222.6L188.8 222.6L186.9 222.6L185.0 222.6L183.1 222.6L181.2 222.5L179.1 222.5L177.1 222.5L175.0 222.4L173.0 222.4L170.9 222.4L168.8 222.3L166.8 222.3L164.7 222.2L162.7 222.2L160.6 222.1L158.7 222.1L156.8 222.1L155.0 222.0L153.1 222.0L151.2 221.9L149.3 221.8L147.5 221.8L145.6 221.7L143.7 221.7L141.9 221.6L140.0 221.5" stroke="#d9ef0a" stroke-width="1.35" fill="none" stroke-linejoin="round"/>
<path d="M180.8 228.9L178.9 228.8L177.1 228.8L175.2 228.8L173.3 228.7L171.4 228.7L169.3 228.7L167.3 228.6L165.2 228.6L163.1 228.5L161.1 228.5L159.0 228.4L157.0 228.4L154.9 228.3" stroke="#ef810a" stroke-width="1.35" fill="none" stroke-linejoin="round"/>
<g fill="#111"><circle cx="48.76" cy="144.5" r="1.1"/><circle cx="47.55" cy="121.2" r="1.1"/><circle cx="46.34" cy="97.9" r="1.1"/><circle cx="45.12" cy="74.6" r="1.1"/><circle cx="43.91" cy="51.3" r="1.1"/><circle cx="42.7" cy="28" r="1.1"/><circle cx="168.45" cy="234.5" r="1.1"/><circle cx="197.9" cy="221.09" r="1.1"/><circle cx="227.35" cy="207.68" r="1.1"/><circle cx="256.8" cy="194.26" r="1.1"/><circle cx="286.25" cy="180.85" r="1.1"/><circle cx="168.45" cy="234.5" r="1.1"/><circle cx="144.89" cy="223.77" r="1.1"/><circle cx="121.33" cy="213.04" r="1.1"/><circle cx="97.77" cy="202.31" r="1.1"/><circle cx="74.21" cy="191.58" r="1.1"/><circle cx="50.65" cy="180.85" r="1.1"/></g>
<defs><linearGradient id="g988" href="#U" x1="168.4" y1="65.1" x2="168.3" y2="53.0"><stop stop-color="#18ff00"/><stop offset="1" stop-color="#8aff00"/></linearGradient><linearGradient id="g989" href="#U" x1="174.6" y1="70.9" x2="174.5" y2="59.3"><stop stop-color="#00ff1e"/><stop offset="0.28" stop-color="#00ff00"/><stop offset="1" stop-color="#4dff00"/></linearGradient><linearGradient id="g990" href="#U" x1="162.3" y1="70.7" x2="162.2" y2="59.0"><stop stop-color="#00ff1b"/><stop offset="0.25" stop-color="#00ff00"/><stop offset="1" stop-color="#51ff00"/></linearGradient><linearGradient id="g991" href="#U" x1="180.6" y1="76.5" x2="180.6" y2="65.3"><stop stop-color="#00ff4f"/><stop offset="0.79" stop-color="#00ff00"/><stop offset="1" stop-color="#15ff00"/></linearGradient><linearGradient id="g992" href="#U" x1="168.4" y1="76.4" x2="168.4" y2="65.1"><stop stop-color="#00ff4d"/><stop offset="0.77" stop-color="#00ff00"/><stop offset="1" stop-color="#17ff00"/></linearGradient><linearGradient id="g993" href="#U" x1="156.3" y1="76.0" x2="156.1" y2="64.7"><stop stop-color="#00ff49"/><stop offset="0.72" stop-color="#00ff00"/><stop offset="1" stop-color="#1cff00"/></linearGradient><linearGradient id="g994" href="#U" x1="186.7" y1="81.7" x2="186.6" y2="71.0"><stop stop-color="#00ff7c"/><stop offset="1" stop-color="#00ff1f"/></linearGradient><linearGradient id="g995" href="#U" x1="174.5" y1="81.7" x2="174.5" y2="70.9"><stop stop-color="#00ff7b"/><stop offset="1" stop-color="#00ff1e"/></linearGradient><linearGradient id="g996" href="#U" x1="162.4" y1="81.5" x2="162.3" y2="70.7"><stop stop-color="#00ff79"/><stop offset="1" stop-color="#00ff1b"/></linearGradient><linearGradient id="g997" href="#U" x1="150.2" y1="81.1" x2="150.0" y2="70.2"><stop stop-color="#00ff74"/><stop offset="1" stop-color="#00ff15"/></linearGradient><linearGradient id="g998" href="#U" x1="180.6" y1="86.8" x2="180.5" y2="76.5"><stop stop-color="#00ffa5"/><stop offset="1" stop-color="#00ff4f"/></linearGradient><linearGradient id="g999" href="#U" x1="192.7" y1="86.6" x2="192.7" y2="76.4"><stop stop-color="#00ffa4"/><stop offset="1" stop-color="#00ff4f"/></linearGradient><linearGradient id="g1000" href="#U" x1="168.4" y1="86.7" x2="168.4" y2="76.4"><stop stop-color="#00ffa4"/><stop offset="1" stop-color="#00ff4d"/></linearGradient><linearGradient id="g1001" href="#U" x1="156.3" y1="86.5" x2="156.2" y2="76.0"><stop stop-color="#00ffa1"/><stop offset="1" stop-color="#00ff49"/></linearGradient><linearGradient id="g1002" href="#U" x1="144.2" y1="85.9" x2="144.0" y2="75.4"><stop stop-color="#00ff9b"/><stop offset="1" stop-color="#00ff42"/></linearGradient><linearGradient id="g1003" href="#U" x1="186.6" y1="91.5" x2="186.6" y2="81.7"><stop stop-color="#00ffca"/><stop offset="1" stop-color="#00ff7c"/></linearGradient><linearGradient id="g1004" href="#U" x1="174.5" y1="91.6" x2="174.5" y2="81.7"><stop stop-color="#00ffca"/><stop offset="1" stop-color="#00ff7b"/></linearGradient><linearGradient id="g1005" href="#U" x1="198.8" y1="91.3" x2="198.7" y2="81.6"><stop stop-color="#00ffc9"/><stop offset="1" stop-color="#00ff7b"/></linearGradient><linearGradient id="g1006" href="#U" x1="162.4" y1="91.5" x2="162.3" y2="81.5"><stop stop-color="#00ffc9"/><stop offset="1" stop-color="#00ff79"/></linearGradient><linearGradient id="g1007" href="#U" x1="150.3" y1="91.1" x2="150.1" y2="81.1"><stop stop-color="#00ffc6"/><stop offset="1" stop-color="#00ff74"/></linearGradient><linearGradient id="g1008" href="#U" x1="138.1" y1="90.5" x2="137.9" y2="80.4"><stop stop-color="#00ffbf"/><stop offset="1" stop-color="#00ff6c"/></linearGradient><linearGradient id="g1009" href="#U" x1="180.6" y1="96.1" x2="180.5" y2="86.8"><stop stop-color="#00ffec"/><stop offset="1" stop-color="#00ffa5"/></linearGradient><linearGradient id="g1010" href="#U" x1="168.4" y1="96.1" x2="168.4" y2="86.7"><stop stop-color="#00ffed"/><stop offset="1" stop-color="#00ffa4"/></linearGradient><linearGradient id="g1011" href="#U" x1="192.7" y1="95.9" x2="192.6" y2="86.6"><stop stop-color="#00ffeb"/><stop offset="1" stop-color="#00ffa4"/></linearGradient><linearGradient id="g1012" href="#U" x1="204.8" y1="95.6" x2="204.7" y2="86.5"><stop stop-color="#00ffe9"/><stop offset="1" stop-color="#00ffa4"/></linearGradient><linearGradient id="g1013" href="#U" x1="156.3" y1="96.0" x2="156.2" y2="86.5"><stop stop-color="#00ffeb"/><stop offset="1" stop-color="#00ffa1"/></linearGradient><linearGradient id="g1014" href="#U" x1="144.2" y1="95.5" x2="144.0" y2="85.9"><stop stop-color="#00ffe6"/><stop offset="1" stop-color="#00ff9b"/></linearGradient><linearGradient id="g1015" href="#U" x1="132.1" y1="94.8" x2="131.8" y2="85.1"><stop stop-color="#00ffde"/><stop offset="1" stop-color="#00ff92"/></linearGradient><linearGradient id="g1016" href="#U" x1="174.5" y1="100.5" x2="174.5" y2="91.6"><stop stop-color="#00f3ff"/><stop offset="0.19" stop-color="#00ffff"/><stop offset="1" stop-color="#00ffca"/></linearGradient><linearGradient id="g1017" href="#U" x1="162.4" y1="100.5" x2="162.3" y2="91.5"><stop stop-color="#00f3ff"/><stop offset="0.18" stop-color="#00ffff"/><stop offset="1" stop-color="#00ffc9"/></linearGradient><linearGradient id="g1018" href="#U" x1="186.6" y1="100.3" x2="186.6" y2="91.5"><stop stop-color="#00f4ff"/><stop offset="0.17" stop-color="#00ffff"/><stop offset="1" stop-color="#00ffca"/></linearGradient><linearGradient id="g1019" href="#U" x1="198.7" y1="100.0" x2="198.7" y2="91.3"><stop stop-color="#00f6ff"/><stop offset="0.14" stop-color="#00ffff"/><stop offset="1" stop-color="#00ffc9"/></linearGradient><linearGradient id="g1020" href="#U" x1="150.3" y1="100.2" x2="150.2" y2="91.1"><stop stop-color="#00f5ff"/><stop offset="0.14" stop-color="#00ffff"/><stop offset="1" stop-color="#00ffc6"/></linearGradient><linearGradient id="g1021" href="#U" x1="210.8" y1="99.7" x2="210.7" y2="91.0"><stop stop-color="#00f8ff"/><stop offset="0.11" stop-color="#00ffff"/><stop offset="1" stop-color="#00ffc8"/></linearGradient><linearGradient id="g1022" href="#U" x1="138.2" y1="99.7" x2="138.0" y2="90.5"><stop stop-color="#00fbff"/><stop offset="0.06" stop-color="#00ffff"/><stop offset="1" stop-color="#00ffbf"/></linearGradient><linearGradient id="g1023" href="#U" x1="126.1" y1="98.8" x2="125.8" y2="89.5"><stop stop-color="#00fffa"/><stop offset="1" stop-color="#00ffb4"/></linearGradient><linearGradient id="g1024" href="#U" x1="168.4" y1="104.6" x2="168.4" y2="96.1"><stop stop-color="#00d7ff"/><stop offset="0.68" stop-color="#00ffff"/><stop offset="1" stop-color="#00ffed"/></linearGradient><linearGradient id="g1025" href="#U" x1="180.5" y1="104.4" x2="180.6" y2="96.1"><stop stop-color="#00d9ff"/><stop offset="0.67" stop-color="#00ffff"/><stop offset="1" stop-color="#00ffec"/></linearGradient><linearGradient id="g1026" href="#U" x1="156.4" y1="104.5" x2="156.3" y2="96.0"><stop stop-color="#00d8ff"/><stop offset="0.66" stop-color="#00ffff"/><stop offset="1" stop-color="#00ffeb"/></linearGradient><linearGradient id="g1027" href="#U" x1="192.6" y1="104.2" x2="192.7" y2="95.9"><stop stop-color="#00dbff"/><stop offset="0.64" stop-color="#00ffff"/><stop offset="1" stop-color="#00ffeb"/></linearGradient><linearGradient id="g1028" href="#U" x1="204.7" y1="103.8" x2="204.7" y2="95.6"><stop stop-color="#00deff"/><stop offset="0.61" stop-color="#00ffff"/><stop offset="1" stop-color="#00ffe9"/></linearGradient><linearGradient id="g1029" href="#U" x1="144.3" y1="104.1" x2="144.1" y2="95.5"><stop stop-color="#00dcff"/><stop offset="0.59" stop-color="#00ffff"/><stop offset="1" stop-color="#00ffe6"/></linearGradient><linearGradient id="g1030" href="#U" x1="216.8" y1="103.4" x2="216.7" y2="95.4"><stop stop-color="#00e0ff"/><stop offset="0.57" stop-color="#00ffff"/><stop offset="1" stop-color="#00ffe8"/></linearGradient><linearGradient id="g1031" href="#U" x1="132.2" y1="103.5" x2="131.9" y2="94.8"><stop stop-color="#00e2ff"/><stop offset="0.47" stop-color="#00ffff"/><stop offset="1" stop-color="#00ffde"/></linearGradient><linearGradient id="g1032" href="#U" x1="120.1" y1="102.5" x2="119.7" y2="93.7"><stop stop-color="#00ecff"/><stop offset="0.31" stop-color="#00ffff"/><stop offset="1" stop-color="#00ffd3"/></linearGradient><linearGradient id="g1033" href="#U" x1="162.4" y1="108.4" x2="162.4" y2="100.5"><stop stop-color="#00c0ff"/><stop offset="1" stop-color="#00f3ff"/></linearGradient><linearGradient id="g1034" href="#U" x1="174.5" y1="108.3" x2="174.5" y2="100.5"><stop stop-color="#00c1ff"/><stop offset="1" stop-color="#00f3ff"/></linearGradient><linearGradient id="g1035" href="#U" x1="150.3" y1="108.2" x2="150.2" y2="100.2"><stop stop-color="#00c1ff"/><stop offset="1" stop-color="#00f5ff"/></linearGradient><linearGradient id="g1036" href="#U" x1="186.6" y1="108.1" x2="186.6" y2="100.3"><stop stop-color="#00c3ff"/><stop offset="1" stop-color="#00f4ff"/></linearGradient><linearGradient id="g1037" href="#U" x1="198.7" y1="107.7" x2="198.7" y2="100.0"><stop stop-color="#00c6ff"/><stop offset="1" stop-color="#00f6ff"/></linearGradient><linearGradient id="g1038" href="#U" x1="138.2" y1="107.8" x2="138.0" y2="99.7"><stop stop-color="#00c6ff"/><stop offset="1" stop-color="#00fbff"/></linearGradient><linearGradient id="g1039" href="#U" x1="210.7" y1="107.3" x2="210.7" y2="99.7"><stop stop-color="#00c9ff"/><stop offset="1" stop-color="#00f8ff"/></linearGradient><linearGradient id="g1040" href="#U" x1="222.8" y1="106.9" x2="222.7" y2="99.4"><stop stop-color="#00ccff"/><stop offset="1" stop-color="#00faff"/></linearGradient><linearGradient id="g1041" href="#U" x1="126.2" y1="107.0" x2="125.8" y2="98.8"><stop stop-color="#00cdff"/><stop offset="0.91" stop-color="#00ffff"/><stop offset="1" stop-color="#00fffa"/></linearGradient><linearGradient id="g1042" href="#U" x1="114.1" y1="105.9" x2="113.6" y2="97.6"><stop stop-color="#00d8ff"/><stop offset="0.70" stop-color="#00ffff"/><stop offset="1" stop-color="#00ffee"/></linearGradient><linearGradient id="g1043" href="#U" x1="168.4" y1="111.9" x2="168.5" y2="104.6"><stop stop-color="#00acff"/><stop offset="1" stop-color="#00d7ff"/></linearGradient><linearGradient id="g1044" href="#U" x1="156.4" y1="111.9" x2="156.3" y2="104.5"><stop stop-color="#00acff"/><stop offset="1" stop-color="#00d8ff"/></linearGradient><linearGradient id="g1045" href="#U" x1="180.5" y1="111.7" x2="180.6" y2="104.4"><stop stop-color="#00aeff"/><stop offset="1" stop-color="#00d9ff"/></linearGradient><linearGradient id="g1046" href="#U" x1="144.3" y1="111.6" x2="144.2" y2="104.1"><stop stop-color="#00aeff"/><stop offset="1" stop-color="#00dcff"/></linearGradient><linearGradient id="g1047" href="#U" x1="192.6" y1="111.4" x2="192.7" y2="104.2"><stop stop-color="#00b2ff"/><stop offset="1" stop-color="#00dbff"/></linearGradient><linearGradient id="g1048" href="#U" x1="204.7" y1="110.9" x2="204.8" y2="103.8"><stop stop-color="#00b5ff"/><stop offset="1" stop-color="#00deff"/></linearGradient><linearGradient id="g1049" href="#U" x1="132.2" y1="111.1" x2="132.0" y2="103.5"><stop stop-color="#00b4ff"/><stop offset="1" stop-color="#00e2ff"/></linearGradient><linearGradient id="g1050" href="#U" x1="216.7" y1="110.5" x2="216.8" y2="103.4"><stop stop-color="#00b9ff"/><stop offset="1" stop-color="#00e0ff"/></linearGradient><linearGradient id="g1051" href="#U" x1="228.8" y1="110.0" x2="228.8" y2="103.1"><stop stop-color="#00bbff"/><stop offset="1" stop-color="#00e1ff"/></linearGradient><linearGradient id="g1052" href="#U" x1="120.1" y1="110.2" x2="119.7" y2="102.5"><stop stop-color="#00bcff"/><stop offset="1" stop-color="#00ecff"/></linearGradient><linearGradient id="g1053" href="#U" x1="108.0" y1="109.0" x2="107.5" y2="101.2"><stop stop-color="#00c7ff"/><stop offset="1" stop-color="#00f9ff"/></linearGradient><linearGradient id="g1054" href="#U" x1="162.4" y1="115.2" x2="162.4" y2="108.4"><stop stop-color="#009cff"/><stop offset="1" stop-color="#00c0ff"/></linearGradient><linearGradient id="g1055" href="#U" x1="150.4" y1="115.1" x2="150.3" y2="108.2"><stop stop-color="#009cff"/><stop offset="1" stop-color="#00c1ff"/></linearGradient><linearGradient id="g1056" href="#U" x1="174.5" y1="115.1" x2="174.6" y2="108.3"><stop stop-color="#009dff"/><stop offset="1" stop-color="#00c1ff"/></linearGradient><linearGradient id="g1057" href="#U" x1="186.5" y1="114.8" x2="186.7" y2="108.1"><stop stop-color="#00a0ff"/><stop offset="1" stop-color="#00c3ff"/></linearGradient><linearGradient id="g1058" href="#U" x1="138.3" y1="114.8" x2="138.1" y2="107.8"><stop stop-color="#00a0ff"/><stop offset="1" stop-color="#00c6ff"/></linearGradient><linearGradient id="g1059" href="#U" x1="198.6" y1="114.3" x2="198.8" y2="107.7"><stop stop-color="#00a4ff"/><stop offset="1" stop-color="#00c6ff"/></linearGradient><linearGradient id="g1060" href="#U" x1="210.7" y1="113.8" x2="210.8" y2="107.3"><stop stop-color="#00a9ff"/><stop offset="1" stop-color="#00c9ff"/></linearGradient><linearGradient id="g1061" href="#U" x1="126.2" y1="114.1" x2="125.8" y2="107.0"><stop stop-color="#00a6ff"/><stop offset="1" stop-color="#00cdff"/></linearGradient><linearGradient id="g1062" href="#U" x1="222.8" y1="113.3" x2="222.8" y2="106.9"><stop stop-color="#00acff"/><stop offset="1" stop-color="#00ccff"/></linearGradient><linearGradient id="g1063" href="#U" x1="234.8" y1="112.8" x2="234.8" y2="106.5"><stop stop-color="#00afff"/><stop offset="1" stop-color="#00cdff"/></linearGradient><linearGradient id="g1064" href="#U" x1="114.1" y1="113.1" x2="113.6" y2="106.0"><stop stop-color="#00afff"/><stop offset="1" stop-color="#00d7ff"/></linearGradient><linearGradient id="g1065" href="#U" x1="102.0" y1="111.9" x2="101.4" y2="104.6"><stop stop-color="#00bbff"/><stop offset="1" stop-color="#00e5ff"/></linearGradient><linearGradient id="g1066" href="#U" x1="156.4" y1="118.2" x2="156.4" y2="111.9"><stop stop-color="#008fff"/><stop offset="1" stop-color="#00acff"/></linearGradient><linearGradient id="g1067" href="#U" x1="168.4" y1="118.2" x2="168.6" y2="111.9"><stop stop-color="#0090ff"/><stop offset="1" stop-color="#00acff"/></linearGradient><linearGradient id="g1068" href="#U" x1="144.3" y1="118.0" x2="144.2" y2="111.6"><stop stop-color="#0091ff"/><stop offset="1" stop-color="#00aeff"/></linearGradient><linearGradient id="g1069" href="#U" x1="180.5" y1="117.9" x2="180.7" y2="111.7"><stop stop-color="#0093ff"/><stop offset="1" stop-color="#00aeff"/></linearGradient><linearGradient id="g1070" href="#U" x1="132.3" y1="117.5" x2="131.9" y2="111.1"><stop stop-color="#0095ff"/><stop offset="1" stop-color="#00b4ff"/></linearGradient><linearGradient id="g1071" href="#U" x1="192.6" y1="117.5" x2="192.8" y2="111.4"><stop stop-color="#0097ff"/><stop offset="1" stop-color="#00b1ff"/></linearGradient><linearGradient id="g1072" href="#U" x1="204.6" y1="117.0" x2="204.9" y2="110.9"><stop stop-color="#009bff"/><stop offset="1" stop-color="#00b5ff"/></linearGradient><linearGradient id="g1073" href="#U" x1="120.2" y1="116.8" x2="119.7" y2="110.2"><stop stop-color="#009cff"/><stop offset="1" stop-color="#00bcff"/></linearGradient><linearGradient id="g1074" href="#U" x1="216.7" y1="116.4" x2="216.9" y2="110.5"><stop stop-color="#00a0ff"/><stop offset="1" stop-color="#00b9ff"/></linearGradient><linearGradient id="g1075" href="#U" x1="228.8" y1="115.9" x2="228.9" y2="110.0"><stop stop-color="#00a4ff"/><stop offset="1" stop-color="#00bbff"/></linearGradient><linearGradient id="g1076" href="#U" x1="240.9" y1="115.3" x2="240.8" y2="109.6"><stop stop-color="#00a7ff"/><stop offset="1" stop-color="#00bdff"/></linearGradient><linearGradient id="g1077" href="#U" x1="108.1" y1="115.7" x2="107.5" y2="109.1"><stop stop-color="#00a6ff"/><stop offset="1" stop-color="#00c7ff"/></linearGradient><linearGradient id="g1078" href="#U" x1="96.0" y1="114.3" x2="95.3" y2="107.7"><stop stop-color="#00b3ff"/><stop offset="1" stop-color="#00d5ff"/></linearGradient><linearGradient id="g1079" href="#U" x1="162.4" y1="120.9" x2="162.5" y2="115.2"><stop stop-color="#0087ff"/><stop offset="1" stop-color="#009cff"/></linearGradient><linearGradient id="g1080" href="#U" x1="150.4" y1="120.9" x2="150.3" y2="115.1"><stop stop-color="#0087ff"/><stop offset="1" stop-color="#009cff"/></linearGradient><linearGradient id="g1081" href="#U" x1="174.5" y1="120.7" x2="174.7" y2="115.1"><stop stop-color="#0089ff"/><stop offset="1" stop-color="#009dff"/></linearGradient><linearGradient id="g1082" href="#U" x1="138.3" y1="120.6" x2="138.0" y2="114.8"><stop stop-color="#0089ff"/><stop offset="1" stop-color="#009fff"/></linearGradient><linearGradient id="g1083" href="#U" x1="186.5" y1="120.4" x2="186.9" y2="114.8"><stop stop-color="#008dff"/><stop offset="1" stop-color="#00a0ff"/></linearGradient><linearGradient id="g1084" href="#U" x1="126.3" y1="120.0" x2="125.8" y2="114.1"><stop stop-color="#008eff"/><stop offset="1" stop-color="#00a6ff"/></linearGradient><linearGradient id="g1085" href="#U" x1="198.6" y1="119.9" x2="199.0" y2="114.4"><stop stop-color="#0092ff"/><stop offset="1" stop-color="#00a4ff"/></linearGradient><linearGradient id="g1086" href="#U" x1="210.7" y1="119.3" x2="211.0" y2="113.9"><stop stop-color="#0096ff"/><stop offset="1" stop-color="#00a8ff"/></linearGradient><linearGradient id="g1087" href="#U" x1="114.2" y1="119.1" x2="113.5" y2="113.2"><stop stop-color="#0096ff"/><stop offset="1" stop-color="#00afff"/></linearGradient><linearGradient id="g1088" href="#U" x1="222.7" y1="118.7" x2="223.0" y2="113.3"><stop stop-color="#009bff"/><stop offset="1" stop-color="#00acff"/></linearGradient><linearGradient id="g1089" href="#U" x1="234.8" y1="118.1" x2="235.0" y2="112.8"><stop stop-color="#009fff"/><stop offset="1" stop-color="#00afff"/></linearGradient><linearGradient id="g1090" href="#U" x1="246.9" y1="117.5" x2="246.9" y2="112.4"><stop stop-color="#00a2ff"/><stop offset="1" stop-color="#00b1ff"/></linearGradient><linearGradient id="g1091" href="#U" x1="102.1" y1="117.9" x2="101.3" y2="112.0"><stop stop-color="#00a1ff"/><stop offset="1" stop-color="#00bbff"/></linearGradient><linearGradient id="g1092" href="#U" x1="90.0" y1="116.5" x2="89.1" y2="110.5"><stop stop-color="#00aeff"/><stop offset="1" stop-color="#00c9ff"/></linearGradient><linearGradient id="g1093" href="#U" x1="156.4" y1="123.4" x2="156.4" y2="118.2"><stop stop-color="#0081ff"/><stop offset="1" stop-color="#008fff"/></linearGradient><linearGradient id="g1094" href="#U" x1="144.3" y1="123.2" x2="144.1" y2="118.0"><stop stop-color="#0082ff"/><stop offset="1" stop-color="#0090ff"/></linearGradient><linearGradient id="g1095" href="#U" x1="132.3" y1="122.8" x2="131.8" y2="117.6"><stop stop-color="#0086ff"/><stop offset="1" stop-color="#0095ff"/></linearGradient><linearGradient id="g1096" href="#U" x1="120.2" y1="122.1" x2="119.4" y2="116.9"><stop stop-color="#008cff"/><stop offset="1" stop-color="#009cff"/></linearGradient><linearGradient id="g1097" href="#U" x1="108.2" y1="121.1" x2="107.2" y2="115.9"><stop stop-color="#0095ff"/><stop offset="1" stop-color="#00a6ff"/></linearGradient><linearGradient id="g1098" href="#U" x1="96.1" y1="119.8" x2="95.0" y2="114.6"><stop stop-color="#00a1ff"/><stop offset="1" stop-color="#00b2ff"/></linearGradient><linearGradient id="g1099" href="#U" x1="84.0" y1="118.4" x2="82.9" y2="113.0"><stop stop-color="#00aeff"/><stop offset="1" stop-color="#00c1ff"/></linearGradient><linearGradient id="g1100" href="#U" x1="90.4" y1="122.2" x2="88.1" y2="116.6"><stop stop-color="#00a2ff"/><stop offset="1" stop-color="#00afff"/></linearGradient><linearGradient id="g1101" href="#U" x1="78.2" y1="120.5" x2="76.2" y2="115.2"><stop stop-color="#00afff"/><stop offset="1" stop-color="#00bdff"/></linearGradient><linearGradient id="g1102" href="#U" x1="258.7" y1="121.0" x2="259.0" y2="123.8"><stop stop-color="#00a4ff"/><stop offset="1" stop-color="#00b2ff"/></linearGradient><linearGradient id="g1103" href="#U" x1="270.8" y1="120.3" x2="271.1" y2="123.1"><stop stop-color="#00a7ff"/><stop offset="1" stop-color="#00b6ff"/></linearGradient><linearGradient id="g1104" href="#U" x1="156.4" y1="127.3" x2="156.4" y2="130.0"><stop stop-color="#0083ff"/><stop offset="1" stop-color="#0093ff"/></linearGradient><linearGradient id="g1105" href="#U" x1="144.5" y1="127.2" x2="144.3" y2="129.9"><stop stop-color="#0083ff"/><stop offset="1" stop-color="#0093ff"/></linearGradient><linearGradient id="g1106" href="#U" x1="168.3" y1="127.2" x2="168.4" y2="129.9"><stop stop-color="#0085ff"/><stop offset="1" stop-color="#0095ff"/></linearGradient><linearGradient id="g1107" href="#U" x1="132.6" y1="126.8" x2="132.3" y2="129.5"><stop stop-color="#0086ff"/><stop offset="1" stop-color="#0097ff"/></linearGradient><linearGradient id="g1108" href="#U" x1="180.2" y1="126.8" x2="180.5" y2="129.5"><stop stop-color="#0088ff"/><stop offset="1" stop-color="#0099ff"/></linearGradient><linearGradient id="g1109" href="#U" x1="120.6" y1="126.2" x2="120.2" y2="128.8"><stop stop-color="#008cff"/><stop offset="1" stop-color="#009dff"/></linearGradient><linearGradient id="g1110" href="#U" x1="192.3" y1="126.3" x2="192.6" y2="128.9"><stop stop-color="#008dff"/><stop offset="1" stop-color="#009fff"/></linearGradient><linearGradient id="g1111" href="#U" x1="204.3" y1="125.7" x2="204.6" y2="128.3"><stop stop-color="#0093ff"/><stop offset="1" stop-color="#00a5ff"/></linearGradient><linearGradient id="g1112" href="#U" x1="108.7" y1="125.2" x2="108.1" y2="127.8"><stop stop-color="#0095ff"/><stop offset="1" stop-color="#00a5ff"/></linearGradient><linearGradient id="g1113" href="#U" x1="216.4" y1="125.0" x2="216.7" y2="127.5"><stop stop-color="#0099ff"/><stop offset="1" stop-color="#00abff"/></linearGradient><linearGradient id="g1114" href="#U" x1="96.7" y1="124.0" x2="96.0" y2="126.5"><stop stop-color="#00a0ff"/><stop offset="1" stop-color="#00b0ff"/></linearGradient><linearGradient id="g1115" href="#U" x1="228.5" y1="124.3" x2="228.8" y2="126.8"><stop stop-color="#009fff"/><stop offset="1" stop-color="#00b1ff"/></linearGradient><linearGradient id="g1116" href="#U" x1="240.6" y1="123.6" x2="240.9" y2="126.0"><stop stop-color="#00a4ff"/><stop offset="1" stop-color="#00b7ff"/></linearGradient><linearGradient id="g1117" href="#U" x1="252.7" y1="122.9" x2="253.0" y2="125.2"><stop stop-color="#00a8ff"/><stop offset="1" stop-color="#00bbff"/></linearGradient><linearGradient id="g1118" href="#U" x1="84.6" y1="122.7" x2="83.9" y2="125.1"><stop stop-color="#00acff"/><stop offset="1" stop-color="#00bdff"/></linearGradient><linearGradient id="g1119" href="#U" x1="264.9" y1="122.2" x2="265.1" y2="124.5"><stop stop-color="#00abff"/><stop offset="1" stop-color="#00c0ff"/></linearGradient><linearGradient id="g1120" href="#U" x1="276.9" y1="121.4" x2="277.2" y2="123.7"><stop stop-color="#00aeff"/><stop offset="1" stop-color="#00c4ff"/></linearGradient><linearGradient id="g1121" href="#U" x1="72.5" y1="121.2" x2="71.8" y2="123.7"><stop stop-color="#00b8ff"/><stop offset="1" stop-color="#00c9ff"/></linearGradient><linearGradient id="g1122" href="#U" x1="60.2" y1="119.8" x2="59.7" y2="122.3"><stop stop-color="#00c3ff"/><stop offset="1" stop-color="#00d3ff"/></linearGradient><linearGradient id="g1123" href="#U" x1="150.4" y1="128.8" x2="150.4" y2="130.9"><stop stop-color="#0089ff"/><stop offset="1" stop-color="#00a1ff"/></linearGradient><linearGradient id="g1124" href="#U" x1="162.4" y1="128.8" x2="162.4" y2="130.8"><stop stop-color="#008aff"/><stop offset="1" stop-color="#00a1ff"/></linearGradient><linearGradient id="g1125" href="#U" x1="138.4" y1="128.5" x2="138.3" y2="130.6"><stop stop-color="#008aff"/><stop offset="1" stop-color="#00a2ff"/></linearGradient><linearGradient id="g1126" href="#U" x1="174.4" y1="128.5" x2="174.5" y2="130.6"><stop stop-color="#008dff"/><stop offset="1" stop-color="#00a5ff"/></linearGradient><linearGradient id="g1127" href="#U" x1="126.4" y1="128.0" x2="126.2" y2="130.0"><stop stop-color="#008fff"/><stop offset="1" stop-color="#00a7ff"/></linearGradient><linearGradient id="g1128" href="#U" x1="186.4" y1="128.1" x2="186.6" y2="130.1"><stop stop-color="#0091ff"/><stop offset="1" stop-color="#00a9ff"/></linearGradient><linearGradient id="g1129" href="#U" x1="114.4" y1="127.2" x2="114.1" y2="129.2"><stop stop-color="#0096ff"/><stop offset="1" stop-color="#00aeff"/></linearGradient><linearGradient id="g1130" href="#U" x1="198.4" y1="127.5" x2="198.6" y2="129.5"><stop stop-color="#0097ff"/><stop offset="1" stop-color="#00afff"/></linearGradient><linearGradient id="g1131" href="#U" x1="210.5" y1="126.8" x2="210.7" y2="128.8"><stop stop-color="#009dff"/><stop offset="1" stop-color="#00b6ff"/></linearGradient><linearGradient id="g1132" href="#U" x1="102.4" y1="126.1" x2="102.0" y2="128.0"><stop stop-color="#00a0ff"/><stop offset="1" stop-color="#00b9ff"/></linearGradient><linearGradient id="g1133" href="#U" x1="222.6" y1="126.0" x2="222.8" y2="128.0"><stop stop-color="#00a3ff"/><stop offset="1" stop-color="#00bcff"/></linearGradient><linearGradient id="g1134" href="#U" x1="234.7" y1="125.3" x2="234.9" y2="127.2"><stop stop-color="#00a9ff"/><stop offset="1" stop-color="#00c2ff"/></linearGradient><linearGradient id="g1135" href="#U" x1="90.3" y1="124.8" x2="89.9" y2="126.6"><stop stop-color="#00acff"/><stop offset="1" stop-color="#00c4ff"/></linearGradient><linearGradient id="g1136" href="#U" x1="246.8" y1="124.6" x2="247.0" y2="126.4"><stop stop-color="#00aeff"/><stop offset="1" stop-color="#00c7ff"/></linearGradient><linearGradient id="g1137" href="#U" x1="258.9" y1="123.8" x2="259.1" y2="125.6"><stop stop-color="#00b2ff"/><stop offset="1" stop-color="#00ccff"/></linearGradient><linearGradient id="g1138" href="#U" x1="271.0" y1="123.1" x2="271.2" y2="124.8"><stop stop-color="#00b6ff"/><stop offset="1" stop-color="#00d1ff"/></linearGradient><linearGradient id="g1139" href="#U" x1="78.2" y1="123.3" x2="77.8" y2="125.1"><stop stop-color="#00b8ff"/><stop offset="1" stop-color="#00d1ff"/></linearGradient><linearGradient id="g1140" href="#U" x1="283.1" y1="122.2" x2="283.3" y2="123.9"><stop stop-color="#00baff"/><stop offset="1" stop-color="#00d6ff"/></linearGradient><linearGradient id="g1141" href="#U" x1="66.0" y1="121.9" x2="65.7" y2="123.6"><stop stop-color="#00c4ff"/><stop offset="1" stop-color="#00ddff"/></linearGradient><linearGradient id="g1142" href="#U" x1="53.8" y1="120.6" x2="53.5" y2="122.4"><stop stop-color="#00ccff"/><stop offset="1" stop-color="#00e6ff"/></linearGradient><linearGradient id="g1143" href="#U" x1="156.4" y1="130.0" x2="156.4" y2="131.4"><stop stop-color="#0093ff"/><stop offset="1" stop-color="#00b2ff"/></linearGradient><linearGradient id="g1144" href="#U" x1="144.3" y1="129.9" x2="144.3" y2="131.3"><stop stop-color="#0093ff"/><stop offset="1" stop-color="#00b2ff"/></linearGradient><linearGradient id="g1145" href="#U" x1="168.4" y1="129.9" x2="168.5" y2="131.3"><stop stop-color="#0095ff"/><stop offset="1" stop-color="#00b4ff"/></linearGradient><linearGradient id="g1146" href="#U" x1="132.3" y1="129.5" x2="132.2" y2="130.9"><stop stop-color="#0096ff"/><stop offset="1" stop-color="#00b5ff"/></linearGradient><linearGradient id="g1147" href="#U" x1="180.4" y1="129.5" x2="180.5" y2="130.9"><stop stop-color="#0099ff"/><stop offset="1" stop-color="#00b8ff"/></linearGradient><linearGradient id="g1148" href="#U" x1="120.3" y1="128.8" x2="120.1" y2="130.1"><stop stop-color="#009cff"/><stop offset="1" stop-color="#00bcff"/></linearGradient><linearGradient id="g1149" href="#U" x1="192.5" y1="128.9" x2="192.6" y2="130.4"><stop stop-color="#009eff"/><stop offset="1" stop-color="#00bdff"/></linearGradient><linearGradient id="g1150" href="#U" x1="204.6" y1="128.3" x2="204.7" y2="129.7"><stop stop-color="#00a4ff"/><stop offset="1" stop-color="#00c3ff"/></linearGradient><linearGradient id="g1151" href="#U" x1="108.2" y1="127.8" x2="108.0" y2="129.1"><stop stop-color="#00a5ff"/><stop offset="1" stop-color="#00c5ff"/></linearGradient><linearGradient id="g1152" href="#U" x1="216.7" y1="127.5" x2="216.8" y2="128.9"><stop stop-color="#00abff"/><stop offset="1" stop-color="#00caff"/></linearGradient><linearGradient id="g1153" href="#U" x1="96.1" y1="126.6" x2="95.9" y2="127.8"><stop stop-color="#00b0ff"/><stop offset="1" stop-color="#00d0ff"/></linearGradient><linearGradient id="g1154" href="#U" x1="228.8" y1="126.8" x2="228.9" y2="128.1"><stop stop-color="#00b1ff"/><stop offset="1" stop-color="#00d0ff"/></linearGradient><linearGradient id="g1155" href="#U" x1="240.9" y1="126.0" x2="241.0" y2="127.3"><stop stop-color="#00b6ff"/><stop offset="1" stop-color="#00d6ff"/></linearGradient><linearGradient id="g1156" href="#U" x1="253.0" y1="125.2" x2="253.1" y2="126.5"><stop stop-color="#00bbff"/><stop offset="1" stop-color="#00dbff"/></linearGradient><linearGradient id="g1157" href="#U" x1="84.0" y1="125.1" x2="83.8" y2="126.3"><stop stop-color="#00bcff"/><stop offset="1" stop-color="#00dcff"/></linearGradient><linearGradient id="g1158" href="#U" x1="265.1" y1="124.5" x2="265.2" y2="125.7"><stop stop-color="#00bfff"/><stop offset="1" stop-color="#00e0ff"/></linearGradient><linearGradient id="g1159" href="#U" x1="277.2" y1="123.6" x2="277.3" y2="124.8"><stop stop-color="#00c4ff"/><stop offset="1" stop-color="#00e5ff"/></linearGradient><linearGradient id="g1160" href="#U" x1="71.8" y1="123.7" x2="71.7" y2="124.7"><stop stop-color="#00c8ff"/><stop offset="1" stop-color="#00e9ff"/></linearGradient><linearGradient id="g1161" href="#U" x1="59.6" y1="122.3" x2="59.5" y2="123.2"><stop stop-color="#00d3ff"/><stop offset="1" stop-color="#00f3ff"/></linearGradient><linearGradient id="g1162" href="#U" x1="150.3" y1="130.9" x2="150.3" y2="131.6"><stop stop-color="#00a0ff"/><stop offset="1" stop-color="#00c5ff"/></linearGradient><linearGradient id="g1163" href="#U" x1="162.4" y1="130.8" x2="162.4" y2="131.6"><stop stop-color="#00a1ff"/><stop offset="1" stop-color="#00c5ff"/></linearGradient><linearGradient id="g1164" href="#U" x1="138.3" y1="130.6" x2="138.2" y2="131.3"><stop stop-color="#00a1ff"/><stop offset="1" stop-color="#00c6ff"/></linearGradient><linearGradient id="g1165" href="#U" x1="174.5" y1="130.6" x2="174.5" y2="131.4"><stop stop-color="#00a4ff"/><stop offset="1" stop-color="#00c8ff"/></linearGradient><linearGradient id="g1166" href="#U" x1="126.2" y1="130.0" x2="126.2" y2="130.7"><stop stop-color="#00a6ff"/><stop offset="1" stop-color="#00cbff"/></linearGradient><linearGradient id="g1167" href="#U" x1="186.5" y1="130.1" x2="186.6" y2="130.9"><stop stop-color="#00a9ff"/><stop offset="1" stop-color="#00cdff"/></linearGradient><linearGradient id="g1168" href="#U" x1="198.6" y1="129.5" x2="198.7" y2="130.3"><stop stop-color="#00afff"/><stop offset="1" stop-color="#00d3ff"/></linearGradient><linearGradient id="g1169" href="#U" x1="114.1" y1="129.2" x2="114.1" y2="129.8"><stop stop-color="#00aeff"/><stop offset="1" stop-color="#00d2ff"/></linearGradient><linearGradient id="g1170" href="#U" x1="210.7" y1="128.8" x2="210.8" y2="129.5"><stop stop-color="#00b5ff"/><stop offset="1" stop-color="#00d9ff"/></linearGradient><linearGradient id="g1171" href="#U" x1="102.0" y1="128.0" x2="101.9" y2="128.6"><stop stop-color="#00b8ff"/><stop offset="1" stop-color="#00dcff"/></linearGradient><linearGradient id="g1172" href="#U" x1="222.8" y1="128.0" x2="222.9" y2="128.8"><stop stop-color="#00bcff"/><stop offset="1" stop-color="#00dfff"/></linearGradient><linearGradient id="g1173" href="#U" x1="234.9" y1="127.2" x2="235.0" y2="127.9"><stop stop-color="#00c2ff"/><stop offset="1" stop-color="#00e6ff"/></linearGradient><linearGradient id="g1174" href="#U" x1="89.9" y1="126.6" x2="89.8" y2="127.1"><stop stop-color="#00c5ff"/><stop offset="1" stop-color="#00e8ff"/></linearGradient><linearGradient id="g1175" href="#U" x1="247.0" y1="126.4" x2="247.1" y2="127.1"><stop stop-color="#00c7ff"/><stop offset="1" stop-color="#00ebff"/></linearGradient><linearGradient id="g1176" href="#U" x1="259.2" y1="125.6" x2="259.2" y2="126.3"><stop stop-color="#00ccff"/><stop offset="1" stop-color="#00f0ff"/></linearGradient><linearGradient id="g1177" href="#U" x1="271.3" y1="124.8" x2="271.3" y2="125.5"><stop stop-color="#00d0ff"/><stop offset="1" stop-color="#00f6ff"/></linearGradient><linearGradient id="g1178" href="#U" x1="77.7" y1="125.1" x2="77.6" y2="125.6"><stop stop-color="#00d5ff"/><stop offset="1" stop-color="#00f7ff"/></linearGradient><linearGradient id="g1179" href="#U" x1="65.5" y1="123.6" x2="65.5" y2="124.1"><stop stop-color="#00e9ff"/><stop offset="0.85" stop-color="#00ffff"/><stop offset="1" stop-color="#00fffb"/></linearGradient><linearGradient id="g1180" href="#U" x1="156.4" y1="131.4" x2="156.4" y2="131.6"><stop stop-color="#00baff"/><stop offset="1" stop-color="#00d3ff"/></linearGradient><linearGradient id="g1181" href="#U" x1="144.3" y1="131.3" x2="144.3" y2="131.5"><stop stop-color="#00bfff"/><stop offset="1" stop-color="#00d3ff"/></linearGradient><linearGradient id="g1182" href="#U" x1="168.4" y1="131.3" x2="168.5" y2="131.5"><stop stop-color="#00baff"/><stop offset="1" stop-color="#00d6ff"/></linearGradient><linearGradient id="g1183" href="#U" x1="132.2" y1="130.9" x2="132.2" y2="131.1"><stop stop-color="#00caff"/><stop offset="1" stop-color="#00d6ff"/></linearGradient><linearGradient id="g1184" href="#U" x1="180.5" y1="130.9" x2="180.5" y2="131.2"><stop stop-color="#00beff"/><stop offset="1" stop-color="#00dbff"/></linearGradient><linearGradient id="g1185" href="#U" x1="192.6" y1="130.4" x2="192.6" y2="130.6"><stop stop-color="#00c3ff"/><stop offset="1" stop-color="#00e1ff"/></linearGradient><linearGradient id="g1186" href="#U" x1="120.0" y1="130.4" x2="120.1" y2="130.1"><stop stop-color="#00cfff"/><stop offset="1" stop-color="#00d9ff"/></linearGradient><linearGradient id="g1187" href="#U" x1="204.7" y1="129.7" x2="204.8" y2="129.9"><stop stop-color="#00caff"/><stop offset="1" stop-color="#00e7ff"/></linearGradient><linearGradient id="g1188" href="#U" x1="107.9" y1="129.2" x2="107.9" y2="129.0"><stop stop-color="#00d2ff"/><stop offset="1" stop-color="#00eeff"/></linearGradient><linearGradient id="g1189" href="#U" x1="216.9" y1="128.9" x2="216.9" y2="129.2"><stop stop-color="#00d1ff"/><stop offset="1" stop-color="#00eeff"/></linearGradient><linearGradient id="g1190" href="#U" x1="229.0" y1="128.1" x2="229.0" y2="128.4"><stop stop-color="#00d9ff"/><stop offset="1" stop-color="#00f4ff"/></linearGradient><linearGradient id="g1191" href="#U" x1="95.8" y1="127.9" x2="95.8" y2="127.5"><stop stop-color="#00dcff"/><stop offset="0.91" stop-color="#00ffff"/><stop offset="1" stop-color="#00fffb"/></linearGradient><linearGradient id="g1192" href="#U" x1="241.1" y1="127.3" x2="241.1" y2="127.6"><stop stop-color="#00dfff"/><stop offset="1" stop-color="#00faff"/></linearGradient><linearGradient id="g1193" href="#U" x1="253.2" y1="126.5" x2="253.2" y2="126.7"><stop stop-color="#00e5ff"/><stop offset="1" stop-color="#00ffff"/></linearGradient><linearGradient id="g1194" href="#U" x1="265.3" y1="125.7" x2="265.4" y2="125.9"><stop stop-color="#00eaff"/><stop offset="0.82" stop-color="#00ffff"/><stop offset="1" stop-color="#00fffa"/></linearGradient><linearGradient id="g1195" href="#U" x1="83.6" y1="126.3" x2="83.6" y2="125.9"><stop stop-color="#00eaff"/><stop offset="0.49" stop-color="#00ffff"/><stop offset="1" stop-color="#00ffe9"/></linearGradient><linearGradient id="g1196" href="#U" x1="71.4" y1="124.7" x2="71.5" y2="124.2"><stop stop-color="#00f9ff"/><stop offset="0.14" stop-color="#00ffff"/><stop offset="1" stop-color="#00ffd8"/></linearGradient><linearGradient id="g1197" href="#U" x1="150.3" y1="131.6" x2="150.3" y2="131.1"><stop stop-color="#00d1ff"/><stop offset="0.94" stop-color="#00ffff"/><stop offset="1" stop-color="#00fffc"/></linearGradient><linearGradient id="g1198" href="#U" x1="162.4" y1="131.6" x2="162.4" y2="131.2"><stop stop-color="#00d3ff"/><stop offset="0.93" stop-color="#00ffff"/><stop offset="1" stop-color="#00fffc"/></linearGradient><linearGradient id="g1199" href="#U" x1="138.2" y1="131.3" x2="138.2" y2="130.8"><stop stop-color="#00d2ff"/><stop offset="0.88" stop-color="#00ffff"/><stop offset="1" stop-color="#00fff9"/></linearGradient><linearGradient id="g1200" href="#U" x1="174.5" y1="131.4" x2="174.5" y2="130.9"><stop stop-color="#00d7ff"/><stop offset="0.88" stop-color="#00ffff"/><stop offset="1" stop-color="#00fff9"/></linearGradient><linearGradient id="g1201" href="#U" x1="186.6" y1="130.9" x2="186.6" y2="130.5"><stop stop-color="#00dcff"/><stop offset="0.77" stop-color="#00ffff"/><stop offset="1" stop-color="#00fff5"/></linearGradient><linearGradient id="g1202" href="#U" x1="126.0" y1="130.7" x2="126.1" y2="130.1"><stop stop-color="#00d7ff"/><stop offset="0.77" stop-color="#00ffff"/><stop offset="1" stop-color="#00fff3"/></linearGradient><linearGradient id="g1203" href="#U" x1="198.8" y1="130.3" x2="198.7" y2="129.9"><stop stop-color="#00e3ff"/><stop offset="0.64" stop-color="#00ffff"/><stop offset="1" stop-color="#00ffef"/></linearGradient><linearGradient id="g1204" href="#U" x1="113.9" y1="129.8" x2="113.9" y2="129.0"><stop stop-color="#00dfff"/><stop offset="0.60" stop-color="#00ffff"/><stop offset="1" stop-color="#00ffe9"/></linearGradient><linearGradient id="g1205" href="#U" x1="210.9" y1="129.5" x2="210.8" y2="129.1"><stop stop-color="#00eaff"/><stop offset="0.49" stop-color="#00ffff"/><stop offset="1" stop-color="#00ffe9"/></linearGradient><linearGradient id="g1206" href="#U" x1="223.0" y1="128.7" x2="223.0" y2="128.3"><stop stop-color="#00f1ff"/><stop offset="0.33" stop-color="#00ffff"/><stop offset="1" stop-color="#00ffe2"/></linearGradient><linearGradient id="g1207" href="#U" x1="101.7" y1="128.5" x2="101.8" y2="127.7"><stop stop-color="#00eaff"/><stop offset="0.39" stop-color="#00ffff"/><stop offset="1" stop-color="#00ffdd"/></linearGradient><linearGradient id="g1208" href="#U" x1="235.1" y1="127.9" x2="235.1" y2="127.5"><stop stop-color="#00f7ff"/><stop offset="0.18" stop-color="#00ffff"/><stop offset="1" stop-color="#00ffdc"/></linearGradient><linearGradient id="g1209" href="#U" x1="247.3" y1="127.1" x2="247.2" y2="126.7"><stop stop-color="#00fdff"/><stop offset="0.06" stop-color="#00ffff"/><stop offset="1" stop-color="#00ffd6"/></linearGradient><linearGradient id="g1210" href="#U" x1="89.5" y1="127.1" x2="89.6" y2="126.0"><stop stop-color="#00f7ff"/><stop offset="0.14" stop-color="#00ffff"/><stop offset="1" stop-color="#00ffce"/></linearGradient><linearGradient id="g1211" href="#U" x1="259.4" y1="126.3" x2="259.4" y2="125.9"><stop stop-color="#00fffd"/><stop offset="1" stop-color="#00ffd1"/></linearGradient><linearGradient id="g1212" href="#U" x1="77.3" y1="125.4" x2="77.5" y2="124.2"><stop stop-color="#00fff9"/><stop offset="1" stop-color="#00ffbe"/></linearGradient><linearGradient id="g1213" href="#U" x1="156.3" y1="131.6" x2="156.3" y2="130.4"><stop stop-color="#00e6ff"/><stop offset="0.43" stop-color="#00ffff"/><stop offset="1" stop-color="#00ffdd"/></linearGradient><linearGradient id="g1214" href="#U" x1="144.2" y1="131.4" x2="144.2" y2="130.2"><stop stop-color="#00e6ff"/><stop offset="0.41" stop-color="#00ffff"/><stop offset="1" stop-color="#00ffdb"/></linearGradient><linearGradient id="g1215" href="#U" x1="168.5" y1="131.5" x2="168.4" y2="130.4"><stop stop-color="#00e8ff"/><stop offset="0.40" stop-color="#00ffff"/><stop offset="1" stop-color="#00ffdc"/></linearGradient><linearGradient id="g1216" href="#U" x1="180.6" y1="131.1" x2="180.6" y2="130.0"><stop stop-color="#00ecff"/><stop offset="0.33" stop-color="#00ffff"/><stop offset="1" stop-color="#00ffd8"/></linearGradient><linearGradient id="g1217" href="#U" x1="132.0" y1="130.9" x2="132.1" y2="129.6"><stop stop-color="#00eaff"/><stop offset="0.34" stop-color="#00ffff"/><stop offset="1" stop-color="#00ffd6"/></linearGradient><linearGradient id="g1218" href="#U" x1="192.7" y1="130.5" x2="192.7" y2="129.5"><stop stop-color="#00f1ff"/><stop offset="0.24" stop-color="#00ffff"/><stop offset="1" stop-color="#00ffd3"/></linearGradient><linearGradient id="g1219" href="#U" x1="119.8" y1="130.1" x2="119.9" y2="128.7"><stop stop-color="#00f1ff"/><stop offset="0.22" stop-color="#00ffff"/><stop offset="1" stop-color="#00ffce"/></linearGradient><linearGradient id="g1220" href="#U" x1="204.9" y1="129.9" x2="204.8" y2="128.8"><stop stop-color="#00f8ff"/><stop offset="0.12" stop-color="#00ffff"/><stop offset="1" stop-color="#00ffcd"/></linearGradient><linearGradient id="g1221" href="#U" x1="217.0" y1="129.1" x2="217.0" y2="128.1"><stop stop-color="#00ffff"/><stop offset="0.00" stop-color="#00ffff"/><stop offset="1" stop-color="#00ffc6"/></linearGradient><linearGradient id="g1222" href="#U" x1="107.7" y1="128.9" x2="107.8" y2="127.4"><stop stop-color="#00fcff"/><stop offset="0.05" stop-color="#00ffff"/><stop offset="1" stop-color="#00ffc2"/></linearGradient><linearGradient id="g1223" href="#U" x1="229.2" y1="128.3" x2="229.1" y2="127.3"><stop stop-color="#00fff9"/><stop offset="1" stop-color="#00ffbf"/></linearGradient><linearGradient id="g1224" href="#U" x1="241.3" y1="127.5" x2="241.3" y2="126.5"><stop stop-color="#00fff3"/><stop offset="1" stop-color="#00ffba"/></linearGradient><linearGradient id="g1225" href="#U" x1="95.5" y1="127.5" x2="95.6" y2="125.8"><stop stop-color="#00fff5"/><stop offset="1" stop-color="#00ffb3"/></linearGradient><linearGradient id="g1226" href="#U" x1="253.5" y1="126.6" x2="253.4" y2="125.7"><stop stop-color="#00ffed"/><stop offset="1" stop-color="#00ffb4"/></linearGradient><linearGradient id="g1227" href="#U" x1="83.2" y1="125.9" x2="83.4" y2="124.0"><stop stop-color="#00ffe6"/><stop offset="1" stop-color="#00ffa2"/></linearGradient><linearGradient id="g1228" href="#U" x1="162.4" y1="131.2" x2="162.4" y2="129.4"><stop stop-color="#00fffd"/><stop offset="1" stop-color="#00ffba"/></linearGradient><linearGradient id="g1229" href="#U" x1="150.2" y1="131.1" x2="150.2" y2="129.3"><stop stop-color="#00fffd"/><stop offset="1" stop-color="#00ffb9"/></linearGradient><linearGradient id="g1230" href="#U" x1="174.6" y1="130.9" x2="174.5" y2="129.2"><stop stop-color="#00fffa"/><stop offset="1" stop-color="#00ffb8"/></linearGradient><linearGradient id="g1231" href="#U" x1="138.0" y1="130.8" x2="138.1" y2="128.8"><stop stop-color="#00fffa"/><stop offset="1" stop-color="#00ffb5"/></linearGradient><linearGradient id="g1232" href="#U" x1="186.7" y1="130.5" x2="186.7" y2="128.8"><stop stop-color="#00fff5"/><stop offset="1" stop-color="#00ffb3"/></linearGradient><linearGradient id="g1233" href="#U" x1="125.8" y1="130.0" x2="126.0" y2="128.0"><stop stop-color="#00fff4"/><stop offset="1" stop-color="#00ffae"/></linearGradient><linearGradient id="g1234" href="#U" x1="198.9" y1="129.8" x2="198.8" y2="128.2"><stop stop-color="#00ffef"/><stop offset="1" stop-color="#00ffae"/></linearGradient><linearGradient id="g1235" href="#U" x1="211.0" y1="129.1" x2="211.0" y2="127.5"><stop stop-color="#00ffe8"/><stop offset="1" stop-color="#00ffa7"/></linearGradient><linearGradient id="g1236" href="#U" x1="113.6" y1="129.0" x2="113.8" y2="126.9"><stop stop-color="#00ffea"/><stop offset="1" stop-color="#00ffa3"/></linearGradient><linearGradient id="g1237" href="#U" x1="223.2" y1="128.3" x2="223.1" y2="126.7"><stop stop-color="#00ffe2"/><stop offset="1" stop-color="#00ffa1"/></linearGradient><linearGradient id="g1238" href="#U" x1="235.4" y1="127.5" x2="235.3" y2="125.9"><stop stop-color="#00ffdb"/><stop offset="1" stop-color="#00ff9b"/></linearGradient><linearGradient id="g1239" href="#U" x1="101.4" y1="127.6" x2="101.6" y2="125.3"><stop stop-color="#00ffde"/><stop offset="1" stop-color="#00ff94"/></linearGradient><linearGradient id="g1240" href="#U" x1="247.5" y1="126.7" x2="247.4" y2="125.1"><stop stop-color="#00ffd6"/><stop offset="1" stop-color="#00ff95"/></linearGradient><linearGradient id="g1241" href="#U" x1="89.2" y1="126.0" x2="89.4" y2="123.5"><stop stop-color="#00ffcf"/><stop offset="1" stop-color="#00ff83"/></linearGradient><linearGradient id="g1242" href="#U" x1="156.3" y1="130.4" x2="156.3" y2="128.0"><stop stop-color="#00ffdd"/><stop offset="1" stop-color="#00ff93"/></linearGradient><linearGradient id="g1243" href="#U" x1="168.5" y1="130.4" x2="168.4" y2="128.0"><stop stop-color="#00ffdc"/><stop offset="1" stop-color="#00ff93"/></linearGradient><linearGradient id="g1244" href="#U" x1="144.1" y1="130.2" x2="144.1" y2="127.7"><stop stop-color="#00ffdc"/><stop offset="1" stop-color="#00ff91"/></linearGradient><linearGradient id="g1245" href="#U" x1="180.7" y1="130.0" x2="180.6" y2="127.7"><stop stop-color="#00ffd9"/><stop offset="1" stop-color="#00ff90"/></linearGradient><linearGradient id="g1246" href="#U" x1="131.9" y1="129.6" x2="132.0" y2="127.0"><stop stop-color="#00ffd7"/><stop offset="1" stop-color="#00ff8a"/></linearGradient><linearGradient id="g1247" href="#U" x1="192.8" y1="129.5" x2="192.8" y2="127.2"><stop stop-color="#00ffd3"/><stop offset="1" stop-color="#00ff8b"/></linearGradient><linearGradient id="g1248" href="#U" x1="205.0" y1="128.8" x2="204.9" y2="126.6"><stop stop-color="#00ffcd"/><stop offset="1" stop-color="#00ff85"/></linearGradient><linearGradient id="g1249" href="#U" x1="119.6" y1="128.7" x2="119.8" y2="125.9"><stop stop-color="#00ffce"/><stop offset="1" stop-color="#00ff80"/></linearGradient><linearGradient id="g1250" href="#U" x1="217.2" y1="128.1" x2="217.1" y2="125.8"><stop stop-color="#00ffc6"/><stop offset="1" stop-color="#00ff7f"/></linearGradient><linearGradient id="g1251" href="#U" x1="229.4" y1="127.3" x2="229.3" y2="125.0"><stop stop-color="#00ffc0"/><stop offset="1" stop-color="#00ff79"/></linearGradient><linearGradient id="g1252" href="#U" x1="107.4" y1="127.4" x2="107.6" y2="124.5"><stop stop-color="#00ffc2"/><stop offset="1" stop-color="#00ff72"/></linearGradient><linearGradient id="g1253" href="#U" x1="241.6" y1="126.4" x2="241.4" y2="124.3"><stop stop-color="#00ffba"/><stop offset="1" stop-color="#00ff73"/></linearGradient><linearGradient id="g1254" href="#U" x1="95.1" y1="125.8" x2="95.4" y2="122.7"><stop stop-color="#00ffb4"/><stop offset="1" stop-color="#00ff61"/></linearGradient><linearGradient id="g1255" href="#U" x1="162.4" y1="129.4" x2="162.4" y2="126.4"><stop stop-color="#00ffba"/><stop offset="1" stop-color="#00ff6a"/></linearGradient><linearGradient id="g1256" href="#U" x1="150.1" y1="129.3" x2="150.2" y2="126.2"><stop stop-color="#00ffba"/><stop offset="1" stop-color="#00ff68"/></linearGradient><linearGradient id="g1257" href="#U" x1="174.6" y1="129.2" x2="174.5" y2="126.2"><stop stop-color="#00ffb8"/><stop offset="1" stop-color="#00ff68"/></linearGradient><linearGradient id="g1258" href="#U" x1="186.8" y1="128.8" x2="186.7" y2="125.9"><stop stop-color="#00ffb4"/><stop offset="1" stop-color="#00ff64"/></linearGradient><linearGradient id="g1259" href="#U" x1="137.9" y1="128.8" x2="138.0" y2="125.6"><stop stop-color="#00ffb6"/><stop offset="1" stop-color="#00ff63"/></linearGradient><linearGradient id="g1260" href="#U" x1="199.0" y1="128.2" x2="198.9" y2="125.3"><stop stop-color="#00ffae"/><stop offset="1" stop-color="#00ff5f"/></linearGradient><linearGradient id="g1261" href="#U" x1="125.6" y1="128.0" x2="125.8" y2="124.7"><stop stop-color="#00ffae"/><stop offset="1" stop-color="#00ff5a"/></linearGradient><linearGradient id="g1262" href="#U" x1="211.2" y1="127.5" x2="211.1" y2="124.6"><stop stop-color="#00ffa8"/><stop offset="1" stop-color="#00ff59"/></linearGradient><linearGradient id="g1263" href="#U" x1="223.4" y1="126.7" x2="223.3" y2="123.9"><stop stop-color="#00ffa1"/><stop offset="1" stop-color="#00ff53"/></linearGradient><linearGradient id="g1264" href="#U" x1="113.4" y1="126.8" x2="113.6" y2="123.3"><stop stop-color="#00ffa3"/><stop offset="1" stop-color="#00ff4d"/></linearGradient><linearGradient id="g1265" href="#U" x1="235.6" y1="125.9" x2="235.5" y2="123.1"><stop stop-color="#00ff9b"/><stop offset="1" stop-color="#00ff4d"/></linearGradient><linearGradient id="g1266" href="#U" x1="101.1" y1="125.3" x2="101.4" y2="121.5"><stop stop-color="#00ff95"/><stop offset="1" stop-color="#00ff3c"/></linearGradient><linearGradient id="g1267" href="#U" x1="168.5" y1="128.0" x2="168.4" y2="124.4"><stop stop-color="#00ff93"/><stop offset="1" stop-color="#00ff3c"/></linearGradient><linearGradient id="g1268" href="#U" x1="156.2" y1="128.0" x2="156.3" y2="124.3"><stop stop-color="#00ff93"/><stop offset="1" stop-color="#00ff3c"/></linearGradient><linearGradient id="g1269" href="#U" x1="180.7" y1="127.7" x2="180.6" y2="124.1"><stop stop-color="#00ff90"/><stop offset="1" stop-color="#00ff3a"/></linearGradient><linearGradient id="g1270" href="#U" x1="144.0" y1="127.7" x2="144.1" y2="123.9"><stop stop-color="#00ff91"/><stop offset="1" stop-color="#00ff38"/></linearGradient><linearGradient id="g1271" href="#U" x1="192.9" y1="127.2" x2="192.8" y2="123.7"><stop stop-color="#00ff8b"/><stop offset="1" stop-color="#00ff36"/></linearGradient><linearGradient id="g1272" href="#U" x1="131.7" y1="127.0" x2="131.9" y2="123.0"><stop stop-color="#00ff8b"/><stop offset="1" stop-color="#00ff30"/></linearGradient><linearGradient id="g1273" href="#U" x1="205.2" y1="126.6" x2="205.0" y2="123.1"><stop stop-color="#00ff85"/><stop offset="1" stop-color="#00ff30"/></linearGradient><linearGradient id="g1274" href="#U" x1="217.4" y1="125.8" x2="217.2" y2="122.4"><stop stop-color="#00ff7f"/><stop offset="1" stop-color="#00ff2a"/></linearGradient><linearGradient id="g1275" href="#U" x1="119.4" y1="125.9" x2="119.6" y2="121.8"><stop stop-color="#00ff80"/><stop offset="1" stop-color="#00ff24"/></linearGradient><linearGradient id="g1276" href="#U" x1="229.6" y1="125.0" x2="229.5" y2="121.6"><stop stop-color="#00ff79"/><stop offset="1" stop-color="#00ff25"/></linearGradient><linearGradient id="g1277" href="#U" x1="107.1" y1="124.4" x2="107.4" y2="120.1"><stop stop-color="#00ff73"/><stop offset="1" stop-color="#00ff14"/></linearGradient><linearGradient id="g1278" href="#U" x1="162.3" y1="126.4" x2="162.3" y2="122.0"><stop stop-color="#00ff6a"/><stop offset="1" stop-color="#00ff0c"/></linearGradient><linearGradient id="g1279" href="#U" x1="174.6" y1="126.2" x2="174.6" y2="122.0"><stop stop-color="#00ff68"/><stop offset="1" stop-color="#00ff0c"/></linearGradient><linearGradient id="g1280" href="#U" x1="150.0" y1="126.2" x2="150.1" y2="121.8"><stop stop-color="#00ff68"/><stop offset="1" stop-color="#00ff0a"/></linearGradient><linearGradient id="g1281" href="#U" x1="186.9" y1="125.9" x2="186.8" y2="121.7"><stop stop-color="#00ff65"/><stop offset="1" stop-color="#00ff09"/></linearGradient><linearGradient id="g1282" href="#U" x1="137.7" y1="125.6" x2="137.9" y2="121.1"><stop stop-color="#00ff63"/><stop offset="1" stop-color="#00ff03"/></linearGradient><linearGradient id="g1283" href="#U" x1="199.1" y1="125.3" x2="199.0" y2="121.2"><stop stop-color="#00ff5f"/><stop offset="1" stop-color="#00ff04"/></linearGradient><linearGradient id="g1284" href="#U" x1="211.4" y1="124.6" x2="211.2" y2="120.5"><stop stop-color="#00ff59"/><stop offset="0.98" stop-color="#00ff00"/><stop offset="1" stop-color="#02ff00"/></linearGradient><linearGradient id="g1285" href="#U" x1="125.4" y1="124.6" x2="125.7" y2="120.0"><stop stop-color="#00ff5a"/><stop offset="0.92" stop-color="#00ff00"/><stop offset="1" stop-color="#08ff00"/></linearGradient><linearGradient id="g1286" href="#U" x1="223.6" y1="123.8" x2="223.4" y2="119.8"><stop stop-color="#00ff53"/><stop offset="0.92" stop-color="#00ff00"/><stop offset="1" stop-color="#07ff00"/></linearGradient><linearGradient id="g1287" href="#U" x1="113.1" y1="123.3" x2="113.4" y2="118.4"><stop stop-color="#00ff4d"/><stop offset="0.77" stop-color="#00ff00"/><stop offset="1" stop-color="#17ff00"/></linearGradient><linearGradient id="g1288" href="#U" x1="168.5" y1="124.4" x2="168.5" y2="119.5"><stop stop-color="#00ff3c"/><stop offset="0.61" stop-color="#00ff00"/><stop offset="1" stop-color="#27ff00"/></linearGradient><linearGradient id="g1289" href="#U" x1="156.2" y1="124.3" x2="156.2" y2="119.3"><stop stop-color="#00ff3c"/><stop offset="0.60" stop-color="#00ff00"/><stop offset="1" stop-color="#28ff00"/></linearGradient><linearGradient id="g1290" href="#U" x1="180.8" y1="124.1" x2="180.7" y2="119.3"><stop stop-color="#00ff3a"/><stop offset="0.59" stop-color="#00ff00"/><stop offset="1" stop-color="#28ff00"/></linearGradient><linearGradient id="g1291" href="#U" x1="143.8" y1="123.9" x2="144.0" y2="118.8"><stop stop-color="#00ff38"/><stop offset="0.55" stop-color="#00ff00"/><stop offset="1" stop-color="#2dff00"/></linearGradient><linearGradient id="g1292" href="#U" x1="193.0" y1="123.7" x2="192.9" y2="118.9"><stop stop-color="#00ff36"/><stop offset="0.55" stop-color="#00ff00"/><stop offset="1" stop-color="#2cff00"/></linearGradient><linearGradient id="g1293" href="#U" x1="205.3" y1="123.1" x2="205.2" y2="118.3"><stop stop-color="#00ff30"/><stop offset="0.50" stop-color="#00ff00"/><stop offset="1" stop-color="#31ff00"/></linearGradient><linearGradient id="g1294" href="#U" x1="131.5" y1="123.0" x2="131.7" y2="117.8"><stop stop-color="#00ff30"/><stop offset="0.47" stop-color="#00ff00"/><stop offset="1" stop-color="#37ff00"/></linearGradient><linearGradient id="g1295" href="#U" x1="217.6" y1="122.3" x2="217.4" y2="117.6"><stop stop-color="#00ff2a"/><stop offset="0.44" stop-color="#00ff00"/><stop offset="1" stop-color="#36ff00"/></linearGradient><linearGradient id="g1296" href="#U" x1="119.1" y1="121.8" x2="119.5" y2="116.3"><stop stop-color="#00ff25"/><stop offset="0.35" stop-color="#00ff00"/><stop offset="1" stop-color="#45ff00"/></linearGradient><linearGradient id="g1297" href="#U" x1="162.3" y1="122.0" x2="162.3" y2="116.5"><stop stop-color="#00ff0c"/><stop offset="0.12" stop-color="#00ff00"/><stop offset="1" stop-color="#5dff00"/></linearGradient><linearGradient id="g1298" href="#U" x1="174.6" y1="122.0" x2="174.6" y2="116.5"><stop stop-color="#00ff0c"/><stop offset="0.11" stop-color="#00ff00"/><stop offset="1" stop-color="#5dff00"/></linearGradient><linearGradient id="g1299" href="#U" x1="186.9" y1="121.7" x2="186.8" y2="116.3"><stop stop-color="#00ff09"/><stop offset="0.08" stop-color="#00ff00"/><stop offset="1" stop-color="#5fff00"/></linearGradient><linearGradient id="g1300" href="#U" x1="149.9" y1="121.8" x2="150.1" y2="116.1"><stop stop-color="#00ff0a"/><stop offset="0.09" stop-color="#00ff00"/><stop offset="1" stop-color="#61ff00"/></linearGradient><linearGradient id="g1301" href="#U" x1="199.2" y1="121.2" x2="199.1" y2="115.8"><stop stop-color="#00ff04"/><stop offset="0.04" stop-color="#00ff00"/><stop offset="1" stop-color="#64ff00"/></linearGradient><linearGradient id="g1302" href="#U" x1="137.6" y1="121.1" x2="137.8" y2="115.3"><stop stop-color="#00ff03"/><stop offset="0.03" stop-color="#00ff00"/><stop offset="1" stop-color="#69ff00"/></linearGradient><linearGradient id="g1303" href="#U" x1="211.5" y1="120.5" x2="211.4" y2="115.2"><stop stop-color="#02ff00"/><stop offset="1" stop-color="#69ff00"/></linearGradient><linearGradient id="g1304" href="#U" x1="125.2" y1="119.9" x2="125.5" y2="114.0"><stop stop-color="#07ff00"/><stop offset="1" stop-color="#76ff00"/></linearGradient><linearGradient id="g1305" href="#U" x1="168.4" y1="119.5" x2="168.4" y2="113.3"><stop stop-color="#27ff00"/><stop offset="1" stop-color="#95ff00"/></linearGradient><linearGradient id="g1306" href="#U" x1="180.8" y1="119.3" x2="180.7" y2="113.2"><stop stop-color="#28ff00"/><stop offset="1" stop-color="#96ff00"/></linearGradient><linearGradient id="g1307" href="#U" x1="156.1" y1="119.3" x2="156.2" y2="113.1"><stop stop-color="#28ff00"/><stop offset="1" stop-color="#98ff00"/></linearGradient><linearGradient id="g1308" href="#U" x1="193.1" y1="118.9" x2="193.0" y2="112.9"><stop stop-color="#2cff00"/><stop offset="1" stop-color="#99ff00"/></linearGradient><linearGradient id="g1309" href="#U" x1="143.7" y1="118.8" x2="143.9" y2="112.4"><stop stop-color="#2dff00"/><stop offset="1" stop-color="#9eff00"/></linearGradient><linearGradient id="g1310" href="#U" x1="205.5" y1="118.3" x2="205.3" y2="112.4"><stop stop-color="#31ff00"/><stop offset="1" stop-color="#9eff00"/></linearGradient><linearGradient id="g1311" href="#U" x1="131.3" y1="117.8" x2="131.6" y2="111.3"><stop stop-color="#37ff00"/><stop offset="1" stop-color="#aaff00"/></linearGradient><linearGradient id="g1312" href="#U" x1="174.6" y1="116.5" x2="174.6" y2="109.8"><stop stop-color="#5dff00"/><stop offset="1" stop-color="#d1ff00"/></linearGradient><linearGradient id="g1313" href="#U" x1="162.2" y1="116.5" x2="162.3" y2="109.7"><stop stop-color="#5dff00"/><stop offset="1" stop-color="#d2ff00"/></linearGradient><linearGradient id="g1314" href="#U" x1="187.0" y1="116.3" x2="186.9" y2="109.6"><stop stop-color="#5fff00"/><stop offset="1" stop-color="#d3ff00"/></linearGradient><linearGradient id="g1315" href="#U" x1="149.8" y1="116.1" x2="150.0" y2="109.2"><stop stop-color="#61ff00"/><stop offset="1" stop-color="#d7ff00"/></linearGradient><linearGradient id="g1316" href="#U" x1="199.4" y1="115.8" x2="199.2" y2="109.2"><stop stop-color="#63ff00"/><stop offset="1" stop-color="#d6ff00"/></linearGradient><linearGradient id="g1317" href="#U" x1="137.4" y1="115.3" x2="137.7" y2="108.2"><stop stop-color="#69ff00"/><stop offset="1" stop-color="#e0ff00"/></linearGradient><linearGradient id="g1318" href="#U" x1="168.4" y1="113.3" x2="168.5" y2="106.0"><stop stop-color="#95ff00"/><stop offset="0.87" stop-color="#ffff00"/><stop offset="1" stop-color="#ffef00"/></linearGradient><linearGradient id="g1319" href="#U" x1="180.8" y1="113.2" x2="180.8" y2="106.0"><stop stop-color="#96ff00"/><stop offset="0.87" stop-color="#ffff00"/><stop offset="1" stop-color="#ffef00"/></linearGradient><linearGradient id="g1320" href="#U" x1="156.0" y1="113.1" x2="156.1" y2="105.7"><stop stop-color="#98ff00"/><stop offset="0.84" stop-color="#ffff00"/><stop offset="1" stop-color="#ffeb00"/></linearGradient><linearGradient id="g1321" href="#U" x1="193.3" y1="112.9" x2="193.1" y2="105.7"><stop stop-color="#99ff00"/><stop offset="0.84" stop-color="#ffff00"/><stop offset="1" stop-color="#ffec00"/></linearGradient><linearGradient id="g1322" href="#U" x1="143.5" y1="112.4" x2="143.8" y2="104.9"><stop stop-color="#9eff00"/><stop offset="0.78" stop-color="#ffff00"/><stop offset="1" stop-color="#ffe400"/></linearGradient><linearGradient id="g1323" href="#U" x1="174.6" y1="109.8" x2="174.6" y2="102.0"><stop stop-color="#d1ff00"/><stop offset="0.37" stop-color="#ffff00"/><stop offset="1" stop-color="#ffaf00"/></linearGradient><linearGradient id="g1324" href="#U" x1="187.1" y1="109.6" x2="187.0" y2="101.8"><stop stop-color="#d3ff00"/><stop offset="0.35" stop-color="#ffff00"/><stop offset="1" stop-color="#ffad00"/></linearGradient><linearGradient id="g1325" href="#U" x1="162.2" y1="109.7" x2="162.3" y2="101.8"><stop stop-color="#d2ff00"/><stop offset="0.35" stop-color="#ffff00"/><stop offset="1" stop-color="#ffad00"/></linearGradient><linearGradient id="g1326" href="#U" x1="149.7" y1="109.2" x2="149.9" y2="101.2"><stop stop-color="#d7ff00"/><stop offset="0.31" stop-color="#ffff00"/><stop offset="1" stop-color="#ffa700"/></linearGradient><linearGradient id="g1327" href="#U" x1="180.9" y1="106.0" x2="180.8" y2="97.6"><stop stop-color="#ffef00"/><stop offset="1" stop-color="#ff6c00"/></linearGradient><linearGradient id="g1328" href="#U" x1="168.4" y1="106.0" x2="168.4" y2="97.6"><stop stop-color="#ffef00"/><stop offset="1" stop-color="#ff6b00"/></linearGradient><linearGradient id="g1329" href="#U" x1="155.9" y1="105.7" x2="156.1" y2="97.2"><stop stop-color="#ffec00"/><stop offset="1" stop-color="#ff6700"/></linearGradient><linearGradient id="g1330" href="#U" x1="174.7" y1="102.0" x2="174.7" y2="93.0"><stop stop-color="#ffaf00"/><stop offset="1" stop-color="#ff2700"/></linearGradient><linearGradient id="g1331" href="#U" x1="162.1" y1="101.8" x2="162.2" y2="92.8"><stop stop-color="#ffad00"/><stop offset="1" stop-color="#ff2400"/></linearGradient><linearGradient id="g1332" href="#U" x1="168.4" y1="97.6" x2="168.4" y2="88.0"><stop stop-color="#ff6b00"/><stop offset="1" stop-color="#ff0000"/></linearGradient></defs><g stroke="#1c1c1c" stroke-width="0.5" stroke-linejoin="round"><path d="M168.4 65.1L174.6 59.3L168.4 53.0L162.3 59.0Z" fill="url(#g988)"/><path d="M174.6 70.9L180.7 65.3L174.6 59.3L168.4 65.1Z" fill="url(#g989)"/><path d="M162.3 70.7L168.4 65.1L162.3 59.0L156.2 64.7Z" fill="url(#g990)"/><path d="M180.6 76.5L186.8 71.0L180.7 65.3L174.6 70.9Z" fill="url(#g991)"/><path d="M168.4 76.4L174.6 70.9L168.4 65.1L162.3 70.7Z" fill="url(#g992)"/><path d="M156.3 76.0L162.3 70.7L156.2 64.7L150.1 70.2Z" fill="url(#g993)"/><path d="M186.7 81.7L192.8 76.4L186.8 71.0L180.6 76.5Z" fill="url(#g994)"/><path d="M174.5 81.7L180.6 76.5L174.6 70.9L168.4 76.4Z" fill="url(#g995)"/><path d="M162.4 81.5L168.4 76.4L162.3 70.7L156.3 76.0Z" fill="url(#g996)"/><path d="M150.2 81.1L156.3 76.0L150.1 70.2L144.1 75.4Z" fill="url(#g997)"/><path d="M180.6 86.8L186.7 81.7L180.6 76.5L174.5 81.7Z" fill="url(#g998)"/><path d="M192.7 86.6L198.9 81.6L192.8 76.4L186.7 81.7Z" fill="url(#g999)"/><path d="M168.4 86.7L174.5 81.7L168.4 76.4L162.4 81.5Z" fill="url(#g1000)"/><path d="M156.3 86.5L162.4 81.5L156.3 76.0L150.2 81.1Z" fill="url(#g1001)"/><path d="M144.2 85.9L150.2 81.1L144.1 75.4L138.0 80.4Z" fill="url(#g1002)"/><path d="M186.6 91.5L192.7 86.6L186.7 81.7L180.6 86.8Z" fill="url(#g1003)"/><path d="M174.5 91.6L180.6 86.8L174.5 81.7L168.4 86.7Z" fill="url(#g1004)"/><path d="M198.8 91.3L204.9 86.4L198.9 81.6L192.7 86.6Z" fill="url(#g1005)"/><path d="M162.4 91.5L168.4 86.7L162.4 81.5L156.3 86.5Z" fill="url(#g1006)"/><path d="M150.3 91.1L156.3 86.5L150.2 81.1L144.2 85.9Z" fill="url(#g1007)"/><path d="M138.1 90.5L144.2 85.9L138.0 80.4L132.0 85.1Z" fill="url(#g1008)"/><path d="M180.6 96.1L186.6 91.5L180.6 86.8L174.5 91.6Z" fill="url(#g1009)"/><path d="M168.4 96.1L174.5 91.6L168.4 86.7L162.4 91.5Z" fill="url(#g1010)"/><path d="M192.7 95.9L198.8 91.3L192.7 86.6L186.6 91.5Z" fill="url(#g1011)"/><path d="M204.8 95.6L210.9 91.0L204.9 86.4L198.8 91.3Z" fill="url(#g1012)"/><path d="M156.3 96.0L162.4 91.5L156.3 86.5L150.3 91.1Z" fill="url(#g1013)"/><path d="M144.2 95.5L150.3 91.1L144.2 85.9L138.1 90.5Z" fill="url(#g1014)"/><path d="M132.1 94.8L138.1 90.5L132.0 85.1L126.0 89.5Z" fill="url(#g1015)"/><path d="M174.5 100.5L180.6 96.1L174.5 91.6L168.4 96.1Z" fill="url(#g1016)"/><path d="M162.4 100.5L168.4 96.1L162.4 91.5L156.3 96.0Z" fill="url(#g1017)"/><path d="M186.6 100.3L192.7 95.9L186.6 91.5L180.6 96.1Z" fill="url(#g1018)"/><path d="M198.7 100.0L204.8 95.6L198.8 91.3L192.7 95.9Z" fill="url(#g1019)"/><path d="M150.3 100.2L156.3 96.0L150.3 91.1L144.2 95.5Z" fill="url(#g1020)"/><path d="M210.8 99.7L216.9 95.4L210.9 91.0L204.8 95.6Z" fill="url(#g1021)"/><path d="M138.2 99.7L144.2 95.5L138.1 90.5L132.1 94.8Z" fill="url(#g1022)"/><path d="M126.1 98.8L132.1 94.8L126.0 89.5L120.0 93.7Z" fill="url(#g1023)"/><path d="M168.4 104.6L174.5 100.5L168.4 96.1L162.4 100.5Z" fill="url(#g1024)"/><path d="M180.5 104.4L186.6 100.3L180.6 96.1L174.5 100.5Z" fill="url(#g1025)"/><path d="M156.4 104.5L162.4 100.5L156.3 96.0L150.3 100.2Z" fill="url(#g1026)"/><path d="M192.6 104.2L198.7 100.0L192.7 95.9L186.6 100.3Z" fill="url(#g1027)"/><path d="M204.7 103.8L210.8 99.7L204.8 95.6L198.7 100.0Z" fill="url(#g1028)"/><path d="M144.3 104.1L150.3 100.2L144.2 95.5L138.2 99.7Z" fill="url(#g1029)"/><path d="M216.8 103.4L222.9 99.4L216.9 95.4L210.8 99.7Z" fill="url(#g1030)"/><path d="M132.2 103.5L138.2 99.7L132.1 94.8L126.1 98.8Z" fill="url(#g1031)"/><path d="M120.1 102.5L126.1 98.8L120.0 93.7L113.9 97.6Z" fill="url(#g1032)"/><path d="M162.4 108.4L168.4 104.6L162.4 100.5L156.4 104.5Z" fill="url(#g1033)"/><path d="M174.5 108.3L180.5 104.4L174.5 100.5L168.4 104.6Z" fill="url(#g1034)"/><path d="M150.3 108.2L156.4 104.5L150.3 100.2L144.3 104.1Z" fill="url(#g1035)"/><path d="M186.6 108.1L192.6 104.2L186.6 100.3L180.5 104.4Z" fill="url(#g1036)"/><path d="M198.7 107.7L204.7 103.8L198.7 100.0L192.6 104.2Z" fill="url(#g1037)"/><path d="M138.2 107.8L144.3 104.1L138.2 99.7L132.2 103.5Z" fill="url(#g1038)"/><path d="M210.7 107.3L216.8 103.4L210.8 99.7L204.7 103.8Z" fill="url(#g1039)"/><path d="M222.8 106.9L228.9 103.1L222.9 99.4L216.8 103.4Z" fill="url(#g1040)"/><path d="M126.2 107.0L132.2 103.5L126.1 98.8L120.1 102.5Z" fill="url(#g1041)"/><path d="M114.1 105.9L120.1 102.5L113.9 97.6L107.9 101.2Z" fill="url(#g1042)"/><path d="M168.4 111.9L174.5 108.3L168.4 104.6L162.4 108.4Z" fill="url(#g1043)"/><path d="M156.4 111.9L162.4 108.4L156.4 104.5L150.3 108.2Z" fill="url(#g1044)"/><path d="M180.5 111.7L186.6 108.1L180.5 104.4L174.5 108.3Z" fill="url(#g1045)"/><path d="M144.3 111.6L150.3 108.2L144.3 104.1L138.2 107.8Z" fill="url(#g1046)"/><path d="M192.6 111.4L198.7 107.7L192.6 104.2L186.6 108.1Z" fill="url(#g1047)"/><path d="M204.7 110.9L210.7 107.3L204.7 103.8L198.7 107.7Z" fill="url(#g1048)"/><path d="M132.2 111.1L138.2 107.8L132.2 103.5L126.2 107.0Z" fill="url(#g1049)"/><path d="M216.7 110.5L222.8 106.9L216.8 103.4L210.7 107.3Z" fill="url(#g1050)"/><path d="M228.8 110.0L234.9 106.5L228.9 103.1L222.8 106.9Z" fill="url(#g1051)"/><path d="M120.1 110.2L126.2 107.0L120.1 102.5L114.1 105.9Z" fill="url(#g1052)"/><path d="M108.0 109.0L114.1 105.9L107.9 101.2L101.9 104.5Z" fill="url(#g1053)"/><path d="M162.4 115.2L168.4 111.9L162.4 108.4L156.4 111.9Z" fill="url(#g1054)"/><path d="M150.4 115.1L156.4 111.9L150.3 108.2L144.3 111.6Z" fill="url(#g1055)"/><path d="M174.5 115.1L180.5 111.7L174.5 108.3L168.4 111.9Z" fill="url(#g1056)"/><path d="M186.5 114.8L192.6 111.4L186.6 108.1L180.5 111.7Z" fill="url(#g1057)"/><path d="M138.3 114.8L144.3 111.6L138.2 107.8L132.2 111.1Z" fill="url(#g1058)"/><path d="M198.6 114.3L204.7 110.9L198.7 107.7L192.6 111.4Z" fill="url(#g1059)"/><path d="M210.7 113.8L216.7 110.5L210.7 107.3L204.7 110.9Z" fill="url(#g1060)"/><path d="M126.2 114.1L132.2 111.1L126.2 107.0L120.1 110.2Z" fill="url(#g1061)"/><path d="M222.8 113.3L228.8 110.0L222.8 106.9L216.7 110.5Z" fill="url(#g1062)"/><path d="M234.8 112.8L240.9 109.6L234.9 106.5L228.8 110.0Z" fill="url(#g1063)"/><path d="M114.1 113.1L120.1 110.2L114.1 105.9L108.0 109.0Z" fill="url(#g1064)"/><path d="M102.0 111.9L108.0 109.0L101.9 104.5L95.9 107.6Z" fill="url(#g1065)"/><path d="M156.4 118.2L162.4 115.2L156.4 111.9L150.4 115.1Z" fill="url(#g1066)"/><path d="M168.4 118.2L174.5 115.1L168.4 111.9L162.4 115.2Z" fill="url(#g1067)"/><path d="M144.3 118.0L150.4 115.1L144.3 111.6L138.3 114.8Z" fill="url(#g1068)"/><path d="M180.5 117.9L186.5 114.8L180.5 111.7L174.5 115.1Z" fill="url(#g1069)"/><path d="M132.3 117.5L138.3 114.8L132.2 111.1L126.2 114.1Z" fill="url(#g1070)"/><path d="M192.6 117.5L198.6 114.3L192.6 111.4L186.5 114.8Z" fill="url(#g1071)"/><path d="M204.6 117.0L210.7 113.8L204.7 110.9L198.6 114.3Z" fill="url(#g1072)"/><path d="M120.2 116.8L126.2 114.1L120.1 110.2L114.1 113.1Z" fill="url(#g1073)"/><path d="M216.7 116.4L222.8 113.3L216.7 110.5L210.7 113.8Z" fill="url(#g1074)"/><path d="M228.8 115.9L234.8 112.8L228.8 110.0L222.8 113.3Z" fill="url(#g1075)"/><path d="M240.9 115.3L246.9 112.4L240.9 109.6L234.8 112.8Z" fill="url(#g1076)"/><path d="M108.1 115.7L114.1 113.1L108.0 109.0L102.0 111.9Z" fill="url(#g1077)"/><path d="M96.0 114.3L102.0 111.9L95.9 107.6L89.9 110.4Z" fill="url(#g1078)"/><path d="M162.4 120.9L168.4 118.2L162.4 115.2L156.4 118.2Z" fill="url(#g1079)"/><path d="M150.4 120.9L156.4 118.2L150.4 115.1L144.3 118.0Z" fill="url(#g1080)"/><path d="M174.5 120.7L180.5 117.9L174.5 115.1L168.4 118.2Z" fill="url(#g1081)"/><path d="M138.3 120.6L144.3 118.0L138.3 114.8L132.3 117.5Z" fill="url(#g1082)"/><path d="M186.5 120.4L192.6 117.5L186.5 114.8L180.5 117.9Z" fill="url(#g1083)"/><path d="M126.3 120.0L132.3 117.5L126.2 114.1L120.2 116.8Z" fill="url(#g1084)"/><path d="M198.6 119.9L204.6 117.0L198.6 114.3L192.6 117.5Z" fill="url(#g1085)"/><path d="M210.7 119.3L216.7 116.4L210.7 113.8L204.6 117.0Z" fill="url(#g1086)"/><path d="M114.2 119.1L120.2 116.8L114.1 113.1L108.1 115.7Z" fill="url(#g1087)"/><path d="M222.7 118.7L228.8 115.9L222.8 113.3L216.7 116.4Z" fill="url(#g1088)"/><path d="M234.8 118.1L240.9 115.3L234.8 112.8L228.8 115.9Z" fill="url(#g1089)"/><path d="M246.9 117.5L252.9 114.8L246.9 112.4L240.9 115.3Z" fill="url(#g1090)"/><path d="M102.1 117.9L108.1 115.7L102.0 111.9L96.0 114.3Z" fill="url(#g1091)"/><path d="M90.0 116.5L96.0 114.3L89.9 110.4L83.9 112.8Z" fill="url(#g1092)"/><path d="M156.4 123.4L162.4 120.9L156.4 118.2L150.4 120.9Z" fill="url(#g1093)"/><path d="M144.3 123.2L150.4 120.9L144.3 118.0L138.3 120.6Z" fill="url(#g1094)"/><path d="M168.4 123.3L174.5 120.7L168.4 118.2L162.4 120.9Z" fill="#0089ff"/><path d="M180.5 122.9L186.5 120.4L180.5 117.9L174.5 120.7Z" fill="#008cff"/><path d="M132.3 122.8L138.3 120.6L132.3 117.5L126.3 120.0Z" fill="url(#g1095)"/><path d="M192.6 122.5L198.6 119.9L192.6 117.5L186.5 120.4Z" fill="#0091ff"/><path d="M120.2 122.1L126.3 120.0L120.2 116.8L114.2 119.1Z" fill="url(#g1096)"/><path d="M204.6 121.9L210.7 119.3L204.6 117.0L198.6 119.9Z" fill="#0096ff"/><path d="M216.7 121.3L222.7 118.7L216.7 116.4L210.7 119.3Z" fill="#009bff"/><path d="M108.2 121.1L114.2 119.1L108.1 115.7L102.1 117.9Z" fill="url(#g1097)"/><path d="M228.8 120.6L234.8 118.1L228.8 115.9L222.7 118.7Z" fill="#009fff"/><path d="M240.8 120.0L246.9 117.5L240.9 115.3L234.8 118.1Z" fill="#00a2ff"/><path d="M252.9 119.4L258.9 117.0L252.9 114.8L246.9 117.5Z" fill="#00a5ff"/><path d="M96.1 119.8L102.1 117.9L96.0 114.3L90.0 116.5Z" fill="url(#g1098)"/><path d="M84.0 118.4L90.0 116.5L83.9 112.8L77.9 115.0Z" fill="url(#g1099)"/><path d="M150.4 125.5L156.4 123.4L150.4 120.9L144.3 123.2Z" fill="#0083ff"/><path d="M162.4 125.5L168.4 123.3L162.4 120.9L156.4 123.4Z" fill="#0084ff"/><path d="M138.3 125.2L144.3 123.2L138.3 120.6L132.3 122.8Z" fill="#0085ff"/><path d="M174.5 125.2L180.5 122.9L174.5 120.7L168.4 123.3Z" fill="#0086ff"/><path d="M186.5 124.8L192.6 122.5L186.5 120.4L180.5 122.9Z" fill="#008aff"/><path d="M126.3 124.6L132.3 122.8L126.3 120.0L120.2 122.1Z" fill="#008aff"/><path d="M198.6 124.2L204.6 121.9L198.6 119.9L192.6 122.5Z" fill="#008fff"/><path d="M114.2 123.8L120.2 122.1L114.2 119.1L108.2 121.1Z" fill="#0092ff"/><path d="M210.7 123.6L216.7 121.3L210.7 119.3L204.6 121.9Z" fill="#0095ff"/><path d="M222.7 122.9L228.8 120.6L222.7 118.7L216.7 121.3Z" fill="#009aff"/><path d="M102.1 122.7L108.2 121.1L102.1 117.9L96.1 119.8Z" fill="#009dff"/><path d="M234.8 122.2L240.8 120.0L234.8 118.1L228.8 120.6Z" fill="#009eff"/><path d="M246.9 121.6L252.9 119.4L246.9 117.5L240.8 120.0Z" fill="#00a2ff"/><path d="M258.9 120.9L265.0 118.8L258.9 117.0L252.9 119.4Z" fill="#00a4ff"/><path d="M90.0 121.3L96.1 119.8L90.0 116.5L84.0 118.4Z" fill="url(#g1100)"/><path d="M77.9 119.9L84.0 118.4L77.9 115.0L71.8 116.9Z" fill="url(#g1101)"/><path d="M156.4 127.3L162.4 125.5L156.4 123.4L150.4 125.5Z" fill="#0082ff"/><path d="M144.3 127.2L150.4 125.5L144.3 123.2L138.3 125.2Z" fill="#0083ff"/><path d="M168.4 127.2L174.5 125.2L168.4 123.3L162.4 125.5Z" fill="#0084ff"/><path d="M132.3 126.8L138.3 125.2L132.3 122.8L126.3 124.6Z" fill="#0086ff"/><path d="M180.5 126.8L186.5 124.8L180.5 122.9L174.5 125.2Z" fill="#0087ff"/><path d="M120.2 126.1L126.3 124.6L120.2 122.1L114.2 123.8Z" fill="#008cff"/><path d="M192.6 126.3L198.6 124.2L192.6 122.5L186.5 124.8Z" fill="#008cff"/><path d="M204.6 125.7L210.7 123.6L204.6 121.9L198.6 124.2Z" fill="#0092ff"/><path d="M108.2 125.1L114.2 123.8L108.2 121.1L102.1 122.7Z" fill="#0095ff"/><path d="M216.7 125.0L222.7 122.9L216.7 121.3L210.7 123.6Z" fill="#0097ff"/><path d="M228.8 124.3L234.8 122.2L228.8 120.6L222.7 122.9Z" fill="#009dff"/><path d="M96.1 123.9L102.1 122.7L96.1 119.8L90.0 121.3Z" fill="#00a0ff"/><path d="M240.8 123.6L246.9 121.6L240.8 120.0L234.8 122.2Z" fill="#00a1ff"/><path d="M252.9 122.9L258.9 120.9L252.9 119.4L246.9 121.6Z" fill="#00a5ff"/><path d="M265.0 122.2L271.0 120.3L265.0 118.8L258.9 120.9Z" fill="#00a7ff"/><path d="M84.0 122.5L90.0 121.3L84.0 118.4L77.9 119.9Z" fill="#00adff"/><path d="M71.8 121.0L77.9 119.9L71.8 116.9L65.8 118.4Z" fill="#00baff"/><path d="M150.4 128.8L156.4 127.3L150.4 125.5L144.3 127.2Z" fill="#0085ff"/><path d="M162.4 128.8L168.4 127.2L162.4 125.5L156.4 127.3Z" fill="#0085ff"/><path d="M138.3 128.5L144.3 127.2L138.3 125.2L132.3 126.8Z" fill="#0086ff"/><path d="M174.5 128.5L180.5 126.8L174.5 125.2L168.4 127.2Z" fill="#0088ff"/><path d="M126.3 128.0L132.3 126.8L126.3 124.6L120.2 126.1Z" fill="#008bff"/><path d="M186.5 128.0L192.6 126.3L186.5 124.8L180.5 126.8Z" fill="#008dff"/><path d="M198.6 127.5L204.6 125.7L198.6 124.2L192.6 126.3Z" fill="#0092ff"/><path d="M114.2 127.1L120.2 126.1L114.2 123.8L108.2 125.1Z" fill="#0092ff"/><path d="M210.7 126.8L216.7 125.0L210.7 123.6L204.6 125.7Z" fill="#0098ff"/><path d="M102.1 126.0L108.2 125.1L102.1 122.7L96.1 123.9Z" fill="#009cff"/><path d="M222.7 126.0L228.8 124.3L222.7 122.9L216.7 125.0Z" fill="#009eff"/><path d="M234.8 125.3L240.8 123.6L234.8 122.2L228.8 124.3Z" fill="#00a3ff"/><path d="M246.9 124.6L252.9 122.9L246.9 121.6L240.8 123.6Z" fill="#00a8ff"/><path d="M90.0 124.7L96.1 123.9L90.0 121.3L84.0 122.5Z" fill="#00a8ff"/><path d="M259.0 123.8L265.0 122.2L258.9 120.9L252.9 122.9Z" fill="url(#g1102)"/><path d="M271.1 123.1L277.1 121.4L271.0 120.3L265.0 122.2Z" fill="url(#g1103)"/><path d="M77.9 123.3L84.0 122.5L77.9 119.9L71.8 121.0Z" fill="#00b5ff"/><path d="M65.8 121.8L71.8 121.0L65.8 118.4L59.7 119.7Z" fill="#00c1ff"/><path d="M156.4 130.0L162.4 128.8L156.4 127.3L150.4 128.8Z" fill="url(#g1104)"/><path d="M144.3 129.9L150.4 128.8L144.3 127.2L138.3 128.5Z" fill="url(#g1105)"/><path d="M168.4 129.9L174.5 128.5L168.4 127.2L162.4 128.8Z" fill="url(#g1106)"/><path d="M132.3 129.5L138.3 128.5L132.3 126.8L126.3 128.0Z" fill="url(#g1107)"/><path d="M180.5 129.5L186.5 128.0L180.5 126.8L174.5 128.5Z" fill="url(#g1108)"/><path d="M120.2 128.8L126.3 128.0L120.2 126.1L114.2 127.1Z" fill="url(#g1109)"/><path d="M192.6 128.9L198.6 127.5L192.6 126.3L186.5 128.0Z" fill="url(#g1110)"/><path d="M204.6 128.3L210.7 126.8L204.6 125.7L198.6 127.5Z" fill="url(#g1111)"/><path d="M108.1 127.8L114.2 127.1L108.2 125.1L102.1 126.0Z" fill="url(#g1112)"/><path d="M216.7 127.5L222.7 126.0L216.7 125.0L210.7 126.8Z" fill="url(#g1113)"/><path d="M96.0 126.5L102.1 126.0L96.1 123.9L90.0 124.7Z" fill="url(#g1114)"/><path d="M228.8 126.8L234.8 125.3L228.8 124.3L222.7 126.0Z" fill="url(#g1115)"/><path d="M240.9 126.0L246.9 124.6L240.8 123.6L234.8 125.3Z" fill="url(#g1116)"/><path d="M253.0 125.2L259.0 123.8L252.9 122.9L246.9 124.6Z" fill="url(#g1117)"/><path d="M83.9 125.1L90.0 124.7L84.0 122.5L77.9 123.3Z" fill="url(#g1118)"/><path d="M265.1 124.5L271.1 123.1L265.0 122.2L259.0 123.8Z" fill="url(#g1119)"/><path d="M277.2 123.7L283.2 122.2L277.1 121.4L271.1 123.1Z" fill="url(#g1120)"/><path d="M71.8 123.7L77.9 123.3L71.8 121.0L65.8 121.8Z" fill="url(#g1121)"/><path d="M59.7 122.3L65.8 121.8L59.7 119.7L53.7 120.6Z" fill="url(#g1122)"/><path d="M150.4 130.9L156.4 130.0L150.4 128.8L144.3 129.9Z" fill="url(#g1123)"/><path d="M162.4 130.8L168.4 129.9L162.4 128.8L156.4 130.0Z" fill="url(#g1124)"/><path d="M138.3 130.6L144.3 129.9L138.3 128.5L132.3 129.5Z" fill="url(#g1125)"/><path d="M174.5 130.6L180.5 129.5L174.5 128.5L168.4 129.9Z" fill="url(#g1126)"/><path d="M126.2 130.0L132.3 129.5L126.3 128.0L120.2 128.8Z" fill="url(#g1127)"/><path d="M186.6 130.1L192.6 128.9L186.5 128.0L180.5 129.5Z" fill="url(#g1128)"/><path d="M114.1 129.2L120.2 128.8L114.2 127.1L108.1 127.8Z" fill="url(#g1129)"/><path d="M198.6 129.5L204.6 128.3L198.6 127.5L192.6 128.9Z" fill="url(#g1130)"/><path d="M210.7 128.8L216.7 127.5L210.7 126.8L204.6 128.3Z" fill="url(#g1131)"/><path d="M102.0 128.0L108.1 127.8L102.1 126.0L96.0 126.5Z" fill="url(#g1132)"/><path d="M222.8 128.0L228.8 126.8L222.7 126.0L216.7 127.5Z" fill="url(#g1133)"/><path d="M234.9 127.2L240.9 126.0L234.8 125.3L228.8 126.8Z" fill="url(#g1134)"/><path d="M89.9 126.6L96.0 126.5L90.0 124.7L83.9 125.1Z" fill="url(#g1135)"/><path d="M247.0 126.4L253.0 125.2L246.9 124.6L240.9 126.0Z" fill="url(#g1136)"/><path d="M259.1 125.6L265.1 124.5L259.0 123.8L253.0 125.2Z" fill="url(#g1137)"/><path d="M271.2 124.8L277.2 123.7L271.1 123.1L265.1 124.5Z" fill="url(#g1138)"/><path d="M77.8 125.1L83.9 125.1L77.9 123.3L71.8 123.7Z" fill="url(#g1139)"/><path d="M283.3 123.9L289.3 122.7L283.2 122.2L277.2 123.7Z" fill="url(#g1140)"/><path d="M65.7 123.6L71.8 123.7L65.8 121.8L59.7 122.3Z" fill="url(#g1141)"/><path d="M53.5 122.4L59.7 122.3L53.7 120.6L47.5 121.2Z" fill="url(#g1142)"/><path d="M156.4 131.4L162.4 130.8L156.4 130.0L150.4 130.9Z" fill="url(#g1143)"/><path d="M144.3 131.3L150.4 130.9L144.3 129.9L138.3 130.6Z" fill="url(#g1144)"/><path d="M168.5 131.3L174.5 130.6L168.4 129.9L162.4 130.8Z" fill="url(#g1145)"/><path d="M132.2 130.9L138.3 130.6L132.3 129.5L126.2 130.0Z" fill="url(#g1146)"/><path d="M180.5 130.9L186.6 130.1L180.5 129.5L174.5 130.6Z" fill="url(#g1147)"/><path d="M120.1 130.1L126.2 130.0L120.2 128.8L114.1 129.2Z" fill="url(#g1148)"/><path d="M192.6 130.4L198.6 129.5L192.6 128.9L186.6 130.1Z" fill="url(#g1149)"/><path d="M204.7 129.7L210.7 128.8L204.6 128.3L198.6 129.5Z" fill="url(#g1150)"/><path d="M108.0 129.1L114.1 129.2L108.1 127.8L102.0 128.0Z" fill="url(#g1151)"/><path d="M216.8 128.9L222.8 128.0L216.7 127.5L210.7 128.8Z" fill="url(#g1152)"/><path d="M95.9 127.8L102.0 128.0L96.0 126.5L89.9 126.6Z" fill="url(#g1153)"/><path d="M228.9 128.1L234.9 127.2L228.8 126.8L222.8 128.0Z" fill="url(#g1154)"/><path d="M241.0 127.3L247.0 126.4L240.9 126.0L234.9 127.2Z" fill="url(#g1155)"/><path d="M253.1 126.5L259.1 125.6L253.0 125.2L247.0 126.4Z" fill="url(#g1156)"/><path d="M83.8 126.3L89.9 126.6L83.9 125.1L77.8 125.1Z" fill="url(#g1157)"/><path d="M265.2 125.7L271.2 124.8L265.1 124.5L259.1 125.6Z" fill="url(#g1158)"/><path d="M277.3 124.8L283.3 123.9L277.2 123.7L271.2 124.8Z" fill="url(#g1159)"/><path d="M71.7 124.7L77.8 125.1L71.8 123.7L65.7 123.6Z" fill="url(#g1160)"/><path d="M59.5 123.2L65.7 123.6L59.7 122.3L53.5 122.4Z" fill="url(#g1161)"/><path d="M150.3 131.6L156.4 131.4L150.4 130.9L144.3 131.3Z" fill="url(#g1162)"/><path d="M162.4 131.6L168.5 131.3L162.4 130.8L156.4 131.4Z" fill="url(#g1163)"/><path d="M138.2 131.3L144.3 131.3L138.3 130.6L132.2 130.9Z" fill="url(#g1164)"/><path d="M174.5 131.4L180.5 130.9L174.5 130.6L168.5 131.3Z" fill="url(#g1165)"/><path d="M126.2 130.7L132.2 130.9L126.2 130.0L120.1 130.1Z" fill="url(#g1166)"/><path d="M186.6 130.9L192.6 130.4L186.6 130.1L180.5 130.9Z" fill="url(#g1167)"/><path d="M198.7 130.3L204.7 129.7L198.6 129.5L192.6 130.4Z" fill="url(#g1168)"/><path d="M114.1 129.8L120.1 130.1L114.1 129.2L108.0 129.1Z" fill="url(#g1169)"/><path d="M210.8 129.5L216.8 128.9L210.7 128.8L204.7 129.7Z" fill="url(#g1170)"/><path d="M101.9 128.6L108.0 129.1L102.0 128.0L95.9 127.8Z" fill="url(#g1171)"/><path d="M222.9 128.8L228.9 128.1L222.8 128.0L216.8 128.9Z" fill="url(#g1172)"/><path d="M235.0 127.9L241.0 127.3L234.9 127.2L228.9 128.1Z" fill="url(#g1173)"/><path d="M89.8 127.1L95.9 127.8L89.9 126.6L83.8 126.3Z" fill="url(#g1174)"/><path d="M247.1 127.1L253.1 126.5L247.0 126.4L241.0 127.3Z" fill="url(#g1175)"/><path d="M259.2 126.3L265.2 125.7L259.1 125.6L253.1 126.5Z" fill="url(#g1176)"/><path d="M271.3 125.5L277.3 124.8L271.2 124.8L265.2 125.7Z" fill="url(#g1177)"/><path d="M77.7 125.5L83.8 126.3L77.8 125.1L71.7 124.7Z" fill="url(#g1178)"/><path d="M65.5 123.9L71.7 124.7L65.7 123.6L59.5 123.2Z" fill="url(#g1179)"/><path d="M156.4 131.6L162.4 131.6L156.4 131.4L150.3 131.6Z" fill="url(#g1180)"/><path d="M144.3 131.4L150.3 131.6L144.3 131.3L138.2 131.3Z" fill="url(#g1181)"/><path d="M168.4 131.5L174.5 131.4L168.5 131.3L162.4 131.6Z" fill="url(#g1182)"/><path d="M132.2 130.9L138.2 131.3L132.2 130.9L126.2 130.7Z" fill="url(#g1183)"/><path d="M180.5 131.1L186.6 130.9L180.5 130.9L174.5 131.4Z" fill="url(#g1184)"/><path d="M192.6 130.6L198.7 130.3L192.6 130.4L186.6 130.9Z" fill="url(#g1185)"/><path d="M120.1 130.1L126.2 130.7L120.1 130.1L114.1 129.8Z" fill="url(#g1186)"/><path d="M204.8 129.9L210.8 129.5L204.7 129.7L198.7 130.3Z" fill="url(#g1187)"/><path d="M107.9 129.0L114.1 129.8L108.0 129.1L101.9 128.6Z" fill="url(#g1188)"/><path d="M216.9 129.1L222.9 128.8L216.8 128.9L210.8 129.5Z" fill="url(#g1189)"/><path d="M229.0 128.3L235.0 127.9L228.9 128.1L222.9 128.8Z" fill="url(#g1190)"/><path d="M95.8 127.5L101.9 128.6L95.9 127.8L89.8 127.1Z" fill="url(#g1191)"/><path d="M241.1 127.5L247.1 127.1L241.0 127.3L235.0 127.9Z" fill="url(#g1192)"/><path d="M253.2 126.7L259.2 126.3L253.1 126.5L247.1 127.1Z" fill="url(#g1193)"/><path d="M265.4 125.8L271.3 125.5L265.2 125.7L259.2 126.3Z" fill="url(#g1194)"/><path d="M83.6 125.9L89.8 127.1L83.8 126.3L77.7 125.5Z" fill="url(#g1195)"/><path d="M71.5 124.2L77.7 125.5L71.7 124.7L65.5 123.9Z" fill="url(#g1196)"/><path d="M150.3 131.1L156.4 131.6L150.3 131.6L144.3 131.4Z" fill="url(#g1197)"/><path d="M162.4 131.2L168.4 131.5L162.4 131.6L156.4 131.6Z" fill="url(#g1198)"/><path d="M138.2 130.8L144.3 131.4L138.2 131.3L132.2 130.9Z" fill="url(#g1199)"/><path d="M174.5 130.9L180.5 131.1L174.5 131.4L168.4 131.5Z" fill="url(#g1200)"/><path d="M186.6 130.5L192.6 130.6L186.6 130.9L180.5 131.1Z" fill="url(#g1201)"/><path d="M126.1 130.1L132.2 130.9L126.2 130.7L120.1 130.1Z" fill="url(#g1202)"/><path d="M198.7 129.9L204.8 129.9L198.7 130.3L192.6 130.6Z" fill="url(#g1203)"/><path d="M113.9 129.0L120.1 130.1L114.1 129.8L107.9 129.0Z" fill="url(#g1204)"/><path d="M210.8 129.1L216.9 129.1L210.8 129.5L204.8 129.9Z" fill="url(#g1205)"/><path d="M223.0 128.3L229.0 128.3L222.9 128.8L216.9 129.1Z" fill="url(#g1206)"/><path d="M101.8 127.7L107.9 129.0L101.9 128.6L95.8 127.5Z" fill="url(#g1207)"/><path d="M235.1 127.5L241.1 127.5L235.0 127.9L229.0 128.3Z" fill="url(#g1208)"/><path d="M247.2 126.7L253.2 126.7L247.1 127.1L241.1 127.5Z" fill="url(#g1209)"/><path d="M89.6 126.0L95.8 127.5L89.8 127.1L83.6 125.9Z" fill="url(#g1210)"/><path d="M259.4 125.9L265.4 125.8L259.2 126.3L253.2 126.7Z" fill="url(#g1211)"/><path d="M77.5 124.2L83.6 125.9L77.7 125.5L71.5 124.2Z" fill="url(#g1212)"/><path d="M156.3 130.4L162.4 131.2L156.4 131.6L150.3 131.1Z" fill="url(#g1213)"/><path d="M144.2 130.2L150.3 131.1L144.3 131.4L138.2 130.8Z" fill="url(#g1214)"/><path d="M168.4 130.4L174.5 130.9L168.4 131.5L162.4 131.2Z" fill="url(#g1215)"/><path d="M180.6 130.0L186.6 130.5L180.5 131.1L174.5 130.9Z" fill="url(#g1216)"/><path d="M132.1 129.6L138.2 130.8L132.2 130.9L126.1 130.1Z" fill="url(#g1217)"/><path d="M192.7 129.5L198.7 129.9L192.6 130.6L186.6 130.5Z" fill="url(#g1218)"/><path d="M119.9 128.7L126.1 130.1L120.1 130.1L113.9 129.0Z" fill="url(#g1219)"/><path d="M204.8 128.8L210.8 129.1L204.8 129.9L198.7 129.9Z" fill="url(#g1220)"/><path d="M217.0 128.1L223.0 128.3L216.9 129.1L210.8 129.1Z" fill="url(#g1221)"/><path d="M107.8 127.4L113.9 129.0L107.9 129.0L101.8 127.7Z" fill="url(#g1222)"/><path d="M229.1 127.3L235.1 127.5L229.0 128.3L223.0 128.3Z" fill="url(#g1223)"/><path d="M241.3 126.5L247.2 126.7L241.1 127.5L235.1 127.5Z" fill="url(#g1224)"/><path d="M95.6 125.8L101.8 127.7L95.8 127.5L89.6 126.0Z" fill="url(#g1225)"/><path d="M253.4 125.7L259.4 125.9L253.2 126.7L247.2 126.7Z" fill="url(#g1226)"/><path d="M83.4 124.0L89.6 126.0L83.6 125.9L77.5 124.2Z" fill="url(#g1227)"/><path d="M162.4 129.4L168.4 130.4L162.4 131.2L156.3 130.4Z" fill="url(#g1228)"/><path d="M150.2 129.3L156.3 130.4L150.3 131.1L144.2 130.2Z" fill="url(#g1229)"/><path d="M174.5 129.2L180.6 130.0L174.5 130.9L168.4 130.4Z" fill="url(#g1230)"/><path d="M138.1 128.8L144.2 130.2L138.2 130.8L132.1 129.6Z" fill="url(#g1231)"/><path d="M186.7 128.8L192.7 129.5L186.6 130.5L180.6 130.0Z" fill="url(#g1232)"/><path d="M126.0 128.0L132.1 129.6L126.1 130.1L119.9 128.7Z" fill="url(#g1233)"/><path d="M198.8 128.2L204.8 128.8L198.7 129.9L192.7 129.5Z" fill="url(#g1234)"/><path d="M211.0 127.5L217.0 128.1L210.8 129.1L204.8 128.8Z" fill="url(#g1235)"/><path d="M113.8 126.9L119.9 128.7L113.9 129.0L107.8 127.4Z" fill="url(#g1236)"/><path d="M223.1 126.7L229.1 127.3L223.0 128.3L217.0 128.1Z" fill="url(#g1237)"/><path d="M235.3 125.9L241.3 126.5L235.1 127.5L229.1 127.3Z" fill="url(#g1238)"/><path d="M101.6 125.3L107.8 127.4L101.8 127.7L95.6 125.8Z" fill="url(#g1239)"/><path d="M247.4 125.1L253.4 125.7L247.2 126.7L241.3 126.5Z" fill="url(#g1240)"/><path d="M89.4 123.5L95.6 125.8L89.6 126.0L83.4 124.0Z" fill="url(#g1241)"/><path d="M156.3 128.0L162.4 129.4L156.3 130.4L150.2 129.3Z" fill="url(#g1242)"/><path d="M168.4 128.0L174.5 129.2L168.4 130.4L162.4 129.4Z" fill="url(#g1243)"/><path d="M144.1 127.7L150.2 129.3L144.2 130.2L138.1 128.8Z" fill="url(#g1244)"/><path d="M180.6 127.7L186.7 128.8L180.6 130.0L174.5 129.2Z" fill="url(#g1245)"/><path d="M132.0 127.0L138.1 128.8L132.1 129.6L126.0 128.0Z" fill="url(#g1246)"/><path d="M192.8 127.2L198.8 128.2L192.7 129.5L186.7 128.8Z" fill="url(#g1247)"/><path d="M204.9 126.6L211.0 127.5L204.8 128.8L198.8 128.2Z" fill="url(#g1248)"/><path d="M119.8 125.9L126.0 128.0L119.9 128.7L113.8 126.9Z" fill="url(#g1249)"/><path d="M217.1 125.8L223.1 126.7L217.0 128.1L211.0 127.5Z" fill="url(#g1250)"/><path d="M229.3 125.0L235.3 125.9L229.1 127.3L223.1 126.7Z" fill="url(#g1251)"/><path d="M107.6 124.5L113.8 126.9L107.8 127.4L101.6 125.3Z" fill="url(#g1252)"/><path d="M241.4 124.3L247.4 125.1L241.3 126.5L235.3 125.9Z" fill="url(#g1253)"/><path d="M95.4 122.7L101.6 125.3L95.6 125.8L89.4 123.5Z" fill="url(#g1254)"/><path d="M162.4 126.4L168.4 128.0L162.4 129.4L156.3 128.0Z" fill="url(#g1255)"/><path d="M150.2 126.2L156.3 128.0L150.2 129.3L144.1 127.7Z" fill="url(#g1256)"/><path d="M174.5 126.2L180.6 127.7L174.5 129.2L168.4 128.0Z" fill="url(#g1257)"/><path d="M186.7 125.9L192.8 127.2L186.7 128.8L180.6 127.7Z" fill="url(#g1258)"/><path d="M138.0 125.6L144.1 127.7L138.1 128.8L132.0 127.0Z" fill="url(#g1259)"/><path d="M198.9 125.3L204.9 126.6L198.8 128.2L192.8 127.2Z" fill="url(#g1260)"/><path d="M125.8 124.7L132.0 127.0L126.0 128.0L119.8 125.9Z" fill="url(#g1261)"/><path d="M211.1 124.6L217.1 125.8L211.0 127.5L204.9 126.6Z" fill="url(#g1262)"/><path d="M223.3 123.9L229.3 125.0L223.1 126.7L217.1 125.8Z" fill="url(#g1263)"/><path d="M113.6 123.3L119.8 125.9L113.8 126.9L107.6 124.5Z" fill="url(#g1264)"/><path d="M235.5 123.1L241.4 124.3L235.3 125.9L229.3 125.0Z" fill="url(#g1265)"/><path d="M101.4 121.5L107.6 124.5L101.6 125.3L95.4 122.7Z" fill="url(#g1266)"/><path d="M168.4 124.4L174.5 126.2L168.4 128.0L162.4 126.4Z" fill="url(#g1267)"/><path d="M156.3 124.3L162.4 126.4L156.3 128.0L150.2 126.2Z" fill="url(#g1268)"/><path d="M180.6 124.1L186.7 125.9L180.6 127.7L174.5 126.2Z" fill="url(#g1269)"/><path d="M144.1 123.9L150.2 126.2L144.1 127.7L138.0 125.6Z" fill="url(#g1270)"/><path d="M192.8 123.7L198.9 125.3L192.8 127.2L186.7 125.9Z" fill="url(#g1271)"/><path d="M131.9 123.0L138.0 125.6L132.0 127.0L125.8 124.7Z" fill="url(#g1272)"/><path d="M205.0 123.1L211.1 124.6L204.9 126.6L198.9 125.3Z" fill="url(#g1273)"/><path d="M217.2 122.4L223.3 123.9L217.1 125.8L211.1 124.6Z" fill="url(#g1274)"/><path d="M119.6 121.8L125.8 124.7L119.8 125.9L113.6 123.3Z" fill="url(#g1275)"/><path d="M229.5 121.6L235.5 123.1L229.3 125.0L223.3 123.9Z" fill="url(#g1276)"/><path d="M107.4 120.1L113.6 123.3L107.6 124.5L101.4 121.5Z" fill="url(#g1277)"/><path d="M162.3 122.0L168.4 124.4L162.4 126.4L156.3 124.3Z" fill="url(#g1278)"/><path d="M174.6 122.0L180.6 124.1L174.5 126.2L168.4 124.4Z" fill="url(#g1279)"/><path d="M150.1 121.8L156.3 124.3L150.2 126.2L144.1 123.9Z" fill="url(#g1280)"/><path d="M186.8 121.7L192.8 123.7L186.7 125.9L180.6 124.1Z" fill="url(#g1281)"/><path d="M137.9 121.1L144.1 123.9L138.0 125.6L131.9 123.0Z" fill="url(#g1282)"/><path d="M199.0 121.2L205.0 123.1L198.9 125.3L192.8 123.7Z" fill="url(#g1283)"/><path d="M211.2 120.5L217.2 122.4L211.1 124.6L205.0 123.1Z" fill="url(#g1284)"/><path d="M125.7 120.0L131.9 123.0L125.8 124.7L119.6 121.8Z" fill="url(#g1285)"/><path d="M223.4 119.8L229.5 121.6L223.3 123.9L217.2 122.4Z" fill="url(#g1286)"/><path d="M113.4 118.4L119.6 121.8L113.6 123.3L107.4 120.1Z" fill="url(#g1287)"/><path d="M168.5 119.5L174.6 122.0L168.4 124.4L162.3 122.0Z" fill="url(#g1288)"/><path d="M156.2 119.3L162.3 122.0L156.3 124.3L150.1 121.8Z" fill="url(#g1289)"/><path d="M180.7 119.3L186.8 121.7L180.6 124.1L174.6 122.0Z" fill="url(#g1290)"/><path d="M144.0 118.8L150.1 121.8L144.1 123.9L137.9 121.1Z" fill="url(#g1291)"/><path d="M192.9 118.9L199.0 121.2L192.8 123.7L186.8 121.7Z" fill="url(#g1292)"/><path d="M205.2 118.3L211.2 120.5L205.0 123.1L199.0 121.2Z" fill="url(#g1293)"/><path d="M131.7 117.8L137.9 121.1L131.9 123.0L125.7 120.0Z" fill="url(#g1294)"/><path d="M217.4 117.6L223.4 119.8L217.2 122.4L211.2 120.5Z" fill="url(#g1295)"/><path d="M119.5 116.3L125.7 120.0L119.6 121.8L113.4 118.4Z" fill="url(#g1296)"/><path d="M162.3 116.5L168.5 119.5L162.3 122.0L156.2 119.3Z" fill="url(#g1297)"/><path d="M174.6 116.5L180.7 119.3L174.6 122.0L168.5 119.5Z" fill="url(#g1298)"/><path d="M186.8 116.3L192.9 118.9L186.8 121.7L180.7 119.3Z" fill="url(#g1299)"/><path d="M150.1 116.1L156.2 119.3L150.1 121.8L144.0 118.8Z" fill="url(#g1300)"/><path d="M199.1 115.8L205.2 118.3L199.0 121.2L192.9 118.9Z" fill="url(#g1301)"/><path d="M137.8 115.3L144.0 118.8L137.9 121.1L131.7 117.8Z" fill="url(#g1302)"/><path d="M211.4 115.2L217.4 117.6L211.2 120.5L205.2 118.3Z" fill="url(#g1303)"/><path d="M125.5 114.0L131.7 117.8L125.7 120.0L119.5 116.3Z" fill="url(#g1304)"/><path d="M168.4 113.3L174.6 116.5L168.5 119.5L162.3 116.5Z" fill="url(#g1305)"/><path d="M180.7 113.2L186.8 116.3L180.7 119.3L174.6 116.5Z" fill="url(#g1306)"/><path d="M156.2 113.1L162.3 116.5L156.2 119.3L150.1 116.1Z" fill="url(#g1307)"/><path d="M193.0 112.9L199.1 115.8L192.9 118.9L186.8 116.3Z" fill="url(#g1308)"/><path d="M143.9 112.4L150.1 116.1L144.0 118.8L137.8 115.3Z" fill="url(#g1309)"/><path d="M205.3 112.4L211.4 115.2L205.2 118.3L199.1 115.8Z" fill="url(#g1310)"/><path d="M131.6 111.3L137.8 115.3L131.7 117.8L125.5 114.0Z" fill="url(#g1311)"/><path d="M174.6 109.8L180.7 113.2L174.6 116.5L168.4 113.3Z" fill="url(#g1312)"/><path d="M162.3 109.7L168.4 113.3L162.3 116.5L156.2 113.1Z" fill="url(#g1313)"/><path d="M186.9 109.6L193.0 112.9L186.8 116.3L180.7 113.2Z" fill="url(#g1314)"/><path d="M150.0 109.2L156.2 113.1L150.1 116.1L143.9 112.4Z" fill="url(#g1315)"/><path d="M199.2 109.2L205.3 112.4L199.1 115.8L193.0 112.9Z" fill="url(#g1316)"/><path d="M137.7 108.2L143.9 112.4L137.8 115.3L131.6 111.3Z" fill="url(#g1317)"/><path d="M168.5 106.0L174.6 109.8L168.4 113.3L162.3 109.7Z" fill="url(#g1318)"/><path d="M180.8 106.0L186.9 109.6L180.7 113.2L174.6 109.8Z" fill="url(#g1319)"/><path d="M156.1 105.7L162.3 109.7L156.2 113.1L150.0 109.2Z" fill="url(#g1320)"/><path d="M193.1 105.7L199.2 109.2L193.0 112.9L186.9 109.6Z" fill="url(#g1321)"/><path d="M143.8 104.9L150.0 109.2L143.9 112.4L137.7 108.2Z" fill="url(#g1322)"/><path d="M174.6 102.0L180.8 106.0L174.6 109.8L168.5 106.0Z" fill="url(#g1323)"/><path d="M187.0 101.8L193.1 105.7L186.9 109.6L180.8 106.0Z" fill="url(#g1324)"/><path d="M162.3 101.8L168.5 106.0L162.3 109.7L156.1 105.7Z" fill="url(#g1325)"/><path d="M149.9 101.2L156.1 105.7L150.0 109.2L143.8 104.9Z" fill="url(#g1326)"/><path d="M180.8 97.6L187.0 101.8L180.8 106.0L174.6 102.0Z" fill="url(#g1327)"/><path d="M168.4 97.6L174.6 102.0L168.5 106.0L162.3 101.8Z" fill="url(#g1328)"/><path d="M156.1 97.2L162.3 101.8L156.1 105.7L149.9 101.2Z" fill="url(#g1329)"/><path d="M174.7 93.0L180.8 97.6L174.6 102.0L168.4 97.6Z" fill="url(#g1330)"/><path d="M162.2 92.8L168.4 97.6L162.3 101.8L156.1 97.2Z" fill="url(#g1331)"/><path d="M168.4 88.0L174.7 93.0L168.4 97.6L162.2 92.8Z" fill="url(#g1332)"/></g>
<path d="M168.3 47.6L168.3 53" stroke="#222" stroke-width="0.7"/><path d="M46.95 121.6L46.95 121" stroke="#222" stroke-width="0.7"/><path d="M289.3 122.2L289.3 122.8" stroke="#222" stroke-width="0.7"/><path d="M168.2 139.7L168.2 132.3" stroke="#222" stroke-width="0.7"/><circle cx="168.3" cy="47.6" r="2.4" fill="#b00000" stroke="#600" stroke-width="0.4"/><circle cx="168.3" cy="91.2" r="2.2" fill="#f7c8c8" stroke="#c08080" stroke-width="0.5"/><circle cx="46.95" cy="121.6" r="2.2" fill="#f7c8c8" stroke="#c08080" stroke-width="0.5"/><circle cx="289.3" cy="122.2" r="2.4" fill="#b00000" stroke="#600" stroke-width="0.4"/><circle cx="168.2" cy="132.3" r="2.2" fill="#f7c8c8" stroke="#c08080" stroke-width="0.5"/><circle cx="168.2" cy="139.7" r="2.2" fill="#f7c8c8" stroke="#c08080" stroke-width="0.5"/>
<g font-family="Liberation Sans, sans-serif" font-size="8.1" fill="#222" stroke="#222" stroke-width="0.2"><text x="44.56" y="142.3" text-anchor="end">0.5</text><text x="43.35" y="119" text-anchor="end">1</text><text x="42.14" y="95.7" text-anchor="end">1.5</text><text x="40.92" y="72.4" text-anchor="end">2</text><text x="39.71" y="49.1" text-anchor="end">2.5</text><text x="38.5" y="25.8" text-anchor="end">3</text><text x="173.05" y="243.3">140</text><text x="202.5" y="229.89">145</text><text x="231.95" y="216.48">150</text><text x="261.4" y="203.06">155</text><text x="290.85" y="189.65">160</text><text x="164.75" y="243.3" text-anchor="end">25</text><text x="141.19" y="232.57" text-anchor="end">27</text><text x="117.63" y="221.84" text-anchor="end">29</text><text x="94.07" y="211.11" text-anchor="end">31</text><text x="70.51" y="200.38" text-anchor="end">33</text><text x="46.95" y="189.65" text-anchor="end">35</text><text x="272.7" y="230.7" text-anchor="middle" font-size="8.8" textLength="86.6" lengthAdjust="spacingAndGlyphs">B: turning radius (mm)</text><text x="64.4" y="230.7" text-anchor="middle" font-size="8.8" textLength="90.2" lengthAdjust="spacingAndGlyphs">C: razor-sharp angle (°)</text><text transform="translate(7.7 106.8) rotate(-90)" text-anchor="middle" font-size="8.6" textLength="72.4" lengthAdjust="spacingAndGlyphs">Breakage rate% (%)</text></g>
</g>
<text x="532.35" y="563.5" text-anchor="middle" font-family="Liberation Serif, serif" font-size="22" fill="#000" stroke="#000" stroke-width="0.15">(d)</text>
</svg></body></html>
